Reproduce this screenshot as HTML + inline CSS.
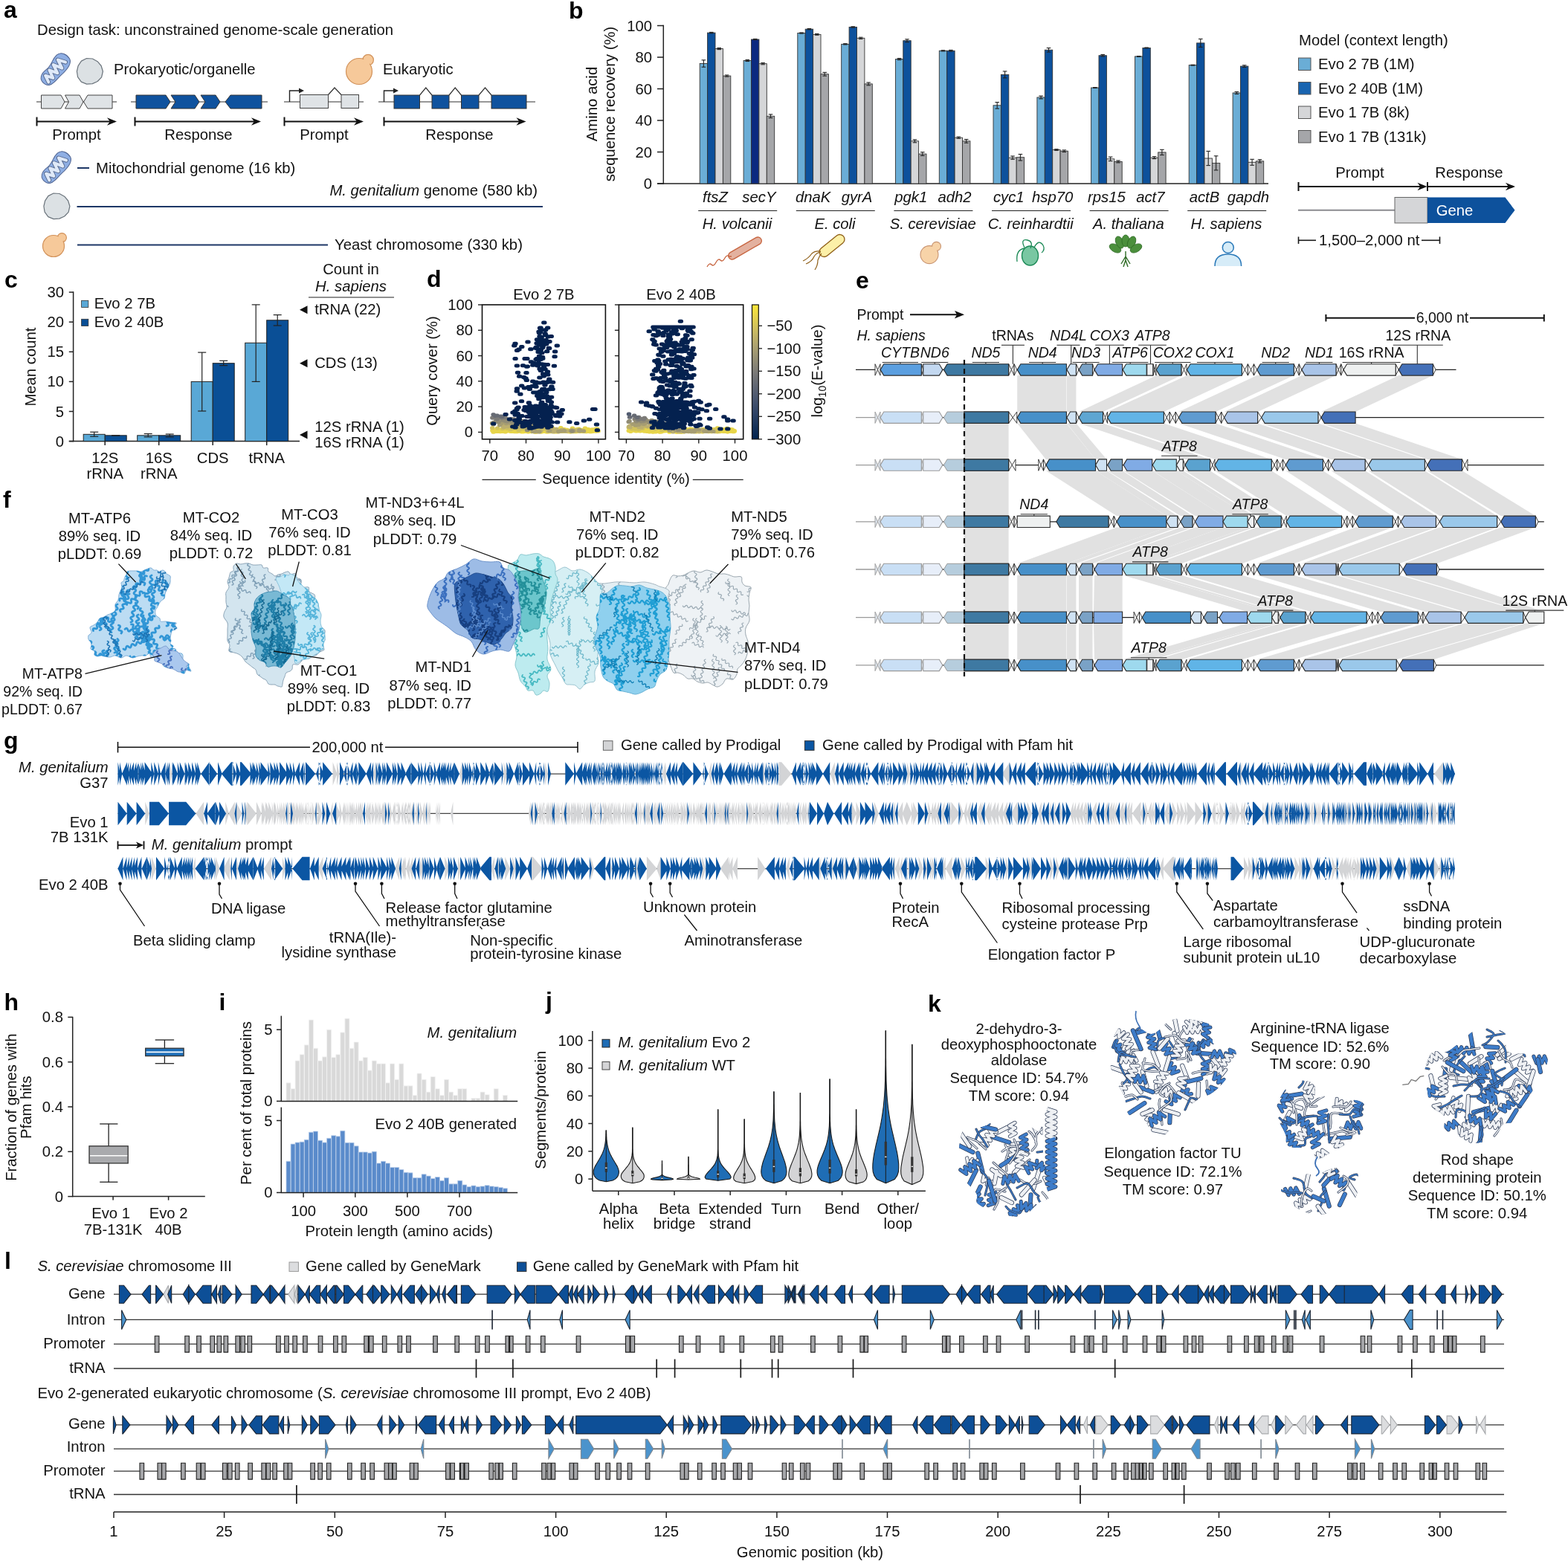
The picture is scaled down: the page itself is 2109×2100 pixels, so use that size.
<!DOCTYPE html>
<html><head><meta charset="utf-8"><title>Figure</title>
<style>html,body{margin:0;padding:0;background:#fff;overflow:hidden;}svg{display:block;}
</style></head>
<body><svg width="2109" height="2100" viewBox="0 0 2109 2100">
<rect width="2109" height="2100" fill="#fff"/>
<g font-family="'Liberation Sans', Arial, Helvetica, sans-serif" font-size="20.3" fill="#111">
<text x="5" y="24" font-size="32" font-weight="bold" fill="#000">a</text>
<text x="50" y="47">Design task: unconstrained genome-scale generation</text>
<g transform="translate(74 94) rotate(-48) scale(0.9)">
<path d="M-26,2 C-27,-9 -18,-12 -8,-10 C2,-8 8,-14 18,-13 C27,-12 29,-2 27,5 C24,13 10,13 0,12 C-10,11 -25,14 -26,2Z" fill="#8eaee3" stroke="#4f6390" stroke-width="1.1"/>
<path d="M-20,5 L-16,-5 L-11,6 L-6,-6 L-1,6 L4,-7 L9,6 L14,-7 L19,4" fill="none" stroke="#56698f" stroke-width="6.4" stroke-linejoin="round" stroke-linecap="round"/>
<path d="M-20,5 L-16,-5 L-11,6 L-6,-6 L-1,6 L4,-7 L9,6 L14,-7 L19,4" fill="none" stroke="#dfe9f8" stroke-width="4.4" stroke-linejoin="round" stroke-linecap="round"/>
</g>
<path d="M138.4,96 L136.6,103.8 L131.2,109.5 L124.3,112.6 L116.6,113.1 L109.3,110.1 L104.6,103.7 L103.4,96 L105.1,88.6 L109.4,82.1 L116.5,78.5 L124.4,79 L131.1,82.7 L136.1,88.5Z" fill="#dce1e4" stroke="#6b747c" stroke-width="1.2" stroke-linejoin="round"/>
<text x="153" y="100">Prokaryotic/organelle</text>
<circle cx="495.1" cy="80.7" r="7.3" fill="#f6c99a" stroke="#d2925a" stroke-width="1.2"/>
<circle cx="483" cy="96" r="17.5" fill="#f6c99a" stroke="#d2925a" stroke-width="1.2"/>
<circle cx="493.6" cy="82.2" r="5.2" fill="#f6c99a"/>
<text x="515" y="100">Eukaryotic</text>
<line x1="49" y1="137" x2="157" y2="137" stroke="#333" stroke-width="1.2"/>
<polygon points="55.5,128 82,128 87,137 82,146 55.5,146" fill="#dfe3e6" stroke="#444" stroke-width="1" stroke-linejoin="miter"/>
<polygon points="87.5,128 107,128 112,137 107,146 87.5,146 92.5,137" fill="#dfe3e6" stroke="#444" stroke-width="1" stroke-linejoin="miter"/>
<polygon points="151,128 118,128 112.5,137 118,146 151,146" fill="#dfe3e6" stroke="#444" stroke-width="1" stroke-linejoin="miter"/>
<line x1="176" y1="137" x2="360" y2="137" stroke="#333" stroke-width="1.2"/>
<polygon points="183,128 223,128 229,137 223,146 183,146" fill="#0f529e" stroke="#333" stroke-width="1" stroke-linejoin="miter"/>
<polygon points="230,128 262,128 268,137 262,146 230,146 236,137" fill="#0f529e" stroke="#333" stroke-width="1" stroke-linejoin="miter"/>
<polygon points="270,128 290,128 296,137 290,146 270,146 276,137" fill="#0f529e" stroke="#333" stroke-width="1" stroke-linejoin="miter"/>
<polygon points="352,128 310,128 303,137 310,146 352,146" fill="#0f529e" stroke="#333" stroke-width="1" stroke-linejoin="miter"/>
<line x1="49.5" y1="163.5" x2="149.2" y2="163.5" stroke="#111" stroke-width="2"/>
<polygon points="157,163.5 144,158.3 147.9,163.5 144,168.7" fill="#111"/>
<line x1="49.5" y1="157.5" x2="49.5" y2="169.5" stroke="#111" stroke-width="2"/>
<line x1="181.5" y1="163.5" x2="343.2" y2="163.5" stroke="#111" stroke-width="2"/>
<polygon points="351,163.5 338,158.3 341.9,163.5 338,168.7" fill="#111"/>
<line x1="181.5" y1="157.5" x2="181.5" y2="169.5" stroke="#111" stroke-width="2"/>
<text x="103" y="188" text-anchor="middle">Prompt</text>
<text x="267" y="188" text-anchor="middle">Response</text>
<line x1="382" y1="137" x2="489" y2="137" stroke="#333" stroke-width="1.2"/>
<path d="M389.5,137 V122 H403" fill="none" stroke="#222" stroke-width="1.4"/>
<polygon points="409,122 402,118.5 402,125.5" fill="#222"/>
<rect x="403.5" y="127.5" width="38" height="18" fill="#dfe3e6" stroke="#444" stroke-width="1"/>
<rect x="459" y="127.5" width="23.5" height="18" fill="#dfe3e6" stroke="#444" stroke-width="1"/>
<path d="M441.5,127.5 L450,118 L459,127.5" fill="none" stroke="#333" stroke-width="1.2"/>
<line x1="382.5" y1="163.5" x2="481.2" y2="163.5" stroke="#111" stroke-width="2"/>
<polygon points="489,163.5 476,158.3 479.9,163.5 476,168.7" fill="#111"/>
<line x1="382.5" y1="157.5" x2="382.5" y2="169.5" stroke="#111" stroke-width="2"/>
<text x="436" y="188" text-anchor="middle">Prompt</text>
<line x1="509" y1="137" x2="720" y2="137" stroke="#333" stroke-width="1.2"/>
<path d="M516.5,137 V122 H530" fill="none" stroke="#222" stroke-width="1.4"/>
<polygon points="536,122 529,118.5 529,125.5" fill="#222"/>
<rect x="530" y="128" width="34.5" height="18" fill="#0f529e" stroke="#333" stroke-width="1"/>
<rect x="581" y="128" width="23" height="18" fill="#0f529e" stroke="#333" stroke-width="1"/>
<rect x="620.5" y="128" width="23.5" height="18" fill="#0f529e" stroke="#333" stroke-width="1"/>
<rect x="661" y="128" width="47" height="18" fill="#0f529e" stroke="#333" stroke-width="1"/>
<path d="M564.5,128 L572.8,118 L581,128" fill="none" stroke="#333" stroke-width="1.2"/>
<path d="M604,128 L612.2,118 L620.5,128" fill="none" stroke="#333" stroke-width="1.2"/>
<path d="M644,128 L652.5,118 L661,128" fill="none" stroke="#333" stroke-width="1.2"/>
<line x1="516.5" y1="163.5" x2="699.7" y2="163.5" stroke="#111" stroke-width="2"/>
<polygon points="707.5,163.5 694.5,158.3 698.4,163.5 694.5,168.7" fill="#111"/>
<line x1="516.5" y1="157.5" x2="516.5" y2="169.5" stroke="#111" stroke-width="2"/>
<text x="618" y="188" text-anchor="middle">Response</text>
<g transform="translate(75 226) rotate(-48) scale(0.9)">
<path d="M-26,2 C-27,-9 -18,-12 -8,-10 C2,-8 8,-14 18,-13 C27,-12 29,-2 27,5 C24,13 10,13 0,12 C-10,11 -25,14 -26,2Z" fill="#8eaee3" stroke="#4f6390" stroke-width="1.1"/>
<path d="M-20,5 L-16,-5 L-11,6 L-6,-6 L-1,6 L4,-7 L9,6 L14,-7 L19,4" fill="none" stroke="#56698f" stroke-width="6.4" stroke-linejoin="round" stroke-linecap="round"/>
<path d="M-20,5 L-16,-5 L-11,6 L-6,-6 L-1,6 L4,-7 L9,6 L14,-7 L19,4" fill="none" stroke="#dfe9f8" stroke-width="4.4" stroke-linejoin="round" stroke-linecap="round"/>
</g>
<line x1="104" y1="226" x2="120" y2="226" stroke="#1d3766" stroke-width="2"/>
<text x="129" y="233">Mitochondrial genome (16 kb)</text>
<path d="M93.9,277.5 L92.1,285.3 L86.7,291 L79.8,294.1 L72.1,294.6 L64.8,291.6 L60.1,285.2 L58.9,277.5 L60.6,270.1 L64.9,263.6 L72,260 L79.9,260.5 L86.6,264.2 L91.6,270Z" fill="#dce1e4" stroke="#6b747c" stroke-width="1.2" stroke-linejoin="round"/>
<line x1="103.5" y1="278" x2="730" y2="278" stroke="#1d3766" stroke-width="2"/>
<text x="723" y="263" text-anchor="end"><tspan font-style="italic">M. genitalium</tspan> genome (580 kb)</text>
<circle cx="83.3" cy="319.7" r="6.1" fill="#f6c99a" stroke="#d2925a" stroke-width="1.2"/>
<circle cx="72" cy="331" r="14.5" fill="#f6c99a" stroke="#d2925a" stroke-width="1.2"/>
<circle cx="81.8" cy="321.2" r="4.3" fill="#f6c99a"/>
<line x1="104" y1="329.5" x2="441" y2="329.5" stroke="#1d3766" stroke-width="2"/>
<text x="450" y="336">Yeast chromosome (330 kb)</text>
<text x="765" y="25" font-size="32" font-weight="bold" fill="#000">b</text>
<line x1="892.3" y1="33.7" x2="892.3" y2="247.7" stroke="#222" stroke-width="1.5"/>
<line x1="884" y1="247" x2="1706" y2="247" stroke="#222" stroke-width="1.5"/>
<line x1="884" y1="247" x2="892.3" y2="247" stroke="#222" stroke-width="1.5"/>
<text x="877" y="254" text-anchor="end">0</text>
<line x1="884" y1="204.5" x2="892.3" y2="204.5" stroke="#222" stroke-width="1.5"/>
<text x="877" y="211.5" text-anchor="end">20</text>
<line x1="884" y1="162" x2="892.3" y2="162" stroke="#222" stroke-width="1.5"/>
<text x="877" y="169" text-anchor="end">40</text>
<line x1="884" y1="119.5" x2="892.3" y2="119.5" stroke="#222" stroke-width="1.5"/>
<text x="877" y="126.5" text-anchor="end">60</text>
<line x1="884" y1="77" x2="892.3" y2="77" stroke="#222" stroke-width="1.5"/>
<text x="877" y="84" text-anchor="end">80</text>
<line x1="884" y1="34.5" x2="892.3" y2="34.5" stroke="#222" stroke-width="1.5"/>
<text x="877" y="41.5" text-anchor="end">100</text>
<text x="803" y="140" text-anchor="middle" transform="rotate(-90 803 140)">Amino acid</text>
<text x="826.5" y="140" text-anchor="middle" transform="rotate(-90 826.5 140)">sequence recovery (%)</text>
<rect x="941.2" y="85.5" width="10.4" height="161.5" fill="#6aadd6" stroke="#333" stroke-width="0.9"/>
<line x1="946.4" y1="80.8" x2="946.4" y2="90.2" stroke="#222" stroke-width="1.1"/>
<line x1="943.6" y1="80.8" x2="949.2" y2="80.8" stroke="#222" stroke-width="1.1"/>
<line x1="943.6" y1="90.2" x2="949.2" y2="90.2" stroke="#222" stroke-width="1.1"/>
<rect x="951.6" y="44.1" width="10.4" height="202.9" fill="#0d519c" stroke="#333" stroke-width="0.9"/>
<line x1="956.8" y1="43.4" x2="956.8" y2="44.7" stroke="#222" stroke-width="1.1"/>
<line x1="954" y1="43.4" x2="959.6" y2="43.4" stroke="#222" stroke-width="1.1"/>
<line x1="954" y1="44.7" x2="959.6" y2="44.7" stroke="#222" stroke-width="1.1"/>
<rect x="962" y="65.5" width="10.4" height="181.5" fill="#d5d6d8" stroke="#333" stroke-width="0.9"/>
<line x1="967.2" y1="64.5" x2="967.2" y2="66.6" stroke="#222" stroke-width="1.1"/>
<line x1="964.4" y1="64.5" x2="970" y2="64.5" stroke="#222" stroke-width="1.1"/>
<line x1="964.4" y1="66.6" x2="970" y2="66.6" stroke="#222" stroke-width="1.1"/>
<rect x="972.4" y="102.1" width="10.4" height="144.9" fill="#a5a6a9" stroke="#333" stroke-width="0.9"/>
<line x1="977.6" y1="101" x2="977.6" y2="103.1" stroke="#222" stroke-width="1.1"/>
<line x1="974.8" y1="101" x2="980.4" y2="101" stroke="#222" stroke-width="1.1"/>
<line x1="974.8" y1="103.1" x2="980.4" y2="103.1" stroke="#222" stroke-width="1.1"/>
<text x="962" y="271.5" text-anchor="middle" font-style="italic">ftsZ</text>
<rect x="1000.1" y="81.5" width="10.4" height="165.5" fill="#6aadd6" stroke="#333" stroke-width="0.9"/>
<line x1="1005.3" y1="80.4" x2="1005.3" y2="82.5" stroke="#222" stroke-width="1.1"/>
<line x1="1002.5" y1="80.4" x2="1008.1" y2="80.4" stroke="#222" stroke-width="1.1"/>
<line x1="1002.5" y1="82.5" x2="1008.1" y2="82.5" stroke="#222" stroke-width="1.1"/>
<rect x="1010.5" y="53" width="10.4" height="194" fill="#0c2a80" stroke="#333" stroke-width="0.9"/>
<line x1="1015.7" y1="52.4" x2="1015.7" y2="53.6" stroke="#222" stroke-width="1.1"/>
<line x1="1012.9" y1="52.4" x2="1018.5" y2="52.4" stroke="#222" stroke-width="1.1"/>
<line x1="1012.9" y1="53.6" x2="1018.5" y2="53.6" stroke="#222" stroke-width="1.1"/>
<rect x="1020.9" y="85.7" width="10.4" height="161.3" fill="#d5d6d8" stroke="#333" stroke-width="0.9"/>
<line x1="1026.1" y1="84.6" x2="1026.1" y2="86.8" stroke="#222" stroke-width="1.1"/>
<line x1="1023.3" y1="84.6" x2="1028.9" y2="84.6" stroke="#222" stroke-width="1.1"/>
<line x1="1023.3" y1="86.8" x2="1028.9" y2="86.8" stroke="#222" stroke-width="1.1"/>
<rect x="1031.3" y="156.3" width="10.4" height="90.7" fill="#a5a6a9" stroke="#333" stroke-width="0.9"/>
<line x1="1036.5" y1="153.9" x2="1036.5" y2="158.6" stroke="#222" stroke-width="1.1"/>
<line x1="1033.7" y1="153.9" x2="1039.3" y2="153.9" stroke="#222" stroke-width="1.1"/>
<line x1="1033.7" y1="158.6" x2="1039.3" y2="158.6" stroke="#222" stroke-width="1.1"/>
<text x="1020.9" y="271.5" text-anchor="middle" font-style="italic">secY</text>
<rect x="1072.8" y="44.5" width="10.4" height="202.5" fill="#6aadd6" stroke="#333" stroke-width="0.9"/>
<line x1="1078" y1="43.9" x2="1078" y2="45.1" stroke="#222" stroke-width="1.1"/>
<line x1="1075.2" y1="43.9" x2="1080.8" y2="43.9" stroke="#222" stroke-width="1.1"/>
<line x1="1075.2" y1="45.1" x2="1080.8" y2="45.1" stroke="#222" stroke-width="1.1"/>
<rect x="1083.2" y="39.2" width="10.4" height="207.8" fill="#0d519c" stroke="#333" stroke-width="0.9"/>
<line x1="1088.4" y1="38.5" x2="1088.4" y2="39.8" stroke="#222" stroke-width="1.1"/>
<line x1="1085.6" y1="38.5" x2="1091.2" y2="38.5" stroke="#222" stroke-width="1.1"/>
<line x1="1085.6" y1="39.8" x2="1091.2" y2="39.8" stroke="#222" stroke-width="1.1"/>
<rect x="1093.6" y="46.4" width="10.4" height="200.6" fill="#d5d6d8" stroke="#333" stroke-width="0.9"/>
<line x1="1098.8" y1="45.5" x2="1098.8" y2="47.2" stroke="#222" stroke-width="1.1"/>
<line x1="1096" y1="45.5" x2="1101.6" y2="45.5" stroke="#222" stroke-width="1.1"/>
<line x1="1096" y1="47.2" x2="1101.6" y2="47.2" stroke="#222" stroke-width="1.1"/>
<rect x="1104" y="99.7" width="10.4" height="147.3" fill="#a5a6a9" stroke="#333" stroke-width="0.9"/>
<line x1="1109.2" y1="97.4" x2="1109.2" y2="102.1" stroke="#222" stroke-width="1.1"/>
<line x1="1106.4" y1="97.4" x2="1112" y2="97.4" stroke="#222" stroke-width="1.1"/>
<line x1="1106.4" y1="102.1" x2="1112" y2="102.1" stroke="#222" stroke-width="1.1"/>
<text x="1093.6" y="271.5" text-anchor="middle" font-style="italic">dnaK</text>
<rect x="1131.7" y="59.4" width="10.4" height="187.6" fill="#6aadd6" stroke="#333" stroke-width="0.9"/>
<line x1="1136.9" y1="58.7" x2="1136.9" y2="60" stroke="#222" stroke-width="1.1"/>
<line x1="1134.1" y1="58.7" x2="1139.7" y2="58.7" stroke="#222" stroke-width="1.1"/>
<line x1="1134.1" y1="60" x2="1139.7" y2="60" stroke="#222" stroke-width="1.1"/>
<rect x="1142.1" y="36.4" width="10.4" height="210.6" fill="#0d519c" stroke="#333" stroke-width="0.9"/>
<line x1="1147.3" y1="35.8" x2="1147.3" y2="37.1" stroke="#222" stroke-width="1.1"/>
<line x1="1144.5" y1="35.8" x2="1150.1" y2="35.8" stroke="#222" stroke-width="1.1"/>
<line x1="1144.5" y1="37.1" x2="1150.1" y2="37.1" stroke="#222" stroke-width="1.1"/>
<rect x="1152.5" y="51.3" width="10.4" height="195.7" fill="#d5d6d8" stroke="#333" stroke-width="0.9"/>
<line x1="1157.7" y1="50.2" x2="1157.7" y2="52.4" stroke="#222" stroke-width="1.1"/>
<line x1="1154.9" y1="50.2" x2="1160.5" y2="50.2" stroke="#222" stroke-width="1.1"/>
<line x1="1154.9" y1="52.4" x2="1160.5" y2="52.4" stroke="#222" stroke-width="1.1"/>
<rect x="1162.9" y="112.9" width="10.4" height="134.1" fill="#a5a6a9" stroke="#333" stroke-width="0.9"/>
<line x1="1168.1" y1="111" x2="1168.1" y2="114.8" stroke="#222" stroke-width="1.1"/>
<line x1="1165.3" y1="111" x2="1170.9" y2="111" stroke="#222" stroke-width="1.1"/>
<line x1="1165.3" y1="114.8" x2="1170.9" y2="114.8" stroke="#222" stroke-width="1.1"/>
<text x="1152.5" y="271.5" text-anchor="middle" font-style="italic">gyrA</text>
<rect x="1204.4" y="79.6" width="10.4" height="167.4" fill="#6aadd6" stroke="#333" stroke-width="0.9"/>
<line x1="1209.6" y1="78.5" x2="1209.6" y2="80.6" stroke="#222" stroke-width="1.1"/>
<line x1="1206.8" y1="78.5" x2="1212.4" y2="78.5" stroke="#222" stroke-width="1.1"/>
<line x1="1206.8" y1="80.6" x2="1212.4" y2="80.6" stroke="#222" stroke-width="1.1"/>
<rect x="1214.8" y="54.7" width="10.4" height="192.3" fill="#0d519c" stroke="#333" stroke-width="0.9"/>
<line x1="1220" y1="52.8" x2="1220" y2="56.6" stroke="#222" stroke-width="1.1"/>
<line x1="1217.2" y1="52.8" x2="1222.8" y2="52.8" stroke="#222" stroke-width="1.1"/>
<line x1="1217.2" y1="56.6" x2="1222.8" y2="56.6" stroke="#222" stroke-width="1.1"/>
<rect x="1225.2" y="189.8" width="10.4" height="57.2" fill="#d5d6d8" stroke="#333" stroke-width="0.9"/>
<line x1="1230.4" y1="187.9" x2="1230.4" y2="191.8" stroke="#222" stroke-width="1.1"/>
<line x1="1227.6" y1="187.9" x2="1233.2" y2="187.9" stroke="#222" stroke-width="1.1"/>
<line x1="1227.6" y1="191.8" x2="1233.2" y2="191.8" stroke="#222" stroke-width="1.1"/>
<rect x="1235.6" y="207.1" width="10.4" height="40" fill="#a5a6a9" stroke="#333" stroke-width="0.9"/>
<line x1="1240.8" y1="204.7" x2="1240.8" y2="209.4" stroke="#222" stroke-width="1.1"/>
<line x1="1238" y1="204.7" x2="1243.6" y2="204.7" stroke="#222" stroke-width="1.1"/>
<line x1="1238" y1="209.4" x2="1243.6" y2="209.4" stroke="#222" stroke-width="1.1"/>
<text x="1225.2" y="271.5" text-anchor="middle" font-style="italic">pgk1</text>
<rect x="1263.3" y="68.3" width="10.4" height="178.7" fill="#6aadd6" stroke="#333" stroke-width="0.9"/>
<line x1="1268.5" y1="67.7" x2="1268.5" y2="68.9" stroke="#222" stroke-width="1.1"/>
<line x1="1265.7" y1="67.7" x2="1271.3" y2="67.7" stroke="#222" stroke-width="1.1"/>
<line x1="1265.7" y1="68.9" x2="1271.3" y2="68.9" stroke="#222" stroke-width="1.1"/>
<rect x="1273.7" y="68.3" width="10.4" height="178.7" fill="#0d519c" stroke="#333" stroke-width="0.9"/>
<line x1="1278.9" y1="67.4" x2="1278.9" y2="69.1" stroke="#222" stroke-width="1.1"/>
<line x1="1276.1" y1="67.4" x2="1281.7" y2="67.4" stroke="#222" stroke-width="1.1"/>
<line x1="1276.1" y1="69.1" x2="1281.7" y2="69.1" stroke="#222" stroke-width="1.1"/>
<rect x="1284.1" y="185.2" width="10.4" height="61.8" fill="#d5d6d8" stroke="#333" stroke-width="0.9"/>
<line x1="1289.3" y1="184.1" x2="1289.3" y2="186.2" stroke="#222" stroke-width="1.1"/>
<line x1="1286.5" y1="184.1" x2="1292.1" y2="184.1" stroke="#222" stroke-width="1.1"/>
<line x1="1286.5" y1="186.2" x2="1292.1" y2="186.2" stroke="#222" stroke-width="1.1"/>
<rect x="1294.5" y="189.8" width="10.4" height="57.2" fill="#a5a6a9" stroke="#333" stroke-width="0.9"/>
<line x1="1299.7" y1="187.5" x2="1299.7" y2="192.2" stroke="#222" stroke-width="1.1"/>
<line x1="1296.9" y1="187.5" x2="1302.5" y2="187.5" stroke="#222" stroke-width="1.1"/>
<line x1="1296.9" y1="192.2" x2="1302.5" y2="192.2" stroke="#222" stroke-width="1.1"/>
<text x="1284.1" y="271.5" text-anchor="middle" font-style="italic">adh2</text>
<rect x="1336" y="141.8" width="10.4" height="105.2" fill="#6aadd6" stroke="#333" stroke-width="0.9"/>
<line x1="1341.2" y1="137.6" x2="1341.2" y2="146.1" stroke="#222" stroke-width="1.1"/>
<line x1="1338.4" y1="137.6" x2="1344" y2="137.6" stroke="#222" stroke-width="1.1"/>
<line x1="1338.4" y1="146.1" x2="1344" y2="146.1" stroke="#222" stroke-width="1.1"/>
<rect x="1346.4" y="100.4" width="10.4" height="146.6" fill="#0d519c" stroke="#333" stroke-width="0.9"/>
<line x1="1351.6" y1="95.9" x2="1351.6" y2="104.8" stroke="#222" stroke-width="1.1"/>
<line x1="1348.8" y1="95.9" x2="1354.4" y2="95.9" stroke="#222" stroke-width="1.1"/>
<line x1="1348.8" y1="104.8" x2="1354.4" y2="104.8" stroke="#222" stroke-width="1.1"/>
<rect x="1356.8" y="212.2" width="10.4" height="34.8" fill="#d5d6d8" stroke="#333" stroke-width="0.9"/>
<line x1="1362" y1="210" x2="1362" y2="214.3" stroke="#222" stroke-width="1.1"/>
<line x1="1359.2" y1="210" x2="1364.8" y2="210" stroke="#222" stroke-width="1.1"/>
<line x1="1359.2" y1="214.3" x2="1364.8" y2="214.3" stroke="#222" stroke-width="1.1"/>
<rect x="1367.2" y="211.7" width="10.4" height="35.3" fill="#a5a6a9" stroke="#333" stroke-width="0.9"/>
<line x1="1372.4" y1="207.5" x2="1372.4" y2="216" stroke="#222" stroke-width="1.1"/>
<line x1="1369.6" y1="207.5" x2="1375.2" y2="207.5" stroke="#222" stroke-width="1.1"/>
<line x1="1369.6" y1="216" x2="1375.2" y2="216" stroke="#222" stroke-width="1.1"/>
<text x="1356.8" y="271.5" text-anchor="middle" font-style="italic">cyc1</text>
<rect x="1394.9" y="131" width="10.4" height="116" fill="#6aadd6" stroke="#333" stroke-width="0.9"/>
<line x1="1400.1" y1="129.1" x2="1400.1" y2="132.9" stroke="#222" stroke-width="1.1"/>
<line x1="1397.3" y1="129.1" x2="1402.9" y2="129.1" stroke="#222" stroke-width="1.1"/>
<line x1="1397.3" y1="132.9" x2="1402.9" y2="132.9" stroke="#222" stroke-width="1.1"/>
<rect x="1405.3" y="67.2" width="10.4" height="179.8" fill="#0d519c" stroke="#333" stroke-width="0.9"/>
<line x1="1410.5" y1="64.5" x2="1410.5" y2="70" stroke="#222" stroke-width="1.1"/>
<line x1="1407.7" y1="64.5" x2="1413.3" y2="64.5" stroke="#222" stroke-width="1.1"/>
<line x1="1407.7" y1="70" x2="1413.3" y2="70" stroke="#222" stroke-width="1.1"/>
<rect x="1415.7" y="201.5" width="10.4" height="45.5" fill="#d5d6d8" stroke="#333" stroke-width="0.9"/>
<line x1="1420.9" y1="200.7" x2="1420.9" y2="202.4" stroke="#222" stroke-width="1.1"/>
<line x1="1418.1" y1="200.7" x2="1423.7" y2="200.7" stroke="#222" stroke-width="1.1"/>
<line x1="1418.1" y1="202.4" x2="1423.7" y2="202.4" stroke="#222" stroke-width="1.1"/>
<rect x="1426.1" y="203.2" width="10.4" height="43.8" fill="#a5a6a9" stroke="#333" stroke-width="0.9"/>
<line x1="1431.3" y1="201.9" x2="1431.3" y2="204.5" stroke="#222" stroke-width="1.1"/>
<line x1="1428.5" y1="201.9" x2="1434.1" y2="201.9" stroke="#222" stroke-width="1.1"/>
<line x1="1428.5" y1="204.5" x2="1434.1" y2="204.5" stroke="#222" stroke-width="1.1"/>
<text x="1415.7" y="271.5" text-anchor="middle" font-style="italic">hsp70</text>
<rect x="1467.6" y="118" width="10.4" height="129" fill="#6aadd6" stroke="#333" stroke-width="0.9"/>
<line x1="1472.8" y1="117.6" x2="1472.8" y2="118.4" stroke="#222" stroke-width="1.1"/>
<line x1="1470" y1="117.6" x2="1475.6" y2="117.6" stroke="#222" stroke-width="1.1"/>
<line x1="1470" y1="118.4" x2="1475.6" y2="118.4" stroke="#222" stroke-width="1.1"/>
<rect x="1478" y="74.7" width="10.4" height="172.3" fill="#0d519c" stroke="#333" stroke-width="0.9"/>
<line x1="1483.2" y1="73.4" x2="1483.2" y2="75.9" stroke="#222" stroke-width="1.1"/>
<line x1="1480.4" y1="73.4" x2="1486" y2="73.4" stroke="#222" stroke-width="1.1"/>
<line x1="1480.4" y1="75.9" x2="1486" y2="75.9" stroke="#222" stroke-width="1.1"/>
<rect x="1488.4" y="213.8" width="10.4" height="33.1" fill="#d5d6d8" stroke="#333" stroke-width="0.9"/>
<line x1="1493.6" y1="211.1" x2="1493.6" y2="216.6" stroke="#222" stroke-width="1.1"/>
<line x1="1490.8" y1="211.1" x2="1496.4" y2="211.1" stroke="#222" stroke-width="1.1"/>
<line x1="1490.8" y1="216.6" x2="1496.4" y2="216.6" stroke="#222" stroke-width="1.1"/>
<rect x="1498.8" y="217.5" width="10.4" height="29.5" fill="#a5a6a9" stroke="#333" stroke-width="0.9"/>
<line x1="1504" y1="216" x2="1504" y2="218.9" stroke="#222" stroke-width="1.1"/>
<line x1="1501.2" y1="216" x2="1506.8" y2="216" stroke="#222" stroke-width="1.1"/>
<line x1="1501.2" y1="218.9" x2="1506.8" y2="218.9" stroke="#222" stroke-width="1.1"/>
<text x="1488.4" y="271.5" text-anchor="middle" font-style="italic">rps15</text>
<rect x="1526.5" y="75.9" width="10.4" height="171.1" fill="#6aadd6" stroke="#333" stroke-width="0.9"/>
<line x1="1531.7" y1="75.5" x2="1531.7" y2="76.4" stroke="#222" stroke-width="1.1"/>
<line x1="1528.9" y1="75.5" x2="1534.5" y2="75.5" stroke="#222" stroke-width="1.1"/>
<line x1="1528.9" y1="76.4" x2="1534.5" y2="76.4" stroke="#222" stroke-width="1.1"/>
<rect x="1536.9" y="64.5" width="10.4" height="182.5" fill="#0d519c" stroke="#333" stroke-width="0.9"/>
<line x1="1542.1" y1="64" x2="1542.1" y2="64.9" stroke="#222" stroke-width="1.1"/>
<line x1="1539.3" y1="64" x2="1544.9" y2="64" stroke="#222" stroke-width="1.1"/>
<line x1="1539.3" y1="64.9" x2="1544.9" y2="64.9" stroke="#222" stroke-width="1.1"/>
<rect x="1547.3" y="212.2" width="10.4" height="34.8" fill="#d5d6d8" stroke="#333" stroke-width="0.9"/>
<line x1="1552.5" y1="210.7" x2="1552.5" y2="213.6" stroke="#222" stroke-width="1.1"/>
<line x1="1549.7" y1="210.7" x2="1555.3" y2="210.7" stroke="#222" stroke-width="1.1"/>
<line x1="1549.7" y1="213.6" x2="1555.3" y2="213.6" stroke="#222" stroke-width="1.1"/>
<rect x="1557.7" y="204.9" width="10.4" height="42.1" fill="#a5a6a9" stroke="#333" stroke-width="0.9"/>
<line x1="1562.9" y1="201.3" x2="1562.9" y2="208.5" stroke="#222" stroke-width="1.1"/>
<line x1="1560.1" y1="201.3" x2="1565.7" y2="201.3" stroke="#222" stroke-width="1.1"/>
<line x1="1560.1" y1="208.5" x2="1565.7" y2="208.5" stroke="#222" stroke-width="1.1"/>
<text x="1547.3" y="271.5" text-anchor="middle" font-style="italic">act7</text>
<rect x="1599.2" y="87.6" width="10.4" height="159.4" fill="#6aadd6" stroke="#333" stroke-width="0.9"/>
<line x1="1604.4" y1="87.2" x2="1604.4" y2="88.1" stroke="#222" stroke-width="1.1"/>
<line x1="1601.6" y1="87.2" x2="1607.2" y2="87.2" stroke="#222" stroke-width="1.1"/>
<line x1="1601.6" y1="88.1" x2="1607.2" y2="88.1" stroke="#222" stroke-width="1.1"/>
<rect x="1609.6" y="57.9" width="10.4" height="189.1" fill="#0d519c" stroke="#333" stroke-width="0.9"/>
<line x1="1614.8" y1="52.4" x2="1614.8" y2="63.4" stroke="#222" stroke-width="1.1"/>
<line x1="1612" y1="52.4" x2="1617.6" y2="52.4" stroke="#222" stroke-width="1.1"/>
<line x1="1612" y1="63.4" x2="1617.6" y2="63.4" stroke="#222" stroke-width="1.1"/>
<rect x="1620" y="213" width="10.4" height="34" fill="#d5d6d8" stroke="#333" stroke-width="0.9"/>
<line x1="1625.2" y1="203.4" x2="1625.2" y2="222.6" stroke="#222" stroke-width="1.1"/>
<line x1="1622.4" y1="203.4" x2="1628" y2="203.4" stroke="#222" stroke-width="1.1"/>
<line x1="1622.4" y1="222.6" x2="1628" y2="222.6" stroke="#222" stroke-width="1.1"/>
<rect x="1630.4" y="219.4" width="10.4" height="27.6" fill="#a5a6a9" stroke="#333" stroke-width="0.9"/>
<line x1="1635.6" y1="209.8" x2="1635.6" y2="228.9" stroke="#222" stroke-width="1.1"/>
<line x1="1632.8" y1="209.8" x2="1638.4" y2="209.8" stroke="#222" stroke-width="1.1"/>
<line x1="1632.8" y1="228.9" x2="1638.4" y2="228.9" stroke="#222" stroke-width="1.1"/>
<text x="1620" y="271.5" text-anchor="middle" font-style="italic">actB</text>
<rect x="1658.1" y="125" width="10.4" height="122" fill="#6aadd6" stroke="#333" stroke-width="0.9"/>
<line x1="1663.3" y1="123.5" x2="1663.3" y2="126.5" stroke="#222" stroke-width="1.1"/>
<line x1="1660.5" y1="123.5" x2="1666.1" y2="123.5" stroke="#222" stroke-width="1.1"/>
<line x1="1660.5" y1="126.5" x2="1666.1" y2="126.5" stroke="#222" stroke-width="1.1"/>
<rect x="1668.5" y="89.1" width="10.4" height="157.9" fill="#0d519c" stroke="#333" stroke-width="0.9"/>
<line x1="1673.7" y1="87.8" x2="1673.7" y2="90.4" stroke="#222" stroke-width="1.1"/>
<line x1="1670.9" y1="87.8" x2="1676.5" y2="87.8" stroke="#222" stroke-width="1.1"/>
<line x1="1670.9" y1="90.4" x2="1676.5" y2="90.4" stroke="#222" stroke-width="1.1"/>
<rect x="1678.9" y="218.3" width="10.4" height="28.7" fill="#d5d6d8" stroke="#333" stroke-width="0.9"/>
<line x1="1684.1" y1="214.3" x2="1684.1" y2="222.3" stroke="#222" stroke-width="1.1"/>
<line x1="1681.3" y1="214.3" x2="1686.9" y2="214.3" stroke="#222" stroke-width="1.1"/>
<line x1="1681.3" y1="222.3" x2="1686.9" y2="222.3" stroke="#222" stroke-width="1.1"/>
<rect x="1689.3" y="216.8" width="10.4" height="30.2" fill="#a5a6a9" stroke="#333" stroke-width="0.9"/>
<line x1="1694.5" y1="214.7" x2="1694.5" y2="218.9" stroke="#222" stroke-width="1.1"/>
<line x1="1691.7" y1="214.7" x2="1697.3" y2="214.7" stroke="#222" stroke-width="1.1"/>
<line x1="1691.7" y1="218.9" x2="1697.3" y2="218.9" stroke="#222" stroke-width="1.1"/>
<text x="1678.9" y="271.5" text-anchor="middle" font-style="italic">gapdh</text>
<line x1="939.2" y1="283.5" x2="1045.2" y2="283.5" stroke="#222" stroke-width="1.2"/>
<text x="991.5" y="307.8" text-anchor="middle" font-style="italic">H. volcanii</text>
<line x1="1070.8" y1="283.5" x2="1176.8" y2="283.5" stroke="#222" stroke-width="1.2"/>
<text x="1123" y="307.8" text-anchor="middle" font-style="italic">E. coli</text>
<line x1="1202.4" y1="283.5" x2="1308.4" y2="283.5" stroke="#222" stroke-width="1.2"/>
<text x="1254.7" y="307.8" text-anchor="middle" font-style="italic">S. cerevisiae</text>
<line x1="1334" y1="283.5" x2="1440" y2="283.5" stroke="#222" stroke-width="1.2"/>
<text x="1386.2" y="307.8" text-anchor="middle" font-style="italic">C. reinhardtii</text>
<line x1="1465.6" y1="283.5" x2="1571.6" y2="283.5" stroke="#222" stroke-width="1.2"/>
<text x="1517.8" y="307.8" text-anchor="middle" font-style="italic">A. thaliana</text>
<line x1="1597.2" y1="283.5" x2="1703.2" y2="283.5" stroke="#222" stroke-width="1.2"/>
<text x="1649.5" y="307.8" text-anchor="middle" font-style="italic">H. sapiens</text>
<g transform="translate(1002 334) rotate(-30)">
<rect x="-25" y="-5" width="50" height="10" rx="5" fill="#e3b19f" stroke="#c7643f" stroke-width="1.3"/>
</g>
<path d="M951,359 q3,-6 6,-3 q3,3 6,-3 q3,-6 6,-3 q3,3 6,-3 q3,-5 6,-2 l3,0" fill="none" stroke="#c7643f" stroke-width="1.3"/>
<g transform="translate(1119 330.5) rotate(-39)">
<rect x="-20" y="-6.5" width="40" height="13" rx="6.5" fill="#fcf0a8" stroke="#8f5f18" stroke-width="1.3"/>
</g>
<path d="M1104,338 q-8,-1 -12,3 q-5,7 -12,10 M1104,339 q-6,1 -9,6 q-3,7 -11,10 M1105,341 q-3,3 -5,9 q0,7 -4,13" fill="none" stroke="#8f5f18" stroke-width="1.2"/>
<circle cx="1259.5" cy="331.4" r="6" fill="#f7d3a8" stroke="#c99572" stroke-width="1.1"/>
<circle cx="1250" cy="342.6" r="12" fill="#f7d3a8" stroke="#c99572" stroke-width="1.1"/>
<circle cx="1257" cy="334.5" r="4.2" fill="#f7d3a8"/>
<ellipse cx="1385.5" cy="344" rx="11" ry="13" fill="#79c7a2" stroke="#1d8a57" stroke-width="1.4"/>
<path d="M1378,333 q-6,-12 4,-10 q8,2 4,11 M1391,333 q6,-12 12,-3 q3,6 -2,10 M1378,334 q-12,2 -10,18" fill="none" stroke="#1d8a57" stroke-width="1.3"/>
<ellipse cx="1500" cy="334" rx="8.5" ry="5" fill="#4b8f3c" stroke="#2e6b25" stroke-width="0.8" transform="rotate(-150 1500 334)"/>
<ellipse cx="1506" cy="326" rx="8.5" ry="5" fill="#4b8f3c" stroke="#2e6b25" stroke-width="0.8" transform="rotate(-115 1506 326)"/>
<ellipse cx="1514" cy="324" rx="8" ry="5" fill="#4b8f3c" stroke="#2e6b25" stroke-width="0.8" transform="rotate(-90 1514 324)"/>
<ellipse cx="1522" cy="326" rx="8.5" ry="5" fill="#4b8f3c" stroke="#2e6b25" stroke-width="0.8" transform="rotate(-65 1522 326)"/>
<ellipse cx="1528" cy="334" rx="8.5" ry="5" fill="#4b8f3c" stroke="#2e6b25" stroke-width="0.8" transform="rotate(-30 1528 334)"/>
<path d="M1514,338 v14 M1514,345 l-6,10 M1514,345 l6,10 M1514,350 l-3,9 M1514,350 l3,9" fill="none" stroke="#2e6b25" stroke-width="1.4"/>
<circle cx="1651.8" cy="333" r="7.5" fill="#d6ecf8" stroke="#2c7ab9" stroke-width="1.5"/>
<path d="M1634,358 q0,-16 17.8,-16 q17.8,0 17.8,16" fill="#d6ecf8" stroke="#2c7ab9" stroke-width="1.5"/>
<text x="1747" y="61">Model (context length)</text>
<rect x="1746.5" y="78" width="16.5" height="16.5" fill="#6aadd6" stroke="#555" stroke-width="1"/>
<text x="1773" y="93">Evo 2 7B (1M)</text>
<rect x="1746.5" y="110.5" width="16.5" height="16.5" fill="#1964b0" stroke="#555" stroke-width="1"/>
<text x="1773" y="125.5">Evo 2 40B (1M)</text>
<rect x="1746.5" y="143" width="16.5" height="16.5" fill="#d5d6d8" stroke="#555" stroke-width="1"/>
<text x="1773" y="158">Evo 1 7B (8k)</text>
<rect x="1746.5" y="175.5" width="16.5" height="16.5" fill="#a5a6a9" stroke="#555" stroke-width="1"/>
<text x="1773" y="190.5">Evo 1 7B (131k)</text>
<text x="1829" y="239" text-anchor="middle">Prompt</text>
<text x="1976" y="239" text-anchor="middle">Response</text>
<line x1="1746.5" y1="251" x2="1911.7" y2="251" stroke="#111" stroke-width="2"/>
<polygon points="1919.5,251 1906.5,245.8 1910.4,251 1906.5,256.2" fill="#111"/>
<line x1="1746.5" y1="245" x2="1746.5" y2="257" stroke="#111" stroke-width="2"/>
<line x1="1920" y1="251" x2="2030.2" y2="251" stroke="#111" stroke-width="2"/>
<polygon points="2038,251 2025,245.8 2028.9,251 2025,256.2" fill="#111"/>
<line x1="1920" y1="245" x2="1920" y2="257" stroke="#111" stroke-width="2"/>
<line x1="1746" y1="282.7" x2="1876" y2="282.7" stroke="#8a8a8f" stroke-width="2"/>
<rect x="1876" y="265.5" width="44" height="34.5" fill="#d5d6d8" stroke="#666" stroke-width="1"/>
<polygon points="1920,265.5 2024.5,265.5 2037.5,282.7 2024.5,300 1920,300" fill="#0d519c"/>
<text x="1956.5" y="289.5" text-anchor="middle" fill="#fff">Gene</text>
<line x1="1746.5" y1="323.3" x2="1770" y2="323.3" stroke="#1a1a1a" stroke-width="1.6"/>
<line x1="1746.5" y1="318.5" x2="1746.5" y2="328" stroke="#1a1a1a" stroke-width="1.6"/>
<text x="1774" y="330">1,500–2,000 nt</text>
<line x1="1912" y1="323.3" x2="1936.5" y2="323.3" stroke="#1a1a1a" stroke-width="1.6"/>
<line x1="1936.5" y1="318.5" x2="1936.5" y2="328" stroke="#1a1a1a" stroke-width="1.6"/>
<text x="6" y="386.5" font-size="32" font-weight="bold" fill="#000">c</text>
<line x1="98.6" y1="392.3" x2="98.6" y2="594.3" stroke="#222" stroke-width="1.5"/>
<line x1="92.8" y1="593.6" x2="403" y2="593.6" stroke="#222" stroke-width="1.5"/>
<line x1="92.8" y1="593.6" x2="98.6" y2="593.6" stroke="#222" stroke-width="1.5"/>
<text x="86" y="600.6" text-anchor="end">0</text>
<line x1="92.8" y1="553.5" x2="98.6" y2="553.5" stroke="#222" stroke-width="1.5"/>
<text x="86" y="560.5" text-anchor="end">5</text>
<line x1="92.8" y1="513.4" x2="98.6" y2="513.4" stroke="#222" stroke-width="1.5"/>
<text x="86" y="520.4" text-anchor="end">10</text>
<line x1="92.8" y1="473.3" x2="98.6" y2="473.3" stroke="#222" stroke-width="1.5"/>
<text x="86" y="480.3" text-anchor="end">15</text>
<line x1="92.8" y1="433.2" x2="98.6" y2="433.2" stroke="#222" stroke-width="1.5"/>
<text x="86" y="440.2" text-anchor="end">20</text>
<line x1="92.8" y1="393.1" x2="98.6" y2="393.1" stroke="#222" stroke-width="1.5"/>
<text x="86" y="400.1" text-anchor="end">30</text>
<text x="48" y="493.6" text-anchor="middle" transform="rotate(-90 48 493.6)">Mean count</text>
<rect x="112.2" y="584.3" width="29" height="9.3" fill="#59a8d6" stroke="#222" stroke-width="1"/>
<line x1="126.7" y1="581.2" x2="126.7" y2="587.2" stroke="#222" stroke-width="1.2"/>
<line x1="121.2" y1="581.2" x2="132.2" y2="581.2" stroke="#222" stroke-width="1.2"/>
<line x1="121.2" y1="587.2" x2="132.2" y2="587.2" stroke="#222" stroke-width="1.2"/>
<rect x="141.2" y="585.8" width="29" height="7.8" fill="#0a4f96" stroke="#222" stroke-width="1"/>
<line x1="155.7" y1="585.7" x2="155.7" y2="586" stroke="#222" stroke-width="1.2"/>
<line x1="150.2" y1="585.7" x2="161.2" y2="585.7" stroke="#222" stroke-width="1.2"/>
<line x1="150.2" y1="586" x2="161.2" y2="586" stroke="#222" stroke-width="1.2"/>
<line x1="141.2" y1="593.6" x2="141.2" y2="599.1" stroke="#222" stroke-width="1.5"/>
<text x="141.2" y="622.6" text-anchor="middle">12S</text>
<text x="141.2" y="644.3" text-anchor="middle">rRNA</text>
<rect x="184.7" y="585.8" width="29" height="7.8" fill="#59a8d6" stroke="#222" stroke-width="1"/>
<line x1="199.2" y1="583.5" x2="199.2" y2="587.8" stroke="#222" stroke-width="1.2"/>
<line x1="193.7" y1="583.5" x2="204.7" y2="583.5" stroke="#222" stroke-width="1.2"/>
<line x1="193.7" y1="587.8" x2="204.7" y2="587.8" stroke="#222" stroke-width="1.2"/>
<rect x="213.7" y="585.8" width="29" height="7.8" fill="#0a4f96" stroke="#222" stroke-width="1"/>
<line x1="228.2" y1="584" x2="228.2" y2="587.8" stroke="#222" stroke-width="1.2"/>
<line x1="222.7" y1="584" x2="233.7" y2="584" stroke="#222" stroke-width="1.2"/>
<line x1="222.7" y1="587.8" x2="233.7" y2="587.8" stroke="#222" stroke-width="1.2"/>
<line x1="213.7" y1="593.6" x2="213.7" y2="599.1" stroke="#222" stroke-width="1.5"/>
<text x="213.7" y="622.6" text-anchor="middle">16S</text>
<text x="213.7" y="644.3" text-anchor="middle">rRNA</text>
<rect x="257.2" y="513.4" width="29" height="80.2" fill="#59a8d6" stroke="#222" stroke-width="1"/>
<line x1="271.7" y1="474.1" x2="271.7" y2="553" stroke="#222" stroke-width="1.2"/>
<line x1="266.2" y1="474.1" x2="277.2" y2="474.1" stroke="#222" stroke-width="1.2"/>
<line x1="266.2" y1="553" x2="277.2" y2="553" stroke="#222" stroke-width="1.2"/>
<rect x="286.2" y="488.7" width="29" height="104.9" fill="#0a4f96" stroke="#222" stroke-width="1"/>
<line x1="300.7" y1="485.3" x2="300.7" y2="491.7" stroke="#222" stroke-width="1.2"/>
<line x1="295.2" y1="485.3" x2="306.2" y2="485.3" stroke="#222" stroke-width="1.2"/>
<line x1="295.2" y1="491.7" x2="306.2" y2="491.7" stroke="#222" stroke-width="1.2"/>
<line x1="286.2" y1="593.6" x2="286.2" y2="599.1" stroke="#222" stroke-width="1.5"/>
<text x="286.2" y="622.6" text-anchor="middle">CDS</text>
<rect x="329.7" y="461.3" width="29" height="132.3" fill="#59a8d6" stroke="#222" stroke-width="1"/>
<line x1="344.2" y1="409.9" x2="344.2" y2="513.4" stroke="#222" stroke-width="1.2"/>
<line x1="338.7" y1="409.9" x2="349.7" y2="409.9" stroke="#222" stroke-width="1.2"/>
<line x1="338.7" y1="513.4" x2="349.7" y2="513.4" stroke="#222" stroke-width="1.2"/>
<rect x="358.7" y="430.8" width="29" height="162.8" fill="#0a4f96" stroke="#222" stroke-width="1"/>
<line x1="373.2" y1="423.6" x2="373.2" y2="438" stroke="#222" stroke-width="1.2"/>
<line x1="367.7" y1="423.6" x2="378.7" y2="423.6" stroke="#222" stroke-width="1.2"/>
<line x1="367.7" y1="438" x2="378.7" y2="438" stroke="#222" stroke-width="1.2"/>
<line x1="358.7" y1="593.6" x2="358.7" y2="599.1" stroke="#222" stroke-width="1.5"/>
<text x="358.7" y="622.6" text-anchor="middle">tRNA</text>
<rect x="109.6" y="404.3" width="9.2" height="9.2" fill="#59a8d6" stroke="#333" stroke-width="0.8"/>
<text x="126.7" y="414.8">Evo 2 7B</text>
<rect x="109.6" y="429.3" width="9.2" height="9.2" fill="#0a4f96" stroke="#333" stroke-width="0.8"/>
<text x="126.7" y="440">Evo 2 40B</text>
<text x="472" y="369" text-anchor="middle">Count in</text>
<text x="472" y="391.6" text-anchor="middle" font-style="italic">H. sapiens</text>
<line x1="415" y1="400" x2="530" y2="400" stroke="#222" stroke-width="1.2"/>
<polygon points="403,416.8 413.5,411.3 413.5,422.3" fill="#111"/>
<polygon points="403,488.7 413.5,483.2 413.5,494.2" fill="#111"/>
<polygon points="403,585 413.5,579.5 413.5,590.5" fill="#111"/>
<text x="423.2" y="422.6">tRNA (22)</text>
<text x="423.2" y="494.5">CDS (13)</text>
<text x="423.2" y="580.6">12S rRNA (1)</text>
<text x="423.2" y="602.3">16S rRNA (1)</text>
<text x="574" y="386" font-size="32" font-weight="bold" fill="#000">d</text>
<svg x="648.5" y="410" width="165.9" height="181" viewBox="648.5 410 165.9 181" overflow="hidden">
<path d="M672.2 580.7h1.5M800.7 578.5h1.5M751.4 580.6h1.5M728.7 580.8h1.5M756.5 580.6h1.5M664.6 578.5h1.5M775.2 577.7h1.5M744.6 580.7h1.5M771.7 579.6h1.5M790.9 580.4h1.5M715.9 580.1h1.5M736.8 580.8h1.5M718.8 581.1h1.5M685.2 580.3h1.5M750 580.3h1.5M795.4 580.4h1.5M718.2 579.2h1.5M689.6 580.6h1.5M800.9 579.7h1.5M696.9 579.5h1.5M701.5 578.6h1.5M758.6 577.7h1.5M688.3 580.2h1.5M746.5 579.5h1.5M734.8 580.9h1.5M702.6 581h1.5M727.6 581.1h1.5M747.7 579h1.5M794.5 580.8h1.5M740.8 579.4h1.5M701.2 581h1.5M763.3 580.5h1.5M709.2 580.6h1.5M798 579.7h1.5M775.1 578.4h1.5M744.6 579.9h1.5M799.9 577.7h1.5M704.5 580.2h1.5M702.9 576.6h1.5" stroke="#fde838" stroke-width="5" stroke-linecap="round" fill="none"/>
<path d="M694.6 580.8h1.5M780.6 578.2h1.5M785.1 580.5h1.5M767 580.6h1.5M763.8 580.3h1.5M792.6 578.2h1.5M794.7 578.8h1.5M723.4 578.4h1.5M790.2 579.1h1.5M802.6 576.9h1.5M684.5 576.9h1.5M763.1 580h1.5M743 580.7h1.5M673.8 580.2h1.5M667.5 580.4h1.5M719.4 579.7h1.5M785 580.6h1.5M798 579.4h1.5M749.7 579.8h1.5M722.7 579h1.5M720.5 581.2h1.5M766.5 580.2h1.5M693 580.8h1.5M760.8 579.7h1.5M708.8 577.5h1.5M754 579.5h1.5M776.3 580.3h1.5M792.6 580.8h1.5M786.8 580.7h1.5M723.2 579.7h1.5M709.9 580.5h1.5M702.2 577h1.5M793 579.7h1.5M789.6 580.6h1.5M697.2 577.6h1.5M774.2 580.4h1.5M679.3 580h1.5M688.5 579.1h1.5M715.5 579.5h1.5M761.5 579.5h1.5M794.8 578.1h1.5M698.6 579.4h1.5M755.7 578h1.5M781.6 579.2h1.5M734.2 580.6h1.5M794.6 579.3h1.5M779.4 580.3h1.5M767.9 579.3h1.5M761.9 578.4h1.5M778.4 578.9h1.5M798 580.1h1.5M695.8 577.1h1.5M761.8 578.3h1.5M674.4 577.7h1.5M700.4 579.7h1.5M795.5 578.6h1.5M699.1 578.6h1.5M763.7 580.7h1.5M788.2 580.3h1.5M740.4 580.1h1.5M705.8 580.4h1.5M696.5 579.9h1.5M782.1 579.7h1.5M696.9 577.5h1.5M796.7 580.2h1.5M740.1 578.6h1.5M703.9 579.6h1.5M747 580.9h1.5M731.4 577.7h1.5M753.4 578.6h1.5M680.6 580h1.5M738.1 579.4h1.5M680.4 580.2h1.5M793.5 580.2h1.5M776.3 577.9h1.5M723.6 580h1.5M737.9 580.8h1.5M687 580.5h1.5M726.8 579.5h1.5M718.8 581.1h1.5M700.5 580.1h1.5M794.3 580.4h1.5M661.7 579.2h1.5M689.8 577.5h1.5M703.1 579.5h1.5M766.8 580.5h1.5M729.8 580h1.5M727.8 580.5h1.5M752.9 580.1h1.5M741.5 578h1.5M737.6 579.3h1.5M672.5 580.6h1.5M752.8 580.6h1.5M777.5 577.1h1.5M727.4 580.7h1.5M711.2 579.9h1.5M684.8 579.2h1.5M786 578.3h1.5M737.7 580.7h1.5M790.1 578.8h1.5M794.5 580.5h1.5M767.5 580.1h1.5M683.1 579.3h1.5M786.2 576h1.5M738.6 578.5h1.5M787.7 578h1.5M668.5 579.2h1.5M696.5 575.8h1.5M757.6 578h1.5M769.4 579.1h1.5M779.8 579.4h1.5M753 580.4h1.5M747.2 578.9h1.5M758.8 579.7h1.5M725.8 580h1.5M782.6 579.5h1.5M748.6 578.5h1.5M756.6 580.4h1.5M789 578.3h1.5M792.6 580.2h1.5M715.9 580.3h1.5M706.5 577.4h1.5M694 580h1.5M790.4 578.3h1.5M753.5 575.6h1.5M769.6 580.3h1.5M668.2 579.8h1.5M701.3 579.2h1.5M711.5 579.8h1.5M801 580.3h1.5M780.1 580.6h1.5M794.3 580.2h1.5M781.1 579.9h1.5M785.7 580.6h1.5M774.5 580.7h1.5M736.2 580.8h1.5M801.1 580.1h1.5M753.3 579.6h1.5M802 578.9h1.5M669.7 580.5h1.5M801.2 580h1.5M787.3 579.9h1.5M785 580.5h1.5M733.3 578.6h1.5M786.1 579.2h1.5M766.4 579.2h1.5M750.9 580.4h1.5M675.1 580.6h1.5M779.1 579.9h1.5M690 579.8h1.5M665 579.2h1.5M743.1 579.7h1.5M738.1 580.2h1.5M755.6 579.6h1.5M770.9 580.7h1.5M688.9 580.3h1.5M691.5 580.7h1.5M718.5 579.4h1.5M768.4 578.1h1.5M783.9 579.4h1.5M699.5 580.4h1.5M801.9 579.7h1.5M803.3 579.7h1.5M736.6 580.8h1.5M738.2 579.5h1.5M778.8 579.3h1.5M769.8 579.4h1.5M738.5 580.4h1.5M767.9 580.8h1.5M733.3 580.6h1.5M792.9 580.5h1.5M706 577.5h1.5M693 580.1h1.5M726.4 577.9h1.5M714.3 580.8h1.5M776 578.7h1.5M744.8 580.4h1.5M691.4 580.5h1.5M797.2 579.1h1.5M730.4 580.2h1.5M701.4 578.8h1.5M775.7 579.9h1.5M724.7 578.2h1.5M747 579.8h1.5M735.6 579.2h1.5M774.6 580h1.5M803.8 580h1.5M793.1 579.3h1.5M662.9 581.3h1.5M785.2 580.4h1.5M680.1 579.6h1.5M667.5 580.6h1.5M733.8 580.8h1.5M734.3 580.2h1.5M766.5 580.9h1.5M797.7 579.6h1.5M695.7 579.8h1.5M709.7 580.9h1.5M768.4 580.7h1.5M700.1 577.9h1.5M791.8 578.5h1.5M788.3 580h1.5M680.9 578.1h1.5M783.2 579.2h1.5M787.9 580.8h1.5M693.9 579.6h1.5M790.4 577.4h1.5M792.9 579.6h1.5M678.9 580.9h1.5M710.3 577.1h1.5M770.8 579.9h1.5M714.8 577h1.5M739 580.8h1.5M801.2 578h1.5M774.7 578.4h1.5M738.4 579h1.5M668.8 578.9h1.5M757.8 577.8h1.5M672.7 580.2h1.5M795 580.2h1.5M749.7 578h1.5M692.2 579.2h1.5M684.7 577.3h1.5M765.3 579.3h1.5M753.9 580.3h1.5M747.1 579.3h1.5M779.8 579.4h1.5M703.8 578.9h1.5M762.7 579.9h1.5M741.9 580.2h1.5M750.4 579h1.5M666.6 579.2h1.5M768.4 577.9h1.5M778 579.9h1.5M669.5 580.4h1.5M794.2 580.1h1.5M699.3 579.5h1.5M786.7 578h1.5M793.7 580.3h1.5M742.6 576.1h1.5M785.5 580.1h1.5M684.8 578h1.5M769.3 575.9h1.5M769.5 580.7h1.5M754.3 579.7h1.5M735.9 579.1h1.5M742.7 578.3h1.5M665.7 580h1.5M698 578.5h1.5M728.7 579.2h1.5M697.3 579.1h1.5M745.4 579.3h1.5M779 578.6h1.5M802.7 579.6h1.5M800.7 577h1.5M690.8 579.8h1.5M669.9 578.4h1.5M676.9 578.5h1.5M783.4 579.6h1.5M799.7 578.1h1.5M693.5 579.5h1.5M775.1 578.7h1.5M721 580.5h1.5M665.5 579.5h1.5M778.1 578.9h1.5M787.3 580.3h1.5M706.3 577.8h1.5M783.1 580.5h1.5M716.1 579.6h1.5M739.2 580.1h1.5M798.4 580.1h1.5M796 577.8h1.5M755.4 580.4h1.5M777.1 579.1h1.5" stroke="#e7d54a" stroke-width="5" stroke-linecap="round" fill="none"/>
<path d="M695.2 575.2h1.5M675.1 576.7h1.5M735.4 577.2h1.5M727.7 578.3h1.5M713.1 576.8h1.5M710.6 575.9h1.5M783.1 579h1.5M763.4 579.7h1.5M727 576.5h1.5M713.6 577.1h1.5M735 576.8h1.5M735 576.2h1.5M715.8 577.2h1.5M729.6 577.4h1.5M709 574.9h1.5M757.2 580h1.5M768.9 577.9h1.5M768 580h1.5M668.4 576h1.5M725.1 574.7h1.5M713 578.5h1.5M730.7 575.6h1.5M725.4 580.7h1.5M730.3 576.8h1.5M721.5 575.1h1.5M719.4 576.4h1.5M699.4 577.2h1.5M715.8 576.8h1.5M711.8 578h1.5M727.4 577.4h1.5M682.1 575h1.5M714.5 577.1h1.5M725.8 576.4h1.5M681.1 575h1.5M766.5 580.7h1.5M698.8 576h1.5M709.6 573.7h1.5M711.2 574.1h1.5M685.8 577.7h1.5M743.5 580.4h1.5M684.8 576.2h1.5M735.2 574.5h1.5M725.8 580.1h1.5M689.2 576.6h1.5M750.2 580.9h1.5M704.7 577.1h1.5M721.4 575.5h1.5M729.5 577.1h1.5M779.6 579.8h1.5M716.2 580.5h1.5M718 578h1.5M696.9 578.9h1.5M756.1 577.7h1.5M706.4 575.7h1.5M729.6 577h1.5M725.6 574.7h1.5M724.7 574.9h1.5M765.2 579.7h1.5M711.3 576.7h1.5M773.9 578.2h1.5M737.8 579.8h1.5M681.5 576.4h1.5M711.9 578.5h1.5M717.2 573.9h1.5M715.2 576.2h1.5M778.1 578.5h1.5M777.4 578.4h1.5M661.5 575.8h1.5M711.2 579h1.5M695 576.7h1.5M740.7 578.8h1.5M690.3 575.7h1.5" stroke="#d1c25c" stroke-width="5" stroke-linecap="round" fill="none"/>
<path d="M716.3 574.6h1.5M697 571.8h1.5M704.1 570.1h1.5M742.4 580.8h1.5M693.3 572.3h1.5M755.8 580.3h1.5M720.2 580.7h1.5M699.9 573.2h1.5M711.3 573.9h1.5M699.4 572.2h1.5M705.9 571.1h1.5M712.1 572.8h1.5M744.7 579.1h1.5M772.4 579.9h1.5M736.5 580.3h1.5M689.8 572.4h1.5M736.7 579.1h1.5M692.4 573.2h1.5M777.5 579.5h1.5M747.6 577.3h1.5M727.6 574h1.5M724.8 573.4h1.5M703.2 571.9h1.5M710.4 571.6h1.5M676 572.6h1.5M684.2 572.4h1.5M680 570.5h1.5M687.6 573.4h1.5M698.4 574.5h1.5M727.9 573.1h1.5M682.1 574h1.5M715.2 570.8h1.5M711.3 570.7h1.5M700.3 573.5h1.5M692.7 571.6h1.5M761 580.3h1.5M760.8 580.6h1.5M676.8 574.7h1.5M723.1 571.7h1.5M742.7 577.8h1.5M756.6 578.4h1.5M726.2 579.8h1.5M706.3 573.7h1.5M678.6 571.5h1.5M732.8 574.6h1.5M704.5 573.5h1.5M754.6 578.4h1.5M725.6 573.9h1.5M716.8 573.3h1.5M710.2 574.1h1.5M744.1 580.7h1.5M699.1 574.6h1.5M734.9 574.3h1.5M721.4 580.7h1.5M674 571.4h1.5" stroke="#bcaf6f" stroke-width="5" stroke-linecap="round" fill="none"/>
<path d="M750.5 580.6h1.5M704.2 568.8h1.5M752.8 579.9h1.5M685.7 568.8h1.5M778.7 578.2h1.5M686.7 570.1h1.5M671.4 571.9h1.5M696.9 569.1h1.5M718.3 570.7h1.5M694 569.2h1.5M703.4 571.7h1.5M687.2 569.6h1.5M738.5 579.5h1.5M704.7 570.5h1.5M704.7 567.7h1.5M758.2 579.6h1.5M676.9 567.7h1.5M719.3 580.2h1.5M703.6 569.5h1.5M701.1 567.5h1.5M767.2 579.5h1.5M710.5 571.2h1.5M784.2 580.1h1.5M662.6 571h1.5M680.2 568.8h1.5M778.6 580h1.5M716 580.5h1.5M673.1 569.7h1.5M697.8 570.9h1.5M689.8 569.8h1.5M724.4 580.9h1.5M702.7 569.8h1.5M680.2 569.7h1.5M661.4 569.3h1.5M717.8 580.7h1.5M768 579.2h1.5M661.2 569.3h1.5M712.1 569.9h1.5M768.5 579.1h1.5M770.2 579.4h1.5M689.8 567.6h1.5M692.9 569.3h1.5M671.1 567.3h1.5M689.1 570.8h1.5" stroke="#a69d72" stroke-width="5" stroke-linecap="round" fill="none"/>
<path d="M682.7 566.3h1.5M708.4 578.7h1.5M679.7 565.2h1.5M689.4 566.6h1.5M682.5 566.6h1.5M694.4 565.3h1.5M681.4 567h1.5M688.2 567.7h1.5M666.4 566h1.5M668.2 566.5h1.5M678.8 566.3h1.5M768.7 580.2h1.5M675.3 565.3h1.5M680.7 563.6h1.5M669.6 568h1.5M699.1 566.5h1.5M663.2 568.3h1.5M699.4 568.8h1.5M701.3 566.3h1.5M691.6 564.4h1.5" stroke="#918c75" stroke-width="5" stroke-linecap="round" fill="none"/>
<path d="M661.9 562.3h1.5M674.3 562.3h1.5M661.6 562h1.5M668.4 563.6h1.5M690.1 563.8h1.5M671.1 562.3h1.5M667.4 564h1.5M690.1 563.8h1.5M662.2 562.1h1.5M678.6 561.8h1.5M686.6 563.4h1.5" stroke="#7c7b78" stroke-width="5" stroke-linecap="round" fill="none"/>
<path d="M673.1 560h1.5M674.6 560.4h1.5M662.9 557.7h1.5M667.9 559.1h1.5M665.4 559.4h1.5" stroke="#676b74" stroke-width="5" stroke-linecap="round" fill="none"/>
<path d="M737.4 572.5h2.4M737.8 523.7h2.4M744.9 479.7h2.4M724.3 514.9h2.4M726.2 498.6h2.4M737.5 468.5h2.4M729 532.8h2.4M727.6 474.7h2.4M721.3 456.8h2.4M744.2 492.3h2.4M737.6 538.5h2.4M726.9 542.3h2.4M730.3 462.3h2.4M726.6 551.4h2.4M717.4 558.6h2.4M724.3 479h2.4M734.8 533.5h2.4M729 534.7h2.4M721.3 468.9h2.4M737.3 548h2.4M733.5 567.2h2.4M722.1 492h2.4M730.7 523.3h2.4M739.7 552.5h2.4M724.9 572.2h2.4M736 559h2.4M728.1 549.4h2.4M728.5 523.6h2.4M725.9 483.5h2.4M724.2 447.7h2.4M737.1 468.2h2.4M723.5 532h2.4M723.3 488.3h2.4M724.7 508.1h2.4M722.9 473.6h2.4M732.5 443.7h2.4M739.3 568.1h2.4M729.4 561.9h2.4M748.1 464.9h2.4M727.6 489.7h2.4M728.5 571.8h2.4M732.8 450.9h2.4M725.3 454.4h2.4M733.9 552.7h2.4M734.5 472.8h2.4M731.7 557.5h2.4M731.1 459.5h2.4M729.8 513.9h2.4M735.3 500h2.4M716.6 527.9h2.4M737.6 510h2.4M732.7 549.9h2.4M726.1 462.5h2.4M724.3 464.3h2.4M741.9 523.6h2.4M728.2 457.6h2.4M732.2 514.4h2.4M727.5 543h2.4M733 457.5h2.4M735.2 490.4h2.4M735.6 504.1h2.4M723.3 547.5h2.4M729.6 464.5h2.4M736.2 539.6h2.4M724.8 452.4h2.4M730.8 490.2h2.4M733.4 463.1h2.4M726.9 443.6h2.4M728.3 552.2h2.4M719.2 468.3h2.4M745.4 473.1h2.4M740.7 520h2.4M735.3 571.4h2.4M733.2 566.5h2.4M715.5 512.9h2.4M734.3 532.8h2.4M726.4 470h2.4M708.8 459.9h2.4M737.8 459.5h2.4M728.6 482.2h2.4M725.7 496.5h2.4M721.5 532.5h2.4M730.6 546.7h2.4M734.8 558.9h2.4M726.5 444h2.4M720.2 528.1h2.4M729 553.2h2.4M723.7 536.7h2.4M740.1 452.4h2.4M725.2 549.2h2.4M742.4 514.3h2.4M732.2 503.9h2.4M732.3 524.7h2.4M725.4 531.9h2.4M728.6 530.4h2.4M731.8 517.9h2.4M728.1 460.1h2.4M725.3 441.2h2.4M727.5 558.5h2.4M730.4 514.9h2.4M730.6 459.5h2.4M728.6 467.5h2.4M734.8 562.6h2.4M739 561.2h2.4M730.7 503.2h2.4M735 460.5h2.4M736.5 513h2.4M728.4 480.4h2.4M738.4 565.3h2.4M730.1 506.1h2.4M735.8 536.7h2.4M727 453.4h2.4M725.6 526.4h2.4M730.1 556.1h2.4M732.2 544.4h2.4M734.5 514.4h2.4M725.3 446.2h2.4M740.2 541.1h2.4M727.4 529.6h2.4M724.8 527h2.4M729.5 544.8h2.4M730.3 493.2h2.4M740.2 514h2.4M721.1 482.5h2.4M731.2 569.8h2.4M733.6 527.7h2.4M723.8 446.3h2.4M729.9 569.6h2.4M723.8 515.1h2.4M724 559.9h2.4M731.9 496.7h2.4M729.4 503.1h2.4M740.4 534.2h2.4M732.8 561.7h2.4M723.6 535.9h2.4M736 452.9h2.4M731.9 448.7h2.4M727.6 541.2h2.4M726.7 546h2.4M723.4 569.9h2.4M705.9 509h2.4M712.6 469.8h2.4M702.3 491.7h2.4M697.4 506.2h2.4M711.6 545.4h2.4M706.8 501.5h2.4M694 526.2h2.4M718.9 516.4h2.4M694.3 522.7h2.4M707.1 511.6h2.4M700.5 519h2.4M695.3 501.3h2.4M710.2 541.8h2.4M709.8 520.5h2.4M724.9 458.9h2.4M691.9 482.5h2.4M700.3 539.7h2.4M720.9 461.8h2.4M717.5 488.4h2.4M724.9 496.3h2.4M713.2 486.8h2.4M720.3 466.9h2.4M698.7 530.2h2.4M708.1 492.9h2.4M700.6 466.5h2.4M719.9 483.4h2.4M707.7 482.6h2.4M694.4 471.6h2.4M691.8 462.3h2.4M711.2 523.5h2.4M694.2 492h2.4M704.9 482.5h2.4M690.6 465h2.4M703.5 507.6h2.4M715.6 491.3h2.4M704.2 521.9h2.4M705 547.5h2.4M696.8 469.9h2.4M691.5 542.1h2.4M719.9 514h2.4M707.5 493.2h2.4M714.8 519.4h2.4M716.8 550.5h2.4M719.8 520.3h2.4M711.2 520.9h2.4M737.3 553.1h2.4M705.4 566.4h2.4M736.2 550.6h2.4M722.7 552.9h2.4M710.3 547.2h2.4M721.8 547.5h2.4M731.3 546.5h2.4M740 547.6h2.4M741.1 568.1h2.4M723.5 552h2.4M707.7 560.6h2.4M712.7 556.1h2.4M722.3 554.6h2.4M719.7 573.5h2.4M725.6 568.3h2.4M747.4 548.6h2.4M720.3 553.1h2.4M731.5 547h2.4M732.7 550h2.4M750.6 554.3h2.4M719.3 552.7h2.4M735.6 575.2h2.4M712.2 566.6h2.4M733.7 558.1h2.4M722 567.8h2.4M721 565.2h2.4M728.1 560.3h2.4M688.6 574.1h2.4M700.1 568.4h2.4M753.7 556.8h2.4M738.1 556h2.4M721.4 548.4h2.4M719.9 566h2.4M709.6 553.3h2.4M709.1 566.9h2.4M718.8 553.9h2.4M732.9 562.2h2.4M729.3 558.7h2.4M733.4 564.8h2.4M695.1 556.5h2.4M703.9 551.5h2.4M710.2 547.2h2.4M751.5 559.9h2.4M727.7 552.9h2.4M721.9 549.5h2.4M717.8 559.6h2.4M702 572.7h2.4M662.5 569.9h2.4M678.9 557.4h2.4M734.7 565.4h2.4M702.1 568.9h2.4M716.9 549.2h2.4M684.3 563.9h2.4M719.9 564.7h2.4M691.6 552.9h2.4M712.8 576.2h2.4M728 553.9h2.4M721 574.3h2.4M716.2 566.4h2.4M727.7 570.4h2.4M746.1 558.2h2.4M706.8 549.9h2.4M716.2 562.8h2.4M697.2 563.8h2.4M719.1 570.5h2.4M746.6 559.4h2.4M713.1 561h2.4M711 574h2.4M711.9 559.4h2.4M726.8 546h2.4M716.6 564.7h2.4M748.4 567.9h2.4M720.6 569.7h2.4M755.1 551.4h2.4M692 558.2h2.4M693.9 550.9h2.4M713.4 550.5h2.4M713.7 546.8h2.4M750.1 558.5h2.4M731.3 556.2h2.4M721.5 563.1h2.4M740.9 554.7h2.4M709.5 571.6h2.4M695.9 548h2.4M717 548.4h2.4M719.3 546.1h2.4M739.8 573.5h2.4M730.1 553.7h2.4M725.3 566.2h2.4M713 551.3h2.4M691.9 575h2.4M710.1 554.6h2.4M694.3 549.6h2.4M730.1 549.5h2.4M700.7 559.5h2.4M731.1 547.5h2.4M729.2 565.9h2.4M688.8 555.1h2.4M726.7 551.9h2.4M702.1 573.9h2.4M724.5 570.1h2.4M731.8 560h2.4M737.6 574h2.4M716 564.4h2.4M715.3 575.4h2.4M712 547.2h2.4M722.3 565.1h2.4M729.2 566.2h2.4M705.6 550.3h2.4M717.9 556.5h2.4M740 545.6h2.4M719.4 562.2h2.4M715.9 546.9h2.4M730.3 572.3h2.4M708.7 568h2.4M721.4 548.7h2.4M710.8 568.1h2.4M711.7 568.8h2.4M698 560.3h2.4M712.1 559.8h2.4M711.7 556.9h2.4M733.6 570.9h2.4M717.4 560.6h2.4M705.7 548.1h2.4M710.3 570h2.4M702.8 570.1h2.4M720 562.2h2.4M706 552.4h2.4M725.5 545.8h2.4M732 564.8h2.4M718.7 547h2.4M726.9 574.3h2.4M724.4 546.6h2.4M703.8 573.2h2.4M720.3 549h2.4M745.4 548.1h2.4M719.8 558.7h2.4M717.1 566.9h2.4M730.3 571.6h2.4M717.5 575h2.4M724.6 548.6h2.4M738 565.4h2.4M696.8 562.4h2.4M693.7 566.9h2.4M713.4 560.5h2.4M691.6 565.5h2.4M711.5 576.2h2.4M693.5 570.9h2.4M739.8 556.9h2.4M729.5 557h2.4M730.6 434h2.4M735.5 440.9h2.4M725.8 440.9h2.4M796.4 550.5h2.4M798.8 550.5h2.4M784.2 566h2.4M791.5 564.3h2.4M774.5 569.4h2.4M801.3 571.1h2.4M802.2 578.8h2.4M764.7 567.7h2.4" stroke="#04214f" stroke-width="5" stroke-linecap="round" fill="none"/>
</svg>
<rect x="648.5" y="410" width="165.9" height="180.8" fill="none" stroke="#111" stroke-width="1.6"/>
<line x1="643" y1="581.4" x2="648.5" y2="581.4" stroke="#222" stroke-width="1.4"/>
<line x1="643" y1="547.1" x2="648.5" y2="547.1" stroke="#222" stroke-width="1.4"/>
<line x1="643" y1="512.8" x2="648.5" y2="512.8" stroke="#222" stroke-width="1.4"/>
<line x1="643" y1="478.6" x2="648.5" y2="478.6" stroke="#222" stroke-width="1.4"/>
<line x1="643" y1="444.3" x2="648.5" y2="444.3" stroke="#222" stroke-width="1.4"/>
<line x1="643" y1="410" x2="648.5" y2="410" stroke="#222" stroke-width="1.4"/>
<line x1="658.8" y1="590.8" x2="658.8" y2="596.5" stroke="#222" stroke-width="1.4"/>
<text x="658.8" y="620.3" text-anchor="middle">70</text>
<line x1="707.5" y1="590.8" x2="707.5" y2="596.5" stroke="#222" stroke-width="1.4"/>
<text x="707.5" y="620.3" text-anchor="middle">80</text>
<line x1="756.2" y1="590.8" x2="756.2" y2="596.5" stroke="#222" stroke-width="1.4"/>
<text x="756.2" y="620.3" text-anchor="middle">90</text>
<line x1="804.9" y1="590.8" x2="804.9" y2="596.5" stroke="#222" stroke-width="1.4"/>
<text x="804.9" y="620.3" text-anchor="middle">100</text>
<text x="731.5" y="403.4" text-anchor="middle">Evo 2 7B</text>
<svg x="832.4" y="410" width="167.3" height="181" viewBox="832.4 410 167.3 181" overflow="hidden">
<path d="M976.4 577.5h1.5M911.2 578.5h1.5M867.6 577.6h1.5M930.9 579.9h1.5M955.5 579.4h1.5M957.3 578.6h1.5M979.7 579.4h1.5M912.1 581h1.5M877.6 580.2h1.5M980.7 580.3h1.5M971.7 577.7h1.5M911.2 580.3h1.5M906.3 579.7h1.5M918.9 580.9h1.5M978.3 579.6h1.5M966.1 579.5h1.5M914.7 580.3h1.5M983.9 579.1h1.5M981.4 577.4h1.5M847.4 578.4h1.5M899.8 581.2h1.5M977.8 580.8h1.5M874.4 580.4h1.5M969.1 578.5h1.5M952.5 580.8h1.5M933.5 580.2h1.5M859.5 579.1h1.5M960.5 579.9h1.5M987.1 580.1h1.5M944.5 580h1.5M932.9 578.6h1.5M909.2 581.2h1.5M929.6 579.9h1.5M969.2 578.4h1.5M889.3 580.5h1.5M936.8 578.8h1.5M916 581.2h1.5M981.7 580h1.5M866.1 579.4h1.5M888.7 580.8h1.5M851.4 578.3h1.5M977.9 577.1h1.5" stroke="#fde838" stroke-width="5" stroke-linecap="round" fill="none"/>
<path d="M933.7 580.7h1.5M875.6 580.8h1.5M886.1 578.1h1.5M979.1 580.2h1.5M982.7 579.6h1.5M868.5 580.2h1.5M983.9 577.8h1.5M847.4 580.4h1.5M927.4 580.3h1.5M872.9 580.9h1.5M979.2 579.9h1.5M976.7 580.5h1.5M889.4 579.1h1.5M851.7 579h1.5M929.6 580.5h1.5M915.2 578.8h1.5M866.1 580.3h1.5M966.4 578.9h1.5M914.5 578.3h1.5M981.8 579.3h1.5M896.4 579.3h1.5M922.9 578.9h1.5M910.9 578.9h1.5M965.1 578.9h1.5M918.7 580.5h1.5M978.6 578.8h1.5M943.5 580.3h1.5M927.7 577.9h1.5M890.1 578.9h1.5M878.7 579h1.5M850 579.2h1.5M982.9 579.5h1.5M899 579.8h1.5M881.9 578.9h1.5M985.3 580.8h1.5M885.7 579.7h1.5M956.4 580.8h1.5M951.1 580.5h1.5M975.6 580.6h1.5M922.7 577.6h1.5M945.9 580.6h1.5M974.9 579.5h1.5M964.1 579.6h1.5M885.7 580h1.5M947.9 578.2h1.5M944.9 577.4h1.5M980.7 579.8h1.5M860.3 579.9h1.5M926.9 580.3h1.5M934.9 580.4h1.5M948.3 580.2h1.5M983.6 579.7h1.5M864.3 578.9h1.5M959.6 577.5h1.5M858.6 577.1h1.5M911.9 580.5h1.5M881.1 578.9h1.5M878.4 580.9h1.5M897.5 579.8h1.5M948.9 578.3h1.5M848.4 579.5h1.5M983.7 579.8h1.5M956 580.4h1.5M973.1 580.6h1.5M901.5 578.9h1.5M888.5 580.9h1.5M856.8 579.1h1.5M976.3 580.4h1.5M967.1 580.8h1.5M926.3 580.5h1.5M948.4 579.5h1.5M906 579.3h1.5M924.2 580.5h1.5M953.2 579.1h1.5M981 580h1.5M848.7 578.3h1.5M967.5 577.5h1.5M908.5 580.6h1.5M978.4 580h1.5M983.2 580.2h1.5M927.1 580.4h1.5M900.8 578.6h1.5M925.1 578.9h1.5M880.2 578.4h1.5M958.5 579.6h1.5M917.8 580.4h1.5M961.2 578.3h1.5M958.8 579.6h1.5M941.8 579.4h1.5M888.6 580.7h1.5M947 578h1.5M972.8 579.5h1.5M964.4 580.7h1.5M972.7 578.3h1.5M974.7 580.4h1.5M946.9 578.1h1.5M948.7 579.2h1.5M871.5 579.3h1.5M930.9 579.9h1.5M966.1 578.2h1.5M872.4 579.8h1.5M932.7 578.4h1.5M959.5 578.9h1.5M902.3 577.8h1.5M930 577.4h1.5M915.5 580.2h1.5M927 580.4h1.5M855.3 579.3h1.5M985.3 579.2h1.5M942.8 580.3h1.5M935.5 580.9h1.5M954.6 577.6h1.5M898.8 578.9h1.5M866 576.4h1.5M885.7 579.7h1.5M971.1 578.5h1.5M878.6 580.3h1.5M952.4 578.6h1.5M983.9 578.6h1.5M954.8 579.3h1.5M920.4 580.3h1.5M980.3 579.3h1.5M976.7 580.2h1.5M884.2 578.6h1.5M882.2 579.6h1.5M972.8 579.6h1.5M947.7 580.3h1.5M876.4 580.4h1.5M972.1 580.4h1.5M857.4 579.7h1.5M942.9 579.9h1.5M975 580h1.5M921.3 579.7h1.5M861.4 579.3h1.5M851.9 578.9h1.5M957.6 579.1h1.5M859.7 576.7h1.5M925.4 580.7h1.5M979.8 580h1.5M985.7 579.3h1.5M880.7 580.6h1.5M862.3 579.6h1.5M892.4 579.6h1.5M845 579.4h1.5M966.5 579.8h1.5M873.7 580.3h1.5M878.8 579.8h1.5M877.5 581.2h1.5M927.8 579.4h1.5M882 578.8h1.5M933.8 579.6h1.5M986 580.7h1.5M859.1 579.5h1.5M943.2 580.2h1.5M954.3 579.6h1.5M969.1 577.4h1.5M958 578.5h1.5M885.9 579.3h1.5M963.8 578.9h1.5M913 577.1h1.5M931.6 579.8h1.5M962.2 580.6h1.5M961.3 578.8h1.5M889 579.8h1.5M941 580.8h1.5M977.7 579.3h1.5M858.8 579.5h1.5M926.1 578.3h1.5M860.3 580.1h1.5M938.5 578.9h1.5M943.8 580.4h1.5M964.9 578.2h1.5M890.4 580h1.5M897.7 578.4h1.5M900.5 579.9h1.5M910.1 580.1h1.5M977.8 580.9h1.5M909.7 581.1h1.5M938.8 580.8h1.5M973.4 578.7h1.5M978.1 578.8h1.5M919.9 580.3h1.5M985.9 580.6h1.5M986.8 579.6h1.5M976.1 579.2h1.5M868.9 580.2h1.5M888.3 579.1h1.5M974.9 578.4h1.5M899.5 578.5h1.5M881.9 579.6h1.5M886.9 581.3h1.5M949.1 578.4h1.5M914.3 578.9h1.5M911.3 580.7h1.5M940 580.1h1.5M916.9 579.5h1.5M976.9 576.2h1.5M946 580.5h1.5M853.5 579.6h1.5M955.7 579.5h1.5M981.6 579h1.5M963 579.1h1.5M952.7 580.1h1.5M920.7 579.6h1.5M983.3 578.6h1.5M915.2 577.9h1.5M872 578.9h1.5M887.4 580.7h1.5M972.7 578.1h1.5M891.7 576.9h1.5M979.2 580h1.5M907.5 579.8h1.5M890.1 577h1.5M905.7 577.4h1.5M980 580.3h1.5M878.8 578.9h1.5M865.8 579.1h1.5M913.7 580.8h1.5M927.3 578.4h1.5M980 579.6h1.5M913.7 579.3h1.5M964.3 575.8h1.5M903.6 580.5h1.5M912.7 578.4h1.5M876.1 580.8h1.5M980.4 580.1h1.5M869.1 580.4h1.5M941.9 580.6h1.5M907.4 578.5h1.5M946.4 579.8h1.5M881.2 581.1h1.5M944.8 579.8h1.5M936.7 575.3h1.5M984.4 578.2h1.5M915.6 578.5h1.5M981.1 577.8h1.5M953.2 577.7h1.5M944.2 580.9h1.5M923.1 579.9h1.5M931 578.2h1.5M921.3 579.1h1.5M872.4 576.6h1.5M939.6 580h1.5M893.2 579.9h1.5M854.9 580.1h1.5M897.4 579.4h1.5M927.8 577.1h1.5M861.1 579h1.5M846 578h1.5M912.4 579.5h1.5" stroke="#e7d54a" stroke-width="5" stroke-linecap="round" fill="none"/>
<path d="M905 573.2h1.5M902.4 577.8h1.5M911.2 576.9h1.5M906.4 578.9h1.5M953.3 580.2h1.5M920.4 578.7h1.5M923.2 580.3h1.5M864 575.2h1.5M862.6 576.6h1.5M913.4 576h1.5M961.9 579.2h1.5M892.4 577.1h1.5M861.6 575.5h1.5M876.8 576.3h1.5M863.3 576.5h1.5M944.8 579.7h1.5M944.9 580.5h1.5M854.2 575.5h1.5M877.8 575.5h1.5M858.4 577.8h1.5M910.6 578.1h1.5M959 578.3h1.5M890.1 577.4h1.5M912.7 578.6h1.5M964.8 577.5h1.5M859.5 577.1h1.5M910.3 575.8h1.5M887 574.8h1.5M852 575.9h1.5M954.1 579.9h1.5M880.6 575.5h1.5M912.1 579.4h1.5M875.7 576.9h1.5M910.1 578.5h1.5M879.2 577.2h1.5M931.9 580.7h1.5M908.8 577.2h1.5M918.4 579.3h1.5M882 576.4h1.5M853.8 577.3h1.5M907.2 576.8h1.5M905.9 576.9h1.5M916.2 576.9h1.5M908.5 574.5h1.5M915.4 576.5h1.5M964.3 578.6h1.5M906.9 575.2h1.5M910.2 575.3h1.5M919.3 577.3h1.5M946.6 579.5h1.5M858.3 573.7h1.5M877.4 577.1h1.5M916.5 578.4h1.5M905.6 577.5h1.5M849.4 576.9h1.5M947.5 578.1h1.5M964.2 580.8h1.5M877.4 576.5h1.5M889.4 575.2h1.5M895 574.1h1.5M881.6 574h1.5M915 576.8h1.5M934.6 579.8h1.5M889.6 578.7h1.5M942 579.2h1.5M876.9 575.3h1.5M876.3 575.5h1.5M888 574.6h1.5M912.1 576.7h1.5M863.5 574.4h1.5M961.2 580.8h1.5M949.1 578.6h1.5M882.9 575.7h1.5M914.8 580.9h1.5M915.9 579.9h1.5M845 575h1.5M911.9 578.8h1.5" stroke="#d1c25c" stroke-width="5" stroke-linecap="round" fill="none"/>
<path d="M880 572.5h1.5M893 571.5h1.5M889.9 572.3h1.5M939.6 580.8h1.5M914.1 579.1h1.5M933.8 580.5h1.5M942.7 578.2h1.5M903.3 573.6h1.5M904.6 580.9h1.5M908.1 575h1.5M846.7 574.7h1.5M886.6 574.8h1.5M931 579.4h1.5M931.9 579.9h1.5M914.7 580.4h1.5M924 579.8h1.5M951.9 579.9h1.5M946.6 580.4h1.5M926.6 579.4h1.5M898.3 571.9h1.5M885.2 571.2h1.5M870.4 574.1h1.5M858.9 574.8h1.5M904.7 572.5h1.5M895.6 572.7h1.5M900.5 574.8h1.5M900 574.3h1.5M887.9 573.2h1.5M929.6 579.1h1.5M906.8 573.7h1.5M849.2 571.2h1.5M897.4 575h1.5M949.2 579.4h1.5M909 574.1h1.5M864.5 571.7h1.5M860.2 574h1.5M899.3 571.8h1.5M911.3 574.7h1.5M911.9 580.7h1.5M893.3 575.3h1.5M930 580.8h1.5M845.3 574h1.5M891.5 572.9h1.5M902.9 573.3h1.5M866.4 572.8h1.5M893.7 573.2h1.5M888.5 573.4h1.5M881.2 574.7h1.5M888.5 573.3h1.5M874.1 571.4h1.5M894.3 575.2h1.5M887.9 573.2h1.5M921.5 580.3h1.5M897.3 574.6h1.5M861.9 575h1.5M919.5 579.6h1.5M846.3 573.1h1.5M905.6 579.8h1.5M878.3 573h1.5M903.7 574.1h1.5M895.9 573.7h1.5M933 579.9h1.5M953.3 578.3h1.5M928.8 580.4h1.5M898.5 573.2h1.5M910.9 574.1h1.5M873.9 572h1.5" stroke="#bcaf6f" stroke-width="5" stroke-linecap="round" fill="none"/>
<path d="M932.9 580.8h1.5M958.6 580.6h1.5M893.4 570.4h1.5M950.1 578.2h1.5M867.6 569.2h1.5M893.2 569.8h1.5M865.1 570.4h1.5M872.8 566.9h1.5M878.3 569.6h1.5M955 580h1.5M885.6 570.6h1.5M947.2 579.6h1.5M883 568.1h1.5M935.1 578.1h1.5M914 578.6h1.5M950 580.6h1.5M886.3 571.7h1.5M899.9 579.4h1.5M857.7 567.6h1.5M893.6 569.8h1.5M858.1 571.6h1.5M939.3 578h1.5M882.6 571.9h1.5M854 572.2h1.5M873.7 568.8h1.5M914.5 578.7h1.5M932.5 579.2h1.5M900.3 571.7h1.5M859.8 569.9h1.5M850.6 570.5h1.5M869.8 568h1.5M854.4 567.4h1.5M890.1 570.4h1.5M924.8 580.6h1.5M946.7 580h1.5M865.7 569.5h1.5M919.5 580.8h1.5M950 579.8h1.5M888.6 569.3h1.5M908.4 579.1h1.5M867.2 568.4h1.5M931.9 580.6h1.5M855.6 568.6h1.5M928.8 580.8h1.5M869.1 568.7h1.5M952 580h1.5M866.1 569.3h1.5M927 579.3h1.5M870 568.1h1.5" stroke="#a69d72" stroke-width="5" stroke-linecap="round" fill="none"/>
<path d="M875.7 566.1h1.5M844.9 567.4h1.5M866.7 565.9h1.5M879.1 566.5h1.5M879.9 567.7h1.5M864.4 566.8h1.5M875.7 565.6h1.5M863.1 566.2h1.5M852.9 564h1.5M872.2 566.6h1.5M845.8 566.6h1.5M880.1 566.5h1.5M861.8 567h1.5M867.8 564.3h1.5M877.5 566.9h1.5M911.6 578.6h1.5M855.3 566.9h1.5M872.8 568.3h1.5M882.7 566.9h1.5M882.7 568h1.5M876.2 565.6h1.5M855.3 566.5h1.5" stroke="#918c75" stroke-width="5" stroke-linecap="round" fill="none"/>
<path d="M866.1 562.2h1.5M857.5 564.6h1.5M864.9 564h1.5M864 563.2h1.5M853.8 562.7h1.5M854.7 562.6h1.5M859.5 563.7h1.5M858.5 561.3h1.5" stroke="#7c7b78" stroke-width="5" stroke-linecap="round" fill="none"/>
<path d="M846.6 561.2h1.5M852.4 559.1h1.5M846.2 561.2h1.5M856.6 561.5h1.5" stroke="#676b74" stroke-width="5" stroke-linecap="round" fill="none"/>
<path d="M845.2 556.9h1.5" stroke="#525c71" stroke-width="5" stroke-linecap="round" fill="none"/>
<path d="M922 529h2.4M926.6 532.8h2.4M897.3 442.8h2.4M901.2 472.2h2.4M880.7 499.3h2.4M886.7 526.6h2.4M916.8 489.9h2.4M893.3 531.9h2.4M902.8 536h2.4M905.6 516.2h2.4M928.6 446.5h2.4M928.5 495.2h2.4M931.8 496h2.4M906.4 505.9h2.4M930 470.9h2.4M903 500.8h2.4M898 483.8h2.4M872 445.7h2.4M915.9 473.1h2.4M915.2 496.4h2.4M904.2 447.1h2.4M905.2 475.4h2.4M902.4 446.7h2.4M938.4 539.2h2.4M881.4 508.8h2.4M919.9 533.3h2.4M890.3 530.6h2.4M885.4 526.5h2.4M909 530.3h2.4M918.9 469h2.4M912 516.2h2.4M898.3 449.9h2.4M903.1 461.5h2.4M913.3 484.3h2.4M921 519.7h2.4M888.8 500.5h2.4M929.5 481.2h2.4M890.7 527.2h2.4M901.6 537h2.4M917.1 482.3h2.4M893.7 486.1h2.4M909.1 492.6h2.4M891.6 498.2h2.4M920.9 519.2h2.4M909.5 486.8h2.4M890.7 479.2h2.4M925.3 505.4h2.4M902.5 518.6h2.4M889.3 448.8h2.4M884.6 493.2h2.4M899.8 519.1h2.4M888 529h2.4M917.1 505.5h2.4M889.5 522.3h2.4M907.4 502.9h2.4M926.1 475.5h2.4M881.2 498.3h2.4M916.2 441.8h2.4M928.2 476.8h2.4M878.5 463.2h2.4M907.7 498.5h2.4M914.7 536h2.4M884 445.8h2.4M917.3 532.9h2.4M913.7 499.6h2.4M903.1 463.3h2.4M921.5 499.5h2.4M901.4 510.2h2.4M904.8 444.7h2.4M923.5 459.4h2.4M899.5 452.3h2.4M931.8 504.5h2.4M904.5 487.3h2.4M919.6 518.1h2.4M915.9 503.4h2.4M888.8 520.5h2.4M922 493.1h2.4M916.4 487.8h2.4M906.8 514.3h2.4M910.7 516.4h2.4M913.4 480.4h2.4M896.1 463.4h2.4M896 458.9h2.4M894.9 530.8h2.4M926.9 441.3h2.4M900.4 456.2h2.4M896.8 512.3h2.4M905.7 502.8h2.4M885.6 528.8h2.4M908.1 444.8h2.4M919.8 515.4h2.4M915.3 500.1h2.4M919.8 466.5h2.4M915.4 528.1h2.4M894.8 445.1h2.4M879.2 498.4h2.4M926.8 526h2.4M886 469h2.4M902.3 477.3h2.4M903.3 539.5h2.4M931 468.3h2.4M884.4 491.5h2.4M922.7 466.4h2.4M886.4 529.5h2.4M916 459.9h2.4M890.4 513.4h2.4M904.7 441.7h2.4M890.4 441.2h2.4M888.7 523.3h2.4M904.3 485h2.4M928.7 493.2h2.4M905.9 520.5h2.4M923.2 483.1h2.4M924.6 481h2.4M917.8 489h2.4M886.4 489.5h2.4M885.4 477.7h2.4M928.6 496.8h2.4M909.1 480.5h2.4M908.9 463.3h2.4M913.1 469.8h2.4M886 522.6h2.4M928.8 519.9h2.4M922.9 541.2h2.4M884.7 477.3h2.4M913.3 526.9h2.4M916.1 463.3h2.4M916.1 543.5h2.4M890.5 501.9h2.4M888.2 473.4h2.4M911.1 472.8h2.4M922.2 503.3h2.4M927.4 445.6h2.4M887.6 508.4h2.4M911.1 515.5h2.4M914.1 537.9h2.4M924.7 445.4h2.4M917.2 531.7h2.4M911.5 508.2h2.4M902.7 498.9h2.4M891.5 525.7h2.4M895.9 443.5h2.4M881.1 451.8h2.4M902.5 491.5h2.4M882.8 487.9h2.4M876.7 456.8h2.4M891.7 501.9h2.4M927.9 518.3h2.4M925.4 508.2h2.4M917.1 523.4h2.4M901.9 510.2h2.4M897.4 472.9h2.4M899.7 460.3h2.4M906.4 515.9h2.4M893.2 503.7h2.4M906.4 444.9h2.4M905.6 505.8h2.4M901.1 502h2.4M905.6 515.4h2.4M910.2 507.9h2.4M914 523.5h2.4M903.2 530.7h2.4M902.4 465h2.4M924.1 444.3h2.4M883.8 528.2h2.4M885.7 511.1h2.4M883.3 450.2h2.4M889.3 471.4h2.4M883.7 484.1h2.4M902.8 461.7h2.4M920.6 455.2h2.4M898.6 541h2.4M912.7 494.3h2.4M920.1 472.4h2.4M891.4 469h2.4M913.1 495.1h2.4M912 523.4h2.4M917.5 457.1h2.4M906.3 483.5h2.4M903 449h2.4M884.8 540.3h2.4M905.6 508.5h2.4M892.1 463.9h2.4M910.6 504.6h2.4M909.9 464.2h2.4M901.8 485.3h2.4M932.2 476.7h2.4M924.5 491.7h2.4M919.7 469.3h2.4M900.9 513.6h2.4M896.3 517.9h2.4M910.4 483.1h2.4M898.2 452.7h2.4M877.8 509.4h2.4M881.3 532h2.4M878.9 459.3h2.4M919.5 541h2.4M893.9 540.7h2.4M893.7 508.7h2.4M893.7 532.6h2.4M883.3 450.8h2.4M890.7 451.6h2.4M927.2 485.1h2.4M879.6 485.5h2.4M896 502.9h2.4M876.5 503.9h2.4M905.8 526.4h2.4M913.4 464.2h2.4M895.1 535.7h2.4M912 508.2h2.4M924.2 491.4h2.4M901.2 483.3h2.4M928.5 475.6h2.4M928.7 508.6h2.4M898 537.8h2.4M887.3 530h2.4M878.8 442.9h2.4M886 522.3h2.4M881.4 496.2h2.4M922.3 530.1h2.4M921.4 450.7h2.4M923 469.9h2.4M881.1 464h2.4M895.6 467.6h2.4M902.8 519.1h2.4M902.5 487.5h2.4M907 471.7h2.4M894.5 490h2.4M889.3 462.9h2.4M887.7 512.9h2.4M907.8 520.2h2.4M886.2 521.5h2.4M897.5 457.2h2.4M920.7 509.3h2.4M902.5 537.7h2.4M917.7 458.3h2.4M906.9 461h2.4M891.7 447.4h2.4M904.5 525.6h2.4M929 456.7h2.4M909.9 479.7h2.4M923.8 485h2.4M890.8 471.8h2.4M903.7 527h2.4M910 449.7h2.4M922.6 461.3h2.4M892.3 505.9h2.4M925.9 485.3h2.4M884.6 485.5h2.4M922.8 451.3h2.4M877.8 450.4h2.4M915.4 483.3h2.4M919 520.7h2.4M887.7 520.3h2.4M901 491.5h2.4M895.7 463.5h2.4M897.8 528.6h2.4M930.1 540.7h2.4M897.6 540.9h2.4M888.1 470.1h2.4M888.3 542.3h2.4M883.3 496.7h2.4M896.1 538.9h2.4M911.3 498.7h2.4M917.5 508.6h2.4M909.2 539.4h2.4M930.6 448.2h2.4M905.7 466.7h2.4M909.2 470.7h2.4M897.7 525.1h2.4M923.5 563.9h2.4M907.7 545.2h2.4M918.8 565h2.4M906.5 543h2.4M901.4 559.4h2.4M906.6 554.5h2.4M898.6 547h2.4M905.1 562.5h2.4M914.5 548.6h2.4M907.4 564.6h2.4M900.6 543.3h2.4M905.2 545h2.4M914.2 546.7h2.4M881.4 549.2h2.4M916 546.1h2.4M917.5 543h2.4M933.3 547.9h2.4M889.6 541h2.4M904.5 540.5h2.4M914 544.1h2.4M887.3 544.8h2.4M897.6 554.2h2.4M906.7 571.4h2.4M895.4 558.2h2.4M926.5 553.1h2.4M925.2 565.1h2.4M868.4 541.9h2.4M899.8 549h2.4M921.5 541.1h2.4M875.7 546.5h2.4M905.6 564.9h2.4M876.3 575.5h2.4M879.1 571.8h2.4M922.7 561.2h2.4M890.7 547.7h2.4M897.9 563.7h2.4M910.3 548.9h2.4M894 575.9h2.4M891 540.4h2.4M919.4 547.8h2.4M913.7 542.5h2.4M900.4 549.4h2.4M891 552.2h2.4M879.8 556.4h2.4M892.4 556.9h2.4M905.4 572.4h2.4M937.3 572.8h2.4M903.2 544.8h2.4M903 569.3h2.4M893.6 558.9h2.4M909.7 554.1h2.4M914.2 541.2h2.4M927.7 570.9h2.4M909.2 572.4h2.4M918.3 575.8h2.4M950.5 574.8h2.4M895.4 546.3h2.4M896.4 544.5h2.4M901.3 572.1h2.4M890.3 551.1h2.4M886.7 567.7h2.4M921.6 565.7h2.4M926.9 554.5h2.4M906.6 550.1h2.4M902.4 541h2.4M888.1 564.4h2.4M920 544.6h2.4M908.3 558.2h2.4M914.9 560.3h2.4M896.2 542.8h2.4M901.9 557h2.4M884.7 574.9h2.4M925.6 543.1h2.4M913.8 559.9h2.4M895.3 574.9h2.4M919.5 554.8h2.4M861.4 541h2.4M872.2 545.9h2.4M913.1 542.9h2.4M886.7 575h2.4M912.2 542h2.4M926.6 554.6h2.4M919.1 570h2.4M898.2 575.9h2.4M918.9 561.9h2.4M886.4 551.1h2.4M925.8 542.1h2.4M916.2 554.3h2.4M897.2 551.3h2.4M909.3 564.3h2.4M897.6 554.2h2.4M891.5 561.3h2.4M942.7 550.8h2.4M941 541.2h2.4M922.5 541.5h2.4M888.9 540.9h2.4M934.8 572.4h2.4M930.1 540.7h2.4M918.6 575.2h2.4M920.5 559.2h2.4M885 571.1h2.4M886.4 569h2.4M906 543.9h2.4M906.3 553.9h2.4M896.4 554.7h2.4M952.7 544.2h2.4M888.2 574.3h2.4M898 549.2h2.4M911.8 573.3h2.4M918.4 553.1h2.4M885.6 542.2h2.4M926.3 553.7h2.4M886.1 556.6h2.4M902.7 569.2h2.4M906.5 551.5h2.4M890.4 545.8h2.4M916.7 562.4h2.4M902.6 546.3h2.4M875.6 567.8h2.4M891.6 555.1h2.4M894.6 573.2h2.4M911.8 548h2.4M919.2 548.1h2.4M889.2 560.4h2.4M923 556.9h2.4M905.3 541.8h2.4M923 544.4h2.4M913.3 545.1h2.4M913 560.3h2.4M891.8 554.5h2.4M888.6 543.6h2.4M926.8 566.9h2.4M935.6 573.5h2.4M900.8 547.4h2.4M927.1 555.4h2.4M918.1 562.6h2.4M904.8 555.6h2.4M884.2 558h2.4M892.3 572.6h2.4M913.2 573.7h2.4M876.4 547h2.4M933.5 553.9h2.4M907.9 565.6h2.4M918.4 553.8h2.4M914.2 557h2.4M911.1 553.9h2.4M897 565.3h2.4M917.8 572.3h2.4M909.9 570.5h2.4M953.4 563.3h2.4M918.2 549h2.4M888.4 567.2h2.4M916.8 542.3h2.4M917.6 548.2h2.4M950.1 545.2h2.4M949.2 552.8h2.4M936.5 555.4h2.4M889.6 541.9h2.4M899.1 540.9h2.4M916.2 557.2h2.4M904.1 551h2.4M921.9 549.2h2.4M940.7 571.9h2.4M899.3 544.5h2.4M932.3 540.3h2.4M901.5 555.2h2.4M939.8 563.2h2.4M907.5 575h2.4M915.2 560.8h2.4M915.5 564.7h2.4M915.1 571.4h2.4M911 541.1h2.4M919.8 561h2.4M890.8 541.7h2.4M892.2 546.5h2.4M938.7 549.7h2.4M891.1 544.7h2.4M895.1 564.3h2.4M927.8 542.9h2.4M899 567.7h2.4M977.4 564h2.4M905.9 568.5h2.4M884.1 571.7h2.4M915.4 557.9h2.4M898.5 546.1h2.4M887.1 570.4h2.4M908.7 542.6h2.4M886 562.1h2.4M891.4 550.6h2.4M899 563.4h2.4M914.5 548.8h2.4M920.8 552.5h2.4M891 542.6h2.4M878.8 567.2h2.4M868.2 544.9h2.4M907.1 554.9h2.4M884.2 570.2h2.4M911.3 544.2h2.4M907.4 561.9h2.4M891.7 544.6h2.4M895.6 549.7h2.4M889.4 568.5h2.4M924.7 542.3h2.4M927.6 557h2.4M939.6 570.9h2.4M918.6 551.8h2.4M905.8 566.9h2.4M927.6 544.2h2.4M930.1 544.2h2.4M895.3 570.6h2.4M884.7 540.3h2.4M895.2 575.3h2.4M929 564.9h2.4M887.3 561.4h2.4M904.1 562.5h2.4M932 563.5h2.4M910 572.2h2.4M889.3 549.5h2.4M926.2 561.3h2.4M925.3 554.7h2.4M923.3 558.9h2.4M923.4 557.4h2.4M903.8 575.2h2.4M914.7 569.5h2.4M915.5 570h2.4M937.5 555.1h2.4M931.7 558.6h2.4M893.7 545.1h2.4M901.5 549.8h2.4M903.6 576.2h2.4M877.7 440h2.4M879.1 440h2.4M880.5 440h2.4M881.8 440h2.4M883.2 440h2.4M884.5 440h2.4M885.9 440h2.4M887.3 440h2.4M888.6 440h2.4M890 440h2.4M891.4 440h2.4M892.7 440h2.4M894.1 440h2.4M895.5 440h2.4M896.8 440h2.4M898.2 440h2.4M899.5 440h2.4M900.9 440h2.4M902.3 440h2.4M903.6 440h2.4M905 440h2.4M906.4 440h2.4M907.7 440h2.4M909.1 440h2.4M910.5 440h2.4M911.8 440h2.4M913.2 440h2.4M914.5 440h2.4M915.9 440h2.4M917.3 440h2.4M918.6 440h2.4M920 440h2.4M921.4 440h2.4M922.7 440h2.4M924.1 440h2.4M925.5 440h2.4M926.8 440h2.4M928.2 440h2.4M929.5 440h2.4M930.9 440h2.4M914.2 432.3h2.4M961.5 550.5h2.4M977.6 566h2.4M972.7 560.8h2.4M967.8 577.1h2.4M977.6 577.1h2.4M953.2 576.3h2.4M984.9 566h2.4" stroke="#04214f" stroke-width="5" stroke-linecap="round" fill="none"/>
</svg>
<rect x="832.4" y="410" width="167.3" height="180.8" fill="none" stroke="#111" stroke-width="1.6"/>
<line x1="826.9" y1="581.4" x2="832.4" y2="581.4" stroke="#222" stroke-width="1.4"/>
<line x1="826.9" y1="547.1" x2="832.4" y2="547.1" stroke="#222" stroke-width="1.4"/>
<line x1="826.9" y1="512.8" x2="832.4" y2="512.8" stroke="#222" stroke-width="1.4"/>
<line x1="826.9" y1="478.6" x2="832.4" y2="478.6" stroke="#222" stroke-width="1.4"/>
<line x1="826.9" y1="444.3" x2="832.4" y2="444.3" stroke="#222" stroke-width="1.4"/>
<line x1="826.9" y1="410" x2="832.4" y2="410" stroke="#222" stroke-width="1.4"/>
<line x1="842.4" y1="590.8" x2="842.4" y2="596.5" stroke="#222" stroke-width="1.4"/>
<text x="842.4" y="620.3" text-anchor="middle">70</text>
<line x1="891.1" y1="590.8" x2="891.1" y2="596.5" stroke="#222" stroke-width="1.4"/>
<text x="891.1" y="620.3" text-anchor="middle">80</text>
<line x1="939.8" y1="590.8" x2="939.8" y2="596.5" stroke="#222" stroke-width="1.4"/>
<text x="939.8" y="620.3" text-anchor="middle">90</text>
<line x1="988.5" y1="590.8" x2="988.5" y2="596.5" stroke="#222" stroke-width="1.4"/>
<text x="988.5" y="620.3" text-anchor="middle">100</text>
<text x="916" y="403.4" text-anchor="middle">Evo 2 40B</text>
<text x="636" y="588.4" text-anchor="end">0</text>
<text x="636" y="554.1" text-anchor="end">20</text>
<text x="636" y="519.8" text-anchor="end">40</text>
<text x="636" y="485.6" text-anchor="end">60</text>
<text x="636" y="451.3" text-anchor="end">80</text>
<text x="636" y="417" text-anchor="end">100</text>
<text x="588" y="499" text-anchor="middle" transform="rotate(-90 588 499)">Query cover (%)</text>
<defs><linearGradient id="civ" x1="0" y1="1" x2="0" y2="0">
<stop offset="0" stop-color="#00224e"/>
<stop offset="0.1" stop-color="#18335a"/>
<stop offset="0.2" stop-color="#304467"/>
<stop offset="0.3" stop-color="#495670"/>
<stop offset="0.4" stop-color="#626874"/>
<stop offset="0.5" stop-color="#7c7b78"/>
<stop offset="0.6" stop-color="#958f74"/>
<stop offset="0.7" stop-color="#afa470"/>
<stop offset="0.8" stop-color="#c9ba63"/>
<stop offset="0.9" stop-color="#e3d14e"/>
<stop offset="1" stop-color="#fde838"/>
</linearGradient></defs>
<rect x="1011.5" y="410" width="8.8" height="180.8" fill="url(#civ)" stroke="#111" stroke-width="1.2"/>
<line x1="1020.3" y1="438.3" x2="1025" y2="438.3" stroke="#222" stroke-width="1.3"/>
<text x="1031.5" y="445.3">−50</text>
<line x1="1020.3" y1="468.8" x2="1025" y2="468.8" stroke="#222" stroke-width="1.3"/>
<text x="1031.5" y="475.8">−100</text>
<line x1="1020.3" y1="499.3" x2="1025" y2="499.3" stroke="#222" stroke-width="1.3"/>
<text x="1031.5" y="506.3">−150</text>
<line x1="1020.3" y1="529.8" x2="1025" y2="529.8" stroke="#222" stroke-width="1.3"/>
<text x="1031.5" y="536.8">−200</text>
<line x1="1020.3" y1="560.3" x2="1025" y2="560.3" stroke="#222" stroke-width="1.3"/>
<text x="1031.5" y="567.3">−250</text>
<line x1="1020.3" y1="590.8" x2="1025" y2="590.8" stroke="#222" stroke-width="1.3"/>
<text x="1031.5" y="597.8">−300</text>
<text x="1106" y="499" text-anchor="middle" transform="rotate(-90 1106 499)">log<tspan font-size="14" dy="5">10</tspan><tspan dy="-5">(E-value)</tspan></text>
<text x="828.5" y="651.3" text-anchor="middle">Sequence identity (%)</text>
<line x1="648.5" y1="645.4" x2="720.8" y2="645.4" stroke="#222" stroke-width="1.3"/>
<line x1="931.8" y1="645.4" x2="999.7" y2="645.4" stroke="#222" stroke-width="1.3"/>
<text x="1151" y="387.6" font-size="32" font-weight="bold" fill="#000">e</text>
<text x="1152.5" y="430.2" font-size="19.5">Prompt</text>
<line x1="1224" y1="423.2" x2="1288" y2="423.2" stroke="#111" stroke-width="2"/>
<polygon points="1297,423.2 1284,418 1287,423.2 1284,428.4" fill="#111"/>
<line x1="1783.4" y1="427.7" x2="1903" y2="427.7" stroke="#111" stroke-width="2"/>
<line x1="1977" y1="427.7" x2="2076.8" y2="427.7" stroke="#111" stroke-width="2"/>
<line x1="1783.4" y1="423" x2="1783.4" y2="432.5" stroke="#111" stroke-width="2"/>
<line x1="2076.8" y1="423" x2="2076.8" y2="432.5" stroke="#111" stroke-width="2"/>
<text x="1940" y="434" font-size="19.5" text-anchor="middle">6,000 nt</text>
<text x="1152.5" y="457.8" font-size="19.5" font-style="italic">H. sapiens</text>
<polygon points="1368.2,505.1 1434.4,505.1 1434.4,554 1368.2,554" fill="#e1e1e1"/>
<polygon points="1434.9,505.1 1447.4,505.1 1447.4,554 1434.9,554" fill="#e1e1e1"/>
<polygon points="1555.2,505.1 1588.8,505.1 1483.5,554 1451,554" fill="#e1e1e1"/>
<polygon points="1596.4,505.1 1670.3,505.1 1565.3,554 1489.6,554" fill="#e1e1e1"/>
<polygon points="1690.6,505.1 1740.3,505.1 1635,554 1585.3,554" fill="#e1e1e1"/>
<polygon points="1750.8,505.1 1797,505.1 1691.6,554 1646.5,554" fill="#e1e1e1"/>
<polygon points="1881.2,505.1 1927.3,505.1 1823.1,554 1776.9,554" fill="#e1e1e1"/>
<polygon points="1297,569.4 1356.6,569.4 1356.6,617.9 1297,617.9" fill="#e1e1e1"/>
<polygon points="1368.2,569.4 1434.4,569.4 1473.5,617.9 1406.8,617.9" fill="#e1e1e1"/>
<polygon points="1434.9,569.4 1447.4,569.4 1488.5,617.9 1473.5,617.9" fill="#e1e1e1"/>
<polygon points="1451,569.4 1483.5,569.4 1627.5,617.9 1593.9,617.9" fill="#e1e1e1"/>
<polygon points="1489.6,569.4 1565.3,569.4 1710.2,617.9 1634,617.9" fill="#e1e1e1"/>
<polygon points="1585.3,569.4 1635,569.4 1779.4,617.9 1729.3,617.9" fill="#e1e1e1"/>
<polygon points="1646.5,569.4 1691.6,569.4 1836.1,617.9 1790.4,617.9" fill="#e1e1e1"/>
<polygon points="1696.6,569.4 1772.9,569.4 1916.3,617.9 1840.6,617.9" fill="#e1e1e1"/>
<polygon points="1776.9,569.4 1823.1,569.4 1966.5,617.9 1919.8,617.9" fill="#e1e1e1"/>
<polygon points="1297,633.3 1356.6,633.3 1356.6,694.1 1297,694.1" fill="#e1e1e1"/>
<polygon points="1406.8,633.3 1473.5,633.3 1568.8,694.1 1502,694.1" fill="#e1e1e1"/>
<polygon points="1473.5,633.3 1488.5,633.3 1583.8,694.1 1568.8,694.1" fill="#e1e1e1"/>
<polygon points="1489.6,633.3 1509.6,633.3 1603.9,694.1 1587.8,694.1" fill="#e1e1e1"/>
<polygon points="1511.1,633.3 1549.7,633.3 1645,694.1 1607.4,694.1" fill="#e1e1e1"/>
<polygon points="1550.2,633.3 1582.3,633.3 1678.1,694.1 1645,694.1" fill="#e1e1e1"/>
<polygon points="1582.3,633.3 1591.3,633.3 1686.6,694.1 1678.1,694.1" fill="#e1e1e1"/>
<polygon points="1593.9,633.3 1627.5,633.3 1723.2,694.1 1690.1,694.1" fill="#e1e1e1"/>
<polygon points="1634,633.3 1710.2,633.3 1804.5,694.1 1730.3,694.1" fill="#e1e1e1"/>
<polygon points="1729.3,633.3 1779.4,633.3 1873.2,694.1 1823,694.1" fill="#e1e1e1"/>
<polygon points="1790.4,633.3 1836.1,633.3 1931.4,694.1 1884.2,694.1" fill="#e1e1e1"/>
<polygon points="1840.6,633.3 1916.3,633.3 2013.6,694.1 1936.4,694.1" fill="#e1e1e1"/>
<polygon points="1919.8,633.3 1966.5,633.3 2065.3,694.1 2018.7,694.1" fill="#e1e1e1"/>
<polygon points="1297,709.5 1356.6,709.5 1356.6,758.3 1297,758.3" fill="#e1e1e1"/>
<polygon points="1502,709.5 1568.8,709.5 1434.4,758.3 1368.2,758.3" fill="#e1e1e1"/>
<polygon points="1568.8,709.5 1583.8,709.5 1447.4,758.3 1434.9,758.3" fill="#e1e1e1"/>
<polygon points="1587.8,709.5 1603.9,709.5 1469.5,758.3 1451,758.3" fill="#e1e1e1"/>
<polygon points="1607.4,709.5 1645,709.5 1509.6,758.3 1472,758.3" fill="#e1e1e1"/>
<polygon points="1645,709.5 1678.1,709.5 1542.2,758.3 1510.1,758.3" fill="#e1e1e1"/>
<polygon points="1678.1,709.5 1686.6,709.5 1550.8,758.3 1542.7,758.3" fill="#e1e1e1"/>
<polygon points="1690.1,709.5 1723.2,709.5 1588.8,758.3 1555.2,758.3" fill="#e1e1e1"/>
<polygon points="1730.3,709.5 1804.5,709.5 1670.3,758.3 1596.4,758.3" fill="#e1e1e1"/>
<polygon points="1823,709.5 1873.2,709.5 1740.3,758.3 1690.6,758.3" fill="#e1e1e1"/>
<polygon points="1884.2,709.5 1931.4,709.5 1797,758.3 1750.8,758.3" fill="#e1e1e1"/>
<polygon points="1936.4,709.5 2013.6,709.5 1882.2,758.3 1801,758.3" fill="#e1e1e1"/>
<polygon points="2018.7,709.5 2065.3,709.5 1932.4,758.3 1887.2,758.3" fill="#e1e1e1"/>
<polygon points="1297,773.7 1356.6,773.7 1356.6,823 1297,823" fill="#e1e1e1"/>
<polygon points="1368.2,773.7 1434.4,773.7 1434.4,823 1368.2,823" fill="#e1e1e1"/>
<polygon points="1434.9,773.7 1447.4,773.7 1447.4,823 1434.9,823" fill="#e1e1e1"/>
<polygon points="1451,773.7 1469.5,773.7 1469.5,823 1451,823" fill="#e1e1e1"/>
<polygon points="1472,773.7 1509.6,773.7 1509.6,823 1471,823" fill="#e1e1e1"/>
<polygon points="1510.1,773.7 1542.2,773.7 1710.7,823 1677.6,823" fill="#e1e1e1"/>
<polygon points="1542.7,773.7 1550.8,773.7 1719.2,823 1710.7,823" fill="#e1e1e1"/>
<polygon points="1555.2,773.7 1588.8,773.7 1755.8,823 1721.7,823" fill="#e1e1e1"/>
<polygon points="1596.4,773.7 1670.3,773.7 1838.1,823 1762.9,823" fill="#e1e1e1"/>
<polygon points="1690.6,773.7 1740.3,773.7 1907.3,823 1857.1,823" fill="#e1e1e1"/>
<polygon points="1750.8,773.7 1797,773.7 1965,823 1917.3,823" fill="#e1e1e1"/>
<polygon points="1801,773.7 1882.2,773.7 2048.7,823 1970,823" fill="#e1e1e1"/>
<polygon points="1887.2,773.7 1932.4,773.7 2076.8,823 2051.7,823" fill="#e1e1e1"/>
<polygon points="1297,838.4 1356.6,838.4 1356.6,887.2 1297,887.2" fill="#e1e1e1"/>
<polygon points="1368.2,838.4 1434.4,838.4 1434.4,887.2 1368.2,887.2" fill="#e1e1e1"/>
<polygon points="1434.9,838.4 1447.4,838.4 1447.4,887.2 1434.9,887.2" fill="#e1e1e1"/>
<polygon points="1451,838.4 1469.5,838.4 1469.5,887.2 1451,887.2" fill="#e1e1e1"/>
<polygon points="1471,838.4 1509.6,838.4 1509.6,887.2 1472,887.2" fill="#e1e1e1"/>
<polygon points="1677.6,838.4 1710.7,838.4 1542.2,887.2 1510.1,887.2" fill="#e1e1e1"/>
<polygon points="1710.7,838.4 1719.2,838.4 1550.8,887.2 1542.7,887.2" fill="#e1e1e1"/>
<polygon points="1721.7,838.4 1755.8,838.4 1588.8,887.2 1555.2,887.2" fill="#e1e1e1"/>
<polygon points="1762.9,838.4 1838.1,838.4 1670.3,887.2 1596.4,887.2" fill="#e1e1e1"/>
<polygon points="1857.1,838.4 1907.3,838.4 1740.3,887.2 1690.6,887.2" fill="#e1e1e1"/>
<polygon points="1917.3,838.4 1965,838.4 1797,887.2 1750.8,887.2" fill="#e1e1e1"/>
<polygon points="1970,838.4 2048.7,838.4 1878.2,887.2 1801,887.2" fill="#e1e1e1"/>
<polygon points="2051.7,838.4 2076.8,838.4 1928.3,887.2 1882.2,887.2" fill="#e1e1e1"/>
<line x1="1151" y1="497.4" x2="1958.5" y2="497.4" stroke="#222" stroke-width="1.3"/>
<polygon points="1177,489.7 1180.5,497.4 1177,505.1" fill="#ffffff" stroke="#2a2a2a" stroke-width="0.9" stroke-linejoin="miter"/>
<polygon points="1184,489.7 1180.5,497.4 1184,505.1" fill="#ffffff" stroke="#2a2a2a" stroke-width="0.9" stroke-linejoin="miter"/>
<polygon points="1239.5,489.7 1241.8,497.4 1239.5,505.1" fill="#ffffff" stroke="#2a2a2a" stroke-width="0.9" stroke-linejoin="miter"/>
<polygon points="1356.7,489.7 1360.4,497.4 1356.7,505.1" fill="#ffffff" stroke="#2a2a2a" stroke-width="0.9" stroke-linejoin="miter"/>
<polygon points="1364.1,489.7 1360.4,497.4 1364.1,505.1" fill="#ffffff" stroke="#2a2a2a" stroke-width="0.9" stroke-linejoin="miter"/>
<polygon points="1364.1,489.7 1367.8,497.4 1364.1,505.1" fill="#ffffff" stroke="#2a2a2a" stroke-width="0.9" stroke-linejoin="miter"/>
<polygon points="1447.6,489.7 1451,497.4 1447.6,505.1" fill="#ffffff" stroke="#2a2a2a" stroke-width="0.9" stroke-linejoin="miter"/>
<polygon points="1469.5,489.7 1472,497.4 1469.5,505.1" fill="#ffffff" stroke="#2a2a2a" stroke-width="0.9" stroke-linejoin="miter"/>
<polygon points="1551,489.7 1553,497.4 1551,505.1" fill="#ffffff" stroke="#2a2a2a" stroke-width="0.9" stroke-linejoin="miter"/>
<polygon points="1555,489.7 1553,497.4 1555,505.1" fill="#ffffff" stroke="#2a2a2a" stroke-width="0.9" stroke-linejoin="miter"/>
<polygon points="1589,489.7 1592.5,497.4 1589,505.1" fill="#ffffff" stroke="#2a2a2a" stroke-width="0.9" stroke-linejoin="miter"/>
<polygon points="1596,489.7 1592.5,497.4 1596,505.1" fill="#ffffff" stroke="#2a2a2a" stroke-width="0.9" stroke-linejoin="miter"/>
<polygon points="1670.3,489.7 1674.4,497.4 1670.3,505.1" fill="#ffffff" stroke="#2a2a2a" stroke-width="0.9" stroke-linejoin="miter"/>
<polygon points="1678.4,489.7 1674.4,497.4 1678.4,505.1" fill="#ffffff" stroke="#2a2a2a" stroke-width="0.9" stroke-linejoin="miter"/>
<polygon points="1678.4,489.7 1682.5,497.4 1678.4,505.1" fill="#ffffff" stroke="#2a2a2a" stroke-width="0.9" stroke-linejoin="miter"/>
<polygon points="1686.5,489.7 1682.5,497.4 1686.5,505.1" fill="#ffffff" stroke="#2a2a2a" stroke-width="0.9" stroke-linejoin="miter"/>
<polygon points="1686.5,489.7 1690.6,497.4 1686.5,505.1" fill="#ffffff" stroke="#2a2a2a" stroke-width="0.9" stroke-linejoin="miter"/>
<polygon points="1740.3,489.7 1743.8,497.4 1740.3,505.1" fill="#ffffff" stroke="#2a2a2a" stroke-width="0.9" stroke-linejoin="miter"/>
<polygon points="1747.3,489.7 1743.8,497.4 1747.3,505.1" fill="#ffffff" stroke="#2a2a2a" stroke-width="0.9" stroke-linejoin="miter"/>
<polygon points="1747.3,489.7 1750.8,497.4 1747.3,505.1" fill="#ffffff" stroke="#2a2a2a" stroke-width="0.9" stroke-linejoin="miter"/>
<polygon points="1797,489.7 1800.3,497.4 1797,505.1" fill="#ffffff" stroke="#2a2a2a" stroke-width="0.9" stroke-linejoin="miter"/>
<polygon points="1803.7,489.7 1800.3,497.4 1803.7,505.1" fill="#ffffff" stroke="#2a2a2a" stroke-width="0.9" stroke-linejoin="miter"/>
<polygon points="1803.7,489.7 1807,497.4 1803.7,505.1" fill="#ffffff" stroke="#2a2a2a" stroke-width="0.9" stroke-linejoin="miter"/>
<polygon points="1877.2,489.7 1881.2,497.4 1877.2,505.1" fill="#ffffff" stroke="#2a2a2a" stroke-width="0.9" stroke-linejoin="miter"/>
<polygon points="1927.3,489.7 1931,497.4 1927.3,505.1" fill="#ffffff" stroke="#2a2a2a" stroke-width="0.9" stroke-linejoin="miter"/>
<polygon points="1239.3,489.7 1188.7,489.7 1184.1,497.4 1188.7,505.1 1239.3,505.1" fill="#5b9fe0" stroke="#2a2a2a" stroke-width="1.1" stroke-linejoin="miter"/>
<polygon points="1241.8,489.7 1263.3,489.7 1267.9,497.4 1263.3,505.1 1241.8,505.1" fill="#c3d8f0" stroke="#2a2a2a" stroke-width="1.1" stroke-linejoin="miter"/>
<polygon points="1356.6,489.7 1274,489.7 1269.4,497.4 1274,505.1 1356.6,505.1" fill="#3e79a2" stroke="#2a2a2a" stroke-width="1.1" stroke-linejoin="miter"/>
<polygon points="1434.4,489.7 1372.8,489.7 1368.2,497.4 1372.8,505.1 1434.4,505.1" fill="#4790c9" stroke="#2a2a2a" stroke-width="1.1" stroke-linejoin="miter"/>
<polygon points="1447.4,489.7 1439.5,489.7 1434.9,497.4 1439.5,505.1 1447.4,505.1" fill="#cfe2f3" stroke="#2a2a2a" stroke-width="1.1" stroke-linejoin="miter"/>
<polygon points="1469.5,489.7 1455.6,489.7 1451,497.4 1455.6,505.1 1469.5,505.1" fill="#7aa2c6" stroke="#2a2a2a" stroke-width="1.1" stroke-linejoin="miter"/>
<polygon points="1509.6,489.7 1476.6,489.7 1472,497.4 1476.6,505.1 1509.6,505.1" fill="#80abe5" stroke="#2a2a2a" stroke-width="1.1" stroke-linejoin="miter"/>
<polygon points="1542.2,489.7 1514.7,489.7 1510.1,497.4 1514.7,505.1 1542.2,505.1" fill="#9ed9ee" stroke="#2a2a2a" stroke-width="1.1" stroke-linejoin="miter"/>
<polygon points="1542.7,489.7 1550.8,489.7 1550.8,505.1 1542.7,505.1" fill="#eef2f5" stroke="#2a2a2a" stroke-width="1.1" stroke-linejoin="miter"/>
<polygon points="1588.8,489.7 1559.8,489.7 1555.2,497.4 1559.8,505.1 1588.8,505.1" fill="#5aa2cf" stroke="#2a2a2a" stroke-width="1.1" stroke-linejoin="miter"/>
<polygon points="1670.3,489.7 1601,489.7 1596.4,497.4 1601,505.1 1670.3,505.1" fill="#60b4e7" stroke="#2a2a2a" stroke-width="1.1" stroke-linejoin="miter"/>
<polygon points="1740.3,489.7 1695.2,489.7 1690.6,497.4 1695.2,505.1 1740.3,505.1" fill="#5f9bd0" stroke="#2a2a2a" stroke-width="1.1" stroke-linejoin="miter"/>
<polygon points="1797,489.7 1755.4,489.7 1750.8,497.4 1755.4,505.1 1797,505.1" fill="#a9c4e8" stroke="#2a2a2a" stroke-width="1.1" stroke-linejoin="miter"/>
<polygon points="1877.2,489.7 1811.6,489.7 1807,497.4 1811.6,505.1 1877.2,505.1" fill="#eef0f0" stroke="#2a2a2a" stroke-width="1.1" stroke-linejoin="miter"/>
<polygon points="1927.3,489.7 1885.8,489.7 1881.2,497.4 1885.8,505.1 1927.3,505.1" fill="#4470b8" stroke="#2a2a2a" stroke-width="1.1" stroke-linejoin="miter"/>
<line x1="1151" y1="561.7" x2="1184" y2="561.7" stroke="#9a9a9a" stroke-width="1.3"/>
<line x1="1184" y1="561.7" x2="2076.8" y2="561.7" stroke="#222" stroke-width="1.3"/>
<polygon points="1177,554 1180.5,561.7 1177,569.4" fill="#dfe6ee" stroke="#9a9a9a" stroke-width="0.9" stroke-linejoin="miter"/>
<polygon points="1184,554 1180.5,561.7 1184,569.4" fill="#dfe6ee" stroke="#9a9a9a" stroke-width="0.9" stroke-linejoin="miter"/>
<polygon points="1239.3,554 1188.7,554 1184.1,561.7 1188.7,569.4 1239.3,569.4" fill="#c9dff5" stroke="#9a9a9a" stroke-width="1.1" stroke-linejoin="miter"/>
<polygon points="1239.5,554 1241.8,561.7 1239.5,569.4" fill="#dfe6ee" stroke="#9a9a9a" stroke-width="0.9" stroke-linejoin="miter"/>
<polygon points="1241.8,554 1263.3,554 1267.9,561.7 1263.3,569.4 1241.8,569.4" fill="#e7eef9" stroke="#9a9a9a" stroke-width="1.1" stroke-linejoin="miter"/>
<polygon points="1297,554 1274,554 1269.4,561.7 1274,569.4 1297,569.4" fill="#b6cddd" stroke="#9a9a9a" stroke-width="1" stroke-linejoin="miter"/>
<polygon points="1356.7,554 1362.2,561.7 1356.7,569.4" fill="#ffffff" stroke="#2a2a2a" stroke-width="0.9" stroke-linejoin="miter"/>
<polygon points="1367.8,554 1362.2,561.7 1367.8,569.4" fill="#ffffff" stroke="#2a2a2a" stroke-width="0.9" stroke-linejoin="miter"/>
<polygon points="1447.6,554 1451,561.7 1447.6,569.4" fill="#ffffff" stroke="#2a2a2a" stroke-width="0.9" stroke-linejoin="miter"/>
<polygon points="1483.5,554 1486.5,561.7 1483.5,569.4" fill="#ffffff" stroke="#2a2a2a" stroke-width="0.9" stroke-linejoin="miter"/>
<polygon points="1489.6,554 1486.5,561.7 1489.6,569.4" fill="#ffffff" stroke="#2a2a2a" stroke-width="0.9" stroke-linejoin="miter"/>
<polygon points="1565.3,554 1569.3,561.7 1565.3,569.4" fill="#ffffff" stroke="#2a2a2a" stroke-width="0.9" stroke-linejoin="miter"/>
<polygon points="1573.3,554 1569.3,561.7 1573.3,569.4" fill="#ffffff" stroke="#2a2a2a" stroke-width="0.9" stroke-linejoin="miter"/>
<polygon points="1573.3,554 1577.3,561.7 1573.3,569.4" fill="#ffffff" stroke="#2a2a2a" stroke-width="0.9" stroke-linejoin="miter"/>
<polygon points="1581.3,554 1577.3,561.7 1581.3,569.4" fill="#ffffff" stroke="#2a2a2a" stroke-width="0.9" stroke-linejoin="miter"/>
<polygon points="1581.3,554 1585.3,561.7 1581.3,569.4" fill="#ffffff" stroke="#2a2a2a" stroke-width="0.9" stroke-linejoin="miter"/>
<polygon points="1635,554 1638.8,561.7 1635,569.4" fill="#ffffff" stroke="#2a2a2a" stroke-width="0.9" stroke-linejoin="miter"/>
<polygon points="1642.7,554 1638.8,561.7 1642.7,569.4" fill="#ffffff" stroke="#2a2a2a" stroke-width="0.9" stroke-linejoin="miter"/>
<polygon points="1642.7,554 1646.5,561.7 1642.7,569.4" fill="#ffffff" stroke="#2a2a2a" stroke-width="0.9" stroke-linejoin="miter"/>
<polygon points="1691.6,554 1696.6,561.7 1691.6,569.4" fill="#ffffff" stroke="#2a2a2a" stroke-width="0.9" stroke-linejoin="miter"/>
<polygon points="1772.9,554 1776.9,561.7 1772.9,569.4" fill="#ffffff" stroke="#2a2a2a" stroke-width="0.9" stroke-linejoin="miter"/>
<rect x="1297" y="554" width="59.6" height="15.4" fill="#3e79a2" stroke="#2a2a2a" stroke-width="1.1"/>
<polygon points="1297,554 1356.6,554 1356.6,569.4 1297,569.4" fill="#3e79a2" stroke="#2a2a2a" stroke-width="1.1" stroke-linejoin="miter"/>
<polygon points="1434.4,554 1372.8,554 1368.2,561.7 1372.8,569.4 1434.4,569.4" fill="#4790c9" stroke="#2a2a2a" stroke-width="1.1" stroke-linejoin="miter"/>
<polygon points="1447.4,554 1439.5,554 1434.9,561.7 1439.5,569.4 1447.4,569.4" fill="#cfe2f3" stroke="#2a2a2a" stroke-width="1.1" stroke-linejoin="miter"/>
<polygon points="1483.5,554 1455.6,554 1451,561.7 1455.6,569.4 1483.5,569.4" fill="#5ea6d2" stroke="#2a2a2a" stroke-width="1.1" stroke-linejoin="miter"/>
<polygon points="1565.3,554 1494.2,554 1489.6,561.7 1494.2,569.4 1565.3,569.4" fill="#62b4e6" stroke="#2a2a2a" stroke-width="1.1" stroke-linejoin="miter"/>
<polygon points="1635,554 1589.9,554 1585.3,561.7 1589.9,569.4 1635,569.4" fill="#5f9bd0" stroke="#2a2a2a" stroke-width="1.1" stroke-linejoin="miter"/>
<polygon points="1691.6,554 1651.1,554 1646.5,561.7 1651.1,569.4 1691.6,569.4" fill="#a9c4e8" stroke="#2a2a2a" stroke-width="1.1" stroke-linejoin="miter"/>
<polygon points="1772.9,554 1701.2,554 1696.6,561.7 1701.2,569.4 1772.9,569.4" fill="#9ac8ea" stroke="#2a2a2a" stroke-width="1.1" stroke-linejoin="miter"/>
<polygon points="1823.1,554 1781.5,554 1776.9,561.7 1781.5,569.4 1823.1,569.4" fill="#4470b8" stroke="#2a2a2a" stroke-width="1.1" stroke-linejoin="miter"/>
<line x1="1151" y1="625.6" x2="1184" y2="625.6" stroke="#9a9a9a" stroke-width="1.3"/>
<line x1="1184" y1="625.6" x2="2076.8" y2="625.6" stroke="#222" stroke-width="1.3"/>
<polygon points="1177,617.9 1180.5,625.6 1177,633.3" fill="#dfe6ee" stroke="#9a9a9a" stroke-width="0.9" stroke-linejoin="miter"/>
<polygon points="1184,617.9 1180.5,625.6 1184,633.3" fill="#dfe6ee" stroke="#9a9a9a" stroke-width="0.9" stroke-linejoin="miter"/>
<polygon points="1239.3,617.9 1188.7,617.9 1184.1,625.6 1188.7,633.3 1239.3,633.3" fill="#c9dff5" stroke="#9a9a9a" stroke-width="1.1" stroke-linejoin="miter"/>
<polygon points="1239.5,617.9 1241.8,625.6 1239.5,633.3" fill="#dfe6ee" stroke="#9a9a9a" stroke-width="0.9" stroke-linejoin="miter"/>
<polygon points="1241.8,617.9 1263.3,617.9 1267.9,625.6 1263.3,633.3 1241.8,633.3" fill="#e7eef9" stroke="#9a9a9a" stroke-width="1.1" stroke-linejoin="miter"/>
<polygon points="1297,617.9 1274,617.9 1269.4,625.6 1274,633.3 1297,633.3" fill="#b6cddd" stroke="#9a9a9a" stroke-width="1" stroke-linejoin="miter"/>
<polygon points="1356.7,617.9 1361.3,625.6 1356.7,633.3" fill="#ffffff" stroke="#2a2a2a" stroke-width="0.9" stroke-linejoin="miter"/>
<polygon points="1366,617.9 1361.3,625.6 1366,633.3" fill="#ffffff" stroke="#2a2a2a" stroke-width="0.9" stroke-linejoin="miter"/>
<polygon points="1396.8,617.9 1400.1,625.6 1396.8,633.3" fill="#ffffff" stroke="#2a2a2a" stroke-width="0.9" stroke-linejoin="miter"/>
<polygon points="1403.5,617.9 1400.1,625.6 1403.5,633.3" fill="#ffffff" stroke="#2a2a2a" stroke-width="0.9" stroke-linejoin="miter"/>
<polygon points="1403.5,617.9 1406.8,625.6 1403.5,633.3" fill="#ffffff" stroke="#2a2a2a" stroke-width="0.9" stroke-linejoin="miter"/>
<polygon points="1591.3,617.9 1593.9,625.6 1591.3,633.3" fill="#ffffff" stroke="#2a2a2a" stroke-width="0.9" stroke-linejoin="miter"/>
<polygon points="1627.5,617.9 1630.8,625.6 1627.5,633.3" fill="#ffffff" stroke="#2a2a2a" stroke-width="0.9" stroke-linejoin="miter"/>
<polygon points="1634,617.9 1630.8,625.6 1634,633.3" fill="#ffffff" stroke="#2a2a2a" stroke-width="0.9" stroke-linejoin="miter"/>
<polygon points="1710.2,617.9 1714,625.6 1710.2,633.3" fill="#ffffff" stroke="#2a2a2a" stroke-width="0.9" stroke-linejoin="miter"/>
<polygon points="1717.8,617.9 1714,625.6 1717.8,633.3" fill="#ffffff" stroke="#2a2a2a" stroke-width="0.9" stroke-linejoin="miter"/>
<polygon points="1717.8,617.9 1721.7,625.6 1717.8,633.3" fill="#ffffff" stroke="#2a2a2a" stroke-width="0.9" stroke-linejoin="miter"/>
<polygon points="1725.5,617.9 1721.7,625.6 1725.5,633.3" fill="#ffffff" stroke="#2a2a2a" stroke-width="0.9" stroke-linejoin="miter"/>
<polygon points="1725.5,617.9 1729.3,625.6 1725.5,633.3" fill="#ffffff" stroke="#2a2a2a" stroke-width="0.9" stroke-linejoin="miter"/>
<polygon points="1779.4,617.9 1783.1,625.6 1779.4,633.3" fill="#ffffff" stroke="#2a2a2a" stroke-width="0.9" stroke-linejoin="miter"/>
<polygon points="1786.7,617.9 1783.1,625.6 1786.7,633.3" fill="#ffffff" stroke="#2a2a2a" stroke-width="0.9" stroke-linejoin="miter"/>
<polygon points="1786.7,617.9 1790.4,625.6 1786.7,633.3" fill="#ffffff" stroke="#2a2a2a" stroke-width="0.9" stroke-linejoin="miter"/>
<polygon points="1836.1,617.9 1840.6,625.6 1836.1,633.3" fill="#ffffff" stroke="#2a2a2a" stroke-width="0.9" stroke-linejoin="miter"/>
<polygon points="1916.3,617.9 1919.8,625.6 1916.3,633.3" fill="#ffffff" stroke="#2a2a2a" stroke-width="0.9" stroke-linejoin="miter"/>
<polygon points="1966.5,617.9 1970.2,625.6 1966.5,633.3" fill="#ffffff" stroke="#2a2a2a" stroke-width="0.9" stroke-linejoin="miter"/>
<polygon points="1974,617.9 1970.2,625.6 1974,633.3" fill="#ffffff" stroke="#2a2a2a" stroke-width="0.9" stroke-linejoin="miter"/>
<rect x="1297" y="617.9" width="59.6" height="15.4" fill="#3e79a2" stroke="#2a2a2a" stroke-width="1.1"/>
<polygon points="1297,617.9 1356.6,617.9 1356.6,633.3 1297,633.3" fill="#3e79a2" stroke="#2a2a2a" stroke-width="1.1" stroke-linejoin="miter"/>
<polygon points="1473.5,617.9 1411.4,617.9 1406.8,625.6 1411.4,633.3 1473.5,633.3" fill="#4790c9" stroke="#2a2a2a" stroke-width="1.1" stroke-linejoin="miter"/>
<polygon points="1488.5,617.9 1478.1,617.9 1473.5,625.6 1478.1,633.3 1488.5,633.3" fill="#cfe2f3" stroke="#2a2a2a" stroke-width="1.1" stroke-linejoin="miter"/>
<polygon points="1509.6,617.9 1494.2,617.9 1489.6,625.6 1494.2,633.3 1509.6,633.3" fill="#7aa2c6" stroke="#2a2a2a" stroke-width="1.1" stroke-linejoin="miter"/>
<polygon points="1549.7,617.9 1515.7,617.9 1511.1,625.6 1515.7,633.3 1549.7,633.3" fill="#80abe5" stroke="#2a2a2a" stroke-width="1.1" stroke-linejoin="miter"/>
<polygon points="1582.3,617.9 1554.8,617.9 1550.2,625.6 1554.8,633.3 1582.3,633.3" fill="#9ed9ee" stroke="#2a2a2a" stroke-width="1.1" stroke-linejoin="miter"/>
<polygon points="1591.3,617.9 1586.9,617.9 1582.3,625.6 1586.9,633.3 1591.3,633.3" fill="#eef2f5" stroke="#2a2a2a" stroke-width="1.1" stroke-linejoin="miter"/>
<polygon points="1627.5,617.9 1598.5,617.9 1593.9,625.6 1598.5,633.3 1627.5,633.3" fill="#5aa2cf" stroke="#2a2a2a" stroke-width="1.1" stroke-linejoin="miter"/>
<polygon points="1710.2,617.9 1638.6,617.9 1634,625.6 1638.6,633.3 1710.2,633.3" fill="#62b4e6" stroke="#2a2a2a" stroke-width="1.1" stroke-linejoin="miter"/>
<polygon points="1779.4,617.9 1733.9,617.9 1729.3,625.6 1733.9,633.3 1779.4,633.3" fill="#5f9bd0" stroke="#2a2a2a" stroke-width="1.1" stroke-linejoin="miter"/>
<polygon points="1836.1,617.9 1795,617.9 1790.4,625.6 1795,633.3 1836.1,633.3" fill="#a9c4e8" stroke="#2a2a2a" stroke-width="1.1" stroke-linejoin="miter"/>
<polygon points="1916.3,617.9 1845.2,617.9 1840.6,625.6 1845.2,633.3 1916.3,633.3" fill="#9ac8ea" stroke="#2a2a2a" stroke-width="1.1" stroke-linejoin="miter"/>
<polygon points="1966.5,617.9 1924.4,617.9 1919.8,625.6 1924.4,633.3 1966.5,633.3" fill="#4470b8" stroke="#2a2a2a" stroke-width="1.1" stroke-linejoin="miter"/>
<text x="1586.3" y="606.7" font-size="19.5" text-anchor="middle" font-style="italic">ATP8</text>
<line x1="1562.1" y1="613.2" x2="1610.5" y2="613.2" stroke="#333" stroke-width="1.1"/>
<line x1="1586.3" y1="613.2" x2="1586.3" y2="617.9" stroke="#333" stroke-width="1.1"/>
<line x1="1151" y1="701.8" x2="1184" y2="701.8" stroke="#9a9a9a" stroke-width="1.3"/>
<line x1="1184" y1="701.8" x2="2076.8" y2="701.8" stroke="#222" stroke-width="1.3"/>
<polygon points="1177,694.1 1180.5,701.8 1177,709.5" fill="#dfe6ee" stroke="#9a9a9a" stroke-width="0.9" stroke-linejoin="miter"/>
<polygon points="1184,694.1 1180.5,701.8 1184,709.5" fill="#dfe6ee" stroke="#9a9a9a" stroke-width="0.9" stroke-linejoin="miter"/>
<polygon points="1239.3,694.1 1188.7,694.1 1184.1,701.8 1188.7,709.5 1239.3,709.5" fill="#c9dff5" stroke="#9a9a9a" stroke-width="1.1" stroke-linejoin="miter"/>
<polygon points="1239.5,694.1 1241.8,701.8 1239.5,709.5" fill="#dfe6ee" stroke="#9a9a9a" stroke-width="0.9" stroke-linejoin="miter"/>
<polygon points="1241.8,694.1 1263.3,694.1 1267.9,701.8 1263.3,709.5 1241.8,709.5" fill="#e7eef9" stroke="#9a9a9a" stroke-width="1.1" stroke-linejoin="miter"/>
<polygon points="1297,694.1 1274,694.1 1269.4,701.8 1274,709.5 1297,709.5" fill="#b6cddd" stroke="#9a9a9a" stroke-width="1" stroke-linejoin="miter"/>
<polygon points="1356.7,694.1 1360.4,701.8 1356.7,709.5" fill="#ffffff" stroke="#2a2a2a" stroke-width="0.9" stroke-linejoin="miter"/>
<polygon points="1364.1,694.1 1360.4,701.8 1364.1,709.5" fill="#ffffff" stroke="#2a2a2a" stroke-width="0.9" stroke-linejoin="miter"/>
<polygon points="1364.1,694.1 1367.8,701.8 1364.1,709.5" fill="#ffffff" stroke="#2a2a2a" stroke-width="0.9" stroke-linejoin="miter"/>
<polygon points="1491,694.1 1494.7,701.8 1491,709.5" fill="#ffffff" stroke="#2a2a2a" stroke-width="0.9" stroke-linejoin="miter"/>
<polygon points="1498.3,694.1 1494.7,701.8 1498.3,709.5" fill="#ffffff" stroke="#2a2a2a" stroke-width="0.9" stroke-linejoin="miter"/>
<polygon points="1498.3,694.1 1502,701.8 1498.3,709.5" fill="#ffffff" stroke="#2a2a2a" stroke-width="0.9" stroke-linejoin="miter"/>
<polygon points="1583.8,694.1 1587.8,701.8 1583.8,709.5" fill="#ffffff" stroke="#2a2a2a" stroke-width="0.9" stroke-linejoin="miter"/>
<polygon points="1603.9,694.1 1607.4,701.8 1603.9,709.5" fill="#ffffff" stroke="#2a2a2a" stroke-width="0.9" stroke-linejoin="miter"/>
<polygon points="1686.6,694.1 1690.1,701.8 1686.6,709.5" fill="#ffffff" stroke="#2a2a2a" stroke-width="0.9" stroke-linejoin="miter"/>
<polygon points="1723.2,694.1 1726.8,701.8 1723.2,709.5" fill="#ffffff" stroke="#2a2a2a" stroke-width="0.9" stroke-linejoin="miter"/>
<polygon points="1730.3,694.1 1726.8,701.8 1730.3,709.5" fill="#ffffff" stroke="#2a2a2a" stroke-width="0.9" stroke-linejoin="miter"/>
<polygon points="1804.5,694.1 1808.2,701.8 1804.5,709.5" fill="#ffffff" stroke="#2a2a2a" stroke-width="0.9" stroke-linejoin="miter"/>
<polygon points="1811.9,694.1 1808.2,701.8 1811.9,709.5" fill="#ffffff" stroke="#2a2a2a" stroke-width="0.9" stroke-linejoin="miter"/>
<polygon points="1811.9,694.1 1815.6,701.8 1811.9,709.5" fill="#ffffff" stroke="#2a2a2a" stroke-width="0.9" stroke-linejoin="miter"/>
<polygon points="1819.3,694.1 1815.6,701.8 1819.3,709.5" fill="#ffffff" stroke="#2a2a2a" stroke-width="0.9" stroke-linejoin="miter"/>
<polygon points="1819.3,694.1 1823,701.8 1819.3,709.5" fill="#ffffff" stroke="#2a2a2a" stroke-width="0.9" stroke-linejoin="miter"/>
<polygon points="1873.2,694.1 1876.9,701.8 1873.2,709.5" fill="#ffffff" stroke="#2a2a2a" stroke-width="0.9" stroke-linejoin="miter"/>
<polygon points="1880.5,694.1 1876.9,701.8 1880.5,709.5" fill="#ffffff" stroke="#2a2a2a" stroke-width="0.9" stroke-linejoin="miter"/>
<polygon points="1880.5,694.1 1884.2,701.8 1880.5,709.5" fill="#ffffff" stroke="#2a2a2a" stroke-width="0.9" stroke-linejoin="miter"/>
<polygon points="1931.4,694.1 1936.4,701.8 1931.4,709.5" fill="#ffffff" stroke="#2a2a2a" stroke-width="0.9" stroke-linejoin="miter"/>
<polygon points="2013.6,694.1 2018.7,701.8 2013.6,709.5" fill="#ffffff" stroke="#2a2a2a" stroke-width="0.9" stroke-linejoin="miter"/>
<polygon points="2065.3,694.1 2069,701.8 2065.3,709.5" fill="#ffffff" stroke="#2a2a2a" stroke-width="0.9" stroke-linejoin="miter"/>
<rect x="1297" y="694.1" width="59.6" height="15.4" fill="#3e79a2" stroke="#2a2a2a" stroke-width="1.1"/>
<polygon points="1297,694.1 1356.6,694.1 1356.6,709.5 1297,709.5" fill="#3e79a2" stroke="#2a2a2a" stroke-width="1.1" stroke-linejoin="miter"/>
<polygon points="1368.2,694.1 1412.3,694.1 1412.3,709.5 1368.2,709.5" fill="#eef0f0" stroke="#2a2a2a" stroke-width="1.1" stroke-linejoin="miter"/>
<polygon points="1491,694.1 1425.4,694.1 1420.8,701.8 1425.4,709.5 1491,709.5" fill="#3e79a2" stroke="#2a2a2a" stroke-width="1.1" stroke-linejoin="miter"/>
<polygon points="1568.8,694.1 1506.6,694.1 1502,701.8 1506.6,709.5 1568.8,709.5" fill="#4790c9" stroke="#2a2a2a" stroke-width="1.1" stroke-linejoin="miter"/>
<polygon points="1583.8,694.1 1573.4,694.1 1568.8,701.8 1573.4,709.5 1583.8,709.5" fill="#cfe2f3" stroke="#2a2a2a" stroke-width="1.1" stroke-linejoin="miter"/>
<polygon points="1603.9,694.1 1592.4,694.1 1587.8,701.8 1592.4,709.5 1603.9,709.5" fill="#7aa2c6" stroke="#2a2a2a" stroke-width="1.1" stroke-linejoin="miter"/>
<polygon points="1645,694.1 1612,694.1 1607.4,701.8 1612,709.5 1645,709.5" fill="#80abe5" stroke="#2a2a2a" stroke-width="1.1" stroke-linejoin="miter"/>
<polygon points="1678.1,694.1 1649.6,694.1 1645,701.8 1649.6,709.5 1678.1,709.5" fill="#9ed9ee" stroke="#2a2a2a" stroke-width="1.1" stroke-linejoin="miter"/>
<polygon points="1686.6,694.1 1682.7,694.1 1678.1,701.8 1682.7,709.5 1686.6,709.5" fill="#eef2f5" stroke="#2a2a2a" stroke-width="1.1" stroke-linejoin="miter"/>
<polygon points="1723.2,694.1 1694.7,694.1 1690.1,701.8 1694.7,709.5 1723.2,709.5" fill="#5aa2cf" stroke="#2a2a2a" stroke-width="1.1" stroke-linejoin="miter"/>
<polygon points="1804.5,694.1 1734.9,694.1 1730.3,701.8 1734.9,709.5 1804.5,709.5" fill="#62b4e6" stroke="#2a2a2a" stroke-width="1.1" stroke-linejoin="miter"/>
<polygon points="1873.2,694.1 1827.6,694.1 1823,701.8 1827.6,709.5 1873.2,709.5" fill="#5f9bd0" stroke="#2a2a2a" stroke-width="1.1" stroke-linejoin="miter"/>
<polygon points="1931.4,694.1 1888.8,694.1 1884.2,701.8 1888.8,709.5 1931.4,709.5" fill="#a9c4e8" stroke="#2a2a2a" stroke-width="1.1" stroke-linejoin="miter"/>
<polygon points="2013.6,694.1 1941,694.1 1936.4,701.8 1941,709.5 2013.6,709.5" fill="#9ac8ea" stroke="#2a2a2a" stroke-width="1.1" stroke-linejoin="miter"/>
<polygon points="2065.3,694.1 2023.3,694.1 2018.7,701.8 2023.3,709.5 2065.3,709.5" fill="#4470b8" stroke="#2a2a2a" stroke-width="1.1" stroke-linejoin="miter"/>
<text x="1390.8" y="685.3" font-size="19.5" text-anchor="middle" font-style="italic">ND4</text>
<line x1="1372.7" y1="691.8" x2="1408.9" y2="691.8" stroke="#333" stroke-width="1.1"/>
<line x1="1390.8" y1="691.8" x2="1390.8" y2="694.1" stroke="#333" stroke-width="1.1"/>
<text x="1681.6" y="685.3" font-size="19.5" text-anchor="middle" font-style="italic">ATP8</text>
<line x1="1657.4" y1="691.8" x2="1705.8" y2="691.8" stroke="#333" stroke-width="1.1"/>
<line x1="1681.6" y1="691.8" x2="1681.6" y2="694.1" stroke="#333" stroke-width="1.1"/>
<line x1="1151" y1="766" x2="1184" y2="766" stroke="#9a9a9a" stroke-width="1.3"/>
<line x1="1184" y1="766" x2="2076.8" y2="766" stroke="#222" stroke-width="1.3"/>
<polygon points="1177,758.3 1180.5,766 1177,773.7" fill="#dfe6ee" stroke="#9a9a9a" stroke-width="0.9" stroke-linejoin="miter"/>
<polygon points="1184,758.3 1180.5,766 1184,773.7" fill="#dfe6ee" stroke="#9a9a9a" stroke-width="0.9" stroke-linejoin="miter"/>
<polygon points="1239.3,758.3 1188.7,758.3 1184.1,766 1188.7,773.7 1239.3,773.7" fill="#c9dff5" stroke="#9a9a9a" stroke-width="1.1" stroke-linejoin="miter"/>
<polygon points="1239.5,758.3 1241.8,766 1239.5,773.7" fill="#dfe6ee" stroke="#9a9a9a" stroke-width="0.9" stroke-linejoin="miter"/>
<polygon points="1241.8,758.3 1263.3,758.3 1267.9,766 1263.3,773.7 1241.8,773.7" fill="#e7eef9" stroke="#9a9a9a" stroke-width="1.1" stroke-linejoin="miter"/>
<polygon points="1297,758.3 1274,758.3 1269.4,766 1274,773.7 1297,773.7" fill="#b6cddd" stroke="#9a9a9a" stroke-width="1" stroke-linejoin="miter"/>
<polygon points="1356.7,758.3 1360.4,766 1356.7,773.7" fill="#ffffff" stroke="#2a2a2a" stroke-width="0.9" stroke-linejoin="miter"/>
<polygon points="1364.1,758.3 1360.4,766 1364.1,773.7" fill="#ffffff" stroke="#2a2a2a" stroke-width="0.9" stroke-linejoin="miter"/>
<polygon points="1364.1,758.3 1367.8,766 1364.1,773.7" fill="#ffffff" stroke="#2a2a2a" stroke-width="0.9" stroke-linejoin="miter"/>
<polygon points="1447.6,758.3 1451,766 1447.6,773.7" fill="#ffffff" stroke="#2a2a2a" stroke-width="0.9" stroke-linejoin="miter"/>
<polygon points="1469.5,758.3 1472,766 1469.5,773.7" fill="#ffffff" stroke="#2a2a2a" stroke-width="0.9" stroke-linejoin="miter"/>
<polygon points="1551,758.3 1553,766 1551,773.7" fill="#ffffff" stroke="#2a2a2a" stroke-width="0.9" stroke-linejoin="miter"/>
<polygon points="1555,758.3 1553,766 1555,773.7" fill="#ffffff" stroke="#2a2a2a" stroke-width="0.9" stroke-linejoin="miter"/>
<polygon points="1589,758.3 1592.5,766 1589,773.7" fill="#ffffff" stroke="#2a2a2a" stroke-width="0.9" stroke-linejoin="miter"/>
<polygon points="1596,758.3 1592.5,766 1596,773.7" fill="#ffffff" stroke="#2a2a2a" stroke-width="0.9" stroke-linejoin="miter"/>
<polygon points="1670.3,758.3 1674.4,766 1670.3,773.7" fill="#ffffff" stroke="#2a2a2a" stroke-width="0.9" stroke-linejoin="miter"/>
<polygon points="1678.4,758.3 1674.4,766 1678.4,773.7" fill="#ffffff" stroke="#2a2a2a" stroke-width="0.9" stroke-linejoin="miter"/>
<polygon points="1678.4,758.3 1682.5,766 1678.4,773.7" fill="#ffffff" stroke="#2a2a2a" stroke-width="0.9" stroke-linejoin="miter"/>
<polygon points="1686.5,758.3 1682.5,766 1686.5,773.7" fill="#ffffff" stroke="#2a2a2a" stroke-width="0.9" stroke-linejoin="miter"/>
<polygon points="1686.5,758.3 1690.6,766 1686.5,773.7" fill="#ffffff" stroke="#2a2a2a" stroke-width="0.9" stroke-linejoin="miter"/>
<polygon points="1740.3,758.3 1743.8,766 1740.3,773.7" fill="#ffffff" stroke="#2a2a2a" stroke-width="0.9" stroke-linejoin="miter"/>
<polygon points="1747.3,758.3 1743.8,766 1747.3,773.7" fill="#ffffff" stroke="#2a2a2a" stroke-width="0.9" stroke-linejoin="miter"/>
<polygon points="1747.3,758.3 1750.8,766 1747.3,773.7" fill="#ffffff" stroke="#2a2a2a" stroke-width="0.9" stroke-linejoin="miter"/>
<polygon points="1797,758.3 1798.3,766 1797,773.7" fill="#ffffff" stroke="#2a2a2a" stroke-width="0.9" stroke-linejoin="miter"/>
<polygon points="1799.7,758.3 1798.3,766 1799.7,773.7" fill="#ffffff" stroke="#2a2a2a" stroke-width="0.9" stroke-linejoin="miter"/>
<polygon points="1799.7,758.3 1801,766 1799.7,773.7" fill="#ffffff" stroke="#2a2a2a" stroke-width="0.9" stroke-linejoin="miter"/>
<polygon points="1882.2,758.3 1887.2,766 1882.2,773.7" fill="#ffffff" stroke="#2a2a2a" stroke-width="0.9" stroke-linejoin="miter"/>
<polygon points="1932.4,758.3 1935.9,766 1932.4,773.7" fill="#ffffff" stroke="#2a2a2a" stroke-width="0.9" stroke-linejoin="miter"/>
<rect x="1297" y="758.3" width="59.6" height="15.4" fill="#3e79a2" stroke="#2a2a2a" stroke-width="1.1"/>
<polygon points="1297,758.3 1356.6,758.3 1356.6,773.7 1297,773.7" fill="#3e79a2" stroke="#2a2a2a" stroke-width="1.1" stroke-linejoin="miter"/>
<polygon points="1434.4,758.3 1372.8,758.3 1368.2,766 1372.8,773.7 1434.4,773.7" fill="#4790c9" stroke="#2a2a2a" stroke-width="1.1" stroke-linejoin="miter"/>
<polygon points="1447.4,758.3 1439.5,758.3 1434.9,766 1439.5,773.7 1447.4,773.7" fill="#cfe2f3" stroke="#2a2a2a" stroke-width="1.1" stroke-linejoin="miter"/>
<polygon points="1469.5,758.3 1455.6,758.3 1451,766 1455.6,773.7 1469.5,773.7" fill="#7aa2c6" stroke="#2a2a2a" stroke-width="1.1" stroke-linejoin="miter"/>
<polygon points="1509.6,758.3 1476.6,758.3 1472,766 1476.6,773.7 1509.6,773.7" fill="#80abe5" stroke="#2a2a2a" stroke-width="1.1" stroke-linejoin="miter"/>
<polygon points="1542.2,758.3 1514.7,758.3 1510.1,766 1514.7,773.7 1542.2,773.7" fill="#9ed9ee" stroke="#2a2a2a" stroke-width="1.1" stroke-linejoin="miter"/>
<polygon points="1542.7,758.3 1550.8,758.3 1550.8,773.7 1542.7,773.7" fill="#eef2f5" stroke="#2a2a2a" stroke-width="1.1" stroke-linejoin="miter"/>
<polygon points="1588.8,758.3 1559.8,758.3 1555.2,766 1559.8,773.7 1588.8,773.7" fill="#5aa2cf" stroke="#2a2a2a" stroke-width="1.1" stroke-linejoin="miter"/>
<polygon points="1670.3,758.3 1601,758.3 1596.4,766 1601,773.7 1670.3,773.7" fill="#60b4e7" stroke="#2a2a2a" stroke-width="1.1" stroke-linejoin="miter"/>
<polygon points="1740.3,758.3 1695.2,758.3 1690.6,766 1695.2,773.7 1740.3,773.7" fill="#5f9bd0" stroke="#2a2a2a" stroke-width="1.1" stroke-linejoin="miter"/>
<polygon points="1797,758.3 1755.4,758.3 1750.8,766 1755.4,773.7 1797,773.7" fill="#a9c4e8" stroke="#2a2a2a" stroke-width="1.1" stroke-linejoin="miter"/>
<polygon points="1882.2,758.3 1805.6,758.3 1801,766 1805.6,773.7 1882.2,773.7" fill="#9ac8ea" stroke="#2a2a2a" stroke-width="1.1" stroke-linejoin="miter"/>
<polygon points="1932.4,758.3 1891.8,758.3 1887.2,766 1891.8,773.7 1932.4,773.7" fill="#4470b8" stroke="#2a2a2a" stroke-width="1.1" stroke-linejoin="miter"/>
<text x="1547.2" y="749.4" font-size="19.5" text-anchor="middle" font-style="italic">ATP8</text>
<line x1="1523" y1="755.9" x2="1571.4" y2="755.9" stroke="#333" stroke-width="1.1"/>
<line x1="1547.2" y1="755.9" x2="1547.2" y2="758.3" stroke="#333" stroke-width="1.1"/>
<line x1="1151" y1="830.7" x2="1184" y2="830.7" stroke="#9a9a9a" stroke-width="1.3"/>
<line x1="1184" y1="830.7" x2="2076.8" y2="830.7" stroke="#222" stroke-width="1.3"/>
<polygon points="1177,823 1180.5,830.7 1177,838.4" fill="#dfe6ee" stroke="#9a9a9a" stroke-width="0.9" stroke-linejoin="miter"/>
<polygon points="1184,823 1180.5,830.7 1184,838.4" fill="#dfe6ee" stroke="#9a9a9a" stroke-width="0.9" stroke-linejoin="miter"/>
<polygon points="1239.3,823 1188.7,823 1184.1,830.7 1188.7,838.4 1239.3,838.4" fill="#c9dff5" stroke="#9a9a9a" stroke-width="1.1" stroke-linejoin="miter"/>
<polygon points="1239.5,823 1241.8,830.7 1239.5,838.4" fill="#dfe6ee" stroke="#9a9a9a" stroke-width="0.9" stroke-linejoin="miter"/>
<polygon points="1241.8,823 1263.3,823 1267.9,830.7 1263.3,838.4 1241.8,838.4" fill="#e7eef9" stroke="#9a9a9a" stroke-width="1.1" stroke-linejoin="miter"/>
<polygon points="1297,823 1274,823 1269.4,830.7 1274,838.4 1297,838.4" fill="#b6cddd" stroke="#9a9a9a" stroke-width="1" stroke-linejoin="miter"/>
<polygon points="1356.7,823 1360.4,830.7 1356.7,838.4" fill="#ffffff" stroke="#2a2a2a" stroke-width="0.9" stroke-linejoin="miter"/>
<polygon points="1364.1,823 1360.4,830.7 1364.1,838.4" fill="#ffffff" stroke="#2a2a2a" stroke-width="0.9" stroke-linejoin="miter"/>
<polygon points="1364.1,823 1367.8,830.7 1364.1,838.4" fill="#ffffff" stroke="#2a2a2a" stroke-width="0.9" stroke-linejoin="miter"/>
<polygon points="1447.6,823 1451,830.7 1447.6,838.4" fill="#ffffff" stroke="#2a2a2a" stroke-width="0.9" stroke-linejoin="miter"/>
<polygon points="1525.1,823 1528.8,830.7 1525.1,838.4" fill="#ffffff" stroke="#2a2a2a" stroke-width="0.9" stroke-linejoin="miter"/>
<polygon points="1532.5,823 1528.8,830.7 1532.5,838.4" fill="#ffffff" stroke="#2a2a2a" stroke-width="0.9" stroke-linejoin="miter"/>
<polygon points="1532.5,823 1536.2,830.7 1532.5,838.4" fill="#ffffff" stroke="#2a2a2a" stroke-width="0.9" stroke-linejoin="miter"/>
<polygon points="1615.4,823 1619,830.7 1615.4,838.4" fill="#ffffff" stroke="#2a2a2a" stroke-width="0.9" stroke-linejoin="miter"/>
<polygon points="1719.2,823 1721.7,830.7 1719.2,838.4" fill="#ffffff" stroke="#2a2a2a" stroke-width="0.9" stroke-linejoin="miter"/>
<polygon points="1755.8,823 1759.3,830.7 1755.8,838.4" fill="#ffffff" stroke="#2a2a2a" stroke-width="0.9" stroke-linejoin="miter"/>
<polygon points="1762.9,823 1759.3,830.7 1762.9,838.4" fill="#ffffff" stroke="#2a2a2a" stroke-width="0.9" stroke-linejoin="miter"/>
<polygon points="1838.1,823 1841.9,830.7 1838.1,838.4" fill="#ffffff" stroke="#2a2a2a" stroke-width="0.9" stroke-linejoin="miter"/>
<polygon points="1845.7,823 1841.9,830.7 1845.7,838.4" fill="#ffffff" stroke="#2a2a2a" stroke-width="0.9" stroke-linejoin="miter"/>
<polygon points="1845.7,823 1849.5,830.7 1845.7,838.4" fill="#ffffff" stroke="#2a2a2a" stroke-width="0.9" stroke-linejoin="miter"/>
<polygon points="1853.3,823 1849.5,830.7 1853.3,838.4" fill="#ffffff" stroke="#2a2a2a" stroke-width="0.9" stroke-linejoin="miter"/>
<polygon points="1853.3,823 1857.1,830.7 1853.3,838.4" fill="#ffffff" stroke="#2a2a2a" stroke-width="0.9" stroke-linejoin="miter"/>
<polygon points="1907.3,823 1910.6,830.7 1907.3,838.4" fill="#ffffff" stroke="#2a2a2a" stroke-width="0.9" stroke-linejoin="miter"/>
<polygon points="1914,823 1910.6,830.7 1914,838.4" fill="#ffffff" stroke="#2a2a2a" stroke-width="0.9" stroke-linejoin="miter"/>
<polygon points="1914,823 1917.3,830.7 1914,838.4" fill="#ffffff" stroke="#2a2a2a" stroke-width="0.9" stroke-linejoin="miter"/>
<polygon points="1965,823 1970,830.7 1965,838.4" fill="#ffffff" stroke="#2a2a2a" stroke-width="0.9" stroke-linejoin="miter"/>
<polygon points="2048.7,823 2051.7,830.7 2048.7,838.4" fill="#ffffff" stroke="#2a2a2a" stroke-width="0.9" stroke-linejoin="miter"/>
<rect x="1297" y="823" width="59.6" height="15.4" fill="#3e79a2" stroke="#2a2a2a" stroke-width="1.1"/>
<polygon points="1297,823 1356.6,823 1356.6,838.4 1297,838.4" fill="#3e79a2" stroke="#2a2a2a" stroke-width="1.1" stroke-linejoin="miter"/>
<polygon points="1434.4,823 1372.8,823 1368.2,830.7 1372.8,838.4 1434.4,838.4" fill="#4790c9" stroke="#2a2a2a" stroke-width="1.1" stroke-linejoin="miter"/>
<polygon points="1447.4,823 1439.5,823 1434.9,830.7 1439.5,838.4 1447.4,838.4" fill="#cfe2f3" stroke="#2a2a2a" stroke-width="1.1" stroke-linejoin="miter"/>
<polygon points="1469.5,823 1455.6,823 1451,830.7 1455.6,838.4 1469.5,838.4" fill="#7aa2c6" stroke="#2a2a2a" stroke-width="1.1" stroke-linejoin="miter"/>
<polygon points="1471,823 1509.6,823 1509.6,838.4 1471,838.4" fill="#80abe5" stroke="#2a2a2a" stroke-width="1.1" stroke-linejoin="miter"/>
<polygon points="1601.4,823 1540.8,823 1536.2,830.7 1540.8,838.4 1601.4,838.4" fill="#4790c9" stroke="#2a2a2a" stroke-width="1.1" stroke-linejoin="miter"/>
<polygon points="1615.4,823 1606,823 1601.4,830.7 1606,838.4 1615.4,838.4" fill="#cfe2f3" stroke="#2a2a2a" stroke-width="1.1" stroke-linejoin="miter"/>
<polygon points="1637.5,823 1623.6,823 1619,830.7 1623.6,838.4 1637.5,838.4" fill="#7aa2c6" stroke="#2a2a2a" stroke-width="1.1" stroke-linejoin="miter"/>
<polygon points="1677.6,823 1644.6,823 1640,830.7 1644.6,838.4 1677.6,838.4" fill="#80abe5" stroke="#2a2a2a" stroke-width="1.1" stroke-linejoin="miter"/>
<polygon points="1710.7,823 1682.2,823 1677.6,830.7 1682.2,838.4 1710.7,838.4" fill="#9ed9ee" stroke="#2a2a2a" stroke-width="1.1" stroke-linejoin="miter"/>
<polygon points="1719.2,823 1715.3,823 1710.7,830.7 1715.3,838.4 1719.2,838.4" fill="#eef2f5" stroke="#2a2a2a" stroke-width="1.1" stroke-linejoin="miter"/>
<polygon points="1755.8,823 1726.3,823 1721.7,830.7 1726.3,838.4 1755.8,838.4" fill="#5aa2cf" stroke="#2a2a2a" stroke-width="1.1" stroke-linejoin="miter"/>
<polygon points="1838.1,823 1767.5,823 1762.9,830.7 1767.5,838.4 1838.1,838.4" fill="#62b4e6" stroke="#2a2a2a" stroke-width="1.1" stroke-linejoin="miter"/>
<polygon points="1907.3,823 1861.7,823 1857.1,830.7 1861.7,838.4 1907.3,838.4" fill="#5f9bd0" stroke="#2a2a2a" stroke-width="1.1" stroke-linejoin="miter"/>
<polygon points="1965,823 1921.9,823 1917.3,830.7 1921.9,838.4 1965,838.4" fill="#a9c4e8" stroke="#2a2a2a" stroke-width="1.1" stroke-linejoin="miter"/>
<polygon points="2048.7,823 1974.6,823 1970,830.7 1974.6,838.4 2048.7,838.4" fill="#9ac8ea" stroke="#2a2a2a" stroke-width="1.1" stroke-linejoin="miter"/>
<polygon points="2076.8,823 2056.3,823 2051.7,830.7 2056.3,838.4 2076.8,838.4" fill="#eef0f0" stroke="#2a2a2a" stroke-width="1.1" stroke-linejoin="miter"/>
<text x="1715.2" y="814.6" font-size="19.5" text-anchor="middle" font-style="italic">ATP8</text>
<line x1="1691" y1="821.1" x2="1739.4" y2="821.1" stroke="#333" stroke-width="1.1"/>
<line x1="1715.2" y1="821.1" x2="1715.2" y2="823" stroke="#333" stroke-width="1.1"/>
<text x="2064.3" y="814.6" font-size="19.5" text-anchor="middle">12S rRNA</text>
<line x1="2025.3" y1="821.1" x2="2103.3" y2="821.1" stroke="#333" stroke-width="1.1"/>
<line x1="2064.3" y1="821.1" x2="2064.3" y2="823" stroke="#333" stroke-width="1.1"/>
<line x1="1151" y1="894.9" x2="1184" y2="894.9" stroke="#9a9a9a" stroke-width="1.3"/>
<line x1="1184" y1="894.9" x2="2076.8" y2="894.9" stroke="#222" stroke-width="1.3"/>
<polygon points="1177,887.2 1180.5,894.9 1177,902.6" fill="#dfe6ee" stroke="#9a9a9a" stroke-width="0.9" stroke-linejoin="miter"/>
<polygon points="1184,887.2 1180.5,894.9 1184,902.6" fill="#dfe6ee" stroke="#9a9a9a" stroke-width="0.9" stroke-linejoin="miter"/>
<polygon points="1239.3,887.2 1188.7,887.2 1184.1,894.9 1188.7,902.6 1239.3,902.6" fill="#c9dff5" stroke="#9a9a9a" stroke-width="1.1" stroke-linejoin="miter"/>
<polygon points="1239.5,887.2 1241.8,894.9 1239.5,902.6" fill="#dfe6ee" stroke="#9a9a9a" stroke-width="0.9" stroke-linejoin="miter"/>
<polygon points="1241.8,887.2 1263.3,887.2 1267.9,894.9 1263.3,902.6 1241.8,902.6" fill="#e7eef9" stroke="#9a9a9a" stroke-width="1.1" stroke-linejoin="miter"/>
<polygon points="1297,887.2 1274,887.2 1269.4,894.9 1274,902.6 1297,902.6" fill="#b6cddd" stroke="#9a9a9a" stroke-width="1" stroke-linejoin="miter"/>
<polygon points="1356.7,887.2 1360.4,894.9 1356.7,902.6" fill="#ffffff" stroke="#2a2a2a" stroke-width="0.9" stroke-linejoin="miter"/>
<polygon points="1364.1,887.2 1360.4,894.9 1364.1,902.6" fill="#ffffff" stroke="#2a2a2a" stroke-width="0.9" stroke-linejoin="miter"/>
<polygon points="1364.1,887.2 1367.8,894.9 1364.1,902.6" fill="#ffffff" stroke="#2a2a2a" stroke-width="0.9" stroke-linejoin="miter"/>
<polygon points="1447.6,887.2 1451,894.9 1447.6,902.6" fill="#ffffff" stroke="#2a2a2a" stroke-width="0.9" stroke-linejoin="miter"/>
<polygon points="1469.5,887.2 1472,894.9 1469.5,902.6" fill="#ffffff" stroke="#2a2a2a" stroke-width="0.9" stroke-linejoin="miter"/>
<polygon points="1551,887.2 1553,894.9 1551,902.6" fill="#ffffff" stroke="#2a2a2a" stroke-width="0.9" stroke-linejoin="miter"/>
<polygon points="1555,887.2 1553,894.9 1555,902.6" fill="#ffffff" stroke="#2a2a2a" stroke-width="0.9" stroke-linejoin="miter"/>
<polygon points="1589,887.2 1592.5,894.9 1589,902.6" fill="#ffffff" stroke="#2a2a2a" stroke-width="0.9" stroke-linejoin="miter"/>
<polygon points="1596,887.2 1592.5,894.9 1596,902.6" fill="#ffffff" stroke="#2a2a2a" stroke-width="0.9" stroke-linejoin="miter"/>
<polygon points="1670.3,887.2 1674.4,894.9 1670.3,902.6" fill="#ffffff" stroke="#2a2a2a" stroke-width="0.9" stroke-linejoin="miter"/>
<polygon points="1678.4,887.2 1674.4,894.9 1678.4,902.6" fill="#ffffff" stroke="#2a2a2a" stroke-width="0.9" stroke-linejoin="miter"/>
<polygon points="1678.4,887.2 1682.5,894.9 1678.4,902.6" fill="#ffffff" stroke="#2a2a2a" stroke-width="0.9" stroke-linejoin="miter"/>
<polygon points="1686.5,887.2 1682.5,894.9 1686.5,902.6" fill="#ffffff" stroke="#2a2a2a" stroke-width="0.9" stroke-linejoin="miter"/>
<polygon points="1686.5,887.2 1690.6,894.9 1686.5,902.6" fill="#ffffff" stroke="#2a2a2a" stroke-width="0.9" stroke-linejoin="miter"/>
<polygon points="1740.3,887.2 1743.8,894.9 1740.3,902.6" fill="#ffffff" stroke="#2a2a2a" stroke-width="0.9" stroke-linejoin="miter"/>
<polygon points="1747.3,887.2 1743.8,894.9 1747.3,902.6" fill="#ffffff" stroke="#2a2a2a" stroke-width="0.9" stroke-linejoin="miter"/>
<polygon points="1747.3,887.2 1750.8,894.9 1747.3,902.6" fill="#ffffff" stroke="#2a2a2a" stroke-width="0.9" stroke-linejoin="miter"/>
<polygon points="1797,887.2 1798.3,894.9 1797,902.6" fill="#ffffff" stroke="#2a2a2a" stroke-width="0.9" stroke-linejoin="miter"/>
<polygon points="1799.7,887.2 1798.3,894.9 1799.7,902.6" fill="#ffffff" stroke="#2a2a2a" stroke-width="0.9" stroke-linejoin="miter"/>
<polygon points="1799.7,887.2 1801,894.9 1799.7,902.6" fill="#ffffff" stroke="#2a2a2a" stroke-width="0.9" stroke-linejoin="miter"/>
<polygon points="1878.2,887.2 1882.2,894.9 1878.2,902.6" fill="#ffffff" stroke="#2a2a2a" stroke-width="0.9" stroke-linejoin="miter"/>
<polygon points="1928.3,887.2 1931.8,894.9 1928.3,902.6" fill="#ffffff" stroke="#2a2a2a" stroke-width="0.9" stroke-linejoin="miter"/>
<rect x="1297" y="887.2" width="59.6" height="15.4" fill="#3e79a2" stroke="#2a2a2a" stroke-width="1.1"/>
<polygon points="1297,887.2 1356.6,887.2 1356.6,902.6 1297,902.6" fill="#3e79a2" stroke="#2a2a2a" stroke-width="1.1" stroke-linejoin="miter"/>
<polygon points="1434.4,887.2 1372.8,887.2 1368.2,894.9 1372.8,902.6 1434.4,902.6" fill="#4790c9" stroke="#2a2a2a" stroke-width="1.1" stroke-linejoin="miter"/>
<polygon points="1447.4,887.2 1439.5,887.2 1434.9,894.9 1439.5,902.6 1447.4,902.6" fill="#cfe2f3" stroke="#2a2a2a" stroke-width="1.1" stroke-linejoin="miter"/>
<polygon points="1469.5,887.2 1455.6,887.2 1451,894.9 1455.6,902.6 1469.5,902.6" fill="#7aa2c6" stroke="#2a2a2a" stroke-width="1.1" stroke-linejoin="miter"/>
<polygon points="1509.6,887.2 1476.6,887.2 1472,894.9 1476.6,902.6 1509.6,902.6" fill="#80abe5" stroke="#2a2a2a" stroke-width="1.1" stroke-linejoin="miter"/>
<polygon points="1542.2,887.2 1514.7,887.2 1510.1,894.9 1514.7,902.6 1542.2,902.6" fill="#9ed9ee" stroke="#2a2a2a" stroke-width="1.1" stroke-linejoin="miter"/>
<polygon points="1542.7,887.2 1550.8,887.2 1550.8,902.6 1542.7,902.6" fill="#eef2f5" stroke="#2a2a2a" stroke-width="1.1" stroke-linejoin="miter"/>
<polygon points="1588.8,887.2 1559.8,887.2 1555.2,894.9 1559.8,902.6 1588.8,902.6" fill="#5aa2cf" stroke="#2a2a2a" stroke-width="1.1" stroke-linejoin="miter"/>
<polygon points="1670.3,887.2 1601,887.2 1596.4,894.9 1601,902.6 1670.3,902.6" fill="#60b4e7" stroke="#2a2a2a" stroke-width="1.1" stroke-linejoin="miter"/>
<polygon points="1740.3,887.2 1695.2,887.2 1690.6,894.9 1695.2,902.6 1740.3,902.6" fill="#5f9bd0" stroke="#2a2a2a" stroke-width="1.1" stroke-linejoin="miter"/>
<polygon points="1797,887.2 1755.4,887.2 1750.8,894.9 1755.4,902.6 1797,902.6" fill="#a9c4e8" stroke="#2a2a2a" stroke-width="1.1" stroke-linejoin="miter"/>
<polygon points="1878.2,887.2 1805.6,887.2 1801,894.9 1805.6,902.6 1878.2,902.6" fill="#9ac8ea" stroke="#2a2a2a" stroke-width="1.1" stroke-linejoin="miter"/>
<polygon points="1928.3,887.2 1886.8,887.2 1882.2,894.9 1886.8,902.6 1928.3,902.6" fill="#4470b8" stroke="#2a2a2a" stroke-width="1.1" stroke-linejoin="miter"/>
<text x="1545.2" y="878.3" font-size="19.5" text-anchor="middle" font-style="italic">ATP8</text>
<line x1="1521" y1="884.8" x2="1569.4" y2="884.8" stroke="#333" stroke-width="1.1"/>
<line x1="1545.2" y1="884.8" x2="1545.2" y2="887.2" stroke="#333" stroke-width="1.1"/>
<line x1="1297" y1="484" x2="1297" y2="910" stroke="#111" stroke-width="2.2" stroke-dasharray="7 5"/>
<text x="1210.9" y="481" font-size="19.5" text-anchor="middle" font-style="italic">CYTB</text>
<line x1="1186.7" y1="487.5" x2="1235.1" y2="487.5" stroke="#333" stroke-width="1.1"/>
<line x1="1210.9" y1="487.5" x2="1210.9" y2="489.7" stroke="#333" stroke-width="1.1"/>
<text x="1257.3" y="481" font-size="19.5" text-anchor="middle" font-style="italic">ND6</text>
<line x1="1239.2" y1="487.5" x2="1275.4" y2="487.5" stroke="#333" stroke-width="1.1"/>
<line x1="1257.3" y1="487.5" x2="1257.3" y2="489.7" stroke="#333" stroke-width="1.1"/>
<text x="1325.9" y="481" font-size="19.5" text-anchor="middle" font-style="italic">ND5</text>
<line x1="1307.8" y1="487.5" x2="1344" y2="487.5" stroke="#333" stroke-width="1.1"/>
<line x1="1325.9" y1="487.5" x2="1325.9" y2="489.7" stroke="#333" stroke-width="1.1"/>
<text x="1402.2" y="481" font-size="19.5" text-anchor="middle" font-style="italic">ND4</text>
<line x1="1384.1" y1="487.5" x2="1420.3" y2="487.5" stroke="#333" stroke-width="1.1"/>
<line x1="1402.2" y1="487.5" x2="1402.2" y2="489.7" stroke="#333" stroke-width="1.1"/>
<text x="1460.6" y="481" font-size="19.5" text-anchor="middle" font-style="italic">ND3</text>
<line x1="1442.5" y1="487.5" x2="1478.7" y2="487.5" stroke="#333" stroke-width="1.1"/>
<line x1="1460.6" y1="487.5" x2="1460.6" y2="489.7" stroke="#333" stroke-width="1.1"/>
<text x="1520.2" y="481" font-size="19.5" text-anchor="middle" font-style="italic">ATP6</text>
<line x1="1496" y1="487.5" x2="1544.4" y2="487.5" stroke="#333" stroke-width="1.1"/>
<line x1="1520.2" y1="487.5" x2="1520.2" y2="489.7" stroke="#333" stroke-width="1.1"/>
<text x="1577.3" y="481" font-size="19.5" text-anchor="middle" font-style="italic">COX2</text>
<line x1="1553.1" y1="487.5" x2="1601.5" y2="487.5" stroke="#333" stroke-width="1.1"/>
<line x1="1577.3" y1="487.5" x2="1577.3" y2="489.7" stroke="#333" stroke-width="1.1"/>
<text x="1634" y="481" font-size="19.5" text-anchor="middle" font-style="italic">COX1</text>
<line x1="1609.8" y1="487.5" x2="1658.2" y2="487.5" stroke="#333" stroke-width="1.1"/>
<line x1="1634" y1="487.5" x2="1634" y2="489.7" stroke="#333" stroke-width="1.1"/>
<text x="1715.7" y="481" font-size="19.5" text-anchor="middle" font-style="italic">ND2</text>
<line x1="1697.6" y1="487.5" x2="1733.8" y2="487.5" stroke="#333" stroke-width="1.1"/>
<line x1="1715.7" y1="487.5" x2="1715.7" y2="489.7" stroke="#333" stroke-width="1.1"/>
<text x="1774.4" y="481" font-size="19.5" text-anchor="middle" font-style="italic">ND1</text>
<line x1="1756.3" y1="487.5" x2="1792.5" y2="487.5" stroke="#333" stroke-width="1.1"/>
<line x1="1774.4" y1="487.5" x2="1774.4" y2="489.7" stroke="#333" stroke-width="1.1"/>
<text x="1844.6" y="481" font-size="19.5" text-anchor="middle">16S rRNA</text>
<line x1="1805.6" y1="487.5" x2="1883.6" y2="487.5" stroke="#333" stroke-width="1.1"/>
<line x1="1844.6" y1="487.5" x2="1844.6" y2="489.7" stroke="#333" stroke-width="1.1"/>
<text x="1362.4" y="457.9" font-size="19.5" text-anchor="middle">tRNAs</text>
<line x1="1346.9" y1="464.3" x2="1377.9" y2="464.3" stroke="#333" stroke-width="1.1"/>
<line x1="1362.4" y1="464.3" x2="1362.4" y2="489.7" stroke="#333" stroke-width="1.1"/>
<text x="1437" y="457.9" font-size="19.5" text-anchor="middle" font-style="italic">ND4L</text>
<line x1="1421.5" y1="464.3" x2="1452.5" y2="464.3" stroke="#333" stroke-width="1.1"/>
<line x1="1440.7" y1="464.3" x2="1440.7" y2="489.7" stroke="#333" stroke-width="1.1"/>
<text x="1492.4" y="457.9" font-size="19.5" text-anchor="middle" font-style="italic">COX3</text>
<line x1="1473.2" y1="464.3" x2="1511.7" y2="464.3" stroke="#333" stroke-width="1.1"/>
<line x1="1492.4" y1="464.3" x2="1492.4" y2="489.7" stroke="#333" stroke-width="1.1"/>
<text x="1550" y="457.9" font-size="19.5" text-anchor="middle" font-style="italic">ATP8</text>
<line x1="1531.2" y1="464.3" x2="1568.8" y2="464.3" stroke="#333" stroke-width="1.1"/>
<line x1="1547.5" y1="464.3" x2="1547.5" y2="489.7" stroke="#333" stroke-width="1.1"/>
<text x="1907.3" y="457.9" font-size="19.5" text-anchor="middle">12S rRNA</text>
<line x1="1873.8" y1="464.3" x2="1940.8" y2="464.3" stroke="#333" stroke-width="1.1"/>
<line x1="1906.3" y1="464.3" x2="1906.3" y2="489.7" stroke="#333" stroke-width="1.1"/>
<text x="4" y="683" font-size="32" font-weight="bold" fill="#000">f</text>
<path d="M168,776 C168.5,775 169.5,774.2 170,773 C170.5,771.8 170.2,769.8 171,769 C171.8,768.2 173.5,768.2 175,768 C176.5,767.8 178.3,768 180,768 C181.7,768 183.3,767.8 185,768 C186.7,768.2 188.5,769.2 190,769 C191.5,768.8 192.5,767.7 194,767 C195.5,766.3 197.5,765.5 199,765 C200.5,764.5 201.7,763.7 203,764 C204.3,764.3 205.7,766.5 207,767 C208.3,767.5 209.8,766.7 211,767 C212.2,767.3 212.7,769 214,769 C215.3,769 217.5,766.8 219,767 C220.5,767.2 222.2,769.2 223,770 C223.8,770.8 223,771.2 224,772 C225,772.8 228.2,773.8 229,775 C229.8,776.2 229,777.7 229,779 C229,780.3 229.3,781.3 229,783 C228.7,784.7 227.8,787.2 227,789 C226.2,790.8 224.8,792.3 224,794 C223.2,795.7 222.5,797.2 222,799 C221.5,800.8 222,803.3 221,805 C220,806.7 217.3,807.5 216,809 C214.7,810.5 213.8,812.5 213,814 C212.2,815.5 211.7,816.8 211,818 C210.3,819.2 209.3,819.7 209,821 C208.7,822.3 208.7,824.7 209,826 C209.3,827.3 210,828 211,829 C212,830 214.2,830.8 215,832 C215.8,833.2 214.7,835.3 216,836 C217.3,836.7 220.8,835.8 223,836 C225.2,836.2 226.7,836.7 229,837 C231.3,837.3 235.8,837.5 237,838 C238.2,838.5 236.2,839.3 236,840 C235.8,840.7 235.7,841.2 236,842 C236.3,842.8 238,844.2 238,845 C238,845.8 236.8,846.5 236,847 C235.2,847.5 233.8,847.7 233,848 C232.2,848.3 231.5,848.2 231,849 C230.5,849.8 230.3,851.5 230,853 C229.7,854.5 229,856.5 229,858 C229,859.5 230,860.7 230,862 C230,863.3 228.5,864.8 229,866 C229.5,867.2 232.5,868 233,869 C233.5,870 231.5,871.3 232,872 C232.5,872.7 235,872 236,873 C237,874 236.7,877 238,878 C239.3,879 242.7,878.3 244,879 C245.3,879.7 245.7,880.5 246,882 C246.3,883.5 245.5,886.5 246,888 C246.5,889.5 247.7,890.2 249,891 C250.3,891.8 253.2,892 254,893 C254.8,894 253.5,895.3 254,897 C254.5,898.7 257.2,902.2 257,903 C256.8,903.8 254.2,902.2 253,902 C251.8,901.8 250.8,901.3 250,902 C249.2,902.7 249,905.5 248,906 C247,906.5 245.3,905.7 244,905 C242.7,904.3 241.2,902.8 240,902 C238.8,901.2 238.5,900.5 237,900 C235.5,899.5 233.2,899.3 231,899 C228.8,898.7 226,898.7 224,898 C222,897.3 220,896.2 219,895 C218,893.8 218.8,892 218,891 C217.2,890 215.2,889.7 214,889 C212.8,888.3 212,887.8 211,887 C210,886.2 209.3,884.5 208,884 C206.7,883.5 204.2,884.8 203,884 C201.8,883.2 202.2,879.3 201,879 C199.8,878.7 197.8,881.5 196,882 C194.2,882.5 191.8,881.8 190,882 C188.2,882.2 187,882.5 185,883 C183,883.5 180.5,885.2 178,885 C175.5,884.8 172.5,882 170,882 C167.5,882 165.5,885 163,885 C160.5,885 157.5,882.2 155,882 C152.5,881.8 150.5,883.8 148,884 C145.5,884.2 142,883.3 140,883 C138,882.7 137.5,882 136,882 C134.5,882 132.5,883.2 131,883 C129.5,882.8 127.7,882.2 127,881 C126.3,879.8 127.8,877.3 127,876 C126.2,874.7 122.7,874.3 122,873 C121.3,871.7 123,869.5 123,868 C123,866.5 122.7,865.3 122,864 C121.3,862.7 119.5,861.5 119,860 C118.5,858.5 118.3,856.5 119,855 C119.7,853.5 122.7,852.8 123,851 C123.3,849.2 120.5,845.7 121,844 C121.5,842.3 124.3,842.2 126,841 C127.7,839.8 129.7,838.5 131,837 C132.3,835.5 132.5,833.2 134,832 C135.5,830.8 138.2,830.8 140,830 C141.8,829.2 143.3,827.8 145,827 C146.7,826.2 148.3,826 150,825 C151.7,824 154.2,823 155,821 C155.8,819 154.3,815.3 155,813 C155.7,810.7 158.2,809.2 159,807 C159.8,804.8 159.5,802 160,800 C160.5,798 161.3,796.7 162,795 C162.7,793.3 163.8,791.8 164,790 C164.2,788.2 162.7,785.3 163,784 C163.3,782.7 165.3,782.8 166,782 C166.7,781.2 166.7,780 167,779 C167.3,778 167.5,777 168,776Z" fill="#bcdcf3" stroke="#86b2d8" stroke-width="1" id="sf1"/>
<clipPath id="cp1"><use href="#sf1"/></clipPath>
<path d="M185 857q-0.3 3.9 3.2 2.1t3.2 2.1t3.2 2.1t3.2 2.1t3.2 2.1t3.2 2.1M208 829q-3.6 -1.5 -3 2.3t-3 2.3t-3 2.3t-3 2.3t-3 2.3t-3 2.3M210 785q-1.9 3.4 2 3.2t2 3.2t2 3.2t2 3.2t2 3.2t2 3.2t2 3.2t2 3.2M128 880q2.4 -3.1 -1.5 -3.5t-1.5 -3.5t-1.5 -3.5t-1.5 -3.5t-1.5 -3.5M175 883q0.5 3.9 3.5 1.4t3.5 1.4t3.5 1.4t3.5 1.4t3.5 1.4t3.5 1.4t3.5 1.4t3.5 1.4M189 778q3.8 -0.7 1.2 -3.6t1.2 -3.6t1.2 -3.6t1.2 -3.6M163 852q2.6 -2.9 -1.2 -3.6t-1.2 -3.6t-1.2 -3.6M143 879q-3.3 -2.1 -3.3 1.9t-3.3 1.9t-3.3 1.9t-3.3 1.9t-3.3 1.9t-3.3 1.9M185 819q3.1 -2.4 -0.6 -3.8t-0.6 -3.8t-0.6 -3.8t-0.6 -3.8t-0.6 -3.8t-0.6 -3.8t-0.6 -3.8t-0.6 -3.8M253 858q-3.8 -0.8 -2.5 2.9t-2.5 2.9t-2.5 2.9t-2.5 2.9t-2.5 2.9t-2.5 2.9t-2.5 2.9M212 781q-3.8 -0.8 -2.5 2.9t-2.5 2.9t-2.5 2.9t-2.5 2.9t-2.5 2.9t-2.5 2.9M230 835q3.9 -0.2 1.7 -3.4t1.7 -3.4t1.7 -3.4t1.7 -3.4t1.7 -3.4M191 796q-3.7 -1.4 -2.9 2.5t-2.9 2.5t-2.9 2.5t-2.9 2.5t-2.9 2.5t-2.9 2.5t-2.9 2.5M134 842q2.6 -2.9 -1.3 -3.6t-1.3 -3.6t-1.3 -3.6M158 813q-3.8 0.9 -1 3.7t-1 3.7t-1 3.7t-1 3.7t-1 3.7t-1 3.7M170 813q2.6 -2.9 -1.2 -3.6t-1.2 -3.6t-1.2 -3.6t-1.2 -3.6t-1.2 -3.6t-1.2 -3.6t-1.2 -3.6t-1.2 -3.6M153 903q-0.8 -3.8 -3.6 -1.1t-3.6 -1.1t-3.6 -1.1t-3.6 -1.1M224 796q3.9 0.4 2.2 -3.1t2.2 -3.1t2.2 -3.1t2.2 -3.1M228 835q-0.9 3.8 2.8 2.5t2.8 2.5t2.8 2.5t2.8 2.5t2.8 2.5M194 787q2.5 -3 -1.4 -3.6t-1.4 -3.6t-1.4 -3.6t-1.4 -3.6t-1.4 -3.6t-1.4 -3.6M151 839q1.1 -3.7 -2.7 -2.7t-2.7 -2.7t-2.7 -2.7t-2.7 -2.7t-2.7 -2.7M249 890q-3.8 1 -1 3.7t-1 3.7t-1 3.7t-1 3.7t-1 3.7t-1 3.7t-1 3.7t-1 3.7M158 897q3.3 -2.2 -0.3 -3.8t-0.3 -3.8t-0.3 -3.8t-0.3 -3.8t-0.3 -3.8M155 861q-2.8 2.7 1 3.7t1 3.7t1 3.7t1 3.7t1 3.7t1 3.7M156 784q-2.5 -3 -3.7 0.7t-3.7 0.7t-3.7 0.7M198 866q3.5 -1.8 0.1 -3.8t0.1 -3.8t0.1 -3.8t0.1 -3.8t0.1 -3.8t0.1 -3.8M243 875q2.4 -3.1 -1.5 -3.5t-1.5 -3.5t-1.5 -3.5t-1.5 -3.5t-1.5 -3.5t-1.5 -3.5t-1.5 -3.5t-1.5 -3.5M207 819q2.5 -3 -1.4 -3.5t-1.4 -3.5t-1.4 -3.5t-1.4 -3.5M124 770q-3.4 -2 -3.3 1.9t-3.3 1.9t-3.3 1.9t-3.3 1.9M246 876q-2.5 3 1.3 3.6t1.3 3.6t1.3 3.6t1.3 3.6t1.3 3.6t1.3 3.6t1.3 3.6M194 852q-1.1 -3.7 -3.7 -0.8t-3.7 -0.8t-3.7 -0.8t-3.7 -0.8t-3.7 -0.8t-3.7 -0.8t-3.7 -0.8M174 799q-3.9 0.2 -1.7 3.4t-1.7 3.4t-1.7 3.4t-1.7 3.4t-1.7 3.4t-1.7 3.4t-1.7 3.4M139 778q2.6 -2.9 -1.3 -3.6t-1.3 -3.6t-1.3 -3.6t-1.3 -3.6t-1.3 -3.6t-1.3 -3.6t-1.3 -3.6M210 896q1.2 3.7 3.7 0.7t3.7 0.7t3.7 0.7t3.7 0.7t3.7 0.7t3.7 0.7M180 790q3.7 1.4 2.9 -2.5t2.9 -2.5t2.9 -2.5t2.9 -2.5t2.9 -2.5t2.9 -2.5M240 779q2.6 2.9 3.7 -0.9t3.7 -0.9t3.7 -0.9t3.7 -0.9t3.7 -0.9M235 861q-1.5 -3.6 -3.8 -0.4t-3.8 -0.4t-3.8 -0.4t-3.8 -0.4M243 812q1.7 -3.5 -2.2 -3.1t-2.2 -3.1t-2.2 -3.1t-2.2 -3.1M183 885q-2.2 3.3 1.7 3.4t1.7 3.4t1.7 3.4t1.7 3.4t1.7 3.4M215 876q1.9 -3.4 -2 -3.2t-2 -3.2t-2 -3.2t-2 -3.2t-2 -3.2t-2 -3.2M213 814q0.6 -3.9 -3 -2.3t-3 -2.3t-3 -2.3t-3 -2.3t-3 -2.3t-3 -2.3t-3 -2.3M242 854q-2.4 -3.1 -3.8 0.5t-3.8 0.5t-3.8 0.5t-3.8 0.5t-3.8 0.5t-3.8 0.5t-3.8 0.5M138 834q-3.8 -0.8 -2.5 2.9t-2.5 2.9t-2.5 2.9t-2.5 2.9t-2.5 2.9M205 805q3.7 -1.2 0.7 -3.7t0.7 -3.7t0.7 -3.7M210 876q-3.3 -2.2 -3.4 1.7t-3.4 1.7t-3.4 1.7t-3.4 1.7t-3.4 1.7t-3.4 1.7t-3.4 1.7M166 873q3 2.5 3.5 -1.4t3.5 -1.4t3.5 -1.4t3.5 -1.4t3.5 -1.4t3.5 -1.4t3.5 -1.4M145 875q-3.8 1 -0.9 3.7t-0.9 3.7t-0.9 3.7t-0.9 3.7t-0.9 3.7t-0.9 3.7t-0.9 3.7t-0.9 3.7M191 772q3.6 1.4 2.9 -2.4t2.9 -2.4t2.9 -2.4t2.9 -2.4t2.9 -2.4t2.9 -2.4t2.9 -2.4M237 809q-3.2 2.3 0.4 3.8t0.4 3.8t0.4 3.8t0.4 3.8t0.4 3.8t0.4 3.8M126 878q-2.6 2.9 1.2 3.6t1.2 3.6t1.2 3.6t1.2 3.6t1.2 3.6t1.2 3.6t1.2 3.6M246 902q-3.1 2.4 0.6 3.8t0.6 3.8t0.6 3.8t0.6 3.8t0.6 3.8t0.6 3.8t0.6 3.8M193 828q-3.2 2.3 0.4 3.8t0.4 3.8t0.4 3.8t0.4 3.8t0.4 3.8t0.4 3.8t0.4 3.8M189 854q1.3 -3.7 -2.5 -2.8t-2.5 -2.8t-2.5 -2.8t-2.5 -2.8t-2.5 -2.8M176 837q3.8 -1.1 0.9 -3.7t0.9 -3.7t0.9 -3.7t0.9 -3.7t0.9 -3.7t0.9 -3.7t0.9 -3.7M170 779q3.5 -1.8 0.1 -3.8t0.1 -3.8t0.1 -3.8t0.1 -3.8t0.1 -3.8t0.1 -3.8M251 817q3.4 2 3.3 -1.9t3.3 -1.9t3.3 -1.9t3.3 -1.9t3.3 -1.9M152 824q-3.6 1.6 -0.3 3.8t-0.3 3.8t-0.3 3.8t-0.3 3.8t-0.3 3.8t-0.3 3.8t-0.3 3.8M197 894q-3.3 2 0.2 3.8t0.2 3.8t0.2 3.8t0.2 3.8t0.2 3.8t0.2 3.8M200 877q3.5 -1.8 0.1 -3.8t0.1 -3.8t0.1 -3.8t0.1 -3.8t0.1 -3.8t0.1 -3.8M163 799q0.6 -3.9 -3 -2.4t-3 -2.4t-3 -2.4t-3 -2.4t-3 -2.4t-3 -2.4t-3 -2.4t-3 -2.4M254 872q2.3 -3.1 -1.5 -3.5t-1.5 -3.5t-1.5 -3.5t-1.5 -3.5M137 833q-3.7 1.3 -0.7 3.7t-0.7 3.7t-0.7 3.7t-0.7 3.7M137 826q-3.5 -1.8 -3.1 2.1t-3.1 2.1t-3.1 2.1t-3.1 2.1t-3.1 2.1M201 872q2.2 -3.2 -1.7 -3.4t-1.7 -3.4t-1.7 -3.4t-1.7 -3.4t-1.7 -3.4t-1.7 -3.4M204 774q-3.6 1.5 -0.4 3.8t-0.4 3.8t-0.4 3.8t-0.4 3.8t-0.4 3.8t-0.4 3.8M234 858q-3.7 1.2 -0.7 3.7t-0.7 3.7t-0.7 3.7t-0.7 3.7t-0.7 3.7M255 782q3.8 0.8 2.5 -2.9t2.5 -2.9t2.5 -2.9t2.5 -2.9M195 848q3 -2.5 -0.7 -3.7t-0.7 -3.7t-0.7 -3.7t-0.7 -3.7t-0.7 -3.7t-0.7 -3.7t-0.7 -3.7t-0.7 -3.7M245 897q-3.9 0.7 -1.2 3.6t-1.2 3.6t-1.2 3.6t-1.2 3.6M174 794q-3.8 -0.9 -2.6 2.8t-2.6 2.8t-2.6 2.8t-2.6 2.8t-2.6 2.8M248 807q1.8 -3.5 -2.1 -3.2t-2.1 -3.2t-2.1 -3.2t-2.1 -3.2t-2.1 -3.2M190 856q2.1 -3.3 -1.8 -3.3t-1.8 -3.3t-1.8 -3.3t-1.8 -3.3M154 878q3.7 -1.2 0.8 -3.7t0.8 -3.7t0.8 -3.7t0.8 -3.7t0.8 -3.7M234 798q1.4 -3.7 -2.5 -2.9t-2.5 -2.9t-2.5 -2.9t-2.5 -2.9t-2.5 -2.9t-2.5 -2.9M200 832q3.9 -0.5 1.4 -3.5t1.4 -3.5t1.4 -3.5t1.4 -3.5M186 827q-3.7 1.4 -0.5 3.8t-0.5 3.8t-0.5 3.8t-0.5 3.8t-0.5 3.8t-0.5 3.8t-0.5 3.8t-0.5 3.8M147 848q1.8 -3.5 -2.1 -3.2t-2.1 -3.2t-2.1 -3.2t-2.1 -3.2t-2.1 -3.2t-2.1 -3.2M217 815q1.3 3.7 3.8 0.6t3.8 0.6t3.8 0.6t3.8 0.6t3.8 0.6t3.8 0.6t3.8 0.6t3.8 0.6M227 820q3.4 -1.9 -0 -3.8t-0 -3.8t-0 -3.8t-0 -3.8M234 824q-3.5 1.7 -0.2 3.8t-0.2 3.8t-0.2 3.8t-0.2 3.8t-0.2 3.8M127 772q-3.9 0.6 -1.3 3.6t-1.3 3.6t-1.3 3.6t-1.3 3.6M137 881q-2.1 -3.3 -3.8 0.2t-3.8 0.2t-3.8 0.2t-3.8 0.2t-3.8 0.2t-3.8 0.2M247 785q3.8 0.7 2.4 -2.9t2.4 -2.9t2.4 -2.9t2.4 -2.9t2.4 -2.9t2.4 -2.9t2.4 -2.9t2.4 -2.9M247 839q-2.5 3 1.4 3.5t1.4 3.5t1.4 3.5t1.4 3.5t1.4 3.5t1.4 3.5t1.4 3.5t1.4 3.5M224 842q3.9 -0.1 1.8 -3.4t1.8 -3.4t1.8 -3.4t1.8 -3.4t1.8 -3.4M187 838q-3.6 1.5 -0.4 3.8t-0.4 3.8t-0.4 3.8t-0.4 3.8t-0.4 3.8M123 834q-3.5 -1.7 -3.1 2.2t-3.1 2.2t-3.1 2.2t-3.1 2.2M245 838q1.2 -3.7 -2.6 -2.8t-2.6 -2.8t-2.6 -2.8t-2.6 -2.8t-2.6 -2.8M242 768q2.9 -2.6 -0.8 -3.7t-0.8 -3.7t-0.8 -3.7t-0.8 -3.7t-0.8 -3.7t-0.8 -3.7t-0.8 -3.7t-0.8 -3.7M150 822q1.4 -3.6 -2.4 -2.9t-2.4 -2.9t-2.4 -2.9t-2.4 -2.9t-2.4 -2.9t-2.4 -2.9t-2.4 -2.9M238 856q-3.8 1.1 -0.9 3.7t-0.9 3.7t-0.9 3.7t-0.9 3.7M137 771q-3.2 2.2 0.4 3.8t0.4 3.8t0.4 3.8M140 875q-3.9 0.7 -1.2 3.6t-1.2 3.6t-1.2 3.6t-1.2 3.6t-1.2 3.6t-1.2 3.6t-1.2 3.6t-1.2 3.6M253 796q1.9 -3.4 -2 -3.2t-2 -3.2t-2 -3.2t-2 -3.2t-2 -3.2M197 863q3.9 0.6 2.4 -3t2.4 -3t2.4 -3t2.4 -3t2.4 -3t2.4 -3t2.4 -3" fill="none" stroke="#3196d6" stroke-width="2.8" stroke-linecap="round" clip-path="url(#cp1)"/>
<clipPath id="cp2"><use href="#sf1"/></clipPath>
<path d="M155 861q-2 2.3 1 2.8t1 2.8t1 2.8t1 2.8t1 2.8t1 2.8t1 2.8t1 2.8t1 2.8t1 2.8M207 791q3.1 0.3 1.7 -2.5t1.7 -2.5t1.7 -2.5t1.7 -2.5t1.7 -2.5t1.7 -2.5t1.7 -2.5t1.7 -2.5t1.7 -2.5M124 783q-1.7 2.6 1.4 2.7t1.4 2.7t1.4 2.7t1.4 2.7t1.4 2.7t1.4 2.7t1.4 2.7t1.4 2.7t1.4 2.7t1.4 2.7M233 777q3 -0.6 0.9 -2.9t0.9 -2.9t0.9 -2.9t0.9 -2.9t0.9 -2.9t0.9 -2.9t0.9 -2.9t0.9 -2.9t0.9 -2.9t0.9 -2.9M228 801q1.4 -2.7 -1.7 -2.5t-1.7 -2.5t-1.7 -2.5t-1.7 -2.5t-1.7 -2.5t-1.7 -2.5t-1.7 -2.5t-1.7 -2.5t-1.7 -2.5t-1.7 -2.5M195 902q2 -2.4 -1.1 -2.8t-1.1 -2.8t-1.1 -2.8t-1.1 -2.8t-1.1 -2.8t-1.1 -2.8M201 854q-2.3 -2.1 -2.8 1t-2.8 1t-2.8 1t-2.8 1t-2.8 1t-2.8 1t-2.8 1t-2.8 1M254 827q-1.8 2.5 1.3 2.7t1.3 2.7t1.3 2.7t1.3 2.7t1.3 2.7t1.3 2.7M144 815q-2.8 1.3 -0.2 3t-0.2 3t-0.2 3t-0.2 3t-0.2 3t-0.2 3M241 846q-3.1 0.1 -1.4 2.7t-1.4 2.7t-1.4 2.7t-1.4 2.7t-1.4 2.7M179 853q1.5 2.7 3 0t3 0t3 0t3 0t3 0t3 0t3 0M238 796q2.1 -2.3 -1 -2.8t-1 -2.8t-1 -2.8t-1 -2.8t-1 -2.8t-1 -2.8t-1 -2.8M155 868q1.9 -2.4 -1.2 -2.8t-1.2 -2.8t-1.2 -2.8t-1.2 -2.8t-1.2 -2.8t-1.2 -2.8t-1.2 -2.8t-1.2 -2.8t-1.2 -2.8t-1.2 -2.8M229 793q1.4 -2.7 -1.6 -2.5t-1.6 -2.5t-1.6 -2.5t-1.6 -2.5t-1.6 -2.5t-1.6 -2.5t-1.6 -2.5t-1.6 -2.5t-1.6 -2.5t-1.6 -2.5M216 798q3 0.6 1.9 -2.3t1.9 -2.3t1.9 -2.3t1.9 -2.3M215 770q2.6 -1.7 -0.2 -3t-0.2 -3t-0.2 -3t-0.2 -3t-0.2 -3M146 875q-3 0.9 -0.6 2.9t-0.6 2.9t-0.6 2.9t-0.6 2.9t-0.6 2.9t-0.6 2.9t-0.6 2.9t-0.6 2.9M230 862q3.1 -0.4 1.1 -2.8t1.1 -2.8t1.1 -2.8t1.1 -2.8t1.1 -2.8t1.1 -2.8t1.1 -2.8t1.1 -2.8M192 783q-2.7 -1.4 -2.5 1.6t-2.5 1.6t-2.5 1.6t-2.5 1.6t-2.5 1.6t-2.5 1.6t-2.5 1.6t-2.5 1.6t-2.5 1.6t-2.5 1.6M197 863q2.8 -1.3 0.2 -3t0.2 -3t0.2 -3t0.2 -3t0.2 -3t0.2 -3M141 843q2.6 -1.7 -0.3 -3t-0.3 -3t-0.3 -3t-0.3 -3t-0.3 -3M148 877q2.3 -2.1 -0.7 -2.9t-0.7 -2.9t-0.7 -2.9t-0.7 -2.9t-0.7 -2.9M140 825q-2.7 1.6 0.1 3t0.1 3t0.1 3t0.1 3t0.1 3t0.1 3M153 805q-3.1 -0.4 -1.8 2.4t-1.8 2.4t-1.8 2.4t-1.8 2.4M174 777q-3.1 -0.1 -1.5 2.6t-1.5 2.6t-1.5 2.6t-1.5 2.6t-1.5 2.6t-1.5 2.6t-1.5 2.6t-1.5 2.6" fill="none" stroke="#1d74b5" stroke-width="1.6" stroke-linecap="round" clip-path="url(#cp2)"/>
<path d="M206,879 C206.7,877.8 208.3,876.2 210,875 C211.7,873.8 213.8,873 216,872 C218.2,871 221.2,868.8 223,869 C224.8,869.2 225.5,872 227,873 C228.5,874 230,874.3 232,875 C234,875.7 237.2,875.8 239,877 C240.8,878.2 241.7,880.2 243,882 C244.3,883.8 245.3,886.2 247,888 C248.7,889.8 252.3,891.7 253,893 C253.7,894.3 251.3,894.8 251,896 C250.7,897.2 251.2,899 251,900 C250.8,901 250.8,901.7 250,902 C249.2,902.3 247.3,901.7 246,902 C244.7,902.3 243.3,903.8 242,904 C240.7,904.2 239.5,903.7 238,903 C236.5,902.3 234.8,900.7 233,900 C231.2,899.3 228.8,899.7 227,899 C225.2,898.3 223.5,897 222,896 C220.5,895 219.5,893.8 218,893 C216.5,892.2 214.7,891.7 213,891 C211.3,890.3 208.8,890 208,889 C207.2,888 208.3,886.2 208,885 C207.7,883.8 206.3,883 206,882 C205.7,881 205.3,880.2 206,879Z" fill="#aac8ee" stroke="#7d9fcf" stroke-width="1" id="sf2"/>
<clipPath id="cp3"><use href="#sf2"/></clipPath>
<path d="M250 870q-3.2 0.8 -0.8 3.1t-0.8 3.1t-0.8 3.1t-0.8 3.1M243 875q2.6 -2 -0.5 -3.2t-0.5 -3.2t-0.5 -3.2t-0.5 -3.2t-0.5 -3.2M221 893q-3 1.4 -0.3 3.2t-0.3 3.2t-0.3 3.2t-0.3 3.2t-0.3 3.2M245 899q-2.5 2.2 0.7 3.1t0.7 3.1t0.7 3.1t0.7 3.1t0.7 3.1t0.7 3.1M232 898q-2.2 -2.4 -3.1 0.8t-3.1 0.8t-3.1 0.8t-3.1 0.8t-3.1 0.8t-3.1 0.8t-3.1 0.8t-3.1 0.8t-3.1 0.8M226 880q3.3 0.3 1.8 -2.6t1.8 -2.6t1.8 -2.6t1.8 -2.6t1.8 -2.6t1.8 -2.6M246 903q2.5 2.2 3 -1.1t3 -1.1t3 -1.1t3 -1.1M212 876q-2.7 1.9 0.3 3.2t0.3 3.2t0.3 3.2t0.3 3.2t0.3 3.2t0.3 3.2t0.3 3.2t0.3 3.2t0.3 3.2M210 874q-2.1 -2.5 -3.1 0.6t-3.1 0.6t-3.1 0.6t-3.1 0.6t-3.1 0.6t-3.1 0.6t-3.1 0.6t-3.1 0.6t-3.1 0.6M231 883q-3.3 0.2 -1.4 2.9t-1.4 2.9t-1.4 2.9t-1.4 2.9t-1.4 2.9t-1.4 2.9t-1.4 2.9" fill="none" stroke="#4a72c0" stroke-width="2" stroke-linecap="round" clip-path="url(#cp3)"/>
<text x="134" y="704" text-anchor="middle">MT-ATP6</text>
<text x="134" y="728.1" text-anchor="middle">89% seq. ID</text>
<text x="134" y="752.2" text-anchor="middle">pLDDT: 0.69</text>
<line x1="159.4" y1="758.6" x2="182.6" y2="783.2" stroke="#111" stroke-width="1.3"/>
<text x="111" y="912.8" font-size="19.6" text-anchor="end">MT-ATP8</text>
<text x="111" y="936.9" font-size="19.6" text-anchor="end">92% seq. ID</text>
<text x="111" y="961" font-size="19.6" text-anchor="end">pLDDT: 0.67</text>
<line x1="114.5" y1="906.4" x2="217.4" y2="881.7" stroke="#111" stroke-width="1.3"/>
<path d="M308,790 C308.3,787.7 306,785.2 306,783 C306,780.8 307.3,779.2 308,777 C308.7,774.8 309,771.5 310,770 C311,768.5 313.3,769.3 314,768 C314.7,766.7 313.3,763.7 314,762 C314.7,760.3 316.3,758.5 318,758 C319.7,757.5 322.2,759 324,759 C325.8,759 327.2,758.2 329,758 C330.8,757.8 333.2,757.7 335,758 C336.8,758.3 338.2,759.7 340,760 C341.8,760.3 344,760 346,760 C348,760 350.7,759.3 352,760 C353.3,760.7 352.7,763.3 354,764 C355.3,764.7 358.8,763.2 360,764 C361.2,764.8 360,767.7 361,769 C362,770.3 364.5,771 366,772 C367.5,773 368.7,774.8 370,775 C371.3,775.2 372.5,773.5 374,773 C375.5,772.5 377.5,772.5 379,772 C380.5,771.5 381.5,770.5 383,770 C384.5,769.5 386.7,768.5 388,769 C389.3,769.5 390,772.5 391,773 C392,773.5 392.8,772.2 394,772 C395.2,771.8 397.2,771.2 398,772 C398.8,772.8 397.8,775.7 399,777 C400.2,778.3 404,778.5 405,780 C406,781.5 404.5,784.3 405,786 C405.5,787.7 406.3,789.3 408,790 C409.7,790.7 413.7,789 415,790 C416.3,791 414.7,794.3 416,796 C417.3,797.7 421.7,798.3 423,800 C424.3,801.7 423.2,804 424,806 C424.8,808 427.2,809.7 428,812 C428.8,814.3 428.5,817.5 429,820 C429.5,822.5 430.8,824.5 431,827 C431.2,829.5 430,832.5 430,835 C430,837.5 429.8,839.8 431,842 C432.2,844.2 436.2,845.8 437,848 C437.8,850.2 436,852.8 436,855 C436,857.2 437.3,859.2 437,861 C436.7,862.8 434.2,863.8 434,866 C433.8,868.2 436.3,872.3 436,874 C435.7,875.7 433.2,875.3 432,876 C430.8,876.7 430,877.2 429,878 C428,878.8 427.5,880.2 426,881 C424.5,881.8 421.7,882.2 420,883 C418.3,883.8 417.8,885.5 416,886 C414.2,886.5 410.8,885.3 409,886 C407.2,886.7 406.3,888.7 405,890 C403.7,891.3 402.8,893.3 401,894 C399.2,894.7 395.3,893 394,894 C392.7,895 393.7,898.5 393,900 C392.3,901.5 391.3,902.2 390,903 C388.7,903.8 386.2,903.8 385,905 C383.8,906.2 383.7,908.3 383,910 C382.3,911.7 381.5,913.3 381,915 C380.5,916.7 380.3,918.5 380,920 C379.7,921.5 380,923.5 379,924 C378,924.5 375,923.2 374,923 C373,922.8 373.7,923.3 373,923 C372.3,922.7 371.3,921.3 370,921 C368.7,920.7 366.5,921.2 365,921 C363.5,920.8 362.2,921 361,920 C359.8,919 359.2,916.2 358,915 C356.8,913.8 355.3,913.8 354,913 C352.7,912.2 351.3,911 350,910 C348.7,909 347,908.5 346,907 C345,905.5 345,902.5 344,901 C343,899.5 341.5,899.2 340,898 C338.5,896.8 336.7,895.3 335,894 C333.3,892.7 331.5,891.7 330,890 C328.5,888.3 327.5,885.7 326,884 C324.5,882.3 322.8,881 321,880 C319.2,879 317.2,878.7 315,878 C312.8,877.3 309,877.7 308,876 C307,874.3 309.3,870.3 309,868 C308.7,865.7 306.5,864.2 306,862 C305.5,859.8 306,857.5 306,855 C306,852.5 306,849.8 306,847 C306,844.2 306.8,840.8 306,838 C305.2,835.2 301.7,832.5 301,830 C300.3,827.5 301.3,825.2 302,823 C302.7,820.8 304.7,819.2 305,817 C305.3,814.8 304.2,812.3 304,810 C303.8,807.7 304,805.2 304,803 C304,800.8 303.3,799.2 304,797 C304.7,794.8 307.7,792.3 308,790Z" fill="#d3e5ef" stroke="#8ea6b8" stroke-width="1" id="sf3"/>
<clipPath id="cp4"><use href="#sf3"/></clipPath>
<path d="M431 781q1.6 2.9 3.2 -0t3.2 -0t3.2 -0t3.2 -0t3.2 -0M319 866q3.1 1.2 2.5 -2t2.5 -2t2.5 -2t2.5 -2t2.5 -2M432 811q2.8 -1.7 -0.1 -3.2t-0.1 -3.2t-0.1 -3.2t-0.1 -3.2t-0.1 -3.2t-0.1 -3.2t-0.1 -3.2t-0.1 -3.2t-0.1 -3.2M382 809q3.3 0.4 1.9 -2.6t1.9 -2.6t1.9 -2.6t1.9 -2.6t1.9 -2.6t1.9 -2.6t1.9 -2.6M429 887q-2.7 1.9 0.4 3.2t0.4 3.2t0.4 3.2t0.4 3.2t0.4 3.2t0.4 3.2t0.4 3.2t0.4 3.2M385 800q3.3 0.5 2 -2.5t2 -2.5t2 -2.5t2 -2.5t2 -2.5t2 -2.5t2 -2.5t2 -2.5t2 -2.5t2 -2.5M372 804q2.1 -2.5 -1.1 -3t-1.1 -3t-1.1 -3t-1.1 -3t-1.1 -3t-1.1 -3M349 908q-2.9 1.6 -0 3.2t-0 3.2t-0 3.2t-0 3.2t-0 3.2M421 824q-1.8 2.7 1.5 2.8t1.5 2.8t1.5 2.8t1.5 2.8t1.5 2.8t1.5 2.8M353 855q0.3 -3.3 -2.6 -1.8t-2.6 -1.8t-2.6 -1.8t-2.6 -1.8t-2.6 -1.8t-2.6 -1.8t-2.6 -1.8M361 870q-3.3 0.5 -1.1 3t-1.1 3t-1.1 3t-1.1 3M408 767q-3.2 0.9 -0.7 3.1t-0.7 3.1t-0.7 3.1t-0.7 3.1t-0.7 3.1t-0.7 3.1t-0.7 3.1M357 773q-3.3 0.4 -1.2 3t-1.2 3t-1.2 3t-1.2 3t-1.2 3M425 863q0.4 3.3 3 1.2t3 1.2t3 1.2t3 1.2M407 881q-3 1.4 -0.2 3.2t-0.2 3.2t-0.2 3.2t-0.2 3.2M358 896q3.1 -1 0.6 -3.1t0.6 -3.1t0.6 -3.1t0.6 -3.1t0.6 -3.1t0.6 -3.1t0.6 -3.1t0.6 -3.1M321 805q3 -1.4 0.2 -3.2t0.2 -3.2t0.2 -3.2t0.2 -3.2t0.2 -3.2t0.2 -3.2t0.2 -3.2M312 877q-3.2 0.9 -0.7 3.1t-0.7 3.1t-0.7 3.1t-0.7 3.1t-0.7 3.1t-0.7 3.1t-0.7 3.1t-0.7 3.1t-0.7 3.1t-0.7 3.1M305 841q1.8 -2.8 -1.5 -2.8t-1.5 -2.8t-1.5 -2.8t-1.5 -2.8M387 857q-2.9 -1.6 -2.7 1.7t-2.7 1.7t-2.7 1.7t-2.7 1.7t-2.7 1.7t-2.7 1.7M319 793q3.2 0.7 2.1 -2.4t2.1 -2.4t2.1 -2.4t2.1 -2.4t2.1 -2.4M340 773q-2.4 2.3 0.8 3.1t0.8 3.1t0.8 3.1t0.8 3.1t0.8 3.1t0.8 3.1M401 912q-3.2 0.8 -0.9 3.1t-0.9 3.1t-0.9 3.1t-0.9 3.1t-0.9 3.1M416 862q2.9 -1.5 0.1 -3.2t0.1 -3.2t0.1 -3.2t0.1 -3.2t0.1 -3.2t0.1 -3.2t0.1 -3.2t0.1 -3.2M310 873q-2.9 1.5 -0.1 3.2t-0.1 3.2t-0.1 3.2t-0.1 3.2t-0.1 3.2t-0.1 3.2t-0.1 3.2t-0.1 3.2t-0.1 3.2M318 912q-3.3 0.2 -1.4 2.9t-1.4 2.9t-1.4 2.9t-1.4 2.9t-1.4 2.9t-1.4 2.9M307 784q3.3 0.3 1.8 -2.6t1.8 -2.6t1.8 -2.6t1.8 -2.6t1.8 -2.6t1.8 -2.6t1.8 -2.6t1.8 -2.6M340 886q3.3 -0.4 1.2 -3t1.2 -3t1.2 -3t1.2 -3t1.2 -3t1.2 -3M392 831q-3.3 -0.5 -2 2.5t-2 2.5t-2 2.5t-2 2.5t-2 2.5M433 873q-3 -1.3 -2.5 1.9t-2.5 1.9t-2.5 1.9t-2.5 1.9t-2.5 1.9M411 907q2.6 -2 -0.4 -3.2t-0.4 -3.2t-0.4 -3.2t-0.4 -3.2t-0.4 -3.2M338 845q3.2 -0.8 0.9 -3.1t0.9 -3.1t0.9 -3.1t0.9 -3.1t0.9 -3.1t0.9 -3.1t0.9 -3.1M370 780q3.2 0.8 2.2 -2.3t2.2 -2.3t2.2 -2.3t2.2 -2.3t2.2 -2.3t2.2 -2.3M420 885q1.5 -2.9 -1.8 -2.7t-1.8 -2.7t-1.8 -2.7t-1.8 -2.7t-1.8 -2.7M325 766q-2.7 1.8 0.3 3.2t0.3 3.2t0.3 3.2t0.3 3.2t0.3 3.2t0.3 3.2t0.3 3.2M433 783q-1.3 3 2 2.5t2 2.5t2 2.5t2 2.5M430 872q-2.7 1.9 0.4 3.2t0.4 3.2t0.4 3.2t0.4 3.2M312 787q3.3 -0.5 1.1 -3t1.1 -3t1.1 -3t1.1 -3t1.1 -3t1.1 -3t1.1 -3t1.1 -3M402 813q-2.5 2.2 0.7 3.1t0.7 3.1t0.7 3.1t0.7 3.1t0.7 3.1t0.7 3.1t0.7 3.1t0.7 3.1t0.7 3.1M410 867q-3.1 1 -0.6 3.1t-0.6 3.1t-0.6 3.1t-0.6 3.1t-0.6 3.1M311 913q1.2 3.1 3.2 0.5t3.2 0.5t3.2 0.5t3.2 0.5t3.2 0.5t3.2 0.5M317 832q-1.8 2.7 1.4 2.9t1.4 2.9t1.4 2.9t1.4 2.9t1.4 2.9t1.4 2.9t1.4 2.9M359 816q2.9 -1.5 0.1 -3.2t0.1 -3.2t0.1 -3.2t0.1 -3.2t0.1 -3.2t0.1 -3.2t0.1 -3.2t0.1 -3.2M425 909q-3.1 1 -0.6 3.1t-0.6 3.1t-0.6 3.1t-0.6 3.1t-0.6 3.1t-0.6 3.1t-0.6 3.1M315 895q-3.2 0.7 -0.9 3.1t-0.9 3.1t-0.9 3.1t-0.9 3.1t-0.9 3.1t-0.9 3.1M337 798q-0.4 -3.3 -3 -1.2t-3 -1.2t-3 -1.2t-3 -1.2t-3 -1.2t-3 -1.2M325 820q-1.3 3 1.9 2.5t1.9 2.5t1.9 2.5t1.9 2.5t1.9 2.5t1.9 2.5t1.9 2.5M365 863q2 -2.6 -1.2 -2.9t-1.2 -2.9t-1.2 -2.9t-1.2 -2.9t-1.2 -2.9t-1.2 -2.9t-1.2 -2.9t-1.2 -2.9t-1.2 -2.9M393 818q1.4 3 3.2 0.2t3.2 0.2t3.2 0.2t3.2 0.2M324 833q-3.3 -0.3 -1.8 2.6t-1.8 2.6t-1.8 2.6t-1.8 2.6t-1.8 2.6t-1.8 2.6t-1.8 2.6M409 802q3 -1.4 0.2 -3.2t0.2 -3.2t0.2 -3.2t0.2 -3.2t0.2 -3.2M409 847q-3.2 0.6 -1 3t-1 3t-1 3t-1 3t-1 3t-1 3M378 786q2.8 1.7 2.8 -1.6t2.8 -1.6t2.8 -1.6t2.8 -1.6t2.8 -1.6t2.8 -1.6t2.8 -1.6M413 801q-2.6 2 0.5 3.2t0.5 3.2t0.5 3.2t0.5 3.2t0.5 3.2M374 872q-2.4 2.2 0.7 3.1t0.7 3.1t0.7 3.1t0.7 3.1t0.7 3.1t0.7 3.1t0.7 3.1M411 922q2.9 -1.6 -0 -3.2t-0 -3.2t-0 -3.2t-0 -3.2t-0 -3.2t-0 -3.2M353 919q-0.6 -3.2 -3 -1t-3 -1t-3 -1t-3 -1t-3 -1t-3 -1t-3 -1M390 775q-2.5 2.1 0.6 3.1t0.6 3.1t0.6 3.1t0.6 3.1t0.6 3.1t0.6 3.1M317 842q-3.3 0.3 -1.3 2.9t-1.3 2.9t-1.3 2.9t-1.3 2.9t-1.3 2.9t-1.3 2.9t-1.3 2.9t-1.3 2.9t-1.3 2.9M324 915q-2.9 1.5 -0.1 3.2t-0.1 3.2t-0.1 3.2t-0.1 3.2t-0.1 3.2t-0.1 3.2t-0.1 3.2t-0.1 3.2M338 777q2.5 -2.2 -0.7 -3.1t-0.7 -3.1t-0.7 -3.1t-0.7 -3.1t-0.7 -3.1t-0.7 -3.1t-0.7 -3.1t-0.7 -3.1M393 872q2.6 -2.1 -0.5 -3.2t-0.5 -3.2t-0.5 -3.2t-0.5 -3.2t-0.5 -3.2M327 901q-0.9 3.2 2.3 2.2t2.3 2.2t2.3 2.2t2.3 2.2M414 848q1.8 -2.8 -1.5 -2.8t-1.5 -2.8t-1.5 -2.8t-1.5 -2.8t-1.5 -2.8t-1.5 -2.8t-1.5 -2.8t-1.5 -2.8t-1.5 -2.8t-1.5 -2.8M406 773q2.8 -1.7 -0.1 -3.2t-0.1 -3.2t-0.1 -3.2t-0.1 -3.2t-0.1 -3.2t-0.1 -3.2t-0.1 -3.2M340 879q-3 -1.4 -2.6 1.9t-2.6 1.9t-2.6 1.9t-2.6 1.9M307 816q-2.5 -2.1 -3 1.1t-3 1.1t-3 1.1t-3 1.1t-3 1.1t-3 1.1t-3 1.1t-3 1.1t-3 1.1M305 868q-3.2 -0.6 -2 2.5t-2 2.5t-2 2.5t-2 2.5M367 793q-0.4 -3.3 -3 -1.2t-3 -1.2t-3 -1.2t-3 -1.2t-3 -1.2t-3 -1.2t-3 -1.2t-3 -1.2t-3 -1.2M428 925q-2.2 -2.4 -3.1 0.7t-3.1 0.7t-3.1 0.7t-3.1 0.7t-3.1 0.7" fill="none" stroke="#7f9fb6" stroke-width="1.4" stroke-linecap="round" clip-path="url(#cp4)"/>
<path d="M371,778 C371.2,775.7 375.2,776.8 377,776 C378.8,775.2 380.2,773.3 382,773 C383.8,772.7 386.5,774.2 388,774 C389.5,773.8 389.8,772 391,772 C392.2,772 393.8,773.7 395,774 C396.2,774.3 397.3,773.2 398,774 C398.7,774.8 398.3,777.5 399,779 C399.7,780.5 401,781.8 402,783 C403,784.2 403.8,784.8 405,786 C406.2,787.2 407.5,788.8 409,790 C410.5,791.2 412.8,791.8 414,793 C415.2,794.2 415,795.5 416,797 C417,798.5 418.5,800.5 420,802 C421.5,803.5 423.7,804.3 425,806 C426.3,807.7 427.3,809.7 428,812 C428.7,814.3 428.3,817.5 429,820 C429.7,822.5 431.7,824.5 432,827 C432.3,829.5 431,832.5 431,835 C431,837.5 431.2,839.8 432,842 C432.8,844.2 435.2,845.8 436,848 C436.8,850.2 436.8,852.8 437,855 C437.2,857.2 437.3,859.2 437,861 C436.7,862.8 435.3,864 435,866 C434.7,868 435.7,871.7 435,873 C434.3,874.3 432,873.2 431,874 C430,874.8 430,877 429,878 C428,879 426.5,879.2 425,880 C423.5,880.8 421.7,882 420,883 C418.3,884 416.7,885.3 415,886 C413.3,886.7 411.7,886.7 410,887 C408.3,887.3 406.3,887.3 405,888 C403.7,888.7 403.3,890.3 402,891 C400.7,891.7 398,893 397,892 C396,891 396.5,887.5 396,885 C395.5,882.5 394.8,879.5 394,877 C393.2,874.5 391.3,872.8 391,870 C390.7,867.2 392,863.3 392,860 C392,856.7 391.5,853.3 391,850 C390.5,846.7 390.2,843.3 389,840 C387.8,836.7 384.8,833.3 384,830 C383.2,826.7 384.5,823.3 384,820 C383.5,816.7 381.8,813.3 381,810 C380.2,806.7 379.8,803.3 379,800 C378.2,796.7 377.3,793.7 376,790 C374.7,786.3 370.8,780.3 371,778Z" fill="#c3e8f6" stroke="#8cc3dc" stroke-width="1" id="sf4"/>
<clipPath id="cp5"><use href="#sf4"/></clipPath>
<path d="M418 873q1.6 2.9 3.2 -0t3.2 -0t3.2 -0t3.2 -0t3.2 -0M416 783q-3 1.3 -0.4 3.2t-0.4 3.2t-0.4 3.2t-0.4 3.2t-0.4 3.2t-0.4 3.2t-0.4 3.2t-0.4 3.2t-0.4 3.2M373 828q-2.3 2.4 1 3.1t1 3.1t1 3.1t1 3.1M383 831q-0.8 -3.2 -3.1 -0.8t-3.1 -0.8t-3.1 -0.8t-3.1 -0.8t-3.1 -0.8t-3.1 -0.8t-3.1 -0.8t-3.1 -0.8M389 845q2.9 -1.6 0 -3.2t0 -3.2t0 -3.2t0 -3.2M414 851q-2.4 2.2 0.7 3.1t0.7 3.1t0.7 3.1t0.7 3.1t0.7 3.1t0.7 3.1M420 809q0.3 -3.3 -2.6 -1.8t-2.6 -1.8t-2.6 -1.8t-2.6 -1.8t-2.6 -1.8M427 831q-0.4 -3.3 -3 -1.2t-3 -1.2t-3 -1.2t-3 -1.2t-3 -1.2M385 841q-2.7 1.9 0.4 3.2t0.4 3.2t0.4 3.2t0.4 3.2t0.4 3.2t0.4 3.2t0.4 3.2M423 829q-1.4 -3 -3.2 -0.2t-3.2 -0.2t-3.2 -0.2t-3.2 -0.2t-3.2 -0.2M424 782q-3.3 0.4 -1.2 2.9t-1.2 2.9t-1.2 2.9t-1.2 2.9t-1.2 2.9t-1.2 2.9t-1.2 2.9M387 797q0.3 3.3 2.9 1.3t2.9 1.3t2.9 1.3t2.9 1.3t2.9 1.3t2.9 1.3M393 865q3.2 -0.9 0.8 -3.1t0.8 -3.1t0.8 -3.1t0.8 -3.1t0.8 -3.1t0.8 -3.1M430 881q3.2 0.8 2.2 -2.3t2.2 -2.3t2.2 -2.3t2.2 -2.3t2.2 -2.3t2.2 -2.3t2.2 -2.3t2.2 -2.3M401 866q-0 3.3 2.8 1.6t2.8 1.6t2.8 1.6t2.8 1.6t2.8 1.6t2.8 1.6M399 817q-1.1 -3.1 -3.2 -0.5t-3.2 -0.5t-3.2 -0.5t-3.2 -0.5t-3.2 -0.5t-3.2 -0.5t-3.2 -0.5t-3.2 -0.5t-3.2 -0.5M426 806q-1.3 3 1.9 2.5t1.9 2.5t1.9 2.5t1.9 2.5t1.9 2.5t1.9 2.5t1.9 2.5t1.9 2.5M376 841q3 -1.4 0.2 -3.2t0.2 -3.2t0.2 -3.2t0.2 -3.2t0.2 -3.2t0.2 -3.2t0.2 -3.2t0.2 -3.2M398 819q-2.4 -2.3 -3 1t-3 1t-3 1t-3 1t-3 1t-3 1t-3 1t-3 1M396 877q2.9 1.6 2.7 -1.7t2.7 -1.7t2.7 -1.7t2.7 -1.7t2.7 -1.7t2.7 -1.7t2.7 -1.7M424 792q-0.9 3.2 2.2 2.3t2.2 2.3t2.2 2.3t2.2 2.3t2.2 2.3t2.2 2.3t2.2 2.3t2.2 2.3M410 885q3.3 -0.1 1.5 -2.8t1.5 -2.8t1.5 -2.8t1.5 -2.8M377 800q2.1 2.5 3.1 -0.6t3.1 -0.6t3.1 -0.6t3.1 -0.6t3.1 -0.6t3.1 -0.6t3.1 -0.6M384 812q3.2 0.7 2.1 -2.4t2.1 -2.4t2.1 -2.4t2.1 -2.4M423 864q2.8 -1.7 -0.1 -3.2t-0.1 -3.2t-0.1 -3.2t-0.1 -3.2t-0.1 -3.2t-0.1 -3.2t-0.1 -3.2M392 854q2.4 -2.3 -0.8 -3.1t-0.8 -3.1t-0.8 -3.1t-0.8 -3.1t-0.8 -3.1t-0.8 -3.1t-0.8 -3.1t-0.8 -3.1t-0.8 -3.1t-0.8 -3.1M427 872q-2.1 2.5 1.2 3t1.2 3t1.2 3t1.2 3t1.2 3M381 888q3.2 0.8 2.2 -2.3t2.2 -2.3t2.2 -2.3t2.2 -2.3t2.2 -2.3M412 802q2.9 -1.6 -0 -3.2t-0 -3.2t-0 -3.2t-0 -3.2t-0 -3.2t-0 -3.2t-0 -3.2M433 800q0.4 3.3 3 1.2t3 1.2t3 1.2t3 1.2t3 1.2M436 840q-3.3 -0.2 -1.7 2.7t-1.7 2.7t-1.7 2.7t-1.7 2.7t-1.7 2.7t-1.7 2.7t-1.7 2.7t-1.7 2.7M417 791q-1.8 2.8 1.5 2.8t1.5 2.8t1.5 2.8t1.5 2.8t1.5 2.8t1.5 2.8t1.5 2.8t1.5 2.8t1.5 2.8M420 799q-3.3 0.5 -1.1 3t-1.1 3t-1.1 3t-1.1 3t-1.1 3t-1.1 3t-1.1 3t-1.1 3M421 801q-2.7 1.8 0.3 3.2t0.3 3.2t0.3 3.2t0.3 3.2t0.3 3.2t0.3 3.2t0.3 3.2t0.3 3.2t0.3 3.2t0.3 3.2M408 885q1.1 -3.1 -2.2 -2.4t-2.2 -2.4t-2.2 -2.4t-2.2 -2.4t-2.2 -2.4t-2.2 -2.4t-2.2 -2.4M433 816q3.3 -0.3 1.3 -2.9t1.3 -2.9t1.3 -2.9t1.3 -2.9t1.3 -2.9t1.3 -2.9t1.3 -2.9t1.3 -2.9t1.3 -2.9t1.3 -2.9M405 812q-2.5 -2.2 -3 1.1t-3 1.1t-3 1.1t-3 1.1t-3 1.1t-3 1.1t-3 1.1t-3 1.1t-3 1.1M395 826q-2.2 2.4 1 3t1 3t1 3t1 3M383 776q2.2 -2.5 -1 -3t-1 -3t-1 -3t-1 -3M415 890q-2.1 2.5 1.2 3t1.2 3t1.2 3t1.2 3t1.2 3t1.2 3M434 849q-1.6 2.9 1.7 2.7t1.7 2.7t1.7 2.7t1.7 2.7t1.7 2.7t1.7 2.7t1.7 2.7t1.7 2.7M382 834q3.2 0.8 2.2 -2.3t2.2 -2.3t2.2 -2.3t2.2 -2.3t2.2 -2.3M427 789q-2.8 1.8 0.2 3.2t0.2 3.2t0.2 3.2t0.2 3.2t0.2 3.2M431 802q3.2 -0.6 1 -3t1 -3t1 -3t1 -3t1 -3M411 886q-3.3 0.4 -1.2 3t-1.2 3t-1.2 3t-1.2 3t-1.2 3t-1.2 3M420 851q-3.2 0.8 -0.8 3.1t-0.8 3.1t-0.8 3.1t-0.8 3.1t-0.8 3.1M399 889q-2 -2.6 -3.2 0.5t-3.2 0.5t-3.2 0.5t-3.2 0.5t-3.2 0.5t-3.2 0.5M376 837q-2.1 -2.5 -3.1 0.6t-3.1 0.6t-3.1 0.6t-3.1 0.6t-3.1 0.6t-3.1 0.6t-3.1 0.6t-3.1 0.6M415 801q-2.8 1.8 0.2 3.2t0.2 3.2t0.2 3.2t0.2 3.2t0.2 3.2t0.2 3.2t0.2 3.2t0.2 3.2t0.2 3.2t0.2 3.2M429 789q-1.1 -3.1 -3.2 -0.6t-3.2 -0.6t-3.2 -0.6t-3.2 -0.6t-3.2 -0.6t-3.2 -0.6t-3.2 -0.6t-3.2 -0.6M388 883q0.9 -3.2 -2.2 -2.3t-2.2 -2.3t-2.2 -2.3t-2.2 -2.3t-2.2 -2.3t-2.2 -2.3M384 772q2.6 -2 -0.5 -3.2t-0.5 -3.2t-0.5 -3.2t-0.5 -3.2t-0.5 -3.2M415 823q2.1 2.5 3.1 -0.6t3.1 -0.6t3.1 -0.6t3.1 -0.6t3.1 -0.6M432 847q-2.6 2 0.5 3.2t0.5 3.2t0.5 3.2t0.5 3.2t0.5 3.2t0.5 3.2t0.5 3.2M386 804q-0.3 -3.3 -2.9 -1.3t-2.9 -1.3t-2.9 -1.3t-2.9 -1.3t-2.9 -1.3t-2.9 -1.3t-2.9 -1.3t-2.9 -1.3t-2.9 -1.3" fill="none" stroke="#55b4da" stroke-width="1.8" stroke-linecap="round" clip-path="url(#cp5)"/>
<path d="M345,805 C346.5,803 348.8,801.3 351,800 C353.2,798.7 355.7,797.7 358,797 C360.3,796.3 362.7,796.3 365,796 C367.3,795.7 369.8,794.7 372,795 C374.2,795.3 376.2,797 378,798 C379.8,799 381,799.7 383,801 C385,802.3 388.7,803.8 390,806 C391.3,808.2 390.3,811.7 391,814 C391.7,816.3 393.2,817.3 394,820 C394.8,822.7 395.5,826.7 396,830 C396.5,833.3 396.8,836.7 397,840 C397.2,843.3 397,846.7 397,850 C397,853.3 397.3,856.7 397,860 C396.7,863.3 395.8,866.7 395,870 C394.2,873.3 393.2,877.3 392,880 C390.8,882.7 389.5,884 388,886 C386.5,888 384.7,890 383,892 C381.3,894 379.8,897.3 378,898 C376.2,898.7 374,896.3 372,896 C370,895.7 368,895.8 366,896 C364,896.2 361.7,897.8 360,897 C358.3,896.2 357.8,892.5 356,891 C354.2,889.5 351,889.5 349,888 C347,886.5 344.8,884.8 344,882 C343.2,879.2 344.7,874.5 344,871 C343.3,867.5 341,864.5 340,861 C339,857.5 338.2,853.2 338,850 C337.8,846.8 338.8,844.8 339,842 C339.2,839.2 339.2,835.8 339,833 C338.8,830.2 337.5,827.3 338,825 C338.5,822.7 341.3,821.2 342,819 C342.7,816.8 341.5,814.3 342,812 C342.5,809.7 343.5,807 345,805Z" fill="#79b9d4" stroke="#4a94b8" stroke-width="1" id="sf5"/>
<clipPath id="cp6"><use href="#sf5"/></clipPath>
<path d="M383 816q0.4 -3.5 -2.7 -2t-2.7 -2t-2.7 -2t-2.7 -2M385 873q2.1 -2.8 -1.4 -3.1t-1.4 -3.1t-1.4 -3.1t-1.4 -3.1t-1.4 -3.1t-1.4 -3.1M376 892q3 -1.9 -0.2 -3.4t-0.2 -3.4t-0.2 -3.4t-0.2 -3.4t-0.2 -3.4t-0.2 -3.4t-0.2 -3.4t-0.2 -3.4M389 863q-2.5 2.4 0.9 3.3t0.9 3.3t0.9 3.3t0.9 3.3M374 881q3.1 -1.6 0.1 -3.4t0.1 -3.4t0.1 -3.4t0.1 -3.4M382 881q-3.5 -0.1 -1.7 2.9t-1.7 2.9t-1.7 2.9t-1.7 2.9t-1.7 2.9t-1.7 2.9t-1.7 2.9M366 862q-3.5 0.3 -1.4 3.1t-1.4 3.1t-1.4 3.1t-1.4 3.1t-1.4 3.1t-1.4 3.1t-1.4 3.1M364 866q2.5 2.4 3.2 -1t3.2 -1t3.2 -1t3.2 -1t3.2 -1M375 883q-3.3 1.2 -0.5 3.4t-0.5 3.4t-0.5 3.4t-0.5 3.4t-0.5 3.4t-0.5 3.4t-0.5 3.4M381 800q-3.4 -0.9 -2.3 2.5t-2.3 2.5t-2.3 2.5t-2.3 2.5t-2.3 2.5t-2.3 2.5t-2.3 2.5t-2.3 2.5M397 804q-3.2 1.5 -0.2 3.4t-0.2 3.4t-0.2 3.4t-0.2 3.4t-0.2 3.4t-0.2 3.4M341 838q0.1 3.5 3 1.5t3 1.5t3 1.5t3 1.5t3 1.5t3 1.5M379 876q1.9 -3 -1.6 -3t-1.6 -3t-1.6 -3t-1.6 -3t-1.6 -3t-1.6 -3t-1.6 -3t-1.6 -3M385 888q3.4 0.7 2.2 -2.6t2.2 -2.6t2.2 -2.6t2.2 -2.6t2.2 -2.6t2.2 -2.6t2.2 -2.6M374 868q-2 2.8 1.5 3.1t1.5 3.1t1.5 3.1t1.5 3.1t1.5 3.1t1.5 3.1t1.5 3.1t1.5 3.1t1.5 3.1M375 879q0 -3.5 -3 -1.7t-3 -1.7t-3 -1.7t-3 -1.7t-3 -1.7t-3 -1.7t-3 -1.7t-3 -1.7M340 797q-3.4 0.8 -0.9 3.3t-0.9 3.3t-0.9 3.3t-0.9 3.3t-0.9 3.3t-0.9 3.3M342 812q0.6 -3.4 -2.6 -2.1t-2.6 -2.1t-2.6 -2.1t-2.6 -2.1M339 864q1.2 3.3 3.4 0.5t3.4 0.5t3.4 0.5t3.4 0.5t3.4 0.5t3.4 0.5t3.4 0.5t3.4 0.5t3.4 0.5M367 891q2.7 -2.3 -0.7 -3.3t-0.7 -3.3t-0.7 -3.3t-0.7 -3.3M345 816q-2.9 2 0.3 3.4t0.3 3.4t0.3 3.4t0.3 3.4t0.3 3.4t0.3 3.4t0.3 3.4t0.3 3.4M368 834q2.8 -2.1 -0.5 -3.4t-0.5 -3.4t-0.5 -3.4t-0.5 -3.4t-0.5 -3.4t-0.5 -3.4t-0.5 -3.4M382 890q-1.4 3.2 2.1 2.7t2.1 2.7t2.1 2.7t2.1 2.7t2.1 2.7M342 824q-2.7 2.3 0.7 3.3t0.7 3.3t0.7 3.3t0.7 3.3t0.7 3.3t0.7 3.3M338 888q-2 2.9 1.5 3.1t1.5 3.1t1.5 3.1t1.5 3.1M351 805q-3.5 -0.1 -1.8 2.9t-1.8 2.9t-1.8 2.9t-1.8 2.9t-1.8 2.9t-1.8 2.9t-1.8 2.9M370 876q-3.3 1.3 -0.4 3.4t-0.4 3.4t-0.4 3.4t-0.4 3.4M367 807q-2.8 2.2 0.5 3.4t0.5 3.4t0.5 3.4t0.5 3.4t0.5 3.4t0.5 3.4t0.5 3.4M356 838q3.4 -0.9 0.8 -3.3t0.8 -3.3t0.8 -3.3t0.8 -3.3t0.8 -3.3t0.8 -3.3t0.8 -3.3t0.8 -3.3M381 828q3.3 -1.1 0.6 -3.3t0.6 -3.3t0.6 -3.3t0.6 -3.3t0.6 -3.3M377 894q3.3 -1.1 0.6 -3.3t0.6 -3.3t0.6 -3.3t0.6 -3.3t0.6 -3.3t0.6 -3.3M391 875q1.1 -3.3 -2.3 -2.5t-2.3 -2.5t-2.3 -2.5t-2.3 -2.5t-2.3 -2.5M356 894q3 -1.8 -0.1 -3.4t-0.1 -3.4t-0.1 -3.4t-0.1 -3.4t-0.1 -3.4t-0.1 -3.4t-0.1 -3.4t-0.1 -3.4M384 843q1.4 3.2 3.4 0.3t3.4 0.3t3.4 0.3t3.4 0.3t3.4 0.3t3.4 0.3t3.4 0.3t3.4 0.3t3.4 0.3M344 795q3.1 1.6 2.9 -1.9t2.9 -1.9t2.9 -1.9t2.9 -1.9t2.9 -1.9t2.9 -1.9t2.9 -1.9t2.9 -1.9t2.9 -1.9M384 891q-2.9 2 0.3 3.4t0.3 3.4t0.3 3.4t0.3 3.4M379 892q2.4 -2.6 -1 -3.2t-1 -3.2t-1 -3.2t-1 -3.2t-1 -3.2t-1 -3.2M367 846q-3.1 1.6 -0.2 3.4t-0.2 3.4t-0.2 3.4t-0.2 3.4t-0.2 3.4t-0.2 3.4t-0.2 3.4M383 860q0.3 3.5 3.1 1.4t3.1 1.4t3.1 1.4t3.1 1.4t3.1 1.4t3.1 1.4t3.1 1.4t3.1 1.4M351 810q3.2 -1.4 0.3 -3.4t0.3 -3.4t0.3 -3.4t0.3 -3.4t0.3 -3.4M382 853q2.4 -2.5 -1 -3.2t-1 -3.2t-1 -3.2t-1 -3.2t-1 -3.2t-1 -3.2t-1 -3.2t-1 -3.2t-1 -3.2M373 858q-2 -2.9 -3.4 0.4t-3.4 0.4t-3.4 0.4t-3.4 0.4t-3.4 0.4M388 871q-1.7 3 1.8 2.9t1.8 2.9t1.8 2.9t1.8 2.9t1.8 2.9M374 853q-3.1 1.6 -0.1 3.4t-0.1 3.4t-0.1 3.4t-0.1 3.4t-0.1 3.4t-0.1 3.4t-0.1 3.4t-0.1 3.4M377 853q-2.7 2.2 0.6 3.3t0.6 3.3t0.6 3.3t0.6 3.3t0.6 3.3t0.6 3.3t0.6 3.3t0.6 3.3M373 840q-2.9 2 0.3 3.4t0.3 3.4t0.3 3.4t0.3 3.4t0.3 3.4t0.3 3.4t0.3 3.4t0.3 3.4t0.3 3.4M375 889q3.5 0.3 1.9 -2.8t1.9 -2.8t1.9 -2.8t1.9 -2.8t1.9 -2.8t1.9 -2.8M395 841q-3.3 1 -0.7 3.3t-0.7 3.3t-0.7 3.3t-0.7 3.3t-0.7 3.3t-0.7 3.3t-0.7 3.3M395 859q2.9 -1.9 -0.3 -3.4t-0.3 -3.4t-0.3 -3.4t-0.3 -3.4t-0.3 -3.4t-0.3 -3.4M372 884q-1.8 3 1.7 2.9t1.7 2.9t1.7 2.9t1.7 2.9t1.7 2.9t1.7 2.9t1.7 2.9t1.7 2.9M381 871q-1.7 3.1 1.8 2.9t1.8 2.9t1.8 2.9t1.8 2.9t1.8 2.9t1.8 2.9t1.8 2.9t1.8 2.9t1.8 2.9M397 820q0.5 3.5 3.2 1.2t3.2 1.2t3.2 1.2t3.2 1.2t3.2 1.2t3.2 1.2t3.2 1.2t3.2 1.2M369 837q-1.3 3.2 2.1 2.7t2.1 2.7t2.1 2.7t2.1 2.7t2.1 2.7t2.1 2.7t2.1 2.7t2.1 2.7t2.1 2.7M352 867q0.1 -3.5 -2.9 -1.8t-2.9 -1.8t-2.9 -1.8t-2.9 -1.8M347 850q2.9 -2 -0.4 -3.4t-0.4 -3.4t-0.4 -3.4t-0.4 -3.4t-0.4 -3.4M374 845q-2.5 2.5 1 3.3t1 3.3t1 3.3t1 3.3t1 3.3t1 3.3M348 860q-1.5 3.2 2 2.8t2 2.8t2 2.8t2 2.8t2 2.8t2 2.8t2 2.8t2 2.8t2 2.8M339 831q-0.5 3.5 2.7 2.1t2.7 2.1t2.7 2.1t2.7 2.1t2.7 2.1t2.7 2.1M391 873q-3.3 -1.3 -2.6 2.2t-2.6 2.2t-2.6 2.2t-2.6 2.2t-2.6 2.2M388 827q3.2 -1.4 0.3 -3.4t0.3 -3.4t0.3 -3.4t0.3 -3.4t0.3 -3.4" fill="none" stroke="#1f7ea8" stroke-width="2.2" stroke-linecap="round" clip-path="url(#cp6)"/>
<clipPath id="cp7"><use href="#sf5"/></clipPath>
<path d="M377 867q-3 0.7 -0.8 2.9t-0.8 2.9t-0.8 2.9t-0.8 2.9t-0.8 2.9t-0.8 2.9t-0.8 2.9M353 880q-2.7 1.5 0 3t0 3t0 3t0 3t0 3M387 869q-2.9 1.1 -0.4 3t-0.4 3t-0.4 3t-0.4 3t-0.4 3t-0.4 3t-0.4 3t-0.4 3M364 838q-2.4 -2 -2.8 1.1t-2.8 1.1t-2.8 1.1t-2.8 1.1t-2.8 1.1t-2.8 1.1M389 878q-1.1 2.9 1.9 2.3t1.9 2.3t1.9 2.3t1.9 2.3t1.9 2.3t1.9 2.3t1.9 2.3t1.9 2.3t1.9 2.3t1.9 2.3M375 818q-3 0.6 -1 2.8t-1 2.8t-1 2.8t-1 2.8t-1 2.8t-1 2.8M383 890q-3 0.8 -0.7 2.9t-0.7 2.9t-0.7 2.9t-0.7 2.9t-0.7 2.9M380 822q-3.1 -0.2 -1.6 2.5t-1.6 2.5t-1.6 2.5t-1.6 2.5t-1.6 2.5t-1.6 2.5t-1.6 2.5M347 886q-2.6 1.7 0.3 3t0.3 3t0.3 3t0.3 3t0.3 3t0.3 3M364 878q-3 -0.6 -1.9 2.3t-1.9 2.3t-1.9 2.3t-1.9 2.3t-1.9 2.3t-1.9 2.3t-1.9 2.3t-1.9 2.3t-1.9 2.3M349 831q-3 0.6 -1 2.8t-1 2.8t-1 2.8t-1 2.8t-1 2.8t-1 2.8t-1 2.8M343 830q-3.1 -0.3 -1.7 2.5t-1.7 2.5t-1.7 2.5t-1.7 2.5t-1.7 2.5M353 852q3.1 0.3 1.7 -2.5t1.7 -2.5t1.7 -2.5t1.7 -2.5t1.7 -2.5t1.7 -2.5t1.7 -2.5M355 807q-3 0.9 -0.7 2.9t-0.7 2.9t-0.7 2.9t-0.7 2.9t-0.7 2.9t-0.7 2.9t-0.7 2.9t-0.7 2.9t-0.7 2.9t-0.7 2.9M367 850q-2.9 1.1 -0.4 3t-0.4 3t-0.4 3t-0.4 3t-0.4 3t-0.4 3t-0.4 3t-0.4 3t-0.4 3" fill="none" stroke="#12668f" stroke-width="1.4" stroke-linecap="round" clip-path="url(#cp7)"/>
<text x="284" y="703" text-anchor="middle">MT-CO2</text>
<text x="284" y="727.1" text-anchor="middle">84% seq. ID</text>
<text x="284" y="751.2" text-anchor="middle">pLDDT: 0.72</text>
<text x="416.5" y="699.1" text-anchor="middle">MT-CO3</text>
<text x="416.5" y="723.2" text-anchor="middle">76% seq. ID</text>
<text x="416.5" y="747.3" text-anchor="middle">pLDDT: 0.81</text>
<line x1="317.4" y1="758.6" x2="330.4" y2="778.8" stroke="#111" stroke-width="1.3"/>
<line x1="402.3" y1="755.7" x2="393.6" y2="789" stroke="#111" stroke-width="1.3"/>
<line x1="436.2" y1="886.1" x2="368.1" y2="876" stroke="#111" stroke-width="1.3"/>
<text x="442" y="908.7" text-anchor="middle">MT-CO1</text>
<text x="442" y="932.8" text-anchor="middle">89% seq. ID</text>
<text x="442" y="956.9" text-anchor="middle">pLDDT: 0.83</text>
<path d="M895,792 C896.3,788.5 898,788 899,786 C900,784 900,782 901,780 C902,778 903.2,774.8 905,774 C906.8,773.2 909.7,775 912,775 C914.3,775 916.8,774.7 919,774 C921.2,773.3 922.7,772 925,771 C927.3,770 930.2,768.2 933,768 C935.8,767.8 939.2,770.2 942,770 C944.8,769.8 947.3,767.2 950,767 C952.7,766.8 955.3,768.2 958,769 C960.7,769.8 963.2,771.5 966,772 C968.8,772.5 972.3,771.7 975,772 C977.7,772.3 979.8,773.3 982,774 C984.2,774.7 985.5,775.7 988,776 C990.5,776.3 995.3,774.8 997,776 C998.7,777.2 997.2,781 998,783 C998.8,785 1000,786.8 1002,788 C1004,789.2 1009,788.3 1010,790 C1011,791.7 1008.5,795.2 1008,798 C1007.5,800.8 1007,804.2 1007,807 C1007,809.8 1008,812 1008,815 C1008,818 1007,821.7 1007,825 C1007,828.3 1008.7,831.7 1008,835 C1007.3,838.3 1003.8,841.8 1003,845 C1002.2,848.2 1002.5,851 1003,854 C1003.5,857 1005.5,860 1006,863 C1006.5,866 1006.2,869.2 1006,872 C1005.8,874.8 1005.7,877.3 1005,880 C1004.3,882.7 1003.3,885.5 1002,888 C1000.7,890.5 998.7,893 997,895 C995.3,897 993,898 992,900 C991,902 992,904.7 991,907 C990,909.3 988.3,913 986,914 C983.7,915 979.3,912 977,913 C974.7,914 974,918.2 972,920 C970,921.8 967.3,923.8 965,924 C962.7,924.2 960.2,922 958,921 C955.8,920 954.2,918.3 952,918 C949.8,917.7 947.3,919.2 945,919 C942.7,918.8 940.2,918 938,917 C935.8,916 934.2,913.7 932,913 C929.8,912.3 927.2,913.8 925,913 C922.8,912.2 921.2,909.3 919,908 C916.8,906.7 914.2,905.5 912,905 C909.8,904.5 907.7,906.5 906,905 C904.3,903.5 903.2,898.8 902,896 C900.8,893.2 900.3,890.7 899,888 C897.7,885.3 895.2,883.5 894,880 C892.8,876.5 892.5,871.3 892,867 C891.5,862.7 891.3,858.5 891,854 C890.7,849.5 890.2,845.2 890,840 C889.8,834.8 889.8,828.5 890,823 C890.2,817.5 890.2,812.2 891,807 C891.8,801.8 893.7,795.5 895,792Z" fill="#eef2f5" stroke="#9aa6ae" stroke-width="1" id="sf6"/>
<clipPath id="cp8"><use href="#sf6"/></clipPath>
<path d="M901 801q3 1.4 2.6 -1.9t2.6 -1.9t2.6 -1.9t2.6 -1.9t2.6 -1.9t2.6 -1.9t2.6 -1.9M976 783q-0.4 3.3 2.6 1.9t2.6 1.9t2.6 1.9t2.6 1.9t2.6 1.9t2.6 1.9t2.6 1.9t2.6 1.9t2.6 1.9M935 768q-2.6 2 0.4 3.2t0.4 3.2t0.4 3.2t0.4 3.2t0.4 3.2t0.4 3.2t0.4 3.2M949 887q-3.2 0.9 -0.8 3.1t-0.8 3.1t-0.8 3.1t-0.8 3.1t-0.8 3.1t-0.8 3.1t-0.8 3.1t-0.8 3.1t-0.8 3.1M944 819q-1.1 -3.1 -3.2 -0.5t-3.2 -0.5t-3.2 -0.5t-3.2 -0.5t-3.2 -0.5t-3.2 -0.5t-3.2 -0.5t-3.2 -0.5M943 834q3 -1.4 0.2 -3.2t0.2 -3.2t0.2 -3.2t0.2 -3.2t0.2 -3.2t0.2 -3.2t0.2 -3.2t0.2 -3.2M950 850q3.3 -0.2 1.4 -2.9t1.4 -2.9t1.4 -2.9t1.4 -2.9t1.4 -2.9t1.4 -2.9t1.4 -2.9M959 887q-2.8 1.7 0.1 3.2t0.1 3.2t0.1 3.2t0.1 3.2t0.1 3.2t0.1 3.2t0.1 3.2t0.1 3.2M990 813q3.1 -1.1 0.5 -3.2t0.5 -3.2t0.5 -3.2t0.5 -3.2M913 793q-3.1 1 -0.7 3.1t-0.7 3.1t-0.7 3.1t-0.7 3.1t-0.7 3.1t-0.7 3.1t-0.7 3.1M909 777q3.2 -0.9 0.7 -3.1t0.7 -3.1t0.7 -3.1t0.7 -3.1M1003 874q0.4 -3.3 -2.6 -1.9t-2.6 -1.9t-2.6 -1.9t-2.6 -1.9t-2.6 -1.9M930 856q-3.1 -1.1 -2.4 2.1t-2.4 2.1t-2.4 2.1t-2.4 2.1t-2.4 2.1t-2.4 2.1t-2.4 2.1M935 896q-3.1 1.2 -0.4 3.2t-0.4 3.2t-0.4 3.2t-0.4 3.2t-0.4 3.2t-0.4 3.2t-0.4 3.2M988 868q-2.9 1.6 0 3.2t0 3.2t0 3.2t0 3.2M895 915q-3 1.4 -0.2 3.2t-0.2 3.2t-0.2 3.2t-0.2 3.2t-0.2 3.2t-0.2 3.2t-0.2 3.2t-0.2 3.2t-0.2 3.2t-0.2 3.2M1000 838q-3.3 0.3 -1.3 2.9t-1.3 2.9t-1.3 2.9t-1.3 2.9t-1.3 2.9M935 781q-2.2 2.5 1.1 3t1.1 3t1.1 3t1.1 3M973 808q1.7 -2.8 -1.6 -2.8t-1.6 -2.8t-1.6 -2.8t-1.6 -2.8M1005 796q3.1 1 2.4 -2.2t2.4 -2.2t2.4 -2.2t2.4 -2.2t2.4 -2.2t2.4 -2.2t2.4 -2.2t2.4 -2.2M971 886q-0.7 3.2 2.4 2.1t2.4 2.1t2.4 2.1t2.4 2.1t2.4 2.1t2.4 2.1M1004 919q-2.5 -2.1 -3 1.1t-3 1.1t-3 1.1t-3 1.1t-3 1.1t-3 1.1M998 769q3.3 0 1.6 -2.8t1.6 -2.8t1.6 -2.8t1.6 -2.8M900 822q0 3.3 2.8 1.5t2.8 1.5t2.8 1.5t2.8 1.5t2.8 1.5t2.8 1.5t2.8 1.5t2.8 1.5t2.8 1.5M980 779q-2.8 1.7 0.1 3.2t0.1 3.2t0.1 3.2t0.1 3.2t0.1 3.2t0.1 3.2t0.1 3.2M900 796q-2.9 1.6 -0 3.2t-0 3.2t-0 3.2t-0 3.2t-0 3.2t-0 3.2t-0 3.2t-0 3.2M951 797q3.3 -0.5 1.1 -3t1.1 -3t1.1 -3t1.1 -3M958 772q-3.3 -0.1 -1.7 2.7t-1.7 2.7t-1.7 2.7t-1.7 2.7t-1.7 2.7t-1.7 2.7t-1.7 2.7t-1.7 2.7t-1.7 2.7M936 841q-3.2 0.6 -1.1 3t-1.1 3t-1.1 3t-1.1 3t-1.1 3t-1.1 3M974 902q1.5 -2.9 -1.8 -2.7t-1.8 -2.7t-1.8 -2.7t-1.8 -2.7t-1.8 -2.7t-1.8 -2.7t-1.8 -2.7t-1.8 -2.7M990 774q-0.6 -3.2 -3 -1.1t-3 -1.1t-3 -1.1t-3 -1.1t-3 -1.1t-3 -1.1t-3 -1.1t-3 -1.1t-3 -1.1M968 898q-3.2 0.6 -1 3t-1 3t-1 3t-1 3t-1 3t-1 3t-1 3t-1 3t-1 3t-1 3M895 825q-2.8 1.7 0.1 3.2t0.1 3.2t0.1 3.2t0.1 3.2t0.1 3.2M1008 874q-2.4 -2.2 -3 1t-3 1t-3 1t-3 1t-3 1M984 833q2.4 2.3 3.1 -0.9t3.1 -0.9t3.1 -0.9t3.1 -0.9t3.1 -0.9t3.1 -0.9t3.1 -0.9t3.1 -0.9t3.1 -0.9M963 855q1.9 2.7 3.2 -0.4t3.2 -0.4t3.2 -0.4t3.2 -0.4t3.2 -0.4t3.2 -0.4M953 843q1.3 3 3.2 0.4t3.2 0.4t3.2 0.4t3.2 0.4t3.2 0.4t3.2 0.4t3.2 0.4t3.2 0.4t3.2 0.4M950 829q-3 -1.3 -2.5 2t-2.5 2t-2.5 2t-2.5 2t-2.5 2t-2.5 2t-2.5 2t-2.5 2t-2.5 2M933 784q0.4 -3.3 -2.6 -1.9t-2.6 -1.9t-2.6 -1.9t-2.6 -1.9t-2.6 -1.9t-2.6 -1.9t-2.6 -1.9t-2.6 -1.9t-2.6 -1.9M978 865q2.8 -1.8 -0.2 -3.2t-0.2 -3.2t-0.2 -3.2t-0.2 -3.2t-0.2 -3.2t-0.2 -3.2t-0.2 -3.2M924 779q2.8 -1.7 -0.1 -3.2t-0.1 -3.2t-0.1 -3.2t-0.1 -3.2t-0.1 -3.2M970 864q2.8 -1.8 -0.2 -3.2t-0.2 -3.2t-0.2 -3.2t-0.2 -3.2t-0.2 -3.2t-0.2 -3.2t-0.2 -3.2M933 832q-2.6 2 0.5 3.2t0.5 3.2t0.5 3.2t0.5 3.2M979 905q-1.6 2.9 1.7 2.7t1.7 2.7t1.7 2.7t1.7 2.7M911 922q-3.3 0.4 -1.2 3t-1.2 3t-1.2 3t-1.2 3t-1.2 3M940 853q-2 2.6 1.3 2.9t1.3 2.9t1.3 2.9t1.3 2.9t1.3 2.9M910 860q-3.3 -0.2 -1.7 2.7t-1.7 2.7t-1.7 2.7t-1.7 2.7t-1.7 2.7t-1.7 2.7t-1.7 2.7t-1.7 2.7M923 786q-3.3 -0 -1.6 2.8t-1.6 2.8t-1.6 2.8t-1.6 2.8t-1.6 2.8t-1.6 2.8M908 853q3.3 0.4 1.9 -2.6t1.9 -2.6t1.9 -2.6t1.9 -2.6t1.9 -2.6M946 871q-0.4 -3.3 -3 -1.2t-3 -1.2t-3 -1.2t-3 -1.2t-3 -1.2M984 821q0.8 3.2 3.1 0.8t3.1 0.8t3.1 0.8t3.1 0.8t3.1 0.8t3.1 0.8M930 908q-0 3.3 2.8 1.6t2.8 1.6t2.8 1.6t2.8 1.6t2.8 1.6t2.8 1.6t2.8 1.6t2.8 1.6M903 918q3.2 -0.7 1 -3.1t1 -3.1t1 -3.1t1 -3.1t1 -3.1t1 -3.1t1 -3.1t1 -3.1M1005 801q1.7 2.8 3.2 -0.1t3.2 -0.1t3.2 -0.1t3.2 -0.1M937 832q-2.8 1.7 0.1 3.2t0.1 3.2t0.1 3.2t0.1 3.2t0.1 3.2t0.1 3.2t0.1 3.2t0.1 3.2t0.1 3.2t0.1 3.2" fill="none" stroke="#9aa9b3" stroke-width="1.2" stroke-linecap="round" clip-path="url(#cp8)"/>
<path d="M735,790 C736,787.8 740.3,787.3 743,786 C745.7,784.7 748.2,782.8 751,782 C753.8,781.2 756.3,781.2 760,781 C763.7,780.8 768.5,780.8 773,781 C777.5,781.2 782.5,781.5 787,782 C791.5,782.5 795.7,783.5 800,784 C804.3,784.5 808.5,785.2 813,785 C817.5,784.8 822.5,783.3 827,783 C831.5,782.7 835.7,782.8 840,783 C844.3,783.2 848.5,784 853,784 C857.5,784 862.5,782.7 867,783 C871.5,783.3 876.7,785 880,786 C883.3,787 884.7,788.2 887,789 C889.3,789.8 891.8,790 894,791 C896.2,792 899.2,793.3 900,795 C900.8,796.7 899.2,799.2 899,801 C898.8,802.8 898.8,804.2 899,806 C899.2,807.8 902,811.2 900,812 C898,812.8 891.5,810.7 887,811 C882.5,811.3 877.5,813.2 873,814 C868.5,814.8 865.5,816 860,816 C854.5,816 846.7,814.3 840,814 C833.3,813.7 826.7,814 820,814 C813.3,814 806.3,814.2 800,814 C793.7,813.8 788.2,812.8 782,813 C775.8,813.2 769,814.8 763,815 C757,815.2 749.3,815.5 746,814 C742.7,812.5 744.5,808.5 743,806 C741.5,803.5 738.3,801.7 737,799 C735.7,796.3 734,792.2 735,790Z" fill="#e3eef3" stroke="#a8b8c2" stroke-width="1" id="sf7"/>
<clipPath id="cp9"><use href="#sf7"/></clipPath>
<path d="M822 801q-3 0.7 -0.8 2.9t-0.8 2.9t-0.8 2.9t-0.8 2.9t-0.8 2.9t-0.8 2.9t-0.8 2.9t-0.8 2.9t-0.8 2.9t-0.8 2.9M805 791q-1.3 -2.8 -3 -0.2t-3 -0.2t-3 -0.2t-3 -0.2t-3 -0.2M780 801q-2.2 2.1 0.8 2.9t0.8 2.9t0.8 2.9t0.8 2.9t0.8 2.9t0.8 2.9t0.8 2.9t0.8 2.9t0.8 2.9M796 806q-3 0.7 -0.9 2.9t-0.9 2.9t-0.9 2.9t-0.9 2.9t-0.9 2.9t-0.9 2.9t-0.9 2.9t-0.9 2.9M840 790q-2.2 2.2 0.8 2.9t0.8 2.9t0.8 2.9t0.8 2.9t0.8 2.9t0.8 2.9t0.8 2.9M835 800q-2.6 -1.7 -2.7 1.4t-2.7 1.4t-2.7 1.4t-2.7 1.4t-2.7 1.4M870 800q0.5 -3 -2.3 -1.9t-2.3 -1.9t-2.3 -1.9t-2.3 -1.9t-2.3 -1.9t-2.3 -1.9M754 790q-1.5 2.7 1.6 2.5t1.6 2.5t1.6 2.5t1.6 2.5t1.6 2.5t1.6 2.5M878 783q3.1 -0.4 1.1 -2.8t1.1 -2.8t1.1 -2.8t1.1 -2.8t1.1 -2.8t1.1 -2.8t1.1 -2.8M811 785q-2.5 1.8 0.3 3t0.3 3t0.3 3t0.3 3t0.3 3t0.3 3M746 790q-1.1 -2.9 -3 -0.5t-3 -0.5t-3 -0.5t-3 -0.5t-3 -0.5t-3 -0.5t-3 -0.5M773 813q-0.9 -2.9 -2.9 -0.6t-2.9 -0.6t-2.9 -0.6t-2.9 -0.6t-2.9 -0.6t-2.9 -0.6t-2.9 -0.6t-2.9 -0.6t-2.9 -0.6t-2.9 -0.6M860 814q3.1 0.3 1.7 -2.5t1.7 -2.5t1.7 -2.5t1.7 -2.5t1.7 -2.5t1.7 -2.5M788 807q3 -0.8 0.8 -2.9t0.8 -2.9t0.8 -2.9t0.8 -2.9t0.8 -2.9t0.8 -2.9t0.8 -2.9M844 780q1.1 -2.9 -1.9 -2.3t-1.9 -2.3t-1.9 -2.3t-1.9 -2.3t-1.9 -2.3M754 789q1.6 -2.7 -1.5 -2.6t-1.5 -2.6t-1.5 -2.6t-1.5 -2.6t-1.5 -2.6t-1.5 -2.6t-1.5 -2.6M759 803q-2.6 1.6 0.2 3t0.2 3t0.2 3t0.2 3t0.2 3t0.2 3t0.2 3M765 803q3 -0.9 0.7 -2.9t0.7 -2.9t0.7 -2.9t0.7 -2.9t0.7 -2.9t0.7 -2.9t0.7 -2.9M833 808q2.7 -1.5 0 -3t0 -3t0 -3t0 -3t0 -3t0 -3t0 -3t0 -3t0 -3M877 806q2.7 -1.5 -0 -3t-0 -3t-0 -3t-0 -3" fill="none" stroke="#8fa6b5" stroke-width="1.2" stroke-linecap="round" clip-path="url(#cp9)"/>
<path d="M735,775 C736.8,772.5 740.3,772.3 743,771 C745.7,769.7 748.2,768.3 751,767 C753.8,765.7 756.8,762.8 760,763 C763.2,763.2 766.7,767.5 770,768 C773.3,768.5 776.7,765.7 780,766 C783.3,766.3 787.2,768.3 790,770 C792.8,771.7 794.8,773.8 797,776 C799.2,778.2 800.8,780.7 803,783 C805.2,785.3 809.2,786 810,790 C810.8,794 808.2,801.5 808,807 C807.8,812.5 808.5,817.5 809,823 C809.5,828.5 811,835 811,840 C811,845 809.5,848.5 809,853 C808.5,857.5 808.8,862.5 808,867 C807.2,871.5 804.5,875.8 804,880 C803.5,884.2 805.7,888.2 805,892 C804.3,895.8 800.8,899 800,903 C799.2,907 801.2,913.5 800,916 C798.8,918.5 795.3,917.2 793,918 C790.7,918.8 788.2,919.5 786,921 C783.8,922.5 782,926.8 780,927 C778,927.2 776.2,923 774,922 C771.8,921 769.2,921.3 767,921 C764.8,920.7 762.8,921.7 761,920 C759.2,918.3 757.7,913.8 756,911 C754.3,908.2 752.5,905.7 751,903 C749.5,900.3 748.8,898.8 747,895 C745.2,891.2 741.2,885 740,880 C738.8,875 740.7,870 740,865 C739.3,860 736.7,854.7 736,850 C735.3,845.3 736.8,841.5 736,837 C735.2,832.5 731.7,827.5 731,823 C730.3,818.5 731.8,814.2 732,810 C732.2,805.8 732,802 732,798 C732,794 731.5,789.8 732,786 C732.5,782.2 733.2,777.5 735,775Z" fill="#d6eff4" stroke="#9cc4d0" stroke-width="1" id="sf8"/>
<clipPath id="cp10"><use href="#sf8"/></clipPath>
<path d="M758 923q2.9 -1.6 0 -3.2t0 -3.2t0 -3.2t0 -3.2t0 -3.2t0 -3.2t0 -3.2t0 -3.2M751 883q-0.4 -3.3 -3 -1.2t-3 -1.2t-3 -1.2t-3 -1.2t-3 -1.2t-3 -1.2t-3 -1.2M777 898q2.9 -1.6 -0 -3.2t-0 -3.2t-0 -3.2t-0 -3.2t-0 -3.2t-0 -3.2t-0 -3.2t-0 -3.2M763 804q-1.3 -3 -3.2 -0.3t-3.2 -0.3t-3.2 -0.3t-3.2 -0.3t-3.2 -0.3t-3.2 -0.3t-3.2 -0.3t-3.2 -0.3M748 812q0.3 -3.3 -2.7 -1.8t-2.7 -1.8t-2.7 -1.8t-2.7 -1.8t-2.7 -1.8t-2.7 -1.8t-2.7 -1.8t-2.7 -1.8M775 766q3.3 0.1 1.6 -2.8t1.6 -2.8t1.6 -2.8t1.6 -2.8t1.6 -2.8t1.6 -2.8M761 799q2.7 1.9 2.9 -1.4t2.9 -1.4t2.9 -1.4t2.9 -1.4t2.9 -1.4t2.9 -1.4t2.9 -1.4t2.9 -1.4t2.9 -1.4t2.9 -1.4M805 863q-1.5 -2.9 -3.2 -0.1t-3.2 -0.1t-3.2 -0.1t-3.2 -0.1t-3.2 -0.1t-3.2 -0.1t-3.2 -0.1t-3.2 -0.1M755 924q-2.7 1.9 0.3 3.2t0.3 3.2t0.3 3.2t0.3 3.2t0.3 3.2M745 775q-3.2 -0.9 -2.2 2.3t-2.2 2.3t-2.2 2.3t-2.2 2.3t-2.2 2.3t-2.2 2.3t-2.2 2.3t-2.2 2.3t-2.2 2.3M775 866q-1.8 2.8 1.5 2.8t1.5 2.8t1.5 2.8t1.5 2.8t1.5 2.8t1.5 2.8t1.5 2.8M789 779q-3.3 -0.4 -1.9 2.6t-1.9 2.6t-1.9 2.6t-1.9 2.6t-1.9 2.6M788 919q-2.6 2 0.5 3.2t0.5 3.2t0.5 3.2t0.5 3.2t0.5 3.2t0.5 3.2t0.5 3.2t0.5 3.2t0.5 3.2M754 810q-3.2 0.6 -1 3t-1 3t-1 3t-1 3t-1 3t-1 3t-1 3M802 813q0 3.3 2.8 1.5t2.8 1.5t2.8 1.5t2.8 1.5t2.8 1.5t2.8 1.5t2.8 1.5t2.8 1.5M755 825q3.3 -0.3 1.3 -2.9t1.3 -2.9t1.3 -2.9t1.3 -2.9t1.3 -2.9t1.3 -2.9t1.3 -2.9t1.3 -2.9t1.3 -2.9t1.3 -2.9M743 838q2.9 -1.6 0 -3.2t0 -3.2t0 -3.2t0 -3.2t0 -3.2t0 -3.2t0 -3.2t0 -3.2t0 -3.2M742 875q-2.4 -2.2 -3 1t-3 1t-3 1t-3 1t-3 1t-3 1t-3 1M762 870q-1.7 -2.8 -3.2 0.1t-3.2 0.1t-3.2 0.1t-3.2 0.1t-3.2 0.1t-3.2 0.1M765 788q-0.6 3.2 2.5 2.1t2.5 2.1t2.5 2.1t2.5 2.1t2.5 2.1t2.5 2.1t2.5 2.1t2.5 2.1M765 832q-2.8 1.7 0.1 3.2t0.1 3.2t0.1 3.2t0.1 3.2t0.1 3.2t0.1 3.2t0.1 3.2M807 920q3.2 -0.9 0.8 -3.1t0.8 -3.1t0.8 -3.1t0.8 -3.1M788 886q0.2 3.3 2.9 1.4t2.9 1.4t2.9 1.4t2.9 1.4t2.9 1.4t2.9 1.4t2.9 1.4t2.9 1.4M743 914q-0.4 3.3 2.6 1.8t2.6 1.8t2.6 1.8t2.6 1.8t2.6 1.8t2.6 1.8t2.6 1.8M777 768q-2.8 1.7 0.1 3.2t0.1 3.2t0.1 3.2t0.1 3.2t0.1 3.2t0.1 3.2M776 870q-0.1 -3.3 -2.9 -1.4t-2.9 -1.4t-2.9 -1.4t-2.9 -1.4t-2.9 -1.4M808 872q-3.2 0.9 -0.8 3.1t-0.8 3.1t-0.8 3.1t-0.8 3.1t-0.8 3.1t-0.8 3.1M766 829q-2.9 1.5 -0.1 3.2t-0.1 3.2t-0.1 3.2t-0.1 3.2t-0.1 3.2t-0.1 3.2t-0.1 3.2t-0.1 3.2M786 830q-1.8 2.7 1.5 2.8t1.5 2.8t1.5 2.8t1.5 2.8t1.5 2.8t1.5 2.8t1.5 2.8M798 766q-1.1 3.1 2.1 2.4t2.1 2.4t2.1 2.4t2.1 2.4t2.1 2.4t2.1 2.4t2.1 2.4t2.1 2.4M786 921q3.2 -0.8 0.8 -3.1t0.8 -3.1t0.8 -3.1t0.8 -3.1t0.8 -3.1t0.8 -3.1t0.8 -3.1t0.8 -3.1t0.8 -3.1M762 778q2.9 1.6 2.7 -1.7t2.7 -1.7t2.7 -1.7t2.7 -1.7t2.7 -1.7M790 815q2.4 -2.3 -0.8 -3.1t-0.8 -3.1t-0.8 -3.1t-0.8 -3.1t-0.8 -3.1t-0.8 -3.1t-0.8 -3.1t-0.8 -3.1M756 843q3.1 -1 0.6 -3.1t0.6 -3.1t0.6 -3.1t0.6 -3.1M776 882q3.2 -0.9 0.8 -3.1t0.8 -3.1t0.8 -3.1t0.8 -3.1t0.8 -3.1t0.8 -3.1t0.8 -3.1M799 876q2.9 -1.5 0.1 -3.2t0.1 -3.2t0.1 -3.2t0.1 -3.2t0.1 -3.2t0.1 -3.2t0.1 -3.2t0.1 -3.2M796 775q-1.2 3.1 2 2.5t2 2.5t2 2.5t2 2.5t2 2.5t2 2.5t2 2.5t2 2.5M790 781q-3.3 -0.3 -1.8 2.7t-1.8 2.7t-1.8 2.7t-1.8 2.7t-1.8 2.7t-1.8 2.7t-1.8 2.7t-1.8 2.7t-1.8 2.7M752 783q-3.3 0.5 -1.1 3t-1.1 3t-1.1 3t-1.1 3t-1.1 3t-1.1 3t-1.1 3t-1.1 3M761 785q-3.3 0.3 -1.3 2.9t-1.3 2.9t-1.3 2.9t-1.3 2.9" fill="none" stroke="#6fb9cb" stroke-width="1.3" stroke-linecap="round" clip-path="url(#cp10)"/>
<path d="M808,799 C809.5,797 813.7,799 816,798 C818.3,797 819.7,794.7 822,793 C824.3,791.3 827,788.8 830,788 C833,787.2 836.7,787.8 840,788 C843.3,788.2 846.7,789.2 850,789 C853.3,788.8 856.7,786.7 860,787 C863.3,787.3 866.7,790 870,791 C873.3,792 876.8,792.2 880,793 C883.2,793.8 886.5,794.7 889,796 C891.5,797.3 893.5,799 895,801 C896.5,803 897,805.7 898,808 C899,810.3 900.5,811.3 901,815 C901.5,818.7 900.8,825 901,830 C901.2,835 902.2,840 902,845 C901.8,850 900.3,855.2 900,860 C899.7,864.8 900.2,869.5 900,874 C899.8,878.5 899.7,882.5 899,887 C898.3,891.5 897.8,897.7 896,901 C894.2,904.3 890.2,904.5 888,907 C885.8,909.5 884.3,913.2 883,916 C881.7,918.8 882,922.2 880,924 C878,925.8 873.7,925.8 871,927 C868.3,928.2 866.7,929.8 864,931 C861.3,932.2 857.8,933.8 855,934 C852.2,934.2 849.8,932.7 847,932 C844.2,931.3 840.8,930.7 838,930 C835.2,929.3 832.2,929.7 830,928 C827.8,926.3 827.2,922 825,920 C822.8,918 819.3,917.7 817,916 C814.7,914.3 812.5,913.2 811,910 C809.5,906.8 808.7,901.5 808,897 C807.3,892.5 808.2,887.5 807,883 C805.8,878.5 802.2,874.3 801,870 C799.8,865.7 799.5,861.5 800,857 C800.5,852.5 803.7,847.5 804,843 C804.3,838.5 801.7,833.8 802,830 C802.3,826.2 805.2,823.3 806,820 C806.8,816.7 806.7,813.5 807,810 C807.3,806.5 806.5,801 808,799Z" fill="#8fd0ee" stroke="#6ab3d6" stroke-width="1" id="sf9"/>
<clipPath id="cp11"><use href="#sf9"/></clipPath>
<path d="M866 850q-2.4 2.5 1 3.3t1 3.3t1 3.3t1 3.3M869 874q2.5 -2.4 -0.8 -3.3t-0.8 -3.3t-0.8 -3.3t-0.8 -3.3t-0.8 -3.3t-0.8 -3.3t-0.8 -3.3M833 932q3.4 -0.6 1.1 -3.2t1.1 -3.2t1.1 -3.2t1.1 -3.2t1.1 -3.2M863 865q-1.2 -3.3 -3.4 -0.6t-3.4 -0.6t-3.4 -0.6t-3.4 -0.6M839 866q-3.2 1.3 -0.4 3.4t-0.4 3.4t-0.4 3.4t-0.4 3.4M815 854q-3.2 -1.4 -2.7 2.1t-2.7 2.1t-2.7 2.1t-2.7 2.1t-2.7 2.1t-2.7 2.1t-2.7 2.1M838 920q1.2 -3.3 -2.2 -2.6t-2.2 -2.6t-2.2 -2.6t-2.2 -2.6M828 888q-3.3 1.2 -0.5 3.4t-0.5 3.4t-0.5 3.4t-0.5 3.4t-0.5 3.4M875 824q-3.5 0.1 -1.5 3t-1.5 3t-1.5 3t-1.5 3t-1.5 3t-1.5 3t-1.5 3t-1.5 3t-1.5 3M826 841q3 1.9 3 -1.6t3 -1.6t3 -1.6t3 -1.6t3 -1.6t3 -1.6t3 -1.6t3 -1.6t3 -1.6M885 895q-3.5 -0.4 -2 2.8t-2 2.8t-2 2.8t-2 2.8t-2 2.8M817 852q-2.9 2 0.3 3.4t0.3 3.4t0.3 3.4t0.3 3.4t0.3 3.4t0.3 3.4M803 842q2.9 -1.9 -0.2 -3.4t-0.2 -3.4t-0.2 -3.4t-0.2 -3.4t-0.2 -3.4M836 825q-1.9 2.9 1.6 3t1.6 3t1.6 3t1.6 3t1.6 3t1.6 3t1.6 3t1.6 3t1.6 3M830 807q-1.1 -3.3 -3.3 -0.6t-3.3 -0.6t-3.3 -0.6t-3.3 -0.6t-3.3 -0.6t-3.3 -0.6t-3.3 -0.6t-3.3 -0.6M840 802q-3.2 1.3 -0.4 3.4t-0.4 3.4t-0.4 3.4t-0.4 3.4t-0.4 3.4t-0.4 3.4t-0.4 3.4M846 844q-3.1 1.6 -0.2 3.4t-0.2 3.4t-0.2 3.4t-0.2 3.4t-0.2 3.4t-0.2 3.4M865 852q-3.1 -1.5 -2.8 1.9t-2.8 1.9t-2.8 1.9t-2.8 1.9t-2.8 1.9t-2.8 1.9t-2.8 1.9t-2.8 1.9M861 835q-1.8 3 1.7 3t1.7 3t1.7 3t1.7 3t1.7 3t1.7 3t1.7 3M880 823q-2.4 2.5 1 3.2t1 3.2t1 3.2t1 3.2t1 3.2t1 3.2t1 3.2t1 3.2t1 3.2M897 805q-2.4 -2.5 -3.3 0.9t-3.3 0.9t-3.3 0.9t-3.3 0.9t-3.3 0.9t-3.3 0.9t-3.3 0.9t-3.3 0.9t-3.3 0.9M842 879q-3.2 1.5 -0.2 3.4t-0.2 3.4t-0.2 3.4t-0.2 3.4M889 869q3.5 -0.5 1.2 -3.2t1.2 -3.2t1.2 -3.2t1.2 -3.2t1.2 -3.2t1.2 -3.2t1.2 -3.2t1.2 -3.2M812 919q1.2 -3.3 -2.2 -2.6t-2.2 -2.6t-2.2 -2.6t-2.2 -2.6t-2.2 -2.6t-2.2 -2.6M827 921q3.4 -0.7 1 -3.2t1 -3.2t1 -3.2t1 -3.2t1 -3.2t1 -3.2t1 -3.2t1 -3.2t1 -3.2M878 853q2.5 2.5 3.3 -0.9t3.3 -0.9t3.3 -0.9t3.3 -0.9t3.3 -0.9t3.3 -0.9t3.3 -0.9t3.3 -0.9M855 807q3.4 -0.7 1 -3.2t1 -3.2t1 -3.2t1 -3.2t1 -3.2M825 847q0.1 3.5 3 1.6t3 1.6t3 1.6t3 1.6t3 1.6t3 1.6M851 874q-3 1.8 0.1 3.4t0.1 3.4t0.1 3.4M853 826q-3.1 1.7 0 3.4t0 3.4t0 3.4t0 3.4M806 908q-3.3 1.3 -0.5 3.4t-0.5 3.4t-0.5 3.4t-0.5 3.4t-0.5 3.4t-0.5 3.4M892 887q-1.9 2.9 1.6 3t1.6 3t1.6 3t1.6 3t1.6 3t1.6 3M820 813q3.5 -0.6 1.1 -3.2t1.1 -3.2t1.1 -3.2t1.1 -3.2t1.1 -3.2t1.1 -3.2t1.1 -3.2t1.1 -3.2M844 819q-3.4 0.8 -0.9 3.3t-0.9 3.3t-0.9 3.3t-0.9 3.3t-0.9 3.3t-0.9 3.3t-0.9 3.3t-0.9 3.3M808 879q3 -1.8 -0.1 -3.4t-0.1 -3.4t-0.1 -3.4t-0.1 -3.4t-0.1 -3.4t-0.1 -3.4M872 809q-1.8 -3 -3.4 0.2t-3.4 0.2t-3.4 0.2t-3.4 0.2t-3.4 0.2t-3.4 0.2t-3.4 0.2t-3.4 0.2M860 878q2.9 -2 -0.4 -3.4t-0.4 -3.4t-0.4 -3.4t-0.4 -3.4t-0.4 -3.4M877 864q-3.5 0.2 -1.4 3.1t-1.4 3.1t-1.4 3.1t-1.4 3.1t-1.4 3.1t-1.4 3.1t-1.4 3.1t-1.4 3.1M810 882q-1.4 3.2 2 2.7t2 2.7t2 2.7t2 2.7t2 2.7t2 2.7M879 816q2.2 -2.8 -1.3 -3.1t-1.3 -3.1t-1.3 -3.1t-1.3 -3.1t-1.3 -3.1t-1.3 -3.1t-1.3 -3.1M882 801q-3 1.7 0 3.4t0 3.4t0 3.4t0 3.4t0 3.4t0 3.4t0 3.4t0 3.4M830 844q-3.4 0.7 -1 3.2t-1 3.2t-1 3.2t-1 3.2t-1 3.2t-1 3.2t-1 3.2M828 921q3.5 -0 1.6 -3t1.6 -3t1.6 -3t1.6 -3t1.6 -3t1.6 -3t1.6 -3t1.6 -3M882 828q3.1 -1.6 0.1 -3.4t0.1 -3.4t0.1 -3.4t0.1 -3.4t0.1 -3.4t0.1 -3.4t0.1 -3.4t0.1 -3.4t0.1 -3.4M836 809q2.8 2 3.1 -1.5t3.1 -1.5t3.1 -1.5t3.1 -1.5t3.1 -1.5t3.1 -1.5M816 915q-2.5 2.5 1 3.3t1 3.3t1 3.3t1 3.3t1 3.3t1 3.3t1 3.3M816 921q-1.7 -3.1 -3.4 -0t-3.4 -0t-3.4 -0t-3.4 -0M858 910q3.5 0.4 2 -2.8t2 -2.8t2 -2.8t2 -2.8t2 -2.8t2 -2.8t2 -2.8t2 -2.8M888 857q-2.7 2.2 0.6 3.3t0.6 3.3t0.6 3.3t0.6 3.3t0.6 3.3t0.6 3.3M830 812q3.5 0.6 2.1 -2.7t2.1 -2.7t2.1 -2.7t2.1 -2.7M868 837q-1 -3.4 -3.3 -0.8t-3.3 -0.8t-3.3 -0.8t-3.3 -0.8t-3.3 -0.8t-3.3 -0.8t-3.3 -0.8t-3.3 -0.8t-3.3 -0.8M806 888q1.7 3 3.4 -0t3.4 -0t3.4 -0t3.4 -0t3.4 -0t3.4 -0t3.4 -0M900 834q2.8 -2.1 -0.5 -3.4t-0.5 -3.4t-0.5 -3.4t-0.5 -3.4t-0.5 -3.4t-0.5 -3.4t-0.5 -3.4t-0.5 -3.4M812 907q3.1 -1.5 0.2 -3.4t0.2 -3.4t0.2 -3.4t0.2 -3.4t0.2 -3.4t0.2 -3.4t0.2 -3.4M879 891q-1.5 -3.2 -3.4 -0.3t-3.4 -0.3t-3.4 -0.3t-3.4 -0.3t-3.4 -0.3t-3.4 -0.3t-3.4 -0.3t-3.4 -0.3M897 862q-3.5 0.3 -1.4 3.1t-1.4 3.1t-1.4 3.1t-1.4 3.1t-1.4 3.1t-1.4 3.1t-1.4 3.1M849 826q-3.3 1.2 -0.5 3.4t-0.5 3.4t-0.5 3.4t-0.5 3.4t-0.5 3.4M897 907q0.9 3.4 3.3 0.8t3.3 0.8t3.3 0.8t3.3 0.8t3.3 0.8M832 837q2.8 -2.1 -0.5 -3.4t-0.5 -3.4t-0.5 -3.4t-0.5 -3.4t-0.5 -3.4t-0.5 -3.4t-0.5 -3.4M804 905q2.9 -2 -0.3 -3.4t-0.3 -3.4t-0.3 -3.4t-0.3 -3.4M850 830q-2.4 2.5 1 3.2t1 3.2t1 3.2t1 3.2t1 3.2t1 3.2M894 933q3.2 1.4 2.7 -2.1t2.7 -2.1t2.7 -2.1t2.7 -2.1t2.7 -2.1t2.7 -2.1M889 880q-3.3 1.1 -0.6 3.3t-0.6 3.3t-0.6 3.3t-0.6 3.3t-0.6 3.3t-0.6 3.3t-0.6 3.3t-0.6 3.3t-0.6 3.3M855 883q3.4 1 2.4 -2.4t2.4 -2.4t2.4 -2.4t2.4 -2.4t2.4 -2.4t2.4 -2.4t2.4 -2.4t2.4 -2.4t2.4 -2.4M852 822q0.2 3.5 3.1 1.5t3.1 1.5t3.1 1.5t3.1 1.5t3.1 1.5t3.1 1.5M887 794q-3.5 0.2 -1.5 3.1t-1.5 3.1t-1.5 3.1t-1.5 3.1t-1.5 3.1t-1.5 3.1t-1.5 3.1t-1.5 3.1t-1.5 3.1M807 790q-3.1 1.7 -0 3.4t-0 3.4t-0 3.4t-0 3.4t-0 3.4t-0 3.4M899 884q3.3 -1.1 0.6 -3.3t0.6 -3.3t0.6 -3.3t0.6 -3.3t0.6 -3.3t0.6 -3.3M880 914q-1.2 3.3 2.2 2.6t2.2 2.6t2.2 2.6t2.2 2.6t2.2 2.6t2.2 2.6t2.2 2.6t2.2 2.6M842 863q3.4 -0.9 0.8 -3.3t0.8 -3.3t0.8 -3.3t0.8 -3.3t0.8 -3.3t0.8 -3.3t0.8 -3.3t0.8 -3.3" fill="none" stroke="#1f9ed4" stroke-width="2.2" stroke-linecap="round" clip-path="url(#cp11)"/>
<clipPath id="cp12"><use href="#sf9"/></clipPath>
<path d="M823 844q-2.8 -1.2 -2.4 1.8t-2.4 1.8t-2.4 1.8t-2.4 1.8t-2.4 1.8t-2.4 1.8t-2.4 1.8t-2.4 1.8M867 825q-1.8 2.5 1.3 2.7t1.3 2.7t1.3 2.7t1.3 2.7t1.3 2.7t1.3 2.7t1.3 2.7t1.3 2.7t1.3 2.7M831 916q1.4 2.8 3 0.2t3 0.2t3 0.2t3 0.2t3 0.2t3 0.2t3 0.2M844 897q2.7 -1.5 -0 -3t-0 -3t-0 -3t-0 -3t-0 -3t-0 -3t-0 -3M860 870q-2.9 1.1 -0.4 3t-0.4 3t-0.4 3t-0.4 3t-0.4 3t-0.4 3t-0.4 3t-0.4 3M894 918q2.7 -1.5 0 -3t0 -3t0 -3t0 -3t0 -3t0 -3M833 905q1.4 -2.8 -1.7 -2.5t-1.7 -2.5t-1.7 -2.5t-1.7 -2.5t-1.7 -2.5t-1.7 -2.5t-1.7 -2.5M855 798q1.8 -2.5 -1.3 -2.7t-1.3 -2.7t-1.3 -2.7t-1.3 -2.7t-1.3 -2.7t-1.3 -2.7M881 893q3 -0.8 0.7 -2.9t0.7 -2.9t0.7 -2.9t0.7 -2.9t0.7 -2.9t0.7 -2.9t0.7 -2.9M896 801q2.4 -1.9 -0.5 -3t-0.5 -3t-0.5 -3t-0.5 -3t-0.5 -3t-0.5 -3t-0.5 -3t-0.5 -3M802 876q1.4 -2.8 -1.7 -2.5t-1.7 -2.5t-1.7 -2.5t-1.7 -2.5t-1.7 -2.5t-1.7 -2.5t-1.7 -2.5t-1.7 -2.5M900 896q-3 0.6 -0.9 2.8t-0.9 2.8t-0.9 2.8t-0.9 2.8t-0.9 2.8M891 906q-3 0.7 -0.9 2.9t-0.9 2.9t-0.9 2.9t-0.9 2.9t-0.9 2.9M811 901q2.8 1.3 2.4 -1.8t2.4 -1.8t2.4 -1.8t2.4 -1.8t2.4 -1.8t2.4 -1.8t2.4 -1.8t2.4 -1.8t2.4 -1.8t2.4 -1.8M830 895q-1.5 -2.7 -3 -0t-3 -0t-3 -0t-3 -0t-3 -0M882 809q2.5 -1.8 -0.3 -3t-0.3 -3t-0.3 -3t-0.3 -3t-0.3 -3M859 915q-0.4 3.1 2.4 1.8t2.4 1.8t2.4 1.8t2.4 1.8t2.4 1.8t2.4 1.8t2.4 1.8t2.4 1.8t2.4 1.8t2.4 1.8M897 904q3 -0.9 0.7 -2.9t0.7 -2.9t0.7 -2.9t0.7 -2.9t0.7 -2.9t0.7 -2.9t0.7 -2.9t0.7 -2.9t0.7 -2.9M829 818q-3 0.7 -0.8 2.9t-0.8 2.9t-0.8 2.9t-0.8 2.9M811 798q-0.3 3.1 2.5 1.7t2.5 1.7t2.5 1.7t2.5 1.7t2.5 1.7" fill="none" stroke="#0f7fb5" stroke-width="1.4" stroke-linecap="round" clip-path="url(#cp12)"/>
<path d="M684,760 C685.2,757.8 688,758.2 690,757 C692,755.8 694.3,754.8 696,753 C697.7,751.2 698,747 700,746 C702,745 705.2,747.2 708,747 C710.8,746.8 714.2,745.3 717,745 C719.8,744.7 722.7,744.3 725,745 C727.3,745.7 728.8,748 731,749 C733.2,750 735.8,750 738,751 C740.2,752 742.5,753 744,755 C745.5,757 746.5,760.2 747,763 C747.5,765.8 746.5,769.2 747,772 C747.5,774.8 750.2,776.5 750,780 C749.8,783.5 747.3,788.7 746,793 C744.7,797.3 743,801.5 742,806 C741,810.5 740.2,815.3 740,820 C739.8,824.7 741.7,829.7 741,834 C740.3,838.3 736.8,841.7 736,846 C735.2,850.3 735.8,855.5 736,860 C736.2,864.5 737,868.5 737,873 C737,877.5 735.3,882.5 736,887 C736.7,891.5 741,896.3 741,900 C741,903.7 736.3,905.8 736,909 C735.7,912.2 738.8,915.5 739,919 C739.2,922.5 738.3,928.3 737,930 C735.7,931.7 732.7,928.5 731,929 C729.3,929.5 728.7,932 727,933 C725.3,934 722.7,935.7 721,935 C719.3,934.3 718.8,930 717,929 C715.2,928 711.7,929.8 710,929 C708.3,928.2 708.7,926.2 707,924 C705.3,921.8 701.7,919.2 700,916 C698.3,912.8 698.2,908.5 697,905 C695.8,901.5 693.3,898.7 693,895 C692.7,891.3 695,886.8 695,883 C695,879.2 694,875.8 693,872 C692,868.2 690,864.2 689,860 C688,855.8 687.5,851.5 687,847 C686.5,842.5 687.2,837.5 686,833 C684.8,828.5 681,823.8 680,820 C679,816.2 679.7,813.3 680,810 C680.3,806.7 681.7,803.3 682,800 C682.3,796.7 682.2,793.3 682,790 C681.8,786.7 680.8,783.3 681,780 C681.2,776.7 682.5,773.3 683,770 C683.5,766.7 682.8,762.2 684,760Z" fill="#bdebef" stroke="#8cc9cf" stroke-width="1" id="sf10"/>
<clipPath id="cp13"><use href="#sf10"/></clipPath>
<path d="M723 750q-2.7 2.1 0.6 3.3t0.6 3.3t0.6 3.3t0.6 3.3t0.6 3.3t0.6 3.3t0.6 3.3t0.6 3.3M726 914q-2.9 -1.8 -2.9 1.6t-2.9 1.6t-2.9 1.6t-2.9 1.6M695 841q-2.3 2.5 1 3.1t1 3.1t1 3.1t1 3.1t1 3.1t1 3.1t1 3.1M717 787q-3 1.6 -0 3.3t-0 3.3t-0 3.3t-0 3.3t-0 3.3t-0 3.3M699 786q-2.5 2.3 0.8 3.2t0.8 3.2t0.8 3.2t0.8 3.2M687 905q-2.9 1.8 0.2 3.3t0.2 3.3t0.2 3.3t0.2 3.3t0.2 3.3t0.2 3.3t0.2 3.3t0.2 3.3t0.2 3.3M706 849q1.8 -2.9 -1.6 -2.9t-1.6 -2.9t-1.6 -2.9t-1.6 -2.9t-1.6 -2.9t-1.6 -2.9t-1.6 -2.9M728 754q-3.3 0.9 -0.8 3.2t-0.8 3.2t-0.8 3.2t-0.8 3.2M696 764q1.2 -3.2 -2.2 -2.5t-2.2 -2.5t-2.2 -2.5t-2.2 -2.5t-2.2 -2.5t-2.2 -2.5M705 785q2.7 2.1 3 -1.3t3 -1.3t3 -1.3t3 -1.3t3 -1.3t3 -1.3t3 -1.3M721 777q-2.3 2.5 1 3.1t1 3.1t1 3.1t1 3.1t1 3.1t1 3.1t1 3.1t1 3.1t1 3.1M727 787q3.1 -1.3 0.4 -3.3t0.4 -3.3t0.4 -3.3t0.4 -3.3M736 897q0.3 3.4 3 1.3t3 1.3t3 1.3t3 1.3t3 1.3t3 1.3t3 1.3t3 1.3t3 1.3M719 881q-1.7 -3 -3.3 0t-3.3 0t-3.3 0t-3.3 0t-3.3 0t-3.3 0t-3.3 0t-3.3 0t-3.3 0M724 772q2.9 -1.7 -0.1 -3.3t-0.1 -3.3t-0.1 -3.3t-0.1 -3.3t-0.1 -3.3t-0.1 -3.3t-0.1 -3.3M731 826q3.1 -1.4 0.2 -3.3t0.2 -3.3t0.2 -3.3t0.2 -3.3t0.2 -3.3M748 841q0.7 3.3 3.2 1t3.2 1t3.2 1t3.2 1M723 895q0.4 3.4 3 1.3t3 1.3t3 1.3t3 1.3t3 1.3t3 1.3M748 845q-2.8 1.9 0.3 3.3t0.3 3.3t0.3 3.3t0.3 3.3t0.3 3.3t0.3 3.3t0.3 3.3t0.3 3.3t0.3 3.3M731 890q-3.3 0.8 -0.9 3.2t-0.9 3.2t-0.9 3.2t-0.9 3.2M680 881q-2.6 2.2 0.6 3.2t0.6 3.2t0.6 3.2t0.6 3.2t0.6 3.2t0.6 3.2t0.6 3.2M687 863q-3.4 0.4 -1.3 3.1t-1.3 3.1t-1.3 3.1t-1.3 3.1t-1.3 3.1t-1.3 3.1t-1.3 3.1M733 845q-3.4 0.1 -1.5 2.9t-1.5 2.9t-1.5 2.9t-1.5 2.9M743 911q3.4 0.2 1.7 -2.8t1.7 -2.8t1.7 -2.8t1.7 -2.8t1.7 -2.8M696 852q2.8 -2 -0.4 -3.3t-0.4 -3.3t-0.4 -3.3t-0.4 -3.3t-0.4 -3.3t-0.4 -3.3t-0.4 -3.3t-0.4 -3.3M747 846q1.6 -3 -1.8 -2.8t-1.8 -2.8t-1.8 -2.8t-1.8 -2.8t-1.8 -2.8t-1.8 -2.8t-1.8 -2.8t-1.8 -2.8t-1.8 -2.8M691 845q-3.4 -0.3 -1.9 2.7t-1.9 2.7t-1.9 2.7t-1.9 2.7t-1.9 2.7t-1.9 2.7t-1.9 2.7t-1.9 2.7M728 820q2.4 -2.4 -0.9 -3.2t-0.9 -3.2t-0.9 -3.2t-0.9 -3.2t-0.9 -3.2t-0.9 -3.2M715 768q-3.4 -0.2 -1.7 2.8t-1.7 2.8t-1.7 2.8t-1.7 2.8t-1.7 2.8t-1.7 2.8t-1.7 2.8M696 787q1.1 -3.2 -2.2 -2.4t-2.2 -2.4t-2.2 -2.4t-2.2 -2.4t-2.2 -2.4M742 907q-2.8 1.9 0.2 3.3t0.2 3.3t0.2 3.3t0.2 3.3t0.2 3.3t0.2 3.3t0.2 3.3t0.2 3.3M695 770q3 -1.6 0.1 -3.3t0.1 -3.3t0.1 -3.3t0.1 -3.3t0.1 -3.3t0.1 -3.3M686 870q-3 -1.6 -2.8 1.7t-2.8 1.7t-2.8 1.7t-2.8 1.7t-2.8 1.7t-2.8 1.7t-2.8 1.7t-2.8 1.7t-2.8 1.7M684 869q-3.4 0.2 -1.4 3t-1.4 3t-1.4 3t-1.4 3t-1.4 3t-1.4 3M703 908q-2.2 2.6 1.2 3.1t1.2 3.1t1.2 3.1t1.2 3.1t1.2 3.1t1.2 3.1M709 798q2.8 1.9 2.9 -1.5t2.9 -1.5t2.9 -1.5t2.9 -1.5t2.9 -1.5t2.9 -1.5M739 849q1.7 3 3.3 -0t3.3 -0t3.3 -0t3.3 -0t3.3 -0t3.3 -0t3.3 -0t3.3 -0t3.3 -0M746 920q-2.1 2.6 1.2 3.1t1.2 3.1t1.2 3.1t1.2 3.1t1.2 3.1t1.2 3.1t1.2 3.1t1.2 3.1t1.2 3.1M741 776q-3.2 -1.2 -2.5 2.1t-2.5 2.1t-2.5 2.1t-2.5 2.1t-2.5 2.1t-2.5 2.1t-2.5 2.1t-2.5 2.1t-2.5 2.1M733 799q3.3 -0.8 0.8 -3.2t0.8 -3.2t0.8 -3.2t0.8 -3.2M700 928q-3 1.7 0 3.3t0 3.3t0 3.3t0 3.3t0 3.3t0 3.3t0 3.3M714 906q2.3 2.5 3.2 -0.8t3.2 -0.8t3.2 -0.8t3.2 -0.8M693 857q-2.7 2 0.5 3.3t0.5 3.3t0.5 3.3t0.5 3.3t0.5 3.3t0.5 3.3M744 853q-2.3 2.5 1 3.1t1 3.1t1 3.1t1 3.1t1 3.1t1 3.1t1 3.1M716 922q2.6 -2.2 -0.7 -3.2t-0.7 -3.2t-0.7 -3.2t-0.7 -3.2t-0.7 -3.2" fill="none" stroke="#46b9c2" stroke-width="1.8" stroke-linecap="round" clip-path="url(#cp13)"/>
<path d="M693,771 C695,768.5 700.5,768.5 704,768 C707.5,767.5 710.5,768.5 714,768 C717.5,767.5 722.5,763.5 725,765 C727.5,766.5 727.7,773.2 729,777 C730.3,780.8 732,784.2 733,788 C734,791.8 735.2,795.5 735,800 C734.8,804.5 733.3,810 732,815 C730.7,820 728.2,825 727,830 C725.8,835 726.5,842.3 725,845 C723.5,847.7 720.2,845.3 718,846 C715.8,846.7 714.2,848.3 712,849 C709.8,849.7 707,852 705,850 C703,848 701.3,841.5 700,837 C698.7,832.5 698.2,827.5 697,823 C695.8,818.5 694,814.3 693,810 C692,805.7 691.2,801.5 691,797 C690.8,792.5 691.7,787.3 692,783 C692.3,778.7 691,773.5 693,771Z" fill="#6cc6cc" stroke="#4aa9b0" stroke-width="1" id="sf11"/>
<clipPath id="cp14"><use href="#sf11"/></clipPath>
<path d="M710 811q-2.4 2.2 0.8 3.1t0.8 3.1t0.8 3.1t0.8 3.1t0.8 3.1M716 774q3.2 -0.9 0.7 -3.1t0.7 -3.1t0.7 -3.1t0.7 -3.1t0.7 -3.1t0.7 -3.1t0.7 -3.1t0.7 -3.1M708 799q2.4 -2.2 -0.7 -3.1t-0.7 -3.1t-0.7 -3.1t-0.7 -3.1t-0.7 -3.1M699 808q3.2 -0.7 0.9 -3.1t0.9 -3.1t0.9 -3.1t0.9 -3.1t0.9 -3.1t0.9 -3.1t0.9 -3.1t0.9 -3.1t0.9 -3.1t0.9 -3.1M697 818q-2.7 1.9 0.3 3.2t0.3 3.2t0.3 3.2t0.3 3.2t0.3 3.2t0.3 3.2t0.3 3.2M700 776q-3.1 1.2 -0.5 3.2t-0.5 3.2t-0.5 3.2t-0.5 3.2M733 823q2.3 -2.4 -1 -3t-1 -3t-1 -3t-1 -3t-1 -3t-1 -3M726 778q1.7 2.8 3.2 -0.1t3.2 -0.1t3.2 -0.1t3.2 -0.1t3.2 -0.1t3.2 -0.1t3.2 -0.1t3.2 -0.1M735 817q-3.2 0.6 -1 3t-1 3t-1 3t-1 3t-1 3M692 840q3.3 -0.4 1.2 -3t1.2 -3t1.2 -3t1.2 -3t1.2 -3M697 794q-2.9 1.6 0 3.2t0 3.2t0 3.2t0 3.2t0 3.2t0 3.2t0 3.2t0 3.2t0 3.2t0 3.2M725 822q-1.3 3 2 2.5t2 2.5t2 2.5t2 2.5t2 2.5t2 2.5t2 2.5t2 2.5t2 2.5M724 765q-2.9 1.6 0 3.2t0 3.2t0 3.2t0 3.2t0 3.2M722 818q3.3 0.2 1.7 -2.7t1.7 -2.7t1.7 -2.7t1.7 -2.7t1.7 -2.7t1.7 -2.7t1.7 -2.7t1.7 -2.7t1.7 -2.7M704 847q0.3 3.3 2.9 1.3t2.9 1.3t2.9 1.3t2.9 1.3t2.9 1.3t2.9 1.3t2.9 1.3M729 816q3 -1.5 0.1 -3.2t0.1 -3.2t0.1 -3.2t0.1 -3.2M713 799q3.1 1.1 2.4 -2.2t2.4 -2.2t2.4 -2.2t2.4 -2.2t2.4 -2.2t2.4 -2.2M706 776q-1.1 3.1 2.2 2.4t2.2 2.4t2.2 2.4t2.2 2.4t2.2 2.4t2.2 2.4t2.2 2.4t2.2 2.4t2.2 2.4M709 794q-3.1 1.1 -0.5 3.2t-0.5 3.2t-0.5 3.2t-0.5 3.2t-0.5 3.2t-0.5 3.2t-0.5 3.2M698 828q2.9 -1.5 0.1 -3.2t0.1 -3.2t0.1 -3.2t0.1 -3.2t0.1 -3.2t0.1 -3.2t0.1 -3.2M695 788q-1.2 3.1 2 2.5t2 2.5t2 2.5t2 2.5t2 2.5t2 2.5t2 2.5t2 2.5t2 2.5t2 2.5M703 785q-3.3 -0.4 -1.9 2.6t-1.9 2.6t-1.9 2.6t-1.9 2.6t-1.9 2.6t-1.9 2.6M706 807q-3.3 0.5 -1.1 3t-1.1 3t-1.1 3t-1.1 3t-1.1 3t-1.1 3t-1.1 3t-1.1 3M722 799q2.5 -2.2 -0.7 -3.1t-0.7 -3.1t-0.7 -3.1t-0.7 -3.1t-0.7 -3.1M699 778q2.5 -2.1 -0.6 -3.1t-0.6 -3.1t-0.6 -3.1t-0.6 -3.1t-0.6 -3.1M698 781q-0.8 3.2 2.3 2.2t2.3 2.2t2.3 2.2t2.3 2.2t2.3 2.2t2.3 2.2M714 819q-1 3.1 2.2 2.3t2.2 2.3t2.2 2.3t2.2 2.3t2.2 2.3t2.2 2.3t2.2 2.3t2.2 2.3t2.2 2.3M719 823q3.3 -0.2 1.4 -2.9t1.4 -2.9t1.4 -2.9t1.4 -2.9t1.4 -2.9t1.4 -2.9t1.4 -2.9M732 848q3.2 0.7 2.1 -2.4t2.1 -2.4t2.1 -2.4t2.1 -2.4M693 771q-3 1.4 -0.2 3.2t-0.2 3.2t-0.2 3.2t-0.2 3.2t-0.2 3.2t-0.2 3.2t-0.2 3.2t-0.2 3.2t-0.2 3.2" fill="none" stroke="#23909a" stroke-width="2" stroke-linecap="round" clip-path="url(#cp14)"/>
<path d="M583,791 C584.7,788.3 586.5,785.2 589,783 C591.5,780.8 595.7,780.2 598,778 C600.3,775.8 600.2,772.2 603,770 C605.8,767.8 611,766.8 615,765 C619,763.2 623.3,761.2 627,759 C630.7,756.8 633.5,752.7 637,752 C640.5,751.3 644.2,754.3 648,755 C651.8,755.7 656,755.8 660,756 C664,756.2 669.2,754.7 672,756 C674.8,757.3 674.8,762.2 677,764 C679.2,765.8 682.8,765.5 685,767 C687.2,768.5 688.3,770.3 690,773 C691.7,775.7 693.7,779.7 695,783 C696.3,786.3 697.7,789.5 698,793 C698.3,796.5 696.7,799.7 697,804 C697.3,808.3 699.5,813.8 700,819 C700.5,824.2 700.5,829.8 700,835 C699.5,840.2 698,846.2 697,850 C696,853.8 695.2,855.2 694,858 C692.8,860.8 691.5,864 690,867 C688.5,870 687.8,874.8 685,876 C682.2,877.2 676.8,874 673,874 C669.2,874 665.8,875 662,876 C658.2,877 653.7,880.3 650,880 C646.3,879.7 642.7,876.8 640,874 C637.3,871.2 636.5,865.8 634,863 C631.5,860.2 628.5,858.8 625,857 C621.5,855.2 616.7,854.2 613,852 C609.3,849.8 606.3,846.5 603,844 C599.7,841.5 595.8,839 593,837 C590.2,835 588.2,834 586,832 C583.8,830 581.8,827.5 580,825 C578.2,822.5 575.7,819.8 575,817 C574.3,814.2 575.3,811 576,808 C576.7,805 577.8,801.8 579,799 C580.2,796.2 581.3,793.7 583,791Z" fill="#9dbce6" stroke="#6f95cc" stroke-width="1" id="sf12"/>
<clipPath id="cp15"><use href="#sf12"/></clipPath>
<path d="M685 802q-2.8 2.1 0.5 3.4t0.5 3.4t0.5 3.4t0.5 3.4t0.5 3.4t0.5 3.4t0.5 3.4M674 754q-2.7 2.2 0.6 3.3t0.6 3.3t0.6 3.3t0.6 3.3t0.6 3.3t0.6 3.3t0.6 3.3t0.6 3.3M592 868q-1.9 3 1.6 3t1.6 3t1.6 3t1.6 3t1.6 3t1.6 3M634 857q2.3 -2.6 -1.1 -3.2t-1.1 -3.2t-1.1 -3.2t-1.1 -3.2t-1.1 -3.2t-1.1 -3.2t-1.1 -3.2M629 794q2.6 -2.3 -0.7 -3.3t-0.7 -3.3t-0.7 -3.3t-0.7 -3.3M649 863q3.5 -0.5 1.2 -3.2t1.2 -3.2t1.2 -3.2t1.2 -3.2t1.2 -3.2t1.2 -3.2t1.2 -3.2t1.2 -3.2t1.2 -3.2M598 789q-3.4 0.9 -0.8 3.3t-0.8 3.3t-0.8 3.3t-0.8 3.3t-0.8 3.3t-0.8 3.3t-0.8 3.3t-0.8 3.3t-0.8 3.3M664 841q3.1 -1.6 0.1 -3.4t0.1 -3.4t0.1 -3.4t0.1 -3.4t0.1 -3.4t0.1 -3.4t0.1 -3.4t0.1 -3.4M621 774q-2 2.9 1.5 3t1.5 3t1.5 3t1.5 3t1.5 3t1.5 3t1.5 3t1.5 3M599 801q3.1 -1.7 0 -3.4t0 -3.4t0 -3.4t0 -3.4t0 -3.4t0 -3.4t0 -3.4t0 -3.4M599 789q-3.1 1.7 -0.1 3.4t-0.1 3.4t-0.1 3.4t-0.1 3.4t-0.1 3.4t-0.1 3.4M665 776q2.7 2.2 3.1 -1.3t3.1 -1.3t3.1 -1.3t3.1 -1.3M630 773q2.9 -1.9 -0.2 -3.4t-0.2 -3.4t-0.2 -3.4t-0.2 -3.4t-0.2 -3.4t-0.2 -3.4t-0.2 -3.4t-0.2 -3.4M594 800q-1.1 3.3 2.3 2.5t2.3 2.5t2.3 2.5t2.3 2.5M582 876q-3.5 0.2 -1.4 3.1t-1.4 3.1t-1.4 3.1t-1.4 3.1t-1.4 3.1t-1.4 3.1t-1.4 3.1M665 866q-2 2.9 1.5 3.1t1.5 3.1t1.5 3.1t1.5 3.1t1.5 3.1t1.5 3.1M609 814q0.7 3.4 3.3 1t3.3 1t3.3 1M652 867q3 -1.8 -0.1 -3.4t-0.1 -3.4t-0.1 -3.4t-0.1 -3.4t-0.1 -3.4t-0.1 -3.4t-0.1 -3.4t-0.1 -3.4t-0.1 -3.4M689 813q3.2 -1.5 0.2 -3.4t0.2 -3.4t0.2 -3.4t0.2 -3.4t0.2 -3.4M629 876q-3.3 1.3 -0.5 3.4t-0.5 3.4t-0.5 3.4t-0.5 3.4M676 827q-3.4 -0.9 -2.4 2.4t-2.4 2.4t-2.4 2.4t-2.4 2.4t-2.4 2.4M659 753q3.4 -0.9 0.8 -3.3t0.8 -3.3t0.8 -3.3t0.8 -3.3t0.8 -3.3t0.8 -3.3t0.8 -3.3M650 845q1.5 -3.1 -1.9 -2.8t-1.9 -2.8t-1.9 -2.8t-1.9 -2.8t-1.9 -2.8M618 770q-3.1 1.6 -0.1 3.4t-0.1 3.4t-0.1 3.4t-0.1 3.4t-0.1 3.4t-0.1 3.4t-0.1 3.4M611 766q-3.4 0.7 -1 3.3t-1 3.3t-1 3.3t-1 3.3t-1 3.3M698 826q-3.3 1.2 -0.5 3.4t-0.5 3.4t-0.5 3.4t-0.5 3.4t-0.5 3.4t-0.5 3.4M634 785q3.1 1.6 2.9 -1.9t2.9 -1.9t2.9 -1.9t2.9 -1.9t2.9 -1.9t2.9 -1.9M656 870q-3.5 0.6 -1.2 3.2t-1.2 3.2t-1.2 3.2t-1.2 3.2M605 770q-2.2 2.7 1.3 3.2t1.3 3.2t1.3 3.2t1.3 3.2t1.3 3.2t1.3 3.2t1.3 3.2t1.3 3.2M581 854q-3.3 1.3 -0.5 3.4t-0.5 3.4t-0.5 3.4t-0.5 3.4t-0.5 3.4t-0.5 3.4t-0.5 3.4t-0.5 3.4t-0.5 3.4M581 851q-3.4 -0.8 -2.3 2.5t-2.3 2.5t-2.3 2.5t-2.3 2.5t-2.3 2.5M629 875q-3.4 0.6 -1.1 3.2t-1.1 3.2t-1.1 3.2t-1.1 3.2t-1.1 3.2M627 794q2 2.9 3.4 -0.4t3.4 -0.4t3.4 -0.4t3.4 -0.4t3.4 -0.4M576 782q2.8 -2.2 -0.5 -3.4t-0.5 -3.4t-0.5 -3.4t-0.5 -3.4t-0.5 -3.4t-0.5 -3.4t-0.5 -3.4t-0.5 -3.4t-0.5 -3.4M586 787q-2.7 2.2 0.6 3.4t0.6 3.4t0.6 3.4t0.6 3.4M688 857q3.4 0.9 2.4 -2.4t2.4 -2.4t2.4 -2.4t2.4 -2.4t2.4 -2.4t2.4 -2.4t2.4 -2.4t2.4 -2.4t2.4 -2.4M670 850q-2.9 1.9 0.3 3.4t0.3 3.4t0.3 3.4t0.3 3.4t0.3 3.4t0.3 3.4M599 858q1.3 -3.2 -2.1 -2.7t-2.1 -2.7t-2.1 -2.7t-2.1 -2.7t-2.1 -2.7t-2.1 -2.7M695 792q2.9 -2 -0.4 -3.4t-0.4 -3.4t-0.4 -3.4t-0.4 -3.4t-0.4 -3.4t-0.4 -3.4t-0.4 -3.4t-0.4 -3.4t-0.4 -3.4M596 761q-2.8 2 0.4 3.4t0.4 3.4t0.4 3.4t0.4 3.4t0.4 3.4" fill="none" stroke="#3a6fbf" stroke-width="2" stroke-linecap="round" clip-path="url(#cp15)"/>
<path d="M612,785 C613.5,781.7 617.8,781.7 621,780 C624.2,778.3 627.8,776.5 631,775 C634.2,773.5 636.7,771.3 640,771 C643.3,770.7 647.5,772.2 651,773 C654.5,773.8 657.7,775 661,776 C664.3,777 668.2,777.2 671,779 C673.8,780.8 676,784 678,787 C680,790 681.2,794 683,797 C684.8,800 688.2,801.5 689,805 C689.8,808.5 687.8,813.5 688,818 C688.2,822.5 690,827.5 690,832 C690,836.5 689.7,841.7 688,845 C686.3,848.3 682.3,849.5 680,852 C677.7,854.5 676.5,857.5 674,860 C671.5,862.5 668.2,866.3 665,867 C661.8,867.7 658.3,865.2 655,864 C651.7,862.8 648.3,861 645,860 C641.7,859 637.7,860 635,858 C632.3,856 631.5,851 629,848 C626.5,845 622,843 620,840 C618,837 618,834.2 617,830 C616,825.8 614.8,820 614,815 C613.2,810 612.3,805 612,800 C611.7,795 610.5,788.3 612,785Z" fill="#2f62ad" stroke="#244f91" stroke-width="1" id="sf13"/>
<clipPath id="cp16"><use href="#sf13"/></clipPath>
<path d="M655 783q3.3 -1.3 0.4 -3.4t0.4 -3.4t0.4 -3.4t0.4 -3.4t0.4 -3.4t0.4 -3.4t0.4 -3.4t0.4 -3.4M646 785q-2 2.9 1.5 3.1t1.5 3.1t1.5 3.1t1.5 3.1t1.5 3.1t1.5 3.1M629 843q-2.9 2 0.3 3.4t0.3 3.4t0.3 3.4t0.3 3.4t0.3 3.4t0.3 3.4M622 835q-3.1 1.6 -0.1 3.4t-0.1 3.4t-0.1 3.4t-0.1 3.4t-0.1 3.4t-0.1 3.4t-0.1 3.4t-0.1 3.4M635 803q3.5 0.2 1.9 -2.9t1.9 -2.9t1.9 -2.9t1.9 -2.9t1.9 -2.9M663 860q2.5 -2.4 -0.9 -3.3t-0.9 -3.3t-0.9 -3.3t-0.9 -3.3t-0.9 -3.3t-0.9 -3.3M628 846q2.5 -2.5 -0.9 -3.3t-0.9 -3.3t-0.9 -3.3t-0.9 -3.3M620 825q-3.1 1.5 -0.2 3.4t-0.2 3.4t-0.2 3.4t-0.2 3.4t-0.2 3.4t-0.2 3.4t-0.2 3.4t-0.2 3.4t-0.2 3.4M649 834q-2.5 2.5 0.9 3.3t0.9 3.3t0.9 3.3t0.9 3.3t0.9 3.3t0.9 3.3t0.9 3.3t0.9 3.3M673 811q-3.4 0.8 -0.9 3.3t-0.9 3.3t-0.9 3.3t-0.9 3.3t-0.9 3.3t-0.9 3.3t-0.9 3.3M649 828q-3.4 -0.8 -2.3 2.5t-2.3 2.5t-2.3 2.5t-2.3 2.5t-2.3 2.5t-2.3 2.5M684 791q-0.8 3.4 2.5 2.3t2.5 2.3t2.5 2.3t2.5 2.3t2.5 2.3M624 860q2 -2.9 -1.5 -3t-1.5 -3t-1.5 -3t-1.5 -3t-1.5 -3t-1.5 -3t-1.5 -3t-1.5 -3t-1.5 -3M657 844q-2.6 2.3 0.7 3.3t0.7 3.3t0.7 3.3t0.7 3.3t0.7 3.3t0.7 3.3t0.7 3.3t0.7 3.3t0.7 3.3M653 774q1.1 3.3 3.3 0.6t3.3 0.6t3.3 0.6M662 805q3.5 -0.5 1.2 -3.2t1.2 -3.2t1.2 -3.2t1.2 -3.2t1.2 -3.2t1.2 -3.2t1.2 -3.2M652 851q-2.6 -2.4 -3.2 1t-3.2 1t-3.2 1t-3.2 1t-3.2 1t-3.2 1t-3.2 1M650 791q-3.4 1 -0.8 3.3t-0.8 3.3t-0.8 3.3t-0.8 3.3t-0.8 3.3t-0.8 3.3M654 773q2.4 -2.5 -1 -3.3t-1 -3.3t-1 -3.3t-1 -3.3t-1 -3.3t-1 -3.3t-1 -3.3t-1 -3.3t-1 -3.3M643 811q2.5 -2.5 -1 -3.3t-1 -3.3t-1 -3.3t-1 -3.3t-1 -3.3t-1 -3.3t-1 -3.3M617 854q-3.5 -0.4 -2 2.8t-2 2.8t-2 2.8t-2 2.8M633 789q1.2 -3.3 -2.2 -2.6t-2.2 -2.6t-2.2 -2.6t-2.2 -2.6t-2.2 -2.6t-2.2 -2.6M615 824q3.1 -1.6 0.1 -3.4t0.1 -3.4t0.1 -3.4t0.1 -3.4t0.1 -3.4M660 850q3.5 -0.1 1.6 -3t1.6 -3t1.6 -3t1.6 -3M642 844q2 -2.9 -1.5 -3.1t-1.5 -3.1t-1.5 -3.1t-1.5 -3.1t-1.5 -3.1t-1.5 -3.1M664 846q-2.2 2.7 1.3 3.2t1.3 3.2t1.3 3.2t1.3 3.2M648 791q-2.4 2.6 1.1 3.2t1.1 3.2t1.1 3.2t1.1 3.2t1.1 3.2M689 802q-3 1.9 0.2 3.4t0.2 3.4t0.2 3.4t0.2 3.4t0.2 3.4t0.2 3.4M668 861q3.5 0.5 2 -2.7t2 -2.7t2 -2.7t2 -2.7t2 -2.7M623 843q2.9 2 3 -1.5t3 -1.5t3 -1.5t3 -1.5M646 784q2.5 2.5 3.3 -0.9t3.3 -0.9t3.3 -0.9t3.3 -0.9M614 776q-3.3 -1.2 -2.6 2.2t-2.6 2.2t-2.6 2.2t-2.6 2.2M651 841q-3.5 -0.3 -1.9 2.8t-1.9 2.8t-1.9 2.8t-1.9 2.8M672 853q3.3 1 2.5 -2.4t2.5 -2.4t2.5 -2.4t2.5 -2.4t2.5 -2.4M618 851q3.3 1.2 2.6 -2.2t2.6 -2.2t2.6 -2.2t2.6 -2.2t2.6 -2.2t2.6 -2.2t2.6 -2.2t2.6 -2.2M644 827q2.8 -2.1 -0.4 -3.4t-0.4 -3.4t-0.4 -3.4t-0.4 -3.4t-0.4 -3.4t-0.4 -3.4M639 853q-3.1 1.5 -0.2 3.4t-0.2 3.4t-0.2 3.4t-0.2 3.4t-0.2 3.4t-0.2 3.4t-0.2 3.4t-0.2 3.4M686 842q2.5 2.4 3.3 -1t3.3 -1t3.3 -1t3.3 -1t3.3 -1t3.3 -1t3.3 -1t3.3 -1t3.3 -1M636 848q3.4 -1 0.7 -3.3t0.7 -3.3t0.7 -3.3t0.7 -3.3t0.7 -3.3t0.7 -3.3t0.7 -3.3M681 811q2 -2.9 -1.5 -3t-1.5 -3t-1.5 -3t-1.5 -3t-1.5 -3t-1.5 -3M681 781q3.4 0.7 2.2 -2.6t2.2 -2.6t2.2 -2.6t2.2 -2.6t2.2 -2.6t2.2 -2.6t2.2 -2.6t2.2 -2.6M675 787q3.4 -0.7 1 -3.3t1 -3.3t1 -3.3t1 -3.3t1 -3.3t1 -3.3t1 -3.3t1 -3.3M665 833q3.2 -1.4 0.3 -3.4t0.3 -3.4t0.3 -3.4t0.3 -3.4M655 770q2.8 -2.1 -0.4 -3.4t-0.4 -3.4t-0.4 -3.4t-0.4 -3.4t-0.4 -3.4t-0.4 -3.4M652 793q-3 -1.8 -2.9 1.7t-2.9 1.7t-2.9 1.7t-2.9 1.7t-2.9 1.7M672 800q-2.8 -2.1 -3.1 1.3t-3.1 1.3t-3.1 1.3t-3.1 1.3t-3.1 1.3t-3.1 1.3t-3.1 1.3M654 771q2.7 -2.3 -0.7 -3.3t-0.7 -3.3t-0.7 -3.3t-0.7 -3.3t-0.7 -3.3t-0.7 -3.3M654 814q-1.5 3.2 2 2.8t2 2.8t2 2.8t2 2.8t2 2.8t2 2.8t2 2.8t2 2.8t2 2.8M619 815q3.4 -0.7 1 -3.2t1 -3.2t1 -3.2t1 -3.2t1 -3.2M614 797q3.5 -0.5 1.2 -3.2t1.2 -3.2t1.2 -3.2t1.2 -3.2t1.2 -3.2t1.2 -3.2t1.2 -3.2" fill="none" stroke="#173f80" stroke-width="2.2" stroke-linecap="round" clip-path="url(#cp16)"/>
<clipPath id="cp17"><use href="#sf13"/></clipPath>
<path d="M617 810q2.7 -1.5 0 -3t0 -3t0 -3t0 -3t0 -3t0 -3t0 -3M616 774q-2.5 1.8 0.4 3t0.4 3t0.4 3t0.4 3t0.4 3t0.4 3t0.4 3M629 856q-3 -0.8 -2.1 2.2t-2.1 2.2t-2.1 2.2t-2.1 2.2M669 779q2.7 -1.4 0.1 -3t0.1 -3t0.1 -3t0.1 -3t0.1 -3t0.1 -3t0.1 -3t0.1 -3t0.1 -3M633 808q-2.1 2.3 1 2.8t1 2.8t1 2.8t1 2.8t1 2.8t1 2.8t1 2.8t1 2.8t1 2.8t1 2.8M628 844q-2.7 1.4 -0.1 3t-0.1 3t-0.1 3t-0.1 3t-0.1 3t-0.1 3t-0.1 3t-0.1 3M637 817q-2.7 1.4 -0.1 3t-0.1 3t-0.1 3t-0.1 3t-0.1 3t-0.1 3t-0.1 3M660 837q-2.9 -0.9 -2.2 2.1t-2.2 2.1t-2.2 2.1t-2.2 2.1t-2.2 2.1t-2.2 2.1t-2.2 2.1t-2.2 2.1t-2.2 2.1t-2.2 2.1M673 823q-1.6 2.6 1.5 2.6t1.5 2.6t1.5 2.6t1.5 2.6M684 852q3.1 0.2 1.6 -2.5t1.6 -2.5t1.6 -2.5t1.6 -2.5t1.6 -2.5t1.6 -2.5M664 812q0.1 3.1 2.7 1.3t2.7 1.3t2.7 1.3t2.7 1.3t2.7 1.3M645 839q-2.4 -2 -2.8 1.1t-2.8 1.1t-2.8 1.1t-2.8 1.1t-2.8 1.1t-2.8 1.1t-2.8 1.1t-2.8 1.1t-2.8 1.1t-2.8 1.1M620 809q-3 0.8 -0.7 2.9t-0.7 2.9t-0.7 2.9t-0.7 2.9t-0.7 2.9t-0.7 2.9t-0.7 2.9t-0.7 2.9t-0.7 2.9t-0.7 2.9M659 832q-2.7 -1.4 -2.5 1.7t-2.5 1.7t-2.5 1.7t-2.5 1.7t-2.5 1.7t-2.5 1.7t-2.5 1.7M680 834q2.9 1 2.2 -2t2.2 -2t2.2 -2t2.2 -2t2.2 -2t2.2 -2t2.2 -2t2.2 -2" fill="none" stroke="#5f8fd0" stroke-width="1.3" stroke-linecap="round" clip-path="url(#cp17)"/>
<text x="558" y="683.2" text-anchor="middle">MT-ND3+6+4L</text>
<text x="558" y="707.4" text-anchor="middle">88% seq. ID</text>
<text x="558" y="731.6" text-anchor="middle">pLDDT: 0.79</text>
<text x="830.2" y="701.7" text-anchor="middle">MT-ND2</text>
<text x="830.2" y="725.6" text-anchor="middle">76% seq. ID</text>
<text x="830.2" y="749.5" text-anchor="middle">pLDDT: 0.82</text>
<text x="983.2" y="701.7">MT-ND5</text>
<text x="983.2" y="725.6">79% seq. ID</text>
<text x="983.2" y="749.5">pLDDT: 0.76</text>
<text x="634" y="904.3" text-anchor="end">MT-ND1</text>
<text x="634" y="928.5" text-anchor="end">87% seq. ID</text>
<text x="634" y="952.7" text-anchor="end">pLDDT: 0.77</text>
<text x="1001" y="877.6">MT-ND4</text>
<text x="1001" y="902.2">87% seq. ID</text>
<text x="1001" y="926.8">pLDDT: 0.79</text>
<line x1="620" y1="733.5" x2="739.6" y2="777.9" stroke="#111" stroke-width="1.3"/>
<line x1="814.8" y1="757.4" x2="782.4" y2="796.7" stroke="#111" stroke-width="1.3"/>
<line x1="979.5" y1="759" x2="954.9" y2="784.7" stroke="#111" stroke-width="1.3"/>
<line x1="635.4" y1="883.8" x2="656" y2="847.9" stroke="#111" stroke-width="1.3"/>
<line x1="992.5" y1="904.3" x2="867.8" y2="889.6" stroke="#111" stroke-width="1.3"/>
<text x="5" y="1007.3" font-size="32" font-weight="bold" fill="#000">g</text>
<line x1="158.5" y1="1005.3" x2="417" y2="1005.3" stroke="#111" stroke-width="1.6"/>
<line x1="518" y1="1005.3" x2="777" y2="1005.3" stroke="#111" stroke-width="1.6"/>
<line x1="158.5" y1="998" x2="158.5" y2="1012.5" stroke="#111" stroke-width="1.6"/>
<line x1="777" y1="998" x2="777" y2="1012.5" stroke="#111" stroke-width="1.6"/>
<text x="467.4" y="1011.8" text-anchor="middle">200,000 nt</text>
<rect x="811.4" y="996.7" width="12.6" height="12.6" fill="#d3d4d6" stroke="#666" stroke-width="1"/>
<text x="835" y="1009.4">Gene called by Prodigal</text>
<rect x="1082.4" y="996.7" width="12.6" height="12.6" fill="#0b56a3" stroke="#333" stroke-width="1"/>
<text x="1106" y="1009.4">Gene called by Prodigal with Pfam hit</text>
<text x="145.6" y="1038.7" text-anchor="end" font-style="italic">M. genitalium</text>
<text x="145.6" y="1059.6" text-anchor="end">G37</text>
<text x="145.6" y="1112.7" text-anchor="end">Evo 1</text>
<text x="145.6" y="1133.1" text-anchor="end">7B 131K</text>
<text x="145.6" y="1196.5" text-anchor="end">Evo 2 40B</text>
<line x1="158.5" y1="1137" x2="190" y2="1137" stroke="#111" stroke-width="1.8"/>
<polygon points="193,1137 183,1132.5 185.5,1137 183,1141.5" fill="#111"/>
<line x1="158.5" y1="1131.5" x2="158.5" y2="1142.5" stroke="#111" stroke-width="1.8"/>
<line x1="193.5" y1="1131.5" x2="193.5" y2="1142.5" stroke="#111" stroke-width="1.8"/>
<text x="203.8" y="1143.4"><tspan font-style="italic">M. genitalium</tspan> prompt</text>
<line x1="158.5" y1="1041.1" x2="1957" y2="1041.1" stroke="#444" stroke-width="1.3"/>
<line x1="158.5" y1="1094.4" x2="1957" y2="1094.4" stroke="#444" stroke-width="1.3"/>
<line x1="158.5" y1="1168.6" x2="1957" y2="1168.6" stroke="#444" stroke-width="1.3"/>
<path d="M228.2 1025.3L231.6 1041.1L228.2 1056.8ZM447.6 1025.3L453.4 1041.1L447.6 1056.8ZM453 1025.3L456.7 1041.1L453 1056.8ZM506.5 1025.3L501.4 1041.1L506.5 1056.8ZM621.8 1025.3L617.8 1041.1L621.8 1056.8ZM677.5 1025.3L681.4 1041.1L677.5 1056.8ZM680.3 1025.3L681.4 1041.1L680.3 1056.8ZM733 1025.3L737 1041.1L733 1056.8ZM894.7 1025.3L891 1041.1L894.7 1056.8ZM896 1025.3L894.5 1041.1L896 1056.8ZM896 1025.3L894.9 1041.1L896 1056.8ZM896 1025.3L894.1 1041.1L896 1056.8ZM896 1025.3L894.6 1041.1L896 1056.8ZM957 1025.3L952.7 1041.1L957 1056.8ZM1028.3 1025.3L1024.9 1041.1L1028.3 1056.8ZM1047.6 1025.3H1051.2L1064.4 1041.1L1051.2 1056.8H1047.6ZM1122.8 1025.3L1116.4 1041.1L1122.8 1056.8ZM1219.8 1025.3L1224.3 1041.1L1219.8 1056.8ZM1313.8 1025.3L1308 1041.1L1313.8 1056.8ZM1358.4 1025.3L1347.6 1041.1L1358.4 1056.8ZM1670.5 1025.3L1667 1041.1L1670.5 1056.8ZM1941 1025.3L1929 1041.1L1941 1056.8Z" fill="#d3d4d6"/>
<path d="M158.5 1025.3L161.9 1041.1L158.5 1056.8ZM161 1025.3L164.4 1041.1L161 1056.8ZM170.9 1025.3L164 1041.1L170.9 1056.8ZM173.2 1025.3L169.1 1041.1L173.2 1056.8ZM176.1 1025.3L172.7 1041.1L176.1 1056.8ZM180 1025.3L174.4 1041.1L180 1056.8ZM183.3 1025.3L178.9 1041.1L183.3 1056.8ZM186.2 1025.3L181.3 1041.1L186.2 1056.8ZM185.8 1025.3L190.8 1041.1L185.8 1056.8ZM189.3 1025.3L192.4 1041.1L189.3 1056.8ZM191.3 1025.3L195.9 1041.1L191.3 1056.8ZM194.6 1025.3L205.1 1041.1L194.6 1056.8ZM203.3 1025.3L207.3 1041.1L203.3 1056.8ZM207.3 1025.3L212.9 1041.1L207.3 1056.8ZM212.8 1025.3L216.1 1041.1L212.8 1056.8ZM222.6 1025.3L216.1 1041.1L222.6 1056.8ZM225.5 1025.3L222.7 1041.1L225.5 1056.8ZM228 1025.3L224.3 1041.1L228 1056.8ZM231.7 1025.3L234.6 1041.1L231.7 1056.8ZM232.6 1025.3L239 1041.1L232.6 1056.8ZM238.8 1025.3L242.6 1041.1L238.8 1056.8ZM241.8 1025.3L248.5 1041.1L241.8 1056.8ZM248.6 1025.3L251.3 1041.1L248.6 1056.8ZM249.6 1025.3L253.7 1041.1L249.6 1056.8ZM253.2 1025.3L258.8 1041.1L253.2 1056.8ZM258.1 1025.3L263 1041.1L258.1 1056.8ZM262.7 1025.3L267.2 1041.1L262.7 1056.8ZM265.3 1025.3L270 1041.1L265.3 1056.8ZM281.5 1025.3L270.3 1041.1L281.5 1056.8ZM281 1025.3L292.3 1041.1L281 1056.8ZM293 1025.3L298.7 1041.1L293 1056.8ZM313.5 1025.3H311L297.8 1041.1L311 1056.8H313.5ZM312.5 1025.3L317.8 1041.1L312.5 1056.8ZM317.7 1025.3L323.4 1041.1L317.7 1056.8ZM322.9 1025.3H324.9L338.1 1041.1L324.9 1056.8H322.9ZM336.5 1025.3L340.9 1041.1L336.5 1056.8ZM339.4 1025.3L342.3 1041.1L339.4 1056.8ZM340.6 1025.3L345.8 1041.1L340.6 1056.8ZM344.8 1025.3L348.2 1041.1L344.8 1056.8ZM348.3 1025.3L351.8 1041.1L348.3 1056.8ZM350.6 1025.3L362.1 1041.1L350.6 1056.8ZM360.4 1025.3L363.1 1041.1L360.4 1056.8ZM363.4 1025.3L370.3 1041.1L363.4 1056.8ZM368.5 1025.3L373.4 1041.1L368.5 1056.8ZM371.9 1025.3L376.1 1041.1L371.9 1056.8ZM376.1 1025.3L386.9 1041.1L376.1 1056.8ZM385 1025.3L391.5 1041.1L385 1056.8ZM389.8 1025.3L394.3 1041.1L389.8 1056.8ZM394.1 1025.3L397.4 1041.1L394.1 1056.8ZM403.1 1025.3L396.6 1041.1L403.1 1056.8ZM408.2 1025.3L402.7 1041.1L408.2 1056.8ZM410 1025.3L408.4 1041.1L410 1056.8ZM411 1025.3H411.1L424.3 1041.1L411.1 1056.8H411ZM430.5 1025.3L425 1041.1L430.5 1056.8ZM428.6 1025.3L435.8 1041.1L428.6 1056.8ZM434.1 1025.3L447 1041.1L434.1 1056.8ZM457 1025.3L463.6 1041.1L457 1056.8ZM467.5 1025.3L461.7 1041.1L467.5 1056.8ZM466.1 1025.3L471.4 1041.1L466.1 1056.8ZM474.5 1025.3L470 1041.1L474.5 1056.8ZM479.2 1025.3L474.2 1041.1L479.2 1056.8ZM479 1025.3L482.3 1041.1L479 1056.8ZM482.3 1025.3L492.8 1041.1L482.3 1056.8ZM499.1 1025.3L492.5 1041.1L499.1 1056.8ZM502.1 1025.3L498.5 1041.1L502.1 1056.8ZM505.7 1025.3L508.6 1041.1L505.7 1056.8ZM508.5 1025.3L511.7 1041.1L508.5 1056.8ZM510 1025.3L514.4 1041.1L510 1056.8ZM514.3 1025.3L517.9 1041.1L514.3 1056.8ZM516.7 1025.3L520.2 1041.1L516.7 1056.8ZM519.9 1025.3L528.1 1041.1L519.9 1056.8ZM527.9 1025.3L531.9 1041.1L527.9 1056.8ZM530.7 1025.3L534.5 1041.1L530.7 1056.8ZM534.7 1025.3L541.4 1041.1L534.7 1056.8ZM539.6 1025.3L546.1 1041.1L539.6 1056.8ZM553.2 1025.3L545.1 1041.1L553.2 1056.8ZM552.7 1025.3L564.1 1041.1L552.7 1056.8ZM562.4 1025.3L566.7 1041.1L562.4 1056.8ZM566.2 1025.3L569.6 1041.1L566.2 1056.8ZM572.8 1025.3L569.5 1041.1L572.8 1056.8ZM578.8 1025.3L572.4 1041.1L578.8 1056.8ZM577.9 1025.3L584.1 1041.1L577.9 1056.8ZM583.8 1025.3L587.4 1041.1L583.8 1056.8ZM592 1025.3L586.3 1041.1L592 1056.8ZM595.3 1025.3L591.1 1041.1L595.3 1056.8ZM598 1025.3L593.4 1041.1L598 1056.8ZM599.9 1025.3L596.5 1041.1L599.9 1056.8ZM603.7 1025.3L598.6 1041.1L603.7 1056.8ZM606.6 1025.3L603.3 1041.1L606.6 1056.8ZM611.1 1025.3L605.3 1041.1L611.1 1056.8ZM610.9 1025.3L617.9 1041.1L610.9 1056.8ZM621.8 1025.3L626.7 1041.1L621.8 1056.8ZM625.2 1025.3L630.1 1041.1L625.2 1056.8ZM628.3 1025.3L631.3 1041.1L628.3 1056.8ZM630.9 1025.3L635.3 1041.1L630.9 1056.8ZM637.4 1025.3L634.5 1041.1L637.4 1056.8ZM636.5 1025.3L641.3 1041.1L636.5 1056.8ZM640 1025.3L646.1 1041.1L640 1056.8ZM646.2 1025.3L654.9 1041.1L646.2 1056.8ZM653.2 1025.3L658.8 1041.1L653.2 1056.8ZM663.2 1025.3L657.5 1041.1L663.2 1056.8ZM662.9 1025.3L665.5 1041.1L662.9 1056.8ZM665.2 1025.3L676.6 1041.1L665.2 1056.8ZM674.8 1025.3L677 1041.1L674.8 1056.8ZM681.4 1025.3L686.4 1041.1L681.4 1056.8ZM684.7 1025.3L691.4 1041.1L684.7 1056.8ZM696.7 1025.3L691.5 1041.1L696.7 1056.8ZM698.6 1025.3L695.5 1041.1L698.6 1056.8ZM698 1025.3L703 1041.1L698 1056.8ZM703 1025.3L713.9 1041.1L703 1056.8ZM712 1025.3L718.4 1041.1L712 1056.8ZM721.2 1025.3L718.2 1041.1L721.2 1056.8ZM726.8 1025.3L721.5 1041.1L726.8 1056.8ZM725.4 1025.3L731.5 1041.1L725.4 1056.8ZM731 1025.3L733 1041.1L731 1056.8ZM737 1025.3L741 1041.1L737 1056.8ZM760.3 1025.3L772 1041.1L760.3 1056.8ZM772 1025.3L775.2 1041.1L772 1056.8ZM783.2 1025.3L774.6 1041.1L783.2 1056.8ZM787.6 1025.3L782.2 1041.1L787.6 1056.8ZM789.4 1025.3L786.1 1041.1L789.4 1056.8ZM793.2 1025.3L788.7 1041.1L793.2 1056.8ZM795.6 1025.3L792.2 1041.1L795.6 1056.8ZM799.4 1025.3L795.8 1041.1L799.4 1056.8ZM800 1025.3L799 1041.1L800 1056.8ZM800 1025.3L803 1041.1L800 1056.8ZM802.6 1025.3L804.8 1041.1L802.6 1056.8ZM804.9 1025.3L806.1 1041.1L804.9 1056.8ZM805.3 1025.3L808.1 1041.1L805.3 1056.8ZM808.1 1025.3L806.3 1041.1L808.1 1056.8ZM810.1 1025.3L807.8 1041.1L810.1 1056.8ZM811.5 1025.3L808.7 1041.1L811.5 1056.8ZM810.6 1025.3L813.3 1041.1L810.6 1056.8ZM811.9 1025.3L814.1 1041.1L811.9 1056.8ZM816.9 1025.3L813.5 1041.1L816.9 1056.8ZM819.9 1025.3L816.4 1041.1L819.9 1056.8ZM821.6 1025.3L819.7 1041.1L821.6 1056.8ZM823 1025.3L820.4 1041.1L823 1056.8ZM821.3 1025.3L823.8 1041.1L821.3 1056.8ZM823.7 1025.3L827 1041.1L823.7 1056.8ZM826 1025.3L829.4 1041.1L826 1056.8ZM827.7 1025.3L829 1041.1L827.7 1056.8ZM829 1025.3L832.4 1041.1L829 1056.8ZM831.2 1025.3L833.6 1041.1L831.2 1056.8ZM831.8 1025.3L834.3 1041.1L831.8 1056.8ZM832.9 1025.3L835.3 1041.1L832.9 1056.8ZM834.5 1025.3L837.1 1041.1L834.5 1056.8ZM838.6 1025.3L837.2 1041.1L838.6 1056.8ZM838.5 1025.3L837.3 1041.1L838.5 1056.8ZM839.8 1025.3L838 1041.1L839.8 1056.8ZM840.1 1025.3L838.8 1041.1L840.1 1056.8ZM842.7 1025.3L839.2 1041.1L842.7 1056.8ZM842.2 1025.3L844.9 1041.1L842.2 1056.8ZM844.3 1025.3L845.8 1041.1L844.3 1056.8ZM846.1 1025.3L849.1 1041.1L846.1 1056.8ZM847.3 1025.3L849.6 1041.1L847.3 1056.8ZM848.7 1025.3L851.9 1041.1L848.7 1056.8ZM851.4 1025.3L853.2 1041.1L851.4 1056.8ZM851.8 1025.3L855.2 1041.1L851.8 1056.8ZM855.6 1025.3L853.3 1041.1L855.6 1056.8ZM857.4 1025.3L855.4 1041.1L857.4 1056.8ZM858 1025.3L855.4 1041.1L858 1056.8ZM860.2 1025.3L857.9 1041.1L860.2 1056.8ZM862.7 1025.3L859.6 1041.1L862.7 1056.8ZM864.9 1025.3L861.8 1041.1L864.9 1056.8ZM864.5 1025.3L863.2 1041.1L864.5 1056.8ZM865.5 1025.3L862.8 1041.1L865.5 1056.8ZM866.4 1025.3L865.1 1041.1L866.4 1056.8ZM867.3 1025.3L865.5 1041.1L867.3 1056.8ZM869.1 1025.3L866.5 1041.1L869.1 1056.8ZM870.4 1025.3L868.2 1041.1L870.4 1056.8ZM871.7 1025.3L868.8 1041.1L871.7 1056.8ZM873.2 1025.3L871.1 1041.1L873.2 1056.8ZM873.1 1025.3L876 1041.1L873.1 1056.8ZM875.7 1025.3L878.9 1041.1L875.7 1056.8ZM879 1025.3L880.4 1041.1L879 1056.8ZM883.2 1025.3L880.2 1041.1L883.2 1056.8ZM884.4 1025.3L882.8 1041.1L884.4 1056.8ZM885.5 1025.3L884.2 1041.1L885.5 1056.8ZM887.6 1025.3L885 1041.1L887.6 1056.8ZM886.3 1025.3L889.8 1041.1L886.3 1056.8ZM889.4 1025.3L891 1041.1L889.4 1056.8ZM891 1025.3L889.3 1041.1L891 1056.8ZM902 1025.3L896 1041.1L902 1056.8ZM907.4 1025.3L901.4 1041.1L907.4 1056.8ZM910.9 1025.3L906.9 1041.1L910.9 1056.8ZM918 1025.3L909.9 1041.1L918 1056.8ZM918 1025.3L916.9 1041.1L918 1056.8ZM918.2 1025.3H919.2L932.4 1041.1L919.2 1056.8H918.2ZM932.4 1025.3L944 1041.1L932.4 1056.8ZM947.9 1025.3L945 1041.1L947.9 1056.8ZM946.7 1025.3L952.7 1041.1L946.7 1056.8ZM960.4 1025.3L956.7 1041.1L960.4 1056.8ZM964.2 1025.3L960.3 1041.1L964.2 1056.8ZM964.2 1025.3L967 1041.1L964.2 1056.8ZM966.9 1025.3L969.6 1041.1L966.9 1056.8ZM968.5 1025.3L973.3 1041.1L968.5 1056.8ZM983.1 1025.3L973.5 1041.1L983.1 1056.8ZM984.3 1025.3L981.4 1041.1L984.3 1056.8ZM988.3 1025.3L983.5 1041.1L988.3 1056.8ZM991.7 1025.3L988 1041.1L991.7 1056.8ZM997.6 1025.3L991.6 1041.1L997.6 1056.8ZM999.9 1025.3L997.2 1041.1L999.9 1056.8ZM1001.6 1025.3L998.6 1041.1L1001.6 1056.8ZM1007 1025.3L1000.6 1041.1L1007 1056.8ZM1006.3 1025.3L1012.9 1041.1L1006.3 1056.8ZM1011.2 1025.3L1014 1041.1L1011.2 1056.8ZM1016.5 1025.3L1013.7 1041.1L1016.5 1056.8ZM1019.7 1025.3L1015.7 1041.1L1019.7 1056.8ZM1025.4 1025.3L1018.8 1041.1L1025.4 1056.8ZM1026.4 1025.3L1023.8 1041.1L1026.4 1056.8ZM1031.1 1025.3L1028.3 1041.1L1031.1 1056.8ZM1034.7 1025.3L1029.9 1041.1L1034.7 1056.8ZM1033.6 1025.3L1038.6 1041.1L1033.6 1056.8ZM1037.8 1025.3L1042.8 1041.1L1037.8 1056.8ZM1041.9 1025.3L1044.4 1041.1L1041.9 1056.8ZM1044.6 1025.3L1047 1041.1L1044.6 1056.8ZM1045.3 1025.3L1047 1041.1L1045.3 1056.8ZM1045.1 1025.3L1047 1041.1L1045.1 1056.8ZM1047 1025.3L1045.4 1041.1L1047 1056.8ZM1070.9 1025.3L1065 1041.1L1070.9 1056.8ZM1077 1025.3L1070.2 1041.1L1077 1056.8ZM1079.3 1025.3L1076.2 1041.1L1079.3 1056.8ZM1080.5 1025.3L1077.8 1041.1L1080.5 1056.8ZM1081.9 1025.3L1078.9 1041.1L1081.9 1056.8ZM1080 1025.3L1083.4 1041.1L1080 1056.8ZM1083.6 1025.3L1087.4 1041.1L1083.6 1056.8ZM1087.6 1025.3L1091.8 1041.1L1087.6 1056.8ZM1090.5 1025.3L1093.8 1041.1L1090.5 1056.8ZM1092.4 1025.3L1099.1 1041.1L1092.4 1056.8ZM1097.8 1025.3L1107 1041.1L1097.8 1056.8ZM1116.2 1025.3L1106.7 1041.1L1116.2 1056.8ZM1126.9 1025.3L1122.9 1041.1L1126.9 1056.8ZM1128 1025.3L1125.5 1041.1L1128 1056.8ZM1134.7 1025.3L1127.7 1041.1L1134.7 1056.8ZM1141.1 1025.3L1134.2 1041.1L1141.1 1056.8ZM1143.5 1025.3L1139.5 1041.1L1143.5 1056.8ZM1146.3 1025.3L1142.2 1041.1L1146.3 1056.8ZM1150.3 1025.3L1145.1 1041.1L1150.3 1056.8ZM1155.7 1025.3L1149.8 1041.1L1155.7 1056.8ZM1157.5 1025.3L1154.2 1041.1L1157.5 1056.8ZM1162.5 1025.3L1157.5 1041.1L1162.5 1056.8ZM1167.1 1025.3L1161.5 1041.1L1167.1 1056.8ZM1165.1 1025.3L1171.4 1041.1L1165.1 1056.8ZM1181.4 1025.3L1171.1 1041.1L1181.4 1056.8ZM1187.4 1025.3L1181.3 1041.1L1187.4 1056.8ZM1189.8 1025.3L1186.4 1041.1L1189.8 1056.8ZM1194.6 1025.3L1190.1 1041.1L1194.6 1056.8ZM1193.5 1025.3L1198.2 1041.1L1193.5 1056.8ZM1197.2 1025.3L1200.9 1041.1L1197.2 1056.8ZM1201.1 1025.3L1210.1 1041.1L1201.1 1056.8ZM1208.5 1025.3L1215.2 1041.1L1208.5 1056.8ZM1214.6 1025.3L1218.1 1041.1L1214.6 1056.8ZM1216.7 1025.3L1220.4 1041.1L1216.7 1056.8ZM1224.4 1025.3L1228.8 1041.1L1224.4 1056.8ZM1229 1025.3L1231.8 1041.1L1229 1056.8ZM1231.5 1025.3L1237.4 1041.1L1231.5 1056.8ZM1239 1025.3L1236.5 1041.1L1239 1056.8ZM1242.7 1025.3L1238.4 1041.1L1242.7 1056.8ZM1248.1 1025.3L1241.4 1041.1L1248.1 1056.8ZM1253.5 1025.3L1246.6 1041.1L1253.5 1056.8ZM1258.5 1025.3L1252.1 1041.1L1258.5 1056.8ZM1263.8 1025.3L1258 1041.1L1263.8 1056.8ZM1262.6 1025.3L1266.1 1041.1L1262.6 1056.8ZM1265 1025.3L1268.8 1041.1L1265 1056.8ZM1268.7 1025.3L1274.7 1041.1L1268.7 1056.8ZM1280.9 1025.3L1274.1 1041.1L1280.9 1056.8ZM1279.9 1025.3L1285.9 1041.1L1279.9 1056.8ZM1287.1 1025.3L1284.4 1041.1L1287.1 1056.8ZM1293.2 1025.3L1286.9 1041.1L1293.2 1056.8ZM1296.9 1025.3L1292.1 1041.1L1296.9 1056.8ZM1301.1 1025.3L1296.7 1041.1L1301.1 1056.8ZM1299.3 1025.3L1305.2 1041.1L1299.3 1056.8ZM1309.4 1025.3L1304.9 1041.1L1309.4 1056.8ZM1313.8 1025.3L1319.8 1041.1L1313.8 1056.8ZM1318.5 1025.3L1324.3 1041.1L1318.5 1056.8ZM1324.1 1025.3L1328.2 1041.1L1324.1 1056.8ZM1326.2 1025.3L1331.8 1041.1L1326.2 1056.8ZM1338.2 1025.3L1330.6 1041.1L1338.2 1056.8ZM1349.3 1025.3L1337.5 1041.1L1349.3 1056.8ZM1357.7 1025.3L1362 1041.1L1357.7 1056.8ZM1367.2 1025.3L1361.1 1041.1L1367.2 1056.8ZM1373.8 1025.3L1367.1 1041.1L1373.8 1056.8ZM1378.8 1025.3L1372.7 1041.1L1378.8 1056.8ZM1393.2 1025.3H1391.8L1378.6 1041.1L1391.8 1056.8H1393.2ZM1397.2 1025.3L1392.5 1041.1L1397.2 1056.8ZM1395.4 1025.3L1403.3 1041.1L1395.4 1056.8ZM1403.5 1025.3L1409.7 1041.1L1403.5 1056.8ZM1407.7 1025.3L1413.1 1041.1L1407.7 1056.8ZM1412 1025.3L1418.6 1041.1L1412 1056.8ZM1418.2 1025.3L1424.2 1041.1L1418.2 1056.8ZM1423.6 1025.3L1428.7 1041.1L1423.6 1056.8ZM1428.2 1025.3L1435.1 1041.1L1428.2 1056.8ZM1434.7 1025.3L1437.7 1041.1L1434.7 1056.8ZM1441.1 1025.3L1437.7 1041.1L1441.1 1056.8ZM1443.9 1025.3L1439.3 1041.1L1443.9 1056.8ZM1443.1 1025.3L1449.7 1041.1L1443.1 1056.8ZM1448.7 1025.3L1452.7 1041.1L1448.7 1056.8ZM1450.7 1025.3L1455.6 1041.1L1450.7 1056.8ZM1453.9 1025.3L1464.2 1041.1L1453.9 1056.8ZM1462.3 1025.3L1466.5 1041.1L1462.3 1056.8ZM1468.8 1025.3L1464.8 1041.1L1468.8 1056.8ZM1474.1 1025.3L1468.3 1041.1L1474.1 1056.8ZM1479.9 1025.3L1473.9 1041.1L1479.9 1056.8ZM1483.3 1025.3L1478.8 1041.1L1483.3 1056.8ZM1487.7 1025.3L1483.4 1041.1L1487.7 1056.8ZM1490.2 1025.3L1487.6 1041.1L1490.2 1056.8ZM1488.9 1025.3L1492.3 1041.1L1488.9 1056.8ZM1492.5 1025.3L1498.6 1041.1L1492.5 1056.8ZM1496.9 1025.3L1508.8 1041.1L1496.9 1056.8ZM1512 1025.3L1507.5 1041.1L1512 1056.8ZM1520.9 1025.3L1510.2 1041.1L1520.9 1056.8ZM1526.1 1025.3L1521 1041.1L1526.1 1056.8ZM1533.9 1025.3L1524.6 1041.1L1533.9 1056.8ZM1544.6 1025.3L1534 1041.1L1544.6 1056.8ZM1549.8 1025.3L1543.8 1041.1L1549.8 1056.8ZM1549.2 1025.3L1555 1041.1L1549.2 1056.8ZM1554.7 1025.3L1560.6 1041.1L1554.7 1056.8ZM1560.9 1025.3L1565.4 1041.1L1560.9 1056.8ZM1564.4 1025.3L1571 1041.1L1564.4 1056.8ZM1573.1 1025.3L1569.6 1041.1L1573.1 1056.8ZM1579.4 1025.3L1572.8 1041.1L1579.4 1056.8ZM1589.3 1025.3L1578.3 1041.1L1589.3 1056.8ZM1589.3 1025.3L1592.1 1041.1L1589.3 1056.8ZM1591.7 1025.3L1596.8 1041.1L1591.7 1056.8ZM1596.4 1025.3L1599.9 1041.1L1596.4 1056.8ZM1599.4 1025.3L1603.9 1041.1L1599.4 1056.8ZM1603.4 1025.3L1607.5 1041.1L1603.4 1056.8ZM1606.7 1025.3L1610 1041.1L1606.7 1056.8ZM1608.7 1025.3L1610 1041.1L1608.7 1056.8ZM1623 1025.3L1611 1041.1L1623 1056.8ZM1626.9 1025.3L1623 1041.1L1626.9 1056.8ZM1632.4 1025.3L1626.8 1041.1L1632.4 1056.8ZM1634 1025.3L1632.4 1041.1L1634 1056.8ZM1634 1025.3L1632.4 1041.1L1634 1056.8ZM1649 1025.3H1647.2L1634 1041.1L1647.2 1056.8H1649ZM1664 1025.3H1663.2L1650 1041.1L1663.2 1056.8H1664ZM1668.4 1025.3L1664 1041.1L1668.4 1056.8ZM1676.3 1025.3L1669.4 1041.1L1676.3 1056.8ZM1679.7 1025.3L1675.3 1041.1L1679.7 1056.8ZM1686.5 1025.3L1679.8 1041.1L1686.5 1056.8ZM1698.1 1025.3L1685.4 1041.1L1698.1 1056.8ZM1702.5 1025.3L1696.4 1041.1L1702.5 1056.8ZM1706.7 1025.3L1701.1 1041.1L1706.7 1056.8ZM1705.7 1025.3L1712.6 1041.1L1705.7 1056.8ZM1712.1 1025.3L1716.6 1041.1L1712.1 1056.8ZM1718.9 1025.3L1714.7 1041.1L1718.9 1056.8ZM1722 1025.3L1718.1 1041.1L1722 1056.8ZM1728.2 1025.3L1721.4 1041.1L1728.2 1056.8ZM1726.8 1025.3L1732.4 1041.1L1726.8 1056.8ZM1730.6 1025.3L1735 1041.1L1730.6 1056.8ZM1734.9 1025.3L1739.3 1041.1L1734.9 1056.8ZM1744.3 1025.3L1738.5 1041.1L1744.3 1056.8ZM1744.2 1025.3L1747.1 1041.1L1744.2 1056.8ZM1747.3 1025.3L1752.9 1041.1L1747.3 1056.8ZM1752.2 1025.3L1763.3 1041.1L1752.2 1056.8ZM1761.9 1025.3L1765.8 1041.1L1761.9 1056.8ZM1763.9 1025.3L1769.2 1041.1L1763.9 1056.8ZM1773.3 1025.3L1769.2 1041.1L1773.3 1056.8ZM1777.5 1025.3L1772.5 1041.1L1777.5 1056.8ZM1782.9 1025.3L1776.3 1041.1L1782.9 1056.8ZM1785.4 1025.3L1782.4 1041.1L1785.4 1056.8ZM1787.8 1025.3L1783.7 1041.1L1787.8 1056.8ZM1799.2 1025.3L1787.5 1041.1L1799.2 1056.8ZM1802.3 1025.3L1798.8 1041.1L1802.3 1056.8ZM1800.3 1025.3L1806.7 1041.1L1800.3 1056.8ZM1805.1 1025.3L1814.8 1041.1L1805.1 1056.8ZM1814.2 1025.3L1820 1041.1L1814.2 1056.8ZM1820 1025.3L1818.3 1041.1L1820 1056.8ZM1820 1025.3L1818.8 1041.1L1820 1056.8ZM1838 1025.3H1834.2L1821 1041.1L1834.2 1056.8H1838ZM1844.9 1025.3L1838 1041.1L1844.9 1056.8ZM1847 1025.3L1843.6 1041.1L1847 1056.8ZM1846.6 1025.3L1852.3 1041.1L1846.6 1056.8ZM1850.7 1025.3L1861 1041.1L1850.7 1056.8ZM1862.9 1025.3L1859 1041.1L1862.9 1056.8ZM1869.5 1025.3L1863 1041.1L1869.5 1056.8ZM1873.6 1025.3L1868.2 1041.1L1873.6 1056.8ZM1875.2 1025.3L1871.6 1041.1L1875.2 1056.8ZM1877.2 1025.3L1874.1 1041.1L1877.2 1056.8ZM1879.3 1025.3L1876.7 1041.1L1879.3 1056.8ZM1879.3 1025.3L1885.7 1041.1L1879.3 1056.8ZM1888.9 1025.3L1885.3 1041.1L1888.9 1056.8ZM1891.9 1025.3L1887 1041.1L1891.9 1056.8ZM1893.7 1025.3L1891 1041.1L1893.7 1056.8ZM1893.2 1025.3L1896.5 1041.1L1893.2 1056.8ZM1895.1 1025.3L1907.3 1041.1L1895.1 1056.8ZM1906.2 1025.3L1909.7 1041.1L1906.2 1056.8ZM1909.2 1025.3L1920.2 1041.1L1909.2 1056.8ZM1928 1025.3L1920.1 1041.1L1928 1056.8ZM1928 1025.3L1926.4 1041.1L1928 1056.8ZM1928 1025.3L1926.7 1041.1L1928 1056.8ZM1928 1025.3L1926.2 1041.1L1928 1056.8ZM1941 1025.3L1946.1 1041.1L1941 1056.8ZM1944.7 1025.3L1947.7 1041.1L1944.7 1056.8ZM1946.4 1025.3L1952.8 1041.1L1946.4 1056.8ZM1951.3 1025.3L1957 1041.1L1951.3 1056.8Z" fill="#0b56a3"/>
<path d="M195.3 1078.7L201 1094.4L195.3 1110.2ZM274.2 1078.7L263.4 1094.4L274.2 1110.2ZM303.3 1078.7L308 1094.4L303.3 1110.2ZM315.9 1078.7L307.2 1094.4L315.9 1110.2ZM317.3 1078.7L325.6 1094.4L317.3 1110.2ZM328.4 1078.7L331 1094.4L328.4 1110.2ZM329.1 1078.7L331 1094.4L329.1 1110.2ZM331 1078.7L333.6 1094.4L331 1110.2ZM332.5 1078.7L344.9 1094.4L332.5 1110.2ZM344.9 1078.7L351.7 1094.4L344.9 1110.2ZM351.8 1078.7L355.2 1094.4L351.8 1110.2ZM353.3 1078.7L357.4 1094.4L353.3 1110.2ZM356.8 1078.7L359.7 1094.4L356.8 1110.2ZM357.7 1078.7L363.2 1094.4L357.7 1110.2ZM361.2 1078.7L366.8 1094.4L361.2 1110.2ZM365.8 1078.7L368 1094.4L365.8 1110.2ZM368 1078.7L370.7 1094.4L368 1110.2ZM368.9 1078.7L371.5 1094.4L368.9 1110.2ZM369.6 1078.7L372.9 1094.4L369.6 1110.2ZM372.9 1078.7L375.3 1094.4L372.9 1110.2ZM376.7 1078.7L374.6 1094.4L376.7 1110.2ZM379 1078.7L376 1094.4L379 1110.2ZM381.7 1078.7L378.3 1094.4L381.7 1110.2ZM384.2 1078.7L380.8 1094.4L384.2 1110.2ZM388.6 1078.7L385.6 1094.4L388.6 1110.2ZM390 1078.7L388.3 1094.4L390 1110.2ZM389.5 1078.7L391.2 1094.4L389.5 1110.2ZM390.2 1078.7L393 1094.4L390.2 1110.2ZM391.4 1078.7L393 1094.4L391.4 1110.2ZM392.1 1078.7L394.7 1094.4L392.1 1110.2ZM393 1078.7L395.4 1094.4L393 1110.2ZM394 1078.7L396.8 1094.4L394 1110.2ZM395.5 1078.7L398.5 1094.4L395.5 1110.2ZM397.9 1078.7L400.7 1094.4L397.9 1110.2ZM399.5 1078.7L402.9 1094.4L399.5 1110.2ZM402.2 1078.7L403.9 1094.4L402.2 1110.2ZM402.9 1078.7L405 1094.4L402.9 1110.2ZM404.4 1078.7L406 1094.4L404.4 1110.2ZM405.7 1078.7L408.8 1094.4L405.7 1110.2ZM408.3 1078.7L409.6 1094.4L408.3 1110.2ZM412.1 1078.7L408.7 1094.4L412.1 1110.2ZM414.3 1078.7L411.2 1094.4L414.3 1110.2ZM413.5 1078.7L415.3 1094.4L413.5 1110.2ZM415.4 1078.7L416.7 1094.4L415.4 1110.2ZM419 1078.7L415.9 1094.4L419 1110.2ZM418.5 1078.7L420.1 1094.4L418.5 1110.2ZM420.1 1078.7L423.2 1094.4L420.1 1110.2ZM425 1078.7L422.7 1094.4L425 1110.2ZM426.3 1078.7L423.7 1094.4L426.3 1110.2ZM425.3 1078.7L428 1094.4L425.3 1110.2ZM426.3 1078.7L428 1094.4L426.3 1110.2ZM428 1078.7L426.1 1094.4L428 1110.2ZM426.4 1078.7L428 1094.4L426.4 1110.2ZM428 1078.7L426.8 1094.4L428 1110.2ZM428 1078.7L426.9 1094.4L428 1110.2ZM428 1078.7L433.4 1094.4L428 1110.2ZM436.3 1078.7L439.6 1094.4L436.3 1110.2ZM447.5 1078.7L443.9 1094.4L447.5 1110.2ZM450.8 1078.7L457.7 1094.4L450.8 1110.2ZM456.6 1078.7L460 1094.4L456.6 1110.2ZM462.8 1078.7L460 1094.4L462.8 1110.2ZM463.9 1078.7L461.7 1094.4L463.9 1110.2ZM465.6 1078.7L463.4 1094.4L465.6 1110.2ZM467.8 1078.7L465.8 1094.4L467.8 1110.2ZM469.6 1078.7L468 1094.4L469.6 1110.2ZM470.8 1078.7L469.6 1094.4L470.8 1110.2ZM470.5 1078.7L473 1094.4L470.5 1110.2ZM471.5 1078.7L474.7 1094.4L471.5 1110.2ZM473.5 1078.7L476 1094.4L473.5 1110.2ZM474.2 1078.7L476.1 1094.4L474.2 1110.2ZM475.8 1078.7L478 1094.4L475.8 1110.2ZM480 1078.7L477.1 1094.4L480 1110.2ZM482.7 1078.7L479.5 1094.4L482.7 1110.2ZM484.9 1078.7L481.6 1094.4L484.9 1110.2ZM486.1 1078.7L482.9 1094.4L486.1 1110.2ZM487.8 1078.7L485.5 1094.4L487.8 1110.2ZM494.5 1078.7L491.1 1094.4L494.5 1110.2ZM496.7 1078.7L493.9 1094.4L496.7 1110.2ZM498.6 1078.7L495.2 1094.4L498.6 1110.2ZM501 1078.7L498.9 1094.4L501 1110.2ZM500.8 1078.7L504.2 1094.4L500.8 1110.2ZM504.2 1078.7L505.9 1094.4L504.2 1110.2ZM505.4 1078.7L508.4 1094.4L505.4 1110.2ZM507.7 1078.7L509.5 1094.4L507.7 1110.2ZM509.6 1078.7L512.5 1094.4L509.6 1110.2ZM511.4 1078.7L512.8 1094.4L511.4 1110.2ZM515.3 1078.7L512 1094.4L515.3 1110.2ZM516.1 1078.7L514.5 1094.4L516.1 1110.2ZM517.2 1078.7L514.2 1094.4L517.2 1110.2ZM518.7 1078.7L517 1094.4L518.7 1110.2ZM519.9 1078.7L522.5 1094.4L519.9 1110.2ZM524.1 1078.7L527.3 1094.4L524.1 1110.2ZM530.4 1078.7L527.4 1094.4L530.4 1110.2ZM531.8 1078.7L528.7 1094.4L531.8 1110.2ZM531.7 1078.7L530.4 1094.4L531.7 1110.2ZM534.9 1078.7L531.9 1094.4L534.9 1110.2ZM533.4 1078.7L535.8 1094.4L533.4 1110.2ZM534.7 1078.7L536 1094.4L534.7 1110.2ZM535.7 1078.7L538.3 1094.4L535.7 1110.2ZM536.4 1078.7L539.2 1094.4L536.4 1110.2ZM541.2 1078.7L539.4 1094.4L541.2 1110.2ZM542.4 1078.7L540.1 1094.4L542.4 1110.2ZM542.4 1078.7L541 1094.4L542.4 1110.2ZM545.5 1078.7L542.3 1094.4L545.5 1110.2ZM547 1078.7L545.5 1094.4L547 1110.2ZM545.4 1078.7L547.4 1094.4L545.4 1110.2ZM546.1 1078.7L547.7 1094.4L546.1 1110.2ZM549.6 1078.7L546.3 1094.4L549.6 1110.2ZM551.5 1078.7L548.1 1094.4L551.5 1110.2ZM549.6 1078.7L551.1 1094.4L549.6 1110.2ZM552.1 1078.7L550.4 1094.4L552.1 1110.2ZM555.2 1078.7L552.3 1094.4L555.2 1110.2ZM556.2 1078.7L553.3 1094.4L556.2 1110.2ZM557.1 1078.7L555.6 1094.4L557.1 1110.2ZM555.9 1078.7L559.3 1094.4L555.9 1110.2ZM559.5 1078.7L561.2 1094.4L559.5 1110.2ZM560.6 1078.7L562.6 1094.4L560.6 1110.2ZM564.2 1078.7L562.7 1094.4L564.2 1110.2ZM563.1 1078.7L566 1094.4L563.1 1110.2ZM565 1078.7L568.5 1094.4L565 1110.2ZM570.7 1078.7L568.1 1094.4L570.7 1110.2ZM571.1 1078.7L569.7 1094.4L571.1 1110.2ZM573.7 1078.7L570.7 1094.4L573.7 1110.2ZM573.9 1078.7L572.7 1094.4L573.9 1110.2ZM576.1 1078.7L574 1094.4L576.1 1110.2ZM577.7 1078.7L576.2 1094.4L577.7 1110.2ZM578.9 1078.7L577.3 1094.4L578.9 1110.2ZM587.3 1078.7L586 1094.4L587.3 1110.2ZM589.5 1078.7L587.1 1094.4L589.5 1110.2ZM591.8 1078.7L589.8 1094.4L591.8 1110.2ZM609.4 1078.7L606 1094.4L609.4 1110.2ZM713.9 1078.7L711 1094.4L713.9 1110.2ZM714.1 1078.7L712.3 1094.4L714.1 1110.2ZM717.4 1078.7L714.3 1094.4L717.4 1110.2ZM720.7 1078.7L717.3 1094.4L720.7 1110.2ZM721.9 1078.7L725.4 1094.4L721.9 1110.2ZM726 1078.7L723.8 1094.4L726 1110.2ZM728.1 1078.7L724.7 1094.4L728.1 1110.2ZM730.5 1078.7L727.7 1094.4L730.5 1110.2ZM732.5 1078.7L730.3 1094.4L732.5 1110.2ZM730.9 1078.7L732.6 1094.4L730.9 1110.2ZM731.5 1078.7L734.7 1094.4L731.5 1110.2ZM736.2 1078.7L733 1094.4L736.2 1110.2ZM737.3 1078.7L734.9 1094.4L737.3 1110.2ZM738 1078.7L736.7 1094.4L738 1110.2ZM739.1 1078.7L736.7 1094.4L739.1 1110.2ZM741.3 1078.7L738.2 1094.4L741.3 1110.2ZM740.8 1078.7L739.4 1094.4L740.8 1110.2ZM741 1078.7L739.7 1094.4L741 1110.2ZM742.6 1078.7L739.6 1094.4L742.6 1110.2ZM746.6 1078.7L745 1094.4L746.6 1110.2ZM746.3 1078.7L749.4 1094.4L746.3 1110.2ZM748.5 1078.7L750.4 1094.4L748.5 1110.2ZM749.9 1078.7L753.2 1094.4L749.9 1110.2ZM751.9 1078.7L753.5 1094.4L751.9 1110.2ZM753.8 1078.7L755.2 1094.4L753.8 1110.2ZM756.6 1078.7L753.4 1094.4L756.6 1110.2ZM756.5 1078.7L755.2 1094.4L756.5 1110.2ZM760 1078.7L756.7 1094.4L760 1110.2ZM762.5 1078.7L759.7 1094.4L762.5 1110.2ZM761.9 1078.7L764.6 1094.4L761.9 1110.2ZM763.2 1078.7L766.1 1094.4L763.2 1110.2ZM765 1078.7L768 1094.4L765 1110.2ZM767.9 1078.7L770.3 1094.4L767.9 1110.2ZM769.6 1078.7L771.1 1094.4L769.6 1110.2ZM769.1 1078.7L770.9 1094.4L769.1 1110.2ZM771.5 1078.7L769.1 1094.4L771.5 1110.2ZM771.6 1078.7L773.5 1094.4L771.6 1110.2ZM771.6 1078.7L773.9 1094.4L771.6 1110.2ZM772.9 1078.7L774.3 1094.4L772.9 1110.2ZM773.3 1078.7L776.4 1094.4L773.3 1110.2ZM776.2 1078.7L777.9 1094.4L776.2 1110.2ZM775.9 1078.7L777.9 1094.4L775.9 1110.2ZM777.2 1078.7L779.2 1094.4L777.2 1110.2ZM778.2 1078.7L780.6 1094.4L778.2 1110.2ZM779.9 1078.7L783.3 1094.4L779.9 1110.2ZM782.6 1078.7L784.1 1094.4L782.6 1110.2ZM784.2 1078.7L782.2 1094.4L784.2 1110.2ZM786.9 1078.7L783.6 1094.4L786.9 1110.2ZM789.8 1078.7L786.6 1094.4L789.8 1110.2ZM791.4 1078.7L788.5 1094.4L791.4 1110.2ZM793.6 1078.7L790.6 1094.4L793.6 1110.2ZM793.6 1078.7L795.8 1094.4L793.6 1110.2ZM796.3 1078.7L798 1094.4L796.3 1110.2ZM796.5 1078.7L797.9 1094.4L796.5 1110.2ZM797.4 1078.7L799.1 1094.4L797.4 1110.2ZM797.4 1078.7L798.8 1094.4L797.4 1110.2ZM797.7 1078.7L800 1094.4L797.7 1110.2ZM800.2 1078.7L798.6 1094.4L800.2 1110.2ZM799.5 1078.7L798.2 1094.4L799.5 1110.2ZM801.6 1078.7L798.7 1094.4L801.6 1110.2ZM800.3 1078.7L801.9 1094.4L800.3 1110.2ZM804.2 1078.7L801.8 1094.4L804.2 1110.2ZM804.9 1078.7L802.8 1094.4L804.9 1110.2ZM804.2 1078.7L807.3 1094.4L804.2 1110.2ZM808.2 1078.7L811 1094.4L808.2 1110.2ZM811.5 1078.7L809.8 1094.4L811.5 1110.2ZM810.2 1078.7L812 1094.4L810.2 1110.2ZM811.6 1078.7L814.9 1094.4L811.6 1110.2ZM813.5 1078.7L816.4 1094.4L813.5 1110.2ZM814.6 1078.7L817.8 1094.4L814.6 1110.2ZM817.7 1078.7L816.4 1094.4L817.7 1110.2ZM819.7 1078.7L816.3 1094.4L819.7 1110.2ZM821.8 1078.7L819.4 1094.4L821.8 1110.2ZM822.6 1078.7L820.8 1094.4L822.6 1110.2ZM823.3 1078.7L821.2 1094.4L823.3 1110.2ZM824 1078.7L822.1 1094.4L824 1110.2ZM822.5 1078.7L824.3 1094.4L822.5 1110.2ZM824.5 1078.7L826 1094.4L824.5 1110.2ZM825.8 1078.7L828.3 1094.4L825.8 1110.2ZM827.5 1078.7L828.7 1094.4L827.5 1110.2ZM828.7 1078.7L831.2 1094.4L828.7 1110.2ZM831.1 1078.7L834.2 1094.4L831.1 1110.2ZM833.2 1078.7L834.8 1094.4L833.2 1110.2ZM833.6 1078.7L835.6 1094.4L833.6 1110.2ZM839 1078.7L835.8 1094.4L839 1110.2ZM842 1078.7L839.3 1094.4L842 1110.2ZM842.6 1078.7L840.7 1094.4L842.6 1110.2ZM845.1 1078.7L842.4 1094.4L845.1 1110.2ZM847.2 1078.7L845 1094.4L847.2 1110.2ZM849.4 1078.7L847.2 1094.4L849.4 1110.2ZM850.3 1078.7L848.9 1094.4L850.3 1110.2ZM851.9 1078.7L850 1094.4L851.9 1110.2ZM850.3 1078.7L851.5 1094.4L850.3 1110.2ZM850.3 1078.7L852.7 1094.4L850.3 1110.2ZM852.4 1078.7L855.3 1094.4L852.4 1110.2ZM855.3 1078.7L857.6 1094.4L855.3 1110.2ZM855.6 1078.7L858.2 1094.4L855.6 1110.2ZM858.1 1078.7L860.1 1094.4L858.1 1110.2ZM858.4 1078.7L861.1 1094.4L858.4 1110.2ZM861.1 1078.7L863.9 1094.4L861.1 1110.2ZM865.5 1078.7L864 1094.4L865.5 1110.2ZM867.7 1078.7L864.2 1094.4L867.7 1110.2ZM870.5 1078.7L867.1 1094.4L870.5 1110.2ZM871.3 1078.7L869.2 1094.4L871.3 1110.2ZM873.1 1078.7L869.7 1094.4L873.1 1110.2ZM874.7 1078.7L871.4 1094.4L874.7 1110.2ZM879.7 1078.7L877.5 1094.4L879.7 1110.2ZM881.6 1078.7L878.2 1094.4L881.6 1110.2ZM882 1078.7L880.2 1094.4L882 1110.2ZM883.9 1078.7L881.4 1094.4L883.9 1110.2ZM885.3 1078.7L883.2 1094.4L885.3 1110.2ZM885.2 1078.7L883.5 1094.4L885.2 1110.2ZM885.8 1078.7L888.5 1094.4L885.8 1110.2ZM887.5 1078.7L889.8 1094.4L887.5 1110.2ZM892.4 1078.7L894.7 1094.4L892.4 1110.2ZM896 1078.7L893.8 1094.4L896 1110.2ZM898.4 1078.7L895.3 1094.4L898.4 1110.2ZM901.3 1078.7L898.3 1094.4L901.3 1110.2ZM903.9 1078.7L901.2 1094.4L903.9 1110.2ZM904.6 1078.7L903.2 1094.4L904.6 1110.2ZM906.6 1078.7L904.6 1094.4L906.6 1110.2ZM907.7 1078.7L906 1094.4L907.7 1110.2ZM907.4 1078.7L909.6 1094.4L907.4 1110.2ZM909.3 1078.7L911.2 1094.4L909.3 1110.2ZM911.1 1078.7L913 1094.4L911.1 1110.2ZM911.4 1078.7L914.5 1094.4L911.4 1110.2ZM916.4 1078.7L913 1094.4L916.4 1110.2ZM915.5 1078.7L917.5 1094.4L915.5 1110.2ZM916.1 1078.7L917.8 1094.4L916.1 1110.2ZM916 1078.7L919.5 1094.4L916 1110.2ZM918.1 1078.7L919.9 1094.4L918.1 1110.2ZM919.8 1078.7L922.9 1094.4L919.8 1110.2ZM922.6 1078.7L926 1094.4L922.6 1110.2ZM927.1 1078.7L929.2 1094.4L927.1 1110.2ZM929.1 1078.7L931.3 1094.4L929.1 1110.2ZM933.1 1078.7L931.3 1094.4L933.1 1110.2ZM933 1078.7L936.2 1094.4L933 1110.2ZM937.2 1078.7L935.6 1094.4L937.2 1110.2ZM939.7 1078.7L936.4 1094.4L939.7 1110.2ZM942.3 1078.7L938.9 1094.4L942.3 1110.2ZM943.3 1078.7L941.1 1094.4L943.3 1110.2ZM944.5 1078.7L941.4 1094.4L944.5 1110.2ZM944.8 1078.7L943.6 1094.4L944.8 1110.2ZM944.3 1078.7L945.5 1094.4L944.3 1110.2ZM946.4 1078.7L943.7 1094.4L946.4 1110.2ZM948.8 1078.7L946.5 1094.4L948.8 1110.2ZM954 1078.7L950.5 1094.4L954 1110.2ZM954.7 1078.7L952.5 1094.4L954.7 1110.2ZM956.1 1078.7L953.3 1094.4L956.1 1110.2ZM959.1 1078.7L956.3 1094.4L959.1 1110.2ZM960.6 1078.7L957.5 1094.4L960.6 1110.2ZM962.8 1078.7L964.1 1094.4L962.8 1110.2ZM963.8 1078.7L966.3 1094.4L963.8 1110.2ZM967.7 1078.7L965.4 1094.4L967.7 1110.2ZM970 1078.7L967.2 1094.4L970 1110.2ZM971.7 1078.7L969.4 1094.4L971.7 1110.2ZM973.7 1078.7L971.6 1094.4L973.7 1110.2ZM975.5 1078.7L972 1094.4L975.5 1110.2ZM975.7 1078.7L973.7 1094.4L975.7 1110.2ZM976.2 1078.7L974.5 1094.4L976.2 1110.2ZM977.9 1078.7L975.7 1094.4L977.9 1110.2ZM981 1078.7L977.9 1094.4L981 1110.2ZM981.9 1078.7L979.9 1094.4L981.9 1110.2ZM981.5 1078.7L983 1094.4L981.5 1110.2ZM981.1 1078.7L983.8 1094.4L981.1 1110.2ZM985.7 1078.7L982.5 1094.4L985.7 1110.2ZM987.6 1078.7L984.6 1094.4L987.6 1110.2ZM990.7 1078.7L987.5 1094.4L990.7 1110.2ZM994 1078.7L990.7 1094.4L994 1110.2ZM995.8 1078.7L993.3 1094.4L995.8 1110.2ZM995.4 1078.7L997.3 1094.4L995.4 1110.2ZM997.4 1078.7L999.8 1094.4L997.4 1110.2ZM998.4 1078.7L1000.5 1094.4L998.4 1110.2ZM1000.1 1078.7L1002.6 1094.4L1000.1 1110.2ZM1002.6 1078.7L1004.1 1094.4L1002.6 1110.2ZM1004.4 1078.7L1007.3 1094.4L1004.4 1110.2ZM1006.6 1078.7L1008.5 1094.4L1006.6 1110.2ZM1007.3 1078.7L1008.6 1094.4L1007.3 1110.2ZM1008.6 1078.7L1009.8 1094.4L1008.6 1110.2ZM1007.8 1078.7L1011.1 1094.4L1007.8 1110.2ZM1009.6 1078.7L1013 1094.4L1009.6 1110.2ZM1012.9 1078.7L1015.2 1094.4L1012.9 1110.2ZM1016.4 1078.7L1013.8 1094.4L1016.4 1110.2ZM1018.4 1078.7L1015 1094.4L1018.4 1110.2ZM1019.3 1078.7L1017.5 1094.4L1019.3 1110.2ZM1023 1078.7L1019.6 1094.4L1023 1110.2ZM1024.1 1078.7L1022.2 1094.4L1024.1 1110.2ZM1027 1078.7L1023.8 1094.4L1027 1110.2ZM1026.4 1078.7L1028.8 1094.4L1026.4 1110.2ZM1028.6 1078.7L1031.4 1094.4L1028.6 1110.2ZM1031 1078.7L1034.5 1094.4L1031 1110.2ZM1033.8 1078.7L1035.1 1094.4L1033.8 1110.2ZM1037.3 1078.7L1034.8 1094.4L1037.3 1110.2ZM1038.5 1078.7L1035.9 1094.4L1038.5 1110.2ZM1039.6 1078.7L1037.2 1094.4L1039.6 1110.2ZM1042.1 1078.7L1039.6 1094.4L1042.1 1110.2ZM1042.7 1078.7L1040.3 1094.4L1042.7 1110.2ZM1044.4 1078.7L1043 1094.4L1044.4 1110.2ZM1045.3 1078.7L1042.5 1094.4L1045.3 1110.2ZM1049.5 1078.7L1046.4 1094.4L1049.5 1110.2ZM1049.7 1078.7L1048 1094.4L1049.7 1110.2ZM1049.6 1078.7L1047.9 1094.4L1049.6 1110.2ZM1050.4 1078.7L1047.8 1094.4L1050.4 1110.2ZM1052.9 1078.7L1050.5 1094.4L1052.9 1110.2ZM1054.7 1078.7L1052.1 1094.4L1054.7 1110.2ZM1057.3 1078.7L1054.5 1094.4L1057.3 1110.2ZM1059.4 1078.7L1056.1 1094.4L1059.4 1110.2ZM1059.9 1078.7L1057.9 1094.4L1059.9 1110.2ZM1058.1 1078.7L1061.3 1094.4L1058.1 1110.2ZM1059.5 1078.7L1061.8 1094.4L1059.5 1110.2ZM1060.3 1078.7L1062.6 1094.4L1060.3 1110.2ZM1061.2 1078.7L1062.7 1094.4L1061.2 1110.2ZM1062.6 1078.7L1064.8 1094.4L1062.6 1110.2ZM1064.6 1078.7L1066.8 1094.4L1064.6 1110.2ZM1066.4 1078.7L1068 1094.4L1066.4 1110.2ZM1067.4 1078.7L1069.7 1094.4L1067.4 1110.2ZM1068.8 1078.7L1071.8 1094.4L1068.8 1110.2ZM1072.1 1078.7L1070.5 1094.4L1072.1 1110.2ZM1071.7 1078.7L1073.4 1094.4L1071.7 1110.2ZM1077.5 1078.7L1074.5 1094.4L1077.5 1110.2ZM1081 1078.7L1077.6 1094.4L1081 1110.2ZM1081.7 1078.7L1080.1 1094.4L1081.7 1110.2ZM1083.7 1078.7L1080.7 1094.4L1083.7 1110.2ZM1085 1078.7L1083.2 1094.4L1085 1110.2ZM1087.6 1078.7L1085.2 1094.4L1087.6 1110.2ZM1145.4 1078.7L1151.8 1094.4L1145.4 1110.2ZM1151.5 1078.7L1157.7 1094.4L1151.5 1110.2ZM1175.8 1078.7L1182.1 1094.4L1175.8 1110.2ZM1204 1078.7L1200.3 1094.4L1204 1110.2ZM1214.3 1078.7L1206.9 1094.4L1214.3 1110.2ZM1219.7 1078.7L1213.8 1094.4L1219.7 1110.2ZM1219.7 1078.7L1226.5 1094.4L1219.7 1110.2ZM1225.9 1078.7L1229.1 1094.4L1225.9 1110.2ZM1228.2 1078.7L1234.7 1094.4L1228.2 1110.2ZM1242.7 1078.7L1245.5 1094.4L1242.7 1110.2ZM1248.4 1078.7L1252.7 1094.4L1248.4 1110.2ZM1255.1 1078.7L1251.7 1094.4L1255.1 1110.2ZM1258.8 1078.7L1253.2 1094.4L1258.8 1110.2ZM1263 1078.7L1257.4 1094.4L1263 1110.2ZM1270.5 1078.7L1265 1094.4L1270.5 1110.2ZM1277.1 1078.7L1280.3 1094.4L1277.1 1110.2ZM1279.4 1078.7L1291 1094.4L1279.4 1110.2ZM1290.4 1078.7L1296 1094.4L1290.4 1110.2ZM1300.4 1078.7L1296.2 1094.4L1300.4 1110.2ZM1305.5 1078.7L1299.7 1094.4L1305.5 1110.2ZM1319.6 1078.7L1313.8 1094.4L1319.6 1110.2ZM1321.6 1078.7L1318 1094.4L1321.6 1110.2ZM1330.8 1078.7L1323.8 1094.4L1330.8 1110.2ZM1333.4 1078.7L1328.9 1094.4L1333.4 1110.2ZM1339 1078.7L1332.3 1094.4L1339 1110.2ZM1343.2 1078.7L1337.4 1094.4L1343.2 1110.2ZM1349.2 1078.7L1342.5 1094.4L1349.2 1110.2ZM1354.9 1078.7L1348.4 1094.4L1354.9 1110.2ZM1368.2 1078.7L1360.1 1094.4L1368.2 1110.2ZM1370.4 1078.7L1366.3 1094.4L1370.4 1110.2ZM1381.7 1078.7L1388.1 1094.4L1381.7 1110.2ZM1401 1078.7L1395.4 1094.4L1401 1110.2ZM1413.8 1078.7L1410.6 1094.4L1413.8 1110.2ZM1419.7 1078.7L1416.8 1094.4L1419.7 1110.2ZM1425.3 1078.7L1429.3 1094.4L1425.3 1110.2ZM1443.7 1078.7L1439.2 1094.4L1443.7 1110.2ZM1447.1 1078.7L1442.6 1094.4L1447.1 1110.2ZM1451.8 1078.7L1445.6 1094.4L1451.8 1110.2ZM1456.5 1078.7L1450.1 1094.4L1456.5 1110.2ZM1460.4 1078.7L1456 1094.4L1460.4 1110.2ZM1460.7 1078.7L1464.4 1094.4L1460.7 1110.2ZM1474.8 1078.7L1467.5 1094.4L1474.8 1110.2ZM1490 1078.7L1483.8 1094.4L1490 1110.2ZM1496.1 1078.7L1489.6 1094.4L1496.1 1110.2ZM1498.9 1078.7L1494.4 1094.4L1498.9 1110.2ZM1501.6 1078.7L1498.4 1094.4L1501.6 1110.2ZM1511 1078.7L1504.6 1094.4L1511 1110.2ZM1514.3 1078.7L1509.4 1094.4L1514.3 1110.2ZM1519.5 1078.7L1513.3 1094.4L1519.5 1110.2ZM1522.8 1078.7L1518.3 1094.4L1522.8 1110.2ZM1534.3 1078.7L1522.8 1094.4L1534.3 1110.2ZM1538.5 1078.7L1533.8 1094.4L1538.5 1110.2ZM1540.1 1078.7L1544.7 1094.4L1540.1 1110.2ZM1548.8 1078.7L1543.2 1094.4L1548.8 1110.2ZM1551.4 1078.7L1548.3 1094.4L1551.4 1110.2ZM1555.4 1078.7L1550.8 1094.4L1555.4 1110.2ZM1571.7 1078.7L1565.8 1094.4L1571.7 1110.2ZM1571.4 1078.7L1575.1 1094.4L1571.4 1110.2ZM1576.7 1078.7L1583.1 1094.4L1576.7 1110.2ZM1583.2 1078.7L1588.4 1094.4L1583.2 1110.2ZM1587.7 1078.7L1593.6 1094.4L1587.7 1110.2ZM1593.6 1078.7L1596.7 1094.4L1593.6 1110.2ZM1596.6 1078.7L1608.3 1094.4L1596.6 1110.2ZM1607.4 1078.7L1618.1 1094.4L1607.4 1110.2ZM1621.4 1078.7L1626.5 1094.4L1621.4 1110.2ZM1633.4 1078.7L1629.9 1094.4L1633.4 1110.2ZM1634.8 1078.7L1632.2 1094.4L1634.8 1110.2ZM1637.6 1078.7L1635 1094.4L1637.6 1110.2ZM1636.2 1078.7L1640.3 1094.4L1636.2 1110.2ZM1640.5 1078.7L1646.6 1094.4L1640.5 1110.2ZM1650.1 1078.7L1645.8 1094.4L1650.1 1110.2ZM1655.9 1078.7L1652.5 1094.4L1655.9 1110.2ZM1655.3 1078.7L1658.1 1094.4L1655.3 1110.2ZM1657.3 1078.7L1661.2 1094.4L1657.3 1110.2ZM1659.5 1078.7L1662.6 1094.4L1659.5 1110.2ZM1662.6 1078.7L1668.1 1094.4L1662.6 1110.2ZM1671.1 1078.7L1668.3 1094.4L1671.1 1110.2ZM1675 1078.7L1669.3 1094.4L1675 1110.2ZM1698 1078.7L1700 1094.4L1698 1110.2ZM1700 1078.7L1698.7 1094.4L1700 1110.2ZM1702.2 1078.7L1700 1094.4L1702.2 1110.2ZM1705.9 1078.7L1704.5 1094.4L1705.9 1110.2ZM1705.2 1078.7L1707.5 1094.4L1705.2 1110.2ZM1706.6 1078.7L1710 1094.4L1706.6 1110.2ZM1714 1078.7L1711.3 1094.4L1714 1110.2ZM1714.1 1078.7L1712.1 1094.4L1714.1 1110.2ZM1726.5 1078.7L1724.4 1094.4L1726.5 1110.2ZM1728.2 1078.7L1725.9 1094.4L1728.2 1110.2ZM1728.6 1078.7L1726.9 1094.4L1728.6 1110.2ZM1733.1 1078.7L1730.2 1094.4L1733.1 1110.2ZM1733.5 1078.7L1731.7 1094.4L1733.5 1110.2ZM1753.2 1078.7L1756 1094.4L1753.2 1110.2ZM1762.3 1078.7L1760.9 1094.4L1762.3 1110.2ZM1765.2 1078.7L1762.4 1094.4L1765.2 1110.2ZM1765.9 1078.7L1764.3 1094.4L1765.9 1110.2ZM1767.6 1078.7L1766 1094.4L1767.6 1110.2ZM1769.9 1078.7L1772.7 1094.4L1769.9 1110.2ZM1772.5 1078.7L1773.9 1094.4L1772.5 1110.2ZM1772.8 1078.7L1774.9 1094.4L1772.8 1110.2ZM1774.7 1078.7L1777.2 1094.4L1774.7 1110.2ZM1781.4 1078.7L1778.6 1094.4L1781.4 1110.2ZM1780.7 1078.7L1783.3 1094.4L1780.7 1110.2ZM1783.5 1078.7L1784.8 1094.4L1783.5 1110.2ZM1786.5 1078.7L1783.5 1094.4L1786.5 1110.2ZM1787.9 1078.7L1790.2 1094.4L1787.9 1110.2ZM1792.6 1078.7L1789.8 1094.4L1792.6 1110.2ZM1807.1 1078.7L1805.8 1094.4L1807.1 1110.2ZM1808.4 1078.7L1806.1 1094.4L1808.4 1110.2ZM1808.1 1078.7L1810.7 1094.4L1808.1 1110.2ZM1811.6 1078.7L1814.6 1094.4L1811.6 1110.2ZM1816.2 1078.7L1819 1094.4L1816.2 1110.2ZM1819.3 1078.7L1820.5 1094.4L1819.3 1110.2ZM1822.6 1078.7L1826 1094.4L1822.6 1110.2ZM1824.4 1078.7L1825.8 1094.4L1824.4 1110.2ZM1832.3 1078.7L1835.2 1094.4L1832.3 1110.2ZM1839.8 1078.7L1841.1 1094.4L1839.8 1110.2ZM1843.8 1078.7L1846.8 1094.4L1843.8 1110.2ZM1849.8 1078.7L1848.2 1094.4L1849.8 1110.2ZM1849.5 1078.7L1848.2 1094.4L1849.5 1110.2ZM1853 1078.7L1849.7 1094.4L1853 1110.2ZM1855.3 1078.7L1853.9 1094.4L1855.3 1110.2ZM1863.2 1078.7L1859.8 1094.4L1863.2 1110.2ZM1861.9 1078.7L1863.9 1094.4L1861.9 1110.2ZM1869.9 1078.7L1867.3 1094.4L1869.9 1110.2ZM1870.5 1078.7L1868.7 1094.4L1870.5 1110.2ZM1880.6 1078.7L1878.8 1094.4L1880.6 1110.2ZM1884.9 1078.7L1883.4 1094.4L1884.9 1110.2ZM1893.6 1078.7L1895.1 1094.4L1893.6 1110.2ZM1894.8 1078.7L1896.5 1094.4L1894.8 1110.2ZM1895.2 1078.7L1898.3 1094.4L1895.2 1110.2ZM1899.3 1078.7L1900.8 1094.4L1899.3 1110.2ZM1899.4 1078.7L1902.8 1094.4L1899.4 1110.2ZM1901.2 1078.7L1903.2 1094.4L1901.2 1110.2ZM1903.3 1078.7L1904.5 1094.4L1903.3 1110.2ZM1903.6 1078.7L1905 1094.4L1903.6 1110.2ZM1903.9 1078.7L1905.8 1094.4L1903.9 1110.2ZM1915.2 1078.7L1913.1 1094.4L1915.2 1110.2ZM1918.7 1078.7L1915.6 1094.4L1918.7 1110.2ZM1918 1078.7L1920.3 1094.4L1918 1110.2ZM1919.6 1078.7L1921.4 1094.4L1919.6 1110.2ZM1924.7 1078.7L1921.7 1094.4L1924.7 1110.2ZM1926.2 1078.7L1922.8 1094.4L1926.2 1110.2ZM1926.6 1078.7L1928.4 1094.4L1926.6 1110.2ZM1927.4 1078.7L1929.9 1094.4L1927.4 1110.2ZM1929.3 1078.7L1932.7 1094.4L1929.3 1110.2ZM1935.2 1078.7L1932.9 1094.4L1935.2 1110.2ZM1941.2 1078.7L1942.4 1094.4L1941.2 1110.2ZM1941.7 1078.7L1943.6 1094.4L1941.7 1110.2ZM1943.4 1078.7L1942.2 1094.4L1943.4 1110.2ZM1943.8 1078.7L1945.7 1094.4L1943.8 1110.2ZM1950.9 1078.7L1947.9 1094.4L1950.9 1110.2ZM1952.1 1078.7L1950.7 1094.4L1952.1 1110.2ZM1952 1078.7L1953.7 1094.4L1952 1110.2ZM1951.4 1078.7L1953.1 1094.4L1951.4 1110.2ZM1957 1078.7L1955.1 1094.4L1957 1110.2Z" fill="#d3d4d6"/>
<path d="M158.5 1078.7L170.7 1094.4L158.5 1110.2ZM170.7 1078.7L183.6 1094.4L170.7 1110.2ZM183.6 1078.7L195.3 1094.4L183.6 1110.2ZM201 1078.7H213.9L227.1 1094.4L213.9 1110.2H201ZM227.1 1078.7H250.2L263.4 1094.4L250.2 1110.2H227.1ZM279 1078.7L274.2 1094.4L279 1110.2ZM289.7 1078.7L278.5 1094.4L289.7 1110.2ZM290 1078.7L295.4 1094.4L290 1110.2ZM295 1078.7L304.1 1094.4L295 1110.2ZM318.2 1078.7L315.5 1094.4L318.2 1110.2ZM325.6 1078.7L328.3 1094.4L325.6 1110.2ZM329.5 1078.7L331 1094.4L329.5 1110.2ZM329.7 1078.7L331 1094.4L329.7 1110.2ZM329.8 1078.7L331 1094.4L329.8 1110.2ZM386.3 1078.7L384.1 1094.4L386.3 1110.2ZM391 1078.7L394 1094.4L391 1110.2ZM425.6 1078.7L423.9 1094.4L425.6 1110.2ZM433.6 1078.7L437.2 1094.4L433.6 1110.2ZM439 1078.7L444.2 1094.4L439 1110.2ZM452.2 1078.7L447.1 1094.4L452.2 1110.2ZM490.9 1078.7L488 1094.4L490.9 1110.2ZM517.9 1078.7L520.4 1094.4L517.9 1110.2ZM522.1 1078.7L524.3 1094.4L522.1 1110.2ZM556.8 1078.7L554.4 1094.4L556.8 1110.2ZM562.1 1078.7L564 1094.4L562.1 1110.2ZM574.1 1078.7L572.8 1094.4L574.1 1110.2ZM716.2 1078.7L713.7 1094.4L716.2 1110.2ZM719.6 1078.7L723 1094.4L719.6 1110.2ZM743.8 1078.7L742.4 1094.4L743.8 1110.2ZM745.8 1078.7L743.2 1094.4L745.8 1110.2ZM761.6 1078.7L758.6 1094.4L761.6 1110.2ZM794.3 1078.7L796.3 1094.4L794.3 1110.2ZM807.6 1078.7L809.1 1094.4L807.6 1110.2ZM856.7 1078.7L853.8 1094.4L856.7 1110.2ZM867.6 1078.7L866 1094.4L867.6 1110.2ZM877.7 1078.7L874.3 1094.4L877.7 1110.2ZM887.3 1078.7L883.9 1094.4L887.3 1110.2ZM889.4 1078.7L892.2 1094.4L889.4 1110.2ZM924.5 1078.7L927.1 1094.4L924.5 1110.2ZM950.9 1078.7L948.1 1094.4L950.9 1110.2ZM960.8 1078.7L962.6 1094.4L960.8 1110.2ZM976.5 1078.7L974.6 1094.4L976.5 1110.2ZM979.4 1078.7L977.7 1094.4L979.4 1110.2ZM1004.3 1078.7L1006.3 1094.4L1004.3 1110.2ZM1046.8 1078.7L1044.5 1094.4L1046.8 1110.2ZM1074.4 1078.7L1071.4 1094.4L1074.4 1110.2ZM1088.5 1078.7L1087.3 1094.4L1088.5 1110.2ZM1089 1078.7L1099 1094.4L1089 1110.2ZM1099 1078.7L1108 1094.4L1099 1110.2ZM1113 1078.7L1108 1094.4L1113 1110.2ZM1113 1078.7L1121.4 1094.4L1113 1110.2ZM1132.1 1078.7L1122 1094.4L1132.1 1110.2ZM1140.9 1078.7L1132.2 1094.4L1140.9 1110.2ZM1145.5 1078.7L1140.4 1094.4L1145.5 1110.2ZM1156.9 1078.7L1165.4 1094.4L1156.9 1110.2ZM1163.5 1078.7L1175 1094.4L1163.5 1110.2ZM1173.3 1078.7L1176.8 1094.4L1173.3 1110.2ZM1188.8 1078.7L1182.4 1094.4L1188.8 1110.2ZM1192.1 1078.7L1188.6 1094.4L1192.1 1110.2ZM1197.4 1078.7L1190.6 1094.4L1197.4 1110.2ZM1201.2 1078.7L1197.2 1094.4L1201.2 1110.2ZM1207.5 1078.7L1203.9 1094.4L1207.5 1110.2ZM1234.8 1078.7L1243.9 1094.4L1234.8 1110.2ZM1244 1078.7L1248.3 1094.4L1244 1110.2ZM1266 1078.7L1261.5 1094.4L1266 1110.2ZM1275.2 1078.7L1269.6 1094.4L1275.2 1110.2ZM1277.3 1078.7L1274.8 1094.4L1277.3 1110.2ZM1289.4 1078.7L1292.2 1094.4L1289.4 1110.2ZM1308.6 1078.7L1304.8 1094.4L1308.6 1110.2ZM1313.9 1078.7L1307.8 1094.4L1313.9 1110.2ZM1324.6 1078.7L1319.8 1094.4L1324.6 1110.2ZM1358.9 1078.7L1352.9 1094.4L1358.9 1110.2ZM1361.2 1078.7L1358.6 1094.4L1361.2 1110.2ZM1369.4 1078.7L1374.5 1094.4L1369.4 1110.2ZM1372.9 1078.7L1378 1094.4L1372.9 1110.2ZM1377.6 1078.7L1382.8 1094.4L1377.6 1110.2ZM1388.4 1078.7L1394.3 1094.4L1388.4 1110.2ZM1392.4 1078.7L1396.9 1094.4L1392.4 1110.2ZM1404.8 1078.7L1401 1094.4L1404.8 1110.2ZM1410.7 1078.7L1403.7 1094.4L1410.7 1110.2ZM1417.2 1078.7L1412.7 1094.4L1417.2 1110.2ZM1425.2 1078.7L1418.9 1094.4L1425.2 1110.2ZM1428.9 1078.7L1433.8 1094.4L1428.9 1110.2ZM1433.8 1078.7L1440.4 1094.4L1433.8 1110.2ZM1463.5 1078.7L1466.6 1094.4L1463.5 1110.2ZM1466.2 1078.7L1468.9 1094.4L1466.2 1110.2ZM1478.9 1078.7L1474.6 1094.4L1478.9 1110.2ZM1485 1078.7L1479.2 1094.4L1485 1110.2ZM1491.5 1078.7L1488.6 1094.4L1491.5 1110.2ZM1506.1 1078.7L1500.7 1094.4L1506.1 1110.2ZM1515.2 1078.7L1512.6 1094.4L1515.2 1110.2ZM1537.6 1078.7L1540.5 1094.4L1537.6 1110.2ZM1554.1 1078.7L1560 1094.4L1554.1 1110.2ZM1558.4 1078.7L1560 1094.4L1558.4 1110.2ZM1566.1 1078.7L1560 1094.4L1566.1 1110.2ZM1573.3 1078.7L1577.3 1094.4L1573.3 1110.2ZM1618.4 1078.7L1622.2 1094.4L1618.4 1110.2ZM1624.6 1078.7L1629.7 1094.4L1624.6 1110.2ZM1648.5 1078.7L1652.9 1094.4L1648.5 1110.2ZM1679.4 1078.7L1674.7 1094.4L1679.4 1110.2ZM1677.9 1078.7L1684.6 1094.4L1677.9 1110.2ZM1684.9 1078.7H1686.3L1699.6 1094.4L1686.3 1110.2H1684.9ZM1704.8 1078.7L1701.6 1094.4L1704.8 1110.2ZM1705.8 1078.7L1703 1094.4L1705.8 1110.2ZM1711.2 1078.7L1709.2 1094.4L1711.2 1110.2ZM1716.9 1078.7L1713.8 1094.4L1716.9 1110.2ZM1717.4 1078.7L1715.5 1094.4L1717.4 1110.2ZM1719.2 1078.7L1717.3 1094.4L1719.2 1110.2ZM1720.1 1078.7L1717.3 1094.4L1720.1 1110.2ZM1719.6 1078.7L1722.4 1094.4L1719.6 1110.2ZM1721.7 1078.7L1723.2 1094.4L1721.7 1110.2ZM1724.4 1078.7L1722.7 1094.4L1724.4 1110.2ZM1728.6 1078.7L1731.7 1094.4L1728.6 1110.2ZM1731.9 1078.7L1729.7 1094.4L1731.9 1110.2ZM1735.7 1078.7L1733.5 1094.4L1735.7 1110.2ZM1735.7 1078.7L1737.6 1094.4L1735.7 1110.2ZM1736.3 1078.7L1737.6 1094.4L1736.3 1110.2ZM1739 1078.7L1735.7 1094.4L1739 1110.2ZM1741 1078.7L1737.7 1094.4L1741 1110.2ZM1740.9 1078.7L1743.4 1094.4L1740.9 1110.2ZM1743.3 1078.7L1746.1 1094.4L1743.3 1110.2ZM1745.7 1078.7L1748.6 1094.4L1745.7 1110.2ZM1748.6 1078.7L1749.9 1094.4L1748.6 1110.2ZM1750.1 1078.7L1753.2 1094.4L1750.1 1110.2ZM1755.5 1078.7L1757.5 1094.4L1755.5 1110.2ZM1755.6 1078.7L1758.8 1094.4L1755.6 1110.2ZM1757.6 1078.7L1759.9 1094.4L1757.6 1110.2ZM1760.1 1078.7L1761.4 1094.4L1760.1 1110.2ZM1767.8 1078.7L1770.5 1094.4L1767.8 1110.2ZM1780.2 1078.7L1777.5 1094.4L1780.2 1110.2ZM1781 1078.7L1782.6 1094.4L1781 1110.2ZM1786.2 1078.7L1788.8 1094.4L1786.2 1110.2ZM1792.4 1078.7L1795.5 1094.4L1792.4 1110.2ZM1794.6 1078.7L1796 1094.4L1794.6 1110.2ZM1799.3 1078.7L1796.2 1094.4L1799.3 1110.2ZM1799.4 1078.7L1797.7 1094.4L1799.4 1110.2ZM1801.9 1078.7L1798.8 1094.4L1801.9 1110.2ZM1801.8 1078.7L1800.6 1094.4L1801.8 1110.2ZM1804.4 1078.7L1801 1094.4L1804.4 1110.2ZM1806.9 1078.7L1804.3 1094.4L1806.9 1110.2ZM1808.4 1078.7L1806.5 1094.4L1808.4 1110.2ZM1809.7 1078.7L1811.3 1094.4L1809.7 1110.2ZM1809.7 1078.7L1811.3 1094.4L1809.7 1110.2ZM1813.4 1078.7L1814.6 1094.4L1813.4 1110.2ZM1814.8 1078.7L1816.8 1094.4L1814.8 1110.2ZM1819.3 1078.7L1822.5 1094.4L1819.3 1110.2ZM1824.8 1078.7L1827.9 1094.4L1824.8 1110.2ZM1826.5 1078.7L1828.1 1094.4L1826.5 1110.2ZM1828.1 1078.7L1831.1 1094.4L1828.1 1110.2ZM1831 1078.7L1832.8 1094.4L1831 1110.2ZM1835.3 1078.7L1837.9 1094.4L1835.3 1110.2ZM1836 1078.7L1839.5 1094.4L1836 1110.2ZM1840.5 1078.7L1843 1094.4L1840.5 1110.2ZM1841.8 1078.7L1845 1094.4L1841.8 1110.2ZM1847 1078.7L1848.6 1094.4L1847 1110.2ZM1850.1 1078.7L1847.8 1094.4L1850.1 1110.2ZM1853.9 1078.7L1851.4 1094.4L1853.9 1110.2ZM1858.1 1078.7L1854.7 1094.4L1858.1 1110.2ZM1859.8 1078.7L1857 1094.4L1859.8 1110.2ZM1863.4 1078.7L1861.4 1094.4L1863.4 1110.2ZM1865.7 1078.7L1863.2 1094.4L1865.7 1110.2ZM1868.9 1078.7L1865.7 1094.4L1868.9 1110.2ZM1870.6 1078.7L1872.2 1094.4L1870.6 1110.2ZM1871.4 1078.7L1874 1094.4L1871.4 1110.2ZM1873.3 1078.7L1876.6 1094.4L1873.3 1110.2ZM1875.7 1078.7L1878.4 1094.4L1875.7 1110.2ZM1877.4 1078.7L1880 1094.4L1877.4 1110.2ZM1882.7 1078.7L1880 1094.4L1882.7 1110.2ZM1885.1 1078.7L1882.3 1094.4L1885.1 1110.2ZM1883 1078.7L1884.5 1094.4L1883 1110.2ZM1884.7 1078.7L1887.8 1094.4L1884.7 1110.2ZM1887.8 1078.7L1889.7 1094.4L1887.8 1110.2ZM1888.9 1078.7L1890.4 1094.4L1888.9 1110.2ZM1890.1 1078.7L1892.5 1094.4L1890.1 1110.2ZM1894 1078.7L1892 1094.4L1894 1110.2ZM1895.3 1078.7L1896.7 1094.4L1895.3 1110.2ZM1897.9 1078.7L1901 1094.4L1897.9 1110.2ZM1902.6 1078.7L1904.7 1094.4L1902.6 1110.2ZM1903.1 1078.7L1904.6 1094.4L1903.1 1110.2ZM1905.6 1078.7L1908.3 1094.4L1905.6 1110.2ZM1909.1 1078.7L1906.9 1094.4L1909.1 1110.2ZM1908.6 1078.7L1907.2 1094.4L1908.6 1110.2ZM1909 1078.7L1907.2 1094.4L1909 1110.2ZM1910.2 1078.7L1908.8 1094.4L1910.2 1110.2ZM1910.2 1078.7L1908.7 1094.4L1910.2 1110.2ZM1912 1078.7L1908.6 1094.4L1912 1110.2ZM1913.5 1078.7L1911.1 1094.4L1913.5 1110.2ZM1916.2 1078.7L1914.9 1094.4L1916.2 1110.2ZM1918.7 1078.7L1921.3 1094.4L1918.7 1110.2ZM1926.5 1078.7L1924.8 1094.4L1926.5 1110.2ZM1934.8 1078.7L1936.9 1094.4L1934.8 1110.2ZM1935.8 1078.7L1938.6 1094.4L1935.8 1110.2ZM1937 1078.7L1939.9 1094.4L1937 1110.2ZM1938.2 1078.7L1939.8 1094.4L1938.2 1110.2ZM1941.2 1078.7L1939 1094.4L1941.2 1110.2ZM1942.3 1078.7L1940.4 1094.4L1942.3 1110.2ZM1942.1 1078.7L1943.9 1094.4L1942.1 1110.2ZM1944.7 1078.7L1942.3 1094.4L1944.7 1110.2ZM1948.9 1078.7L1945.4 1094.4L1948.9 1110.2ZM1952.5 1078.7L1950.4 1094.4L1952.5 1110.2ZM1950.6 1078.7L1952.5 1094.4L1950.6 1110.2ZM1952.3 1078.7L1953.6 1094.4L1952.3 1110.2ZM1951.9 1078.7L1953.2 1094.4L1951.9 1110.2ZM1954.1 1078.7L1951.7 1094.4L1954.1 1110.2ZM1956.5 1078.7L1953.6 1094.4L1956.5 1110.2Z" fill="#0b56a3"/>
<path d="M204 1152.8L210 1168.6L204 1184.3ZM262.9 1152.8L259.2 1168.6L262.9 1184.3ZM290 1152.8L295.7 1168.6L290 1184.3ZM308.8 1152.8L300.1 1168.6L308.8 1184.3ZM312 1152.8L308 1168.6L312 1184.3ZM318.1 1152.8L321.1 1168.6L318.1 1184.3ZM365 1152.8L354.8 1168.6L365 1184.3ZM379.9 1152.8L383.8 1168.6L379.9 1184.3ZM434.4 1152.8L427.8 1168.6L434.4 1184.3ZM537.2 1152.8L530.8 1168.6L537.2 1184.3ZM544.3 1152.8L539.2 1168.6L544.3 1184.3ZM545.8 1152.8L542.5 1168.6L545.8 1184.3ZM550.9 1152.8L546 1168.6L550.9 1184.3ZM555.2 1152.8L550.3 1168.6L555.2 1184.3ZM567.1 1152.8L563.4 1168.6L567.1 1184.3ZM569.9 1152.8L566 1168.6L569.9 1184.3ZM598.2 1152.8L604.4 1168.6L598.2 1184.3ZM616 1152.8L620.1 1168.6L616 1184.3ZM665.2 1152.8L659.9 1168.6L665.2 1184.3ZM668.1 1152.8L672.2 1168.6L668.1 1184.3ZM679.3 1152.8L686.2 1168.6L679.3 1184.3ZM689.2 1152.8L694 1168.6L689.2 1184.3ZM714.1 1152.8H716.8L730 1168.6L716.8 1184.3H714.1ZM756.8 1152.8L760.8 1168.6L756.8 1184.3ZM794.6 1152.8L799.4 1168.6L794.6 1184.3ZM819 1152.8L823.5 1168.6L819 1184.3ZM858.6 1152.8L854.9 1168.6L858.6 1184.3ZM869.9 1152.8H870.3L883.6 1168.6L870.3 1184.3H869.9ZM889 1152.8L882.9 1168.6L889 1184.3ZM944.2 1152.8L949.7 1168.6L944.2 1184.3ZM979.8 1152.8L968.6 1168.6L979.8 1184.3ZM981.5 1152.8L978.8 1168.6L981.5 1184.3ZM985.5 1152.8L979.7 1168.6L985.5 1184.3ZM992 1152.8L985.3 1168.6L992 1184.3ZM1019.1 1152.8L1029.5 1168.6L1019.1 1184.3ZM1061.9 1152.8L1057 1168.6L1061.9 1184.3ZM1104.2 1152.8L1100.9 1168.6L1104.2 1184.3ZM1121.3 1152.8L1118.6 1168.6L1121.3 1184.3ZM1139.4 1152.8L1133 1168.6L1139.4 1184.3ZM1156 1152.8L1150.7 1168.6L1156 1184.3ZM1204.1 1152.8L1201 1168.6L1204.1 1184.3ZM1209.7 1152.8L1204 1168.6L1209.7 1184.3ZM1213.5 1152.8L1209.6 1168.6L1213.5 1184.3ZM1221.4 1152.8L1217.8 1168.6L1221.4 1184.3ZM1220.3 1152.8L1224.8 1168.6L1220.3 1184.3ZM1235.6 1152.8L1242.1 1168.6L1235.6 1184.3ZM1243.8 1152.8L1248.8 1168.6L1243.8 1184.3ZM1251 1152.8L1254.1 1168.6L1251 1184.3ZM1253.4 1152.8L1258 1168.6L1253.4 1184.3ZM1271.7 1152.8L1267.5 1168.6L1271.7 1184.3ZM1280.6 1152.8L1271.8 1168.6L1280.6 1184.3ZM1292.4 1152.8L1299.1 1168.6L1292.4 1184.3ZM1325.6 1152.8L1331.8 1168.6L1325.6 1184.3ZM1352.8 1152.8L1356.5 1168.6L1352.8 1184.3ZM1383.4 1152.8L1388.9 1168.6L1383.4 1184.3ZM1412.3 1152.8L1417.1 1168.6L1412.3 1184.3ZM1420.3 1152.8L1425.2 1168.6L1420.3 1184.3ZM1438.6 1152.8L1434.8 1168.6L1438.6 1184.3ZM1449 1152.8L1450 1168.6L1449 1184.3ZM1564.9 1152.8L1559.2 1168.6L1564.9 1184.3ZM1579.3 1152.8H1577.1L1563.8 1168.6L1577.1 1184.3H1579.3ZM1610.2 1152.8L1608 1168.6L1610.2 1184.3ZM1611.8 1152.8L1614.6 1168.6L1611.8 1184.3ZM1628.6 1152.8L1630.4 1168.6L1628.6 1184.3ZM1673 1152.8L1679.5 1168.6L1673 1184.3ZM1679 1152.8L1684.3 1168.6L1679 1184.3ZM1683.4 1152.8L1686.2 1168.6L1683.4 1184.3ZM1691 1152.8L1686.8 1168.6L1691 1184.3ZM1741.3 1152.8L1748.3 1168.6L1741.3 1184.3ZM1747.2 1152.8L1752.3 1168.6L1747.2 1184.3ZM1761.8 1152.8L1766.4 1168.6L1761.8 1184.3ZM1791.6 1152.8L1796.9 1168.6L1791.6 1184.3ZM1799.2 1152.8L1795.6 1168.6L1799.2 1184.3ZM1806.3 1152.8L1800 1168.6L1806.3 1184.3ZM1810.3 1152.8L1804.6 1168.6L1810.3 1184.3ZM1811.6 1152.8L1808.4 1168.6L1811.6 1184.3ZM1813.8 1152.8L1810.5 1168.6L1813.8 1184.3ZM1817.3 1152.8L1812.8 1168.6L1817.3 1184.3ZM1821.4 1152.8L1817 1168.6L1821.4 1184.3ZM1820.8 1152.8L1827 1168.6L1820.8 1184.3ZM1825.2 1152.8L1830 1168.6L1825.2 1184.3ZM1828.3 1152.8L1830 1168.6L1828.3 1184.3ZM1850.7 1152.8L1857 1168.6L1850.7 1184.3ZM1870.6 1152.8L1876.7 1168.6L1870.6 1184.3ZM1897.8 1152.8L1891.3 1168.6L1897.8 1184.3ZM1927.7 1152.8L1936.4 1168.6L1927.7 1184.3ZM1938.9 1152.8L1935.2 1168.6L1938.9 1184.3Z" fill="#d3d4d6"/>
<path d="M165.4 1152.8L158.5 1168.6L165.4 1184.3ZM170.4 1152.8L165.5 1168.6L170.4 1184.3ZM173.8 1152.8L170.2 1168.6L173.8 1184.3ZM177.5 1152.8L173.2 1168.6L177.5 1184.3ZM181.1 1152.8L177.3 1168.6L181.1 1184.3ZM185 1152.8L179.9 1168.6L185 1184.3ZM190.4 1152.8L184.9 1168.6L190.4 1184.3ZM197.6 1152.8L190.7 1168.6L197.6 1184.3ZM197.4 1152.8L203 1168.6L197.4 1184.3ZM201.8 1152.8L204 1168.6L201.8 1184.3ZM210 1152.8L221.2 1168.6L210 1184.3ZM221.1 1152.8L224.4 1168.6L221.1 1184.3ZM228.1 1152.8L224.6 1168.6L228.1 1184.3ZM226.3 1152.8L229.3 1168.6L226.3 1184.3ZM228.8 1152.8L235.1 1168.6L228.8 1184.3ZM234.8 1152.8L238.4 1168.6L234.8 1184.3ZM244.8 1152.8L237.9 1168.6L244.8 1184.3ZM248.4 1152.8L244.1 1168.6L248.4 1184.3ZM251.3 1152.8L247.2 1168.6L251.3 1184.3ZM254.1 1152.8L250.2 1168.6L254.1 1184.3ZM256.3 1152.8L253.1 1168.6L256.3 1184.3ZM259.1 1152.8L255.5 1168.6L259.1 1184.3ZM274.5 1152.8L262.5 1168.6L274.5 1184.3ZM276.2 1152.8L272.6 1168.6L276.2 1184.3ZM279.4 1152.8L275.4 1168.6L279.4 1184.3ZM277.4 1152.8L282.8 1168.6L277.4 1184.3ZM281.4 1152.8L285.7 1168.6L281.4 1184.3ZM283.8 1152.8L290 1168.6L283.8 1184.3ZM288.7 1152.8L290 1168.6L288.7 1184.3ZM301.6 1152.8L295 1168.6L301.6 1184.3ZM312 1152.8L310.3 1168.6L312 1184.3ZM317.9 1152.8L312 1168.6L317.9 1184.3ZM324.5 1152.8L320.1 1168.6L324.5 1184.3ZM327.5 1152.8L323.1 1168.6L327.5 1184.3ZM329.2 1152.8L325.5 1168.6L329.2 1184.3ZM330.1 1152.8L327.3 1168.6L330.1 1184.3ZM333.9 1152.8L328.4 1168.6L333.9 1184.3ZM340.5 1152.8L332.2 1168.6L340.5 1184.3ZM340.8 1152.8L346.9 1168.6L340.8 1184.3ZM351.4 1152.8L346 1168.6L351.4 1184.3ZM354.8 1152.8L350.8 1168.6L354.8 1184.3ZM367.6 1152.8L365 1168.6L367.6 1184.3ZM370.1 1152.8L367 1168.6L370.1 1184.3ZM369.2 1152.8L380.3 1168.6L369.2 1184.3ZM383.5 1152.8L389 1168.6L383.5 1184.3ZM387.2 1152.8L393 1168.6L387.2 1184.3ZM393 1152.8L391.8 1168.6L393 1184.3ZM416.6 1152.8H406.5L393.3 1168.6L406.5 1184.3H416.6ZM422.8 1152.8L417 1168.6L422.8 1184.3ZM428.7 1152.8L421.4 1168.6L428.7 1184.3ZM440 1152.8L433.6 1168.6L440 1184.3ZM438.9 1152.8L441.5 1168.6L438.9 1184.3ZM445.2 1152.8L441.5 1168.6L445.2 1184.3ZM450.7 1152.8L444.1 1168.6L450.7 1184.3ZM453.7 1152.8L450.1 1168.6L453.7 1184.3ZM459.5 1152.8L453.1 1168.6L459.5 1184.3ZM465.4 1152.8L458.3 1168.6L465.4 1184.3ZM470.5 1152.8L463.7 1168.6L470.5 1184.3ZM471.6 1152.8L469.1 1168.6L471.6 1184.3ZM476.2 1152.8L471.2 1168.6L476.2 1184.3ZM478 1152.8L476.4 1168.6L478 1184.3ZM478 1152.8L482.7 1168.6L478 1184.3ZM481.9 1152.8L486 1168.6L481.9 1184.3ZM485.5 1152.8L489.3 1168.6L485.5 1184.3ZM488.2 1152.8L491.9 1168.6L488.2 1184.3ZM491.9 1152.8L497.2 1168.6L491.9 1184.3ZM497 1152.8L502.3 1168.6L497 1184.3ZM501.7 1152.8L508.3 1168.6L501.7 1184.3ZM508.4 1152.8L512.9 1168.6L508.4 1184.3ZM512.3 1152.8L520.9 1168.6L512.3 1184.3ZM520 1152.8L523.3 1168.6L520 1184.3ZM523.4 1152.8L527.8 1168.6L523.4 1184.3ZM526.5 1152.8L532.1 1168.6L526.5 1184.3ZM539.7 1152.8L536.8 1168.6L539.7 1184.3ZM559.2 1152.8L553.6 1168.6L559.2 1184.3ZM564.2 1152.8L559.5 1168.6L564.2 1184.3ZM568.4 1152.8L572 1168.6L568.4 1184.3ZM571.2 1152.8L576.4 1168.6L571.2 1184.3ZM574.7 1152.8L577.7 1168.6L574.7 1184.3ZM577.6 1152.8L583.7 1168.6L577.6 1184.3ZM583.9 1152.8L587.8 1168.6L583.9 1184.3ZM591.8 1152.8L586.8 1168.6L591.8 1184.3ZM592 1152.8L598.6 1168.6L592 1184.3ZM602.8 1152.8L607.5 1168.6L602.8 1184.3ZM605.9 1152.8L610 1168.6L605.9 1184.3ZM610 1152.8L615.9 1168.6L610 1184.3ZM619.2 1152.8L626.1 1168.6L619.2 1184.3ZM625.6 1152.8L631.2 1168.6L625.6 1184.3ZM630.2 1152.8L632.9 1168.6L630.2 1184.3ZM632.5 1152.8L636.1 1168.6L632.5 1184.3ZM636.3 1152.8L639.7 1168.6L636.3 1184.3ZM638 1152.8L642.4 1168.6L638 1184.3ZM640.9 1152.8L646.9 1168.6L640.9 1184.3ZM661 1152.8H658.4L645.2 1168.6L658.4 1184.3H661ZM669.8 1152.8L665.4 1168.6L669.8 1184.3ZM670.9 1152.8L674.2 1168.6L670.9 1184.3ZM673.4 1152.8L676.5 1168.6L673.4 1184.3ZM674.7 1152.8L680.3 1168.6L674.7 1184.3ZM686.2 1152.8L690.6 1168.6L686.2 1184.3ZM693.5 1152.8L699.9 1168.6L693.5 1184.3ZM699.2 1152.8L709.3 1168.6L699.2 1184.3ZM715 1152.8L709.1 1168.6L715 1184.3ZM728.5 1152.8L731.7 1168.6L728.5 1184.3ZM731.9 1152.8L736.3 1168.6L731.9 1184.3ZM742.1 1152.8L736.5 1168.6L742.1 1184.3ZM744.9 1152.8L741.2 1168.6L744.9 1184.3ZM748.4 1152.8L744.8 1168.6L748.4 1184.3ZM755.6 1152.8L748.7 1168.6L755.6 1184.3ZM758 1152.8L755.1 1168.6L758 1184.3ZM760 1152.8L764.5 1168.6L760 1184.3ZM773 1152.8L763.3 1168.6L773 1184.3ZM776 1152.8L772.8 1168.6L776 1184.3ZM775.9 1152.8L779.5 1168.6L775.9 1184.3ZM777.6 1152.8L783.4 1168.6L777.6 1184.3ZM781.7 1152.8L792.9 1168.6L781.7 1184.3ZM792.9 1152.8L796.2 1168.6L792.9 1184.3ZM814.4 1152.8H812.8L799.5 1168.6L812.8 1184.3H814.4ZM821 1152.8L814.5 1168.6L821 1184.3ZM823.4 1152.8L827.8 1168.6L823.4 1184.3ZM827 1152.8L833.1 1168.6L827 1184.3ZM833.1 1152.8L838 1168.6L833.1 1184.3ZM836.4 1152.8L844.8 1168.6L836.4 1184.3ZM843.6 1152.8L846.8 1168.6L843.6 1184.3ZM847.1 1152.8L849.7 1168.6L847.1 1184.3ZM848.2 1152.8L854.4 1168.6L848.2 1184.3ZM855.5 1152.8L852.5 1168.6L855.5 1184.3ZM860.4 1152.8L857.3 1168.6L860.4 1184.3ZM860.5 1152.8L869.9 1168.6L860.5 1184.3ZM888.7 1152.8L898.4 1168.6L888.7 1184.3ZM896.4 1152.8L901.8 1168.6L896.4 1184.3ZM901.9 1152.8L906.4 1168.6L901.9 1184.3ZM905 1152.8L910.2 1168.6L905 1184.3ZM909.2 1152.8L914.5 1168.6L909.2 1184.3ZM917.3 1152.8L913.7 1168.6L917.3 1184.3ZM927.3 1152.8L915.5 1168.6L927.3 1184.3ZM930.2 1152.8L926.3 1168.6L930.2 1184.3ZM929.8 1152.8L935.2 1168.6L929.8 1184.3ZM933.6 1152.8L938.5 1168.6L933.6 1184.3ZM936.6 1152.8L942.1 1168.6L936.6 1184.3ZM941.5 1152.8L945.4 1168.6L941.5 1184.3ZM949.3 1152.8L955.6 1168.6L949.3 1184.3ZM953.7 1152.8L964 1168.6L953.7 1184.3ZM963.1 1152.8L969.6 1168.6L963.1 1184.3ZM1041.9 1152.8L1030 1168.6L1041.9 1184.3ZM1048.2 1152.8L1041.9 1168.6L1048.2 1184.3ZM1053.3 1152.8L1048 1168.6L1053.3 1184.3ZM1056.9 1152.8L1052.1 1168.6L1056.9 1184.3ZM1067.6 1152.8L1062.1 1168.6L1067.6 1184.3ZM1066.4 1152.8H1069.1L1082.3 1168.6L1069.1 1184.3H1066.4ZM1081.6 1152.8L1084.4 1168.6L1081.6 1184.3ZM1088 1152.8L1084.3 1168.6L1088 1184.3ZM1093.1 1152.8L1087.6 1168.6L1093.1 1184.3ZM1101.7 1152.8L1091.4 1168.6L1101.7 1184.3ZM1109.7 1152.8L1103.3 1168.6L1109.7 1184.3ZM1113 1152.8L1107.8 1168.6L1113 1184.3ZM1112.1 1152.8L1115.3 1168.6L1112.1 1184.3ZM1118.7 1152.8L1113.3 1168.6L1118.7 1184.3ZM1125.9 1152.8L1119.9 1168.6L1125.9 1184.3ZM1131.4 1152.8L1125.4 1168.6L1131.4 1184.3ZM1134.1 1152.8L1130.2 1168.6L1134.1 1184.3ZM1137.5 1152.8L1142.4 1168.6L1137.5 1184.3ZM1148.2 1152.8L1141.6 1168.6L1148.2 1184.3ZM1148 1152.8L1152.5 1168.6L1148 1184.3ZM1155.6 1152.8L1161.7 1168.6L1155.6 1184.3ZM1159.7 1152.8L1163 1168.6L1159.7 1184.3ZM1162.2 1152.8L1165.2 1168.6L1162.2 1184.3ZM1164.2 1152.8L1170.1 1168.6L1164.2 1184.3ZM1170.2 1152.8L1175.4 1168.6L1170.2 1184.3ZM1173.9 1152.8L1178.5 1168.6L1173.9 1184.3ZM1177 1152.8L1182.7 1168.6L1177 1184.3ZM1180.9 1152.8L1187.4 1168.6L1180.9 1184.3ZM1196.9 1152.8L1185.5 1168.6L1196.9 1184.3ZM1200 1152.8L1195 1168.6L1200 1184.3ZM1202.6 1152.8L1200 1168.6L1202.6 1184.3ZM1218.4 1152.8L1212 1168.6L1218.4 1184.3ZM1219.6 1152.8L1216.8 1168.6L1219.6 1184.3ZM1223.1 1152.8L1227.5 1168.6L1223.1 1184.3ZM1225.7 1152.8L1231.6 1168.6L1225.7 1184.3ZM1231.2 1152.8L1236.4 1168.6L1231.2 1184.3ZM1242.1 1152.8L1245.6 1168.6L1242.1 1184.3ZM1247 1152.8L1252.8 1168.6L1247 1184.3ZM1256.5 1152.8L1259.1 1168.6L1256.5 1184.3ZM1257.1 1152.8L1260 1168.6L1257.1 1184.3ZM1260 1152.8L1258.7 1168.6L1260 1184.3ZM1266.5 1152.8L1260 1168.6L1266.5 1184.3ZM1268.4 1152.8L1264.8 1168.6L1268.4 1184.3ZM1285.5 1152.8L1280.7 1168.6L1285.5 1184.3ZM1286.8 1152.8L1284.2 1168.6L1286.8 1184.3ZM1288.9 1152.8L1286.1 1168.6L1288.9 1184.3ZM1289.1 1152.8L1292.7 1168.6L1289.1 1184.3ZM1299.2 1152.8L1301.7 1168.6L1299.2 1184.3ZM1303.8 1152.8L1300.5 1168.6L1303.8 1184.3ZM1308.6 1152.8L1303.1 1168.6L1308.6 1184.3ZM1307.9 1152.8L1312.7 1168.6L1307.9 1184.3ZM1311.2 1152.8H1313.9L1327.2 1168.6L1313.9 1184.3H1311.2ZM1330 1152.8L1335.2 1168.6L1330 1184.3ZM1341.5 1152.8L1334.5 1168.6L1341.5 1184.3ZM1340.7 1152.8L1346.5 1168.6L1340.7 1184.3ZM1345.7 1152.8L1350.3 1168.6L1345.7 1184.3ZM1348.9 1152.8L1353.5 1168.6L1348.9 1184.3ZM1356.2 1152.8L1363 1168.6L1356.2 1184.3ZM1362.9 1152.8L1375.8 1168.6L1362.9 1184.3ZM1375.9 1152.8L1382.5 1168.6L1375.9 1184.3ZM1381.2 1152.8L1385.1 1168.6L1381.2 1184.3ZM1387.7 1152.8L1390.3 1168.6L1387.7 1184.3ZM1389.5 1152.8L1400 1168.6L1389.5 1184.3ZM1400 1152.8L1407.7 1168.6L1400 1184.3ZM1407.4 1152.8L1413.5 1168.6L1407.4 1184.3ZM1417.1 1152.8L1421.3 1168.6L1417.1 1184.3ZM1430.5 1152.8L1424 1168.6L1430.5 1184.3ZM1433.5 1152.8L1429 1168.6L1433.5 1184.3ZM1435.6 1152.8L1431.5 1168.6L1435.6 1184.3ZM1436.9 1152.8L1446.7 1168.6L1436.9 1184.3ZM1446.7 1152.8L1450 1168.6L1446.7 1184.3ZM1453.9 1152.8L1450 1168.6L1453.9 1184.3ZM1455.9 1152.8L1452.2 1168.6L1455.9 1184.3ZM1460.2 1152.8L1455 1168.6L1460.2 1184.3ZM1464.5 1152.8L1460 1168.6L1464.5 1184.3ZM1464.5 1152.8L1470.6 1168.6L1464.5 1184.3ZM1469.5 1152.8L1475.8 1168.6L1469.5 1184.3ZM1475.2 1152.8L1481.3 1168.6L1475.2 1184.3ZM1480.4 1152.8L1486.2 1168.6L1480.4 1184.3ZM1485.5 1152.8L1492.5 1168.6L1485.5 1184.3ZM1492.5 1152.8L1496.8 1168.6L1492.5 1184.3ZM1499.6 1152.8L1494.9 1168.6L1499.6 1184.3ZM1503 1152.8L1498.8 1168.6L1503 1184.3ZM1507.6 1152.8L1503 1168.6L1507.6 1184.3ZM1510.8 1152.8L1506.5 1168.6L1510.8 1184.3ZM1516.6 1152.8L1510.9 1168.6L1516.6 1184.3ZM1516 1152.8L1519.1 1168.6L1516 1184.3ZM1518.3 1152.8L1522.4 1168.6L1518.3 1184.3ZM1522.6 1152.8L1526.5 1168.6L1522.6 1184.3ZM1525.5 1152.8L1531.1 1168.6L1525.5 1184.3ZM1535.1 1152.8L1530.8 1168.6L1535.1 1184.3ZM1537.8 1152.8L1535.1 1168.6L1537.8 1184.3ZM1544.4 1152.8L1537.4 1168.6L1544.4 1184.3ZM1554 1152.8L1542.7 1168.6L1554 1184.3ZM1557.2 1152.8L1553.8 1168.6L1557.2 1184.3ZM1556.7 1152.8L1560.8 1168.6L1556.7 1184.3ZM1580.5 1152.8L1577.7 1168.6L1580.5 1184.3ZM1587.3 1152.8L1579.5 1168.6L1587.3 1184.3ZM1589.5 1152.8L1587 1168.6L1589.5 1184.3ZM1592 1152.8L1588.7 1168.6L1592 1184.3ZM1601.6 1152.8L1591.7 1168.6L1601.6 1184.3ZM1603 1152.8L1601 1168.6L1603 1184.3ZM1603 1152.8L1601.7 1168.6L1603 1184.3ZM1603 1152.8L1601.3 1168.6L1603 1184.3ZM1603 1152.8L1602 1168.6L1603 1184.3ZM1601.9 1152.8L1603 1168.6L1601.9 1184.3ZM1609.2 1152.8L1611.3 1168.6L1609.2 1184.3ZM1610.2 1152.8L1612.1 1168.6L1610.2 1184.3ZM1610.3 1152.8L1612.2 1168.6L1610.3 1184.3ZM1612.9 1152.8L1614.4 1168.6L1612.9 1184.3ZM1616.2 1152.8L1614.2 1168.6L1616.2 1184.3ZM1617.2 1152.8L1615.7 1168.6L1617.2 1184.3ZM1617.8 1152.8L1615.7 1168.6L1617.8 1184.3ZM1619.4 1152.8L1616.1 1168.6L1619.4 1184.3ZM1622.2 1152.8L1619.3 1168.6L1622.2 1184.3ZM1622.1 1152.8L1620.3 1168.6L1622.1 1184.3ZM1622.7 1152.8L1621.2 1168.6L1622.7 1184.3ZM1620.9 1152.8L1623.1 1168.6L1620.9 1184.3ZM1622.2 1152.8L1625.7 1168.6L1622.2 1184.3ZM1624.3 1152.8L1626 1168.6L1624.3 1184.3ZM1624.7 1152.8L1628 1168.6L1624.7 1184.3ZM1627.6 1152.8L1629.1 1168.6L1627.6 1184.3ZM1632.4 1152.8L1629.4 1168.6L1632.4 1184.3ZM1634.4 1152.8L1632.6 1168.6L1634.4 1184.3ZM1634.2 1152.8L1636.5 1168.6L1634.2 1184.3ZM1635.5 1152.8L1637.6 1168.6L1635.5 1184.3ZM1636.1 1152.8L1638 1168.6L1636.1 1184.3ZM1655.5 1152.8H1659.3L1672.5 1168.6L1659.3 1184.3H1655.5ZM1684.8 1152.8L1688.5 1168.6L1684.8 1184.3ZM1694.5 1152.8L1689.1 1168.6L1694.5 1184.3ZM1693 1152.8L1695.9 1168.6L1693 1184.3ZM1695 1152.8L1698.3 1168.6L1695 1184.3ZM1696.8 1152.8L1702.1 1168.6L1696.8 1184.3ZM1702 1152.8L1705.8 1168.6L1702 1184.3ZM1711.7 1152.8L1704.9 1168.6L1711.7 1184.3ZM1714.1 1152.8L1711.2 1168.6L1714.1 1184.3ZM1715.9 1152.8L1712.8 1168.6L1715.9 1184.3ZM1718.4 1152.8L1714 1168.6L1718.4 1184.3ZM1723 1152.8L1717.2 1168.6L1723 1184.3ZM1726.1 1152.8L1721.2 1168.6L1726.1 1184.3ZM1725.9 1152.8L1728.7 1168.6L1725.9 1184.3ZM1728.6 1152.8L1732 1168.6L1728.6 1184.3ZM1731.2 1152.8L1736.7 1168.6L1731.2 1184.3ZM1735.8 1152.8L1741.4 1168.6L1735.8 1184.3ZM1751.4 1152.8L1754.3 1168.6L1751.4 1184.3ZM1753.1 1152.8L1756.3 1168.6L1753.1 1184.3ZM1756.6 1152.8L1762.5 1168.6L1756.6 1184.3ZM1773 1152.8L1766.6 1168.6L1773 1184.3ZM1775.2 1152.8L1771.5 1168.6L1775.2 1184.3ZM1783.7 1152.8L1773.9 1168.6L1783.7 1184.3ZM1782.1 1152.8L1788.4 1168.6L1782.1 1184.3ZM1787.6 1152.8L1791.7 1168.6L1787.6 1184.3ZM1797.8 1152.8L1800 1168.6L1797.8 1184.3ZM1800 1152.8L1798.5 1168.6L1800 1184.3ZM1830 1152.8L1834.2 1168.6L1830 1184.3ZM1832.9 1152.8L1838.2 1168.6L1832.9 1184.3ZM1837.8 1152.8L1842.3 1168.6L1837.8 1184.3ZM1842.2 1152.8L1847.4 1168.6L1842.2 1184.3ZM1846.9 1152.8L1851.6 1168.6L1846.9 1184.3ZM1855.8 1152.8L1866.6 1168.6L1855.8 1184.3ZM1865.7 1152.8L1870.3 1168.6L1865.7 1184.3ZM1869.5 1152.8L1872.1 1168.6L1869.5 1184.3ZM1881.6 1152.8L1875.1 1168.6L1881.6 1184.3ZM1881.5 1152.8L1888.3 1168.6L1881.5 1184.3ZM1887.8 1152.8L1891.5 1168.6L1887.8 1184.3ZM1897.5 1152.8L1902.1 1168.6L1897.5 1184.3ZM1900.4 1152.8L1903.6 1168.6L1900.4 1184.3ZM1901.6 1152.8L1907.1 1168.6L1901.6 1184.3ZM1905.1 1152.8L1911.2 1168.6L1905.1 1184.3ZM1909.7 1152.8L1918.8 1168.6L1909.7 1184.3ZM1918.5 1152.8L1922.8 1168.6L1918.5 1184.3ZM1928.6 1152.8L1922 1168.6L1928.6 1184.3ZM1938.4 1152.8L1942.9 1168.6L1938.4 1184.3ZM1944.5 1152.8L1941.7 1168.6L1944.5 1184.3ZM1947.6 1152.8L1944.7 1168.6L1947.6 1184.3ZM1950.5 1152.8L1947.8 1168.6L1950.5 1184.3ZM1949 1152.8L1955.2 1168.6L1949 1184.3ZM1954.4 1152.8L1957 1168.6L1954.4 1184.3Z" fill="#0b56a3"/>
<circle cx="161.5" cy="1188.8" r="2.3" fill="#111"/>
<circle cx="295" cy="1188.8" r="2.3" fill="#111"/>
<circle cx="478" cy="1188.8" r="2.3" fill="#111"/>
<circle cx="513.4" cy="1188.8" r="2.3" fill="#111"/>
<circle cx="611.7" cy="1188.8" r="2.3" fill="#111"/>
<circle cx="875.1" cy="1188.8" r="2.3" fill="#111"/>
<circle cx="901.2" cy="1188.8" r="2.3" fill="#111"/>
<circle cx="1211" cy="1188.8" r="2.3" fill="#111"/>
<circle cx="1293.3" cy="1188.8" r="2.3" fill="#111"/>
<circle cx="1371.5" cy="1188.8" r="2.3" fill="#111"/>
<circle cx="1582.8" cy="1188.8" r="2.3" fill="#111"/>
<circle cx="1623.9" cy="1188.8" r="2.3" fill="#111"/>
<circle cx="1805.5" cy="1188.8" r="2.3" fill="#111"/>
<circle cx="1922.6" cy="1188.8" r="2.3" fill="#111"/>
<path d="M161.5,1189 V1197 L194.5,1246" fill="none" stroke="#111" stroke-width="1.3"/>
<path d="M295,1189 V1203 L298.5,1209" fill="none" stroke="#111" stroke-width="1.3"/>
<path d="M478,1189 V1199 L510.5,1246" fill="none" stroke="#111" stroke-width="1.3"/>
<path d="M513.4,1189 V1202 L517,1209" fill="none" stroke="#111" stroke-width="1.3"/>
<path d="M611.7,1189 V1202 L615,1209" fill="none" stroke="#111" stroke-width="1.3"/>
<path d="M645.5,1246.5 L648.5,1250" fill="none" stroke="#111" stroke-width="1.3"/>
<path d="M875.1,1189 V1201 L878.5,1207" fill="none" stroke="#111" stroke-width="1.3"/>
<path d="M901.2,1189 V1201 L904.5,1207" fill="none" stroke="#111" stroke-width="1.3"/>
<path d="M920.4,1230.5 L937.5,1252" fill="none" stroke="#111" stroke-width="1.3"/>
<path d="M1211,1189 V1202 L1214.5,1209" fill="none" stroke="#111" stroke-width="1.3"/>
<path d="M1293.3,1189 V1200 L1341.4,1268.5" fill="none" stroke="#111" stroke-width="1.3"/>
<path d="M1371.5,1189 V1202 L1375,1209" fill="none" stroke="#111" stroke-width="1.3"/>
<path d="M1582.8,1189 V1200 L1618.3,1250.2" fill="none" stroke="#111" stroke-width="1.3"/>
<path d="M1623.9,1189 V1202 L1631.2,1211.7" fill="none" stroke="#111" stroke-width="1.3"/>
<path d="M1805.5,1189 V1200 L1825,1228.2" fill="none" stroke="#111" stroke-width="1.3"/>
<path d="M1838.5,1248.4 L1841.5,1252" fill="none" stroke="#111" stroke-width="1.3"/>
<path d="M1922.6,1189 V1200 L1925.5,1205.5" fill="none" stroke="#111" stroke-width="1.3"/>
<text x="179" y="1272">Beta sliding clamp</text>
<text x="284" y="1228.7">DNA ligase</text>
<text x="518.5" y="1228">Release factor glutamine</text>
<text x="518.5" y="1246.4">methyltransferase</text>
<text x="533" y="1268" text-anchor="end">tRNA(Ile)-</text>
<text x="533" y="1287.7" text-anchor="end">lysidine synthase</text>
<text x="632.2" y="1272">Non-specific</text>
<text x="632.2" y="1289.7">protein-tyrosine kinase</text>
<text x="865" y="1226.8">Unknown protein</text>
<text x="920.4" y="1272.1">Aminotransferase</text>
<text x="1199.4" y="1227.5">Protein</text>
<text x="1199.4" y="1246.7">RecA</text>
<text x="1347.6" y="1227.5">Ribosomal processing</text>
<text x="1347.6" y="1250.4">cysteine protease Prp</text>
<text x="1328.8" y="1291">Elongation factor P</text>
<text x="1632" y="1224.5">Aspartate</text>
<text x="1632" y="1246.6">carbamoyltransferase</text>
<text x="1591.6" y="1274">Large ribosomal</text>
<text x="1591.6" y="1295.4">subunit protein uL10</text>
<text x="1828.6" y="1274">UDP-glucuronate</text>
<text x="1828.6" y="1296.1">decarboxylase</text>
<text x="1887.3" y="1226.4">ssDNA</text>
<text x="1887.3" y="1249.1">binding protein</text>
<text x="5.6" y="1359" font-size="32" font-weight="bold" fill="#000">h</text>
<line x1="97.7" y1="1367.8" x2="97.7" y2="1610.3" stroke="#222" stroke-width="1.5"/>
<line x1="97.7" y1="1609.6" x2="275.8" y2="1609.6" stroke="#222" stroke-width="1.5"/>
<line x1="91.3" y1="1609.6" x2="97.7" y2="1609.6" stroke="#222" stroke-width="1.5"/>
<text x="85" y="1616.6" text-anchor="end">0</text>
<line x1="91.3" y1="1549.3" x2="97.7" y2="1549.3" stroke="#222" stroke-width="1.5"/>
<text x="85" y="1556.3" text-anchor="end">0.2</text>
<line x1="91.3" y1="1489" x2="97.7" y2="1489" stroke="#222" stroke-width="1.5"/>
<text x="85" y="1496" text-anchor="end">0.4</text>
<line x1="91.3" y1="1428.7" x2="97.7" y2="1428.7" stroke="#222" stroke-width="1.5"/>
<text x="85" y="1435.7" text-anchor="end">0.6</text>
<line x1="91.3" y1="1368.4" x2="97.7" y2="1368.4" stroke="#222" stroke-width="1.5"/>
<text x="85" y="1375.4" text-anchor="end">0.8</text>
<line x1="152.1" y1="1609.6" x2="152.1" y2="1614.6" stroke="#222" stroke-width="1.5"/>
<line x1="226.6" y1="1609.6" x2="226.6" y2="1614.6" stroke="#222" stroke-width="1.5"/>
<line x1="146.1" y1="1512" x2="146.1" y2="1590.2" stroke="#222" stroke-width="1.3"/>
<line x1="134.2" y1="1512" x2="158.4" y2="1512" stroke="#222" stroke-width="1.3"/>
<line x1="134.2" y1="1590.2" x2="158.4" y2="1590.2" stroke="#222" stroke-width="1.3"/>
<rect x="120" y="1541.8" width="52.2" height="23.1" fill="#a9aaad" stroke="#333" stroke-width="1.3"/>
<line x1="121" y1="1554.8" x2="171.2" y2="1554.8" stroke="#fff" stroke-width="1.6"/>
<line x1="221.4" y1="1399" x2="221.4" y2="1430.7" stroke="#222" stroke-width="1.3"/>
<line x1="208.7" y1="1399" x2="234.1" y2="1399" stroke="#222" stroke-width="1.3"/>
<line x1="208.7" y1="1430.7" x2="234.1" y2="1430.7" stroke="#222" stroke-width="1.3"/>
<rect x="195.7" y="1410.2" width="51.4" height="10.4" fill="#1f6fb8" stroke="#333" stroke-width="1.3"/>
<line x1="196.7" y1="1415.4" x2="246.1" y2="1415.4" stroke="#fff" stroke-width="1.6"/>
<text x="149.1" y="1638.7" text-anchor="middle">Evo 1</text>
<text x="152.1" y="1661" text-anchor="middle">7B-131K</text>
<text x="226.6" y="1638.7" text-anchor="middle">Evo 2</text>
<text x="226.6" y="1661" text-anchor="middle">40B</text>
<text x="22" y="1489.6" text-anchor="middle" transform="rotate(-90 22 1489.6)">Fraction of genes with</text>
<text x="42.5" y="1489.6" text-anchor="middle" transform="rotate(-90 42.5 1489.6)">Pfam hits</text>
<text x="294.4" y="1359" font-size="32" font-weight="bold" fill="#000">i</text>
<path d="M385 1481.4h6.07V1456.8h-6.07ZM391.1 1481.4h6.07V1464.7h-6.07ZM397.1 1481.4h6.07V1427h-6.07ZM403.2 1481.4h6.07V1418.7h-6.07ZM409.3 1481.4h6.07V1405.8h-6.07ZM415.4 1481.4h6.07V1372.1h-6.07ZM421.4 1481.4h6.07V1410.2h-6.07ZM427.5 1481.4h6.07V1427h-6.07ZM433.6 1481.4h6.07V1421.8h-6.07ZM439.6 1481.4h6.07V1385.2h-6.07ZM445.7 1481.4h6.07V1422.5h-6.07ZM451.8 1481.4h6.07V1418.7h-6.07ZM457.8 1481.4h6.07V1388.9h-6.07ZM463.9 1481.4h6.07V1370.2h-6.07ZM470 1481.4h6.07V1410.2h-6.07ZM476.1 1481.4h6.07V1401.9h-6.07ZM482.1 1481.4h6.07V1427h-6.07ZM488.2 1481.4h6.07V1422.5h-6.07ZM494.3 1481.4h6.07V1440h-6.07ZM500.3 1481.4h6.07V1427h-6.07ZM506.4 1481.4h6.07V1431h-6.07ZM512.5 1481.4h6.07V1431h-6.07ZM518.5 1481.4h6.07V1456.8h-6.07ZM524.6 1481.4h6.07V1431h-6.07ZM530.7 1481.4h6.07V1452.3h-6.07ZM536.8 1481.4h6.07V1431h-6.07ZM542.8 1481.4h6.07V1460.8h-6.07ZM548.9 1481.4h6.07V1460.8h-6.07ZM555 1481.4h6.07V1473.5h-6.07ZM561 1481.4h6.07V1444.1h-6.07ZM567.1 1481.4h6.07V1452.3h-6.07ZM573.2 1481.4h6.07V1469.1h-6.07ZM579.2 1481.4h6.07V1448.5h-6.07ZM585.3 1481.4h6.07V1464.7h-6.07ZM591.4 1481.4h6.07V1473.5h-6.07ZM597.5 1481.4h6.07V1452.3h-6.07ZM603.5 1481.4h6.07V1469.1h-6.07ZM609.6 1481.4h6.07V1473.5h-6.07ZM615.7 1481.4h6.07V1464.7h-6.07ZM621.7 1481.4h6.07V1464.7h-6.07ZM633.9 1481.4h6.07V1477.6h-6.07ZM639.9 1481.4h6.07V1477.6h-6.07ZM646 1481.4h6.07V1469.1h-6.07ZM652.1 1481.4h6.07V1472.7h-6.07ZM664.2 1481.4h6.07V1464.7h-6.07ZM676.4 1481.4h6.07V1473.5h-6.07Z" fill="#d9d9d9" stroke="#f2f2f2" stroke-width="0.8"/>
<line x1="378.3" y1="1366.6" x2="378.3" y2="1482.1" stroke="#222" stroke-width="1.5"/>
<line x1="378.3" y1="1481.4" x2="696.2" y2="1481.4" stroke="#222" stroke-width="1.5"/>
<line x1="372" y1="1481.4" x2="378.3" y2="1481.4" stroke="#222" stroke-width="1.5"/>
<text x="366.5" y="1488.4" text-anchor="end">0</text>
<line x1="372" y1="1385.2" x2="378.3" y2="1385.2" stroke="#222" stroke-width="1.5"/>
<text x="366.5" y="1392.2" text-anchor="end">5</text>
<path d="M385 1604.4h6.07V1562.3h-6.07ZM391.1 1604.4h6.07V1539.1h-6.07ZM397.1 1604.4h6.07V1537h-6.07ZM403.2 1604.4h6.07V1536.2h-6.07ZM409.3 1604.4h6.07V1533.3h-6.07ZM415.4 1604.4h6.07V1523.2h-6.07ZM421.4 1604.4h6.07V1522h-6.07ZM427.5 1604.4h6.07V1534.2h-6.07ZM433.6 1604.4h6.07V1537h-6.07ZM439.6 1604.4h6.07V1531.3h-6.07ZM445.7 1604.4h6.07V1527.7h-6.07ZM451.8 1604.4h6.07V1528.8h-6.07ZM457.8 1604.4h6.07V1521.3h-6.07ZM463.9 1604.4h6.07V1537.3h-6.07ZM470 1604.4h6.07V1537.3h-6.07ZM476.1 1604.4h6.07V1541.8h-6.07ZM482.1 1604.4h6.07V1549.9h-6.07ZM488.2 1604.4h6.07V1549.9h-6.07ZM494.3 1604.4h6.07V1551.1h-6.07ZM500.3 1604.4h6.07V1549.2h-6.07ZM506.4 1604.4h6.07V1564.9h-6.07ZM512.5 1604.4h6.07V1562.3h-6.07ZM518.5 1604.4h6.07V1564.9h-6.07ZM524.6 1604.4h6.07V1570.5h-6.07ZM530.7 1604.4h6.07V1570.5h-6.07ZM536.8 1604.4h6.07V1573.4h-6.07ZM542.8 1604.4h6.07V1577.3h-6.07ZM548.9 1604.4h6.07V1577.8h-6.07ZM555 1604.4h6.07V1584.6h-6.07ZM561 1604.4h6.07V1584.6h-6.07ZM567.1 1604.4h6.07V1579.8h-6.07ZM573.2 1604.4h6.07V1582.1h-6.07ZM579.2 1604.4h6.07V1585.4h-6.07ZM585.3 1604.4h6.07V1583.5h-6.07ZM591.4 1604.4h6.07V1588.3h-6.07ZM597.5 1604.4h6.07V1584.6h-6.07ZM603.5 1604.4h6.07V1592.8h-6.07ZM609.6 1604.4h6.07V1592.8h-6.07ZM615.7 1604.4h6.07V1588.3h-6.07ZM621.7 1604.4h6.07V1593.9h-6.07ZM627.8 1604.4h6.07V1596.6h-6.07ZM633.9 1604.4h6.07V1595.1h-6.07ZM639.9 1604.4h6.07V1596.6h-6.07ZM646 1604.4h6.07V1595.9h-6.07ZM652.1 1604.4h6.07V1594.7h-6.07ZM658.2 1604.4h6.07V1595.9h-6.07ZM664.2 1604.4h6.07V1596.6h-6.07ZM670.3 1604.4h6.07V1597.6h-6.07ZM676.4 1604.4h6.07V1598.8h-6.07Z" fill="#5a8bcb" stroke="#b9cde9" stroke-width="0.8"/>
<line x1="378.3" y1="1489.6" x2="378.3" y2="1605.1" stroke="#222" stroke-width="1.5"/>
<line x1="378.3" y1="1604.4" x2="696.2" y2="1604.4" stroke="#222" stroke-width="1.5"/>
<line x1="372" y1="1604.4" x2="378.3" y2="1604.4" stroke="#222" stroke-width="1.5"/>
<text x="366.5" y="1611.4" text-anchor="end">0</text>
<line x1="372" y1="1507.5" x2="378.3" y2="1507.5" stroke="#222" stroke-width="1.5"/>
<text x="366.5" y="1514.5" text-anchor="end">5</text>
<line x1="408.1" y1="1604.4" x2="408.1" y2="1610.7" stroke="#222" stroke-width="1.5"/>
<text x="408.1" y="1636" text-anchor="middle">100</text>
<line x1="477.8" y1="1604.4" x2="477.8" y2="1610.7" stroke="#222" stroke-width="1.5"/>
<text x="477.8" y="1636" text-anchor="middle">300</text>
<line x1="547.9" y1="1604.4" x2="547.9" y2="1610.7" stroke="#222" stroke-width="1.5"/>
<text x="547.9" y="1636" text-anchor="middle">500</text>
<line x1="618" y1="1604.4" x2="618" y2="1610.7" stroke="#222" stroke-width="1.5"/>
<text x="618" y="1636" text-anchor="middle">700</text>
<text x="536.7" y="1662.9" text-anchor="middle">Protein length (amino acids)</text>
<text x="338" y="1484" text-anchor="middle" transform="rotate(-90 338 1484)">Per cent of total proteins</text>
<text x="695.1" y="1396.4" text-anchor="end" font-style="italic">M. genitalium</text>
<text x="695.1" y="1519.4" text-anchor="end">Evo 2 40B generated</text>
<text x="734" y="1357" font-size="32" font-weight="bold" fill="#000">j</text>
<line x1="796.9" y1="1387" x2="796.9" y2="1602.3" stroke="#222" stroke-width="1.5"/>
<line x1="796.9" y1="1602.3" x2="1244.9" y2="1602.3" stroke="#222" stroke-width="1.5"/>
<line x1="791.3" y1="1586.1" x2="796.9" y2="1586.1" stroke="#222" stroke-width="1.5"/>
<text x="784.3" y="1593.1" text-anchor="end">0</text>
<line x1="791.3" y1="1548.8" x2="796.9" y2="1548.8" stroke="#222" stroke-width="1.5"/>
<text x="784.3" y="1555.8" text-anchor="end">20</text>
<line x1="791.3" y1="1511.5" x2="796.9" y2="1511.5" stroke="#222" stroke-width="1.5"/>
<text x="784.3" y="1518.5" text-anchor="end">40</text>
<line x1="791.3" y1="1474.3" x2="796.9" y2="1474.3" stroke="#222" stroke-width="1.5"/>
<text x="784.3" y="1481.3" text-anchor="end">60</text>
<line x1="791.3" y1="1437" x2="796.9" y2="1437" stroke="#222" stroke-width="1.5"/>
<text x="784.3" y="1444" text-anchor="end">80</text>
<line x1="791.3" y1="1399.7" x2="796.9" y2="1399.7" stroke="#222" stroke-width="1.5"/>
<text x="784.3" y="1406.7" text-anchor="end">100</text>
<line x1="831.8" y1="1602.3" x2="831.8" y2="1607.9" stroke="#222" stroke-width="1.5"/>
<path d="M815.3,1589.8 L824.1,1588.1 L827.2,1586.4 L829.2,1584.7 L830.6,1582.9 L831.5,1581.2 L832,1579.5 L832.3,1577.8 L832.4,1576 L832.1,1574.3 L831.6,1572.6 L831,1570.9 L830.2,1569.1 L829.2,1567.4 L828.3,1565.7 L827.2,1564 L826.2,1562.2 L825.1,1560.5 L824.1,1558.8 L823.1,1557.1 L822.2,1555.3 L821.3,1553.6 L820.5,1551.9 L819.8,1550.2 L819.1,1548.4 L818.5,1546.7 L818,1545 L817.6,1543.3 L817.2,1541.6 L816.9,1539.8 L816.6,1538.1 L816.4,1536.4 L816.2,1534.7 L816,1532.9 L815.9,1531.2 L815.8,1529.5 L815.7,1527.8 L815.7,1526 L815.6,1524.3 L815.6,1522.6 L815.5,1520.9 L815.1,1520.9 L815,1522.6 L815,1524.3 L814.9,1526 L814.9,1527.8 L814.8,1529.5 L814.7,1531.2 L814.6,1532.9 L814.4,1534.7 L814.2,1536.4 L814,1538.1 L813.7,1539.8 L813.4,1541.6 L813,1543.3 L812.6,1545 L812.1,1546.7 L811.5,1548.4 L810.8,1550.2 L810.1,1551.9 L809.3,1553.6 L808.4,1555.3 L807.5,1557.1 L806.5,1558.8 L805.5,1560.5 L804.4,1562.2 L803.4,1564 L802.3,1565.7 L801.4,1567.4 L800.4,1569.1 L799.6,1570.9 L799,1572.6 L798.5,1574.3 L798.2,1576 L798.3,1577.8 L798.6,1579.5 L799.1,1581.2 L800,1582.9 L801.4,1584.7 L803.4,1586.4 L806.5,1588.1 L815.3,1589.8Z" fill="#1f6db5" stroke="#1a1a1a" stroke-width="1.1"/>
<line x1="815.3" y1="1589.8" x2="815.3" y2="1520.9" stroke="#1a1a1a" stroke-width="1"/>
<line x1="815.3" y1="1563.7" x2="815.3" y2="1576.8" stroke="#333" stroke-width="3.2"/>
<line x1="814.1" y1="1571.2" x2="816.5" y2="1571.2" stroke="#fff" stroke-width="1.2"/>
<path d="M850.8,1591.7 L860.5,1589.8 L863.5,1588 L865.2,1586.1 L866.1,1584.2 L866.3,1582.4 L866.1,1580.5 L865.2,1578.6 L864,1576.8 L862.5,1574.9 L860.9,1573.1 L859.4,1571.2 L857.9,1569.3 L856.5,1567.5 L855.3,1565.6 L854.3,1563.7 L853.5,1561.9 L852.8,1560 L852.3,1558.1 L851.9,1556.3 L851.6,1554.4 L851.4,1552.5 L851.2,1550.7 L851.1,1548.8 L851.1,1547 L851,1545.1 L851,1543.2 L851,1541.4 L851,1539.5 L851,1537.6 L851,1535.8 L851,1533.9 L851,1532 L851,1530.2 L851,1528.3 L851,1526.5 L851,1524.6 L851,1522.7 L851,1520.9 L851,1519 L851,1517.1 L850.6,1517.1 L850.6,1519 L850.6,1520.9 L850.6,1522.7 L850.6,1524.6 L850.6,1526.5 L850.6,1528.3 L850.6,1530.2 L850.6,1532 L850.6,1533.9 L850.6,1535.8 L850.6,1537.6 L850.6,1539.5 L850.6,1541.4 L850.6,1543.2 L850.6,1545.1 L850.5,1547 L850.5,1548.8 L850.4,1550.7 L850.2,1552.5 L850,1554.4 L849.7,1556.3 L849.3,1558.1 L848.8,1560 L848.1,1561.9 L847.3,1563.7 L846.3,1565.6 L845.1,1567.5 L843.7,1569.3 L842.2,1571.2 L840.7,1573.1 L839.1,1574.9 L837.6,1576.8 L836.4,1578.6 L835.5,1580.5 L835.3,1582.4 L835.5,1584.2 L836.4,1586.1 L838.1,1588 L841.1,1589.8 L850.8,1591.7Z" fill="#d4d4d6" stroke="#1a1a1a" stroke-width="1.1"/>
<line x1="850.8" y1="1591.7" x2="850.8" y2="1517.1" stroke="#1a1a1a" stroke-width="1"/>
<line x1="850.8" y1="1574.9" x2="850.8" y2="1582.4" stroke="#333" stroke-width="3.2"/>
<line x1="849.6" y1="1579.6" x2="852" y2="1579.6" stroke="#fff" stroke-width="1.2"/>
<text x="831.8" y="1632.5" text-anchor="middle">Alpha</text>
<text x="831.8" y="1653.4" text-anchor="middle">helix</text>
<line x1="907" y1="1602.3" x2="907" y2="1607.9" stroke="#222" stroke-width="1.5"/>
<path d="M890.5,1587.6 L903.1,1586.9 L905.4,1586.3 L905.1,1585.7 L903.2,1585 L900.5,1584.4 L897.8,1583.7 L895.4,1583.1 L893.6,1582.4 L892.4,1581.8 L891.6,1581.2 L891.1,1580.5 L890.9,1579.9 L890.7,1579.2 L890.7,1578.6 L890.7,1577.9 L890.7,1577.3 L890.7,1576.7 L890.7,1576 L890.7,1575.4 L890.7,1574.7 L890.7,1574.1 L890.7,1573.4 L890.7,1572.8 L890.7,1572.2 L890.7,1571.5 L890.7,1570.9 L890.7,1570.2 L890.7,1569.6 L890.7,1568.9 L890.7,1568.3 L890.7,1567.7 L890.7,1567 L890.7,1566.4 L890.6,1565.7 L890.6,1565.1 L890.6,1564.4 L890.6,1563.8 L890.6,1563.2 L890.6,1562.5 L890.6,1561.9 L890.4,1561.9 L890.4,1562.5 L890.4,1563.2 L890.4,1563.8 L890.4,1564.4 L890.4,1565.1 L890.4,1565.7 L890.3,1566.4 L890.3,1567 L890.3,1567.7 L890.3,1568.3 L890.3,1568.9 L890.3,1569.6 L890.3,1570.2 L890.3,1570.9 L890.3,1571.5 L890.3,1572.2 L890.3,1572.8 L890.3,1573.4 L890.3,1574.1 L890.3,1574.7 L890.3,1575.4 L890.3,1576 L890.3,1576.7 L890.3,1577.3 L890.3,1577.9 L890.3,1578.6 L890.3,1579.2 L890.1,1579.9 L889.9,1580.5 L889.4,1581.2 L888.6,1581.8 L887.4,1582.4 L885.6,1583.1 L883.2,1583.7 L880.5,1584.4 L877.8,1585 L875.9,1585.7 L875.6,1586.3 L877.9,1586.9 L890.5,1587.6Z" fill="#1f6db5" stroke="#1a1a1a" stroke-width="1.1"/>
<line x1="890.5" y1="1587.6" x2="890.5" y2="1561.9" stroke="#1a1a1a" stroke-width="1"/>
<line x1="890.5" y1="1584.2" x2="890.5" y2="1586.1" stroke="#333" stroke-width="3.2"/>
<line x1="889.3" y1="1585.2" x2="891.7" y2="1585.2" stroke="#fff" stroke-width="1.2"/>
<path d="M926,1587 L941.3,1586.3 L940.7,1585.5 L937.9,1584.7 L934.5,1584 L931.4,1583.2 L929.2,1582.4 L927.7,1581.6 L926.9,1580.9 L926.5,1580.1 L926.3,1579.3 L926.2,1578.6 L926.2,1577.8 L926.2,1577 L926.2,1576.3 L926.2,1575.5 L926.2,1574.7 L926.2,1574 L926.2,1573.2 L926.2,1572.4 L926.2,1571.7 L926.2,1570.9 L926.2,1570.1 L926.2,1569.3 L926.2,1568.6 L926.2,1567.8 L926.2,1567 L926.1,1566.3 L926.1,1565.5 L926.1,1564.7 L926.1,1564 L926.1,1563.2 L926.1,1562.4 L926.1,1561.7 L926.1,1560.9 L926.1,1560.1 L926.1,1559.4 L926.1,1558.6 L926.1,1557.8 L926.1,1557 L926.1,1556.3 L925.9,1556.3 L925.9,1557 L925.9,1557.8 L925.9,1558.6 L925.9,1559.4 L925.9,1560.1 L925.9,1560.9 L925.9,1561.7 L925.9,1562.4 L925.9,1563.2 L925.9,1564 L925.9,1564.7 L925.9,1565.5 L925.9,1566.3 L925.8,1567 L925.8,1567.8 L925.8,1568.6 L925.8,1569.3 L925.8,1570.1 L925.8,1570.9 L925.8,1571.7 L925.8,1572.4 L925.8,1573.2 L925.8,1574 L925.8,1574.7 L925.8,1575.5 L925.8,1576.3 L925.8,1577 L925.8,1577.8 L925.8,1578.6 L925.7,1579.3 L925.5,1580.1 L925.1,1580.9 L924.3,1581.6 L922.8,1582.4 L920.6,1583.2 L917.5,1584 L914.1,1584.7 L911.3,1585.5 L910.7,1586.3 L926,1587Z" fill="#d4d4d6" stroke="#1a1a1a" stroke-width="1.1"/>
<line x1="926" y1="1587" x2="926" y2="1556.3" stroke="#1a1a1a" stroke-width="1"/>
<line x1="926" y1="1583.3" x2="926" y2="1586.1" stroke="#333" stroke-width="3.2"/>
<line x1="924.8" y1="1585.2" x2="927.2" y2="1585.2" stroke="#fff" stroke-width="1.2"/>
<text x="907" y="1632.5" text-anchor="middle">Beta</text>
<text x="907" y="1653.4" text-anchor="middle">bridge</text>
<line x1="982.2" y1="1602.3" x2="982.2" y2="1607.9" stroke="#222" stroke-width="1.5"/>
<path d="M965.7,1588.3 L981.9,1586 L983.3,1583.6 L982.4,1581.2 L980.7,1578.8 L978.6,1576.4 L976.4,1574 L974.2,1571.6 L972.2,1569.2 L970.5,1566.9 L969.2,1564.5 L968.1,1562.1 L967.4,1559.7 L966.8,1557.3 L966.4,1554.9 L966.2,1552.5 L966.1,1550.2 L966,1547.8 L965.9,1545.4 L965.9,1543 L965.9,1540.6 L965.9,1538.2 L965.9,1535.8 L965.9,1533.5 L965.9,1531.1 L965.9,1528.7 L965.9,1526.3 L965.9,1523.9 L965.9,1521.5 L965.9,1519.1 L965.9,1516.8 L965.9,1514.4 L965.9,1512 L965.9,1509.6 L965.9,1507.2 L965.9,1504.8 L965.9,1502.4 L965.9,1500.1 L965.9,1497.7 L965.9,1495.3 L965.9,1492.9 L965.5,1492.9 L965.5,1495.3 L965.5,1497.7 L965.5,1500.1 L965.5,1502.4 L965.5,1504.8 L965.5,1507.2 L965.5,1509.6 L965.5,1512 L965.5,1514.4 L965.5,1516.8 L965.5,1519.1 L965.5,1521.5 L965.5,1523.9 L965.5,1526.3 L965.5,1528.7 L965.5,1531.1 L965.5,1533.5 L965.5,1535.8 L965.5,1538.2 L965.5,1540.6 L965.5,1543 L965.5,1545.4 L965.4,1547.8 L965.3,1550.2 L965.2,1552.5 L965,1554.9 L964.6,1557.3 L964,1559.7 L963.3,1562.1 L962.2,1564.5 L960.9,1566.9 L959.2,1569.2 L957.2,1571.6 L955,1574 L952.8,1576.4 L950.7,1578.8 L949,1581.2 L948.1,1583.6 L949.5,1586 L965.7,1588.3Z" fill="#1f6db5" stroke="#1a1a1a" stroke-width="1.1"/>
<line x1="965.7" y1="1588.3" x2="965.7" y2="1492.9" stroke="#1a1a1a" stroke-width="1"/>
<line x1="965.7" y1="1574.9" x2="965.7" y2="1584.2" stroke="#333" stroke-width="3.2"/>
<line x1="964.5" y1="1579.6" x2="966.9" y2="1579.6" stroke="#fff" stroke-width="1.2"/>
<path d="M1001.2,1591.7 L1012.3,1589.5 L1015,1587.4 L1015.7,1585.3 L1015.6,1583.1 L1014.9,1581 L1013.9,1578.8 L1012.7,1576.7 L1011.4,1574.5 L1010.1,1572.4 L1008.8,1570.3 L1007.5,1568.1 L1006.4,1566 L1005.4,1563.8 L1004.5,1561.7 L1003.8,1559.5 L1003.2,1557.4 L1002.7,1555.3 L1002.4,1553.1 L1002.1,1551 L1001.9,1548.8 L1001.7,1546.7 L1001.6,1544.5 L1001.5,1542.4 L1001.5,1540.2 L1001.4,1538.1 L1001.4,1536 L1001.4,1533.8 L1001.4,1531.7 L1001.4,1529.5 L1001.4,1527.4 L1001.4,1525.2 L1001.4,1523.1 L1001.4,1521 L1001.4,1518.8 L1001.4,1516.7 L1001.4,1514.5 L1001.4,1512.4 L1001.4,1510.2 L1001.4,1508.1 L1001.4,1505.9 L1001,1505.9 L1001,1508.1 L1001,1510.2 L1001,1512.4 L1001,1514.5 L1001,1516.7 L1001,1518.8 L1001,1521 L1001,1523.1 L1001,1525.2 L1001,1527.4 L1001,1529.5 L1001,1531.7 L1001,1533.8 L1001,1536 L1001,1538.1 L1000.9,1540.2 L1000.9,1542.4 L1000.8,1544.5 L1000.7,1546.7 L1000.5,1548.8 L1000.3,1551 L1000,1553.1 L999.7,1555.3 L999.2,1557.4 L998.6,1559.5 L997.9,1561.7 L997,1563.8 L996,1566 L994.9,1568.1 L993.6,1570.3 L992.3,1572.4 L991,1574.5 L989.7,1576.7 L988.5,1578.8 L987.5,1581 L986.8,1583.1 L986.7,1585.3 L987.4,1587.4 L990.1,1589.5 L1001.2,1591.7Z" fill="#d4d4d6" stroke="#1a1a1a" stroke-width="1.1"/>
<line x1="1001.2" y1="1591.7" x2="1001.2" y2="1505.9" stroke="#1a1a1a" stroke-width="1"/>
<line x1="1001.2" y1="1578.6" x2="1001.2" y2="1586.1" stroke="#333" stroke-width="3.2"/>
<line x1="1000" y1="1583.3" x2="1002.4" y2="1583.3" stroke="#fff" stroke-width="1.2"/>
<text x="982.2" y="1632.5" text-anchor="middle">Extended</text>
<text x="982.2" y="1653.4" text-anchor="middle">strand</text>
<line x1="1057.4" y1="1602.3" x2="1057.4" y2="1607.9" stroke="#222" stroke-width="1.5"/>
<path d="M1040.9,1591.7 L1051.6,1588.6 L1055,1585.5 L1056.8,1582.5 L1057.7,1579.4 L1058,1576.3 L1057.8,1573.2 L1057.3,1570.2 L1056.6,1567.1 L1055.8,1564 L1054.8,1560.9 L1053.7,1557.9 L1052.6,1554.8 L1051.5,1551.7 L1050.4,1548.6 L1049.3,1545.6 L1048.2,1542.5 L1047.3,1539.4 L1046.4,1536.3 L1045.6,1533.3 L1044.9,1530.2 L1044.2,1527.1 L1043.7,1524 L1043.2,1521 L1042.8,1517.9 L1042.5,1514.8 L1042.2,1511.7 L1041.9,1508.7 L1041.7,1505.6 L1041.6,1502.5 L1041.5,1499.4 L1041.4,1496.3 L1041.3,1493.3 L1041.2,1490.2 L1041.2,1487.1 L1041.1,1484 L1041.1,1481 L1041.1,1477.9 L1041.1,1474.8 L1041.1,1471.7 L1041.1,1468.7 L1040.7,1468.7 L1040.7,1471.7 L1040.7,1474.8 L1040.7,1477.9 L1040.7,1481 L1040.7,1484 L1040.6,1487.1 L1040.6,1490.2 L1040.5,1493.3 L1040.4,1496.3 L1040.3,1499.4 L1040.2,1502.5 L1040.1,1505.6 L1039.9,1508.7 L1039.6,1511.7 L1039.3,1514.8 L1039,1517.9 L1038.6,1521 L1038.1,1524 L1037.6,1527.1 L1036.9,1530.2 L1036.2,1533.3 L1035.4,1536.3 L1034.5,1539.4 L1033.6,1542.5 L1032.5,1545.6 L1031.4,1548.6 L1030.3,1551.7 L1029.2,1554.8 L1028.1,1557.9 L1027,1560.9 L1026,1564 L1025.2,1567.1 L1024.5,1570.2 L1024,1573.2 L1023.8,1576.3 L1024.1,1579.4 L1025,1582.5 L1026.8,1585.5 L1030.2,1588.6 L1040.9,1591.7Z" fill="#1f6db5" stroke="#1a1a1a" stroke-width="1.1"/>
<line x1="1040.9" y1="1591.7" x2="1040.9" y2="1468.7" stroke="#1a1a1a" stroke-width="1"/>
<line x1="1040.9" y1="1560" x2="1040.9" y2="1576.8" stroke="#333" stroke-width="3.2"/>
<line x1="1039.7" y1="1569.3" x2="1042.1" y2="1569.3" stroke="#fff" stroke-width="1.2"/>
<path d="M1076.4,1591.7 L1087.4,1588.7 L1090.4,1585.6 L1091.7,1582.6 L1092,1579.6 L1091.6,1576.5 L1091,1573.5 L1090,1570.5 L1088.9,1567.5 L1087.7,1564.4 L1086.4,1561.4 L1085.2,1558.4 L1084,1555.3 L1082.8,1552.3 L1081.8,1549.3 L1080.8,1546.3 L1080,1543.2 L1079.3,1540.2 L1078.7,1537.2 L1078.2,1534.1 L1077.8,1531.1 L1077.5,1528.1 L1077.3,1525.1 L1077.1,1522 L1076.9,1519 L1076.8,1516 L1076.7,1512.9 L1076.7,1509.9 L1076.6,1506.9 L1076.6,1503.9 L1076.6,1500.8 L1076.6,1497.8 L1076.6,1494.8 L1076.6,1491.7 L1076.6,1488.7 L1076.6,1485.7 L1076.6,1482.6 L1076.6,1479.6 L1076.6,1476.6 L1076.6,1473.6 L1076.6,1470.5 L1076.2,1470.5 L1076.2,1473.6 L1076.2,1476.6 L1076.2,1479.6 L1076.2,1482.6 L1076.2,1485.7 L1076.2,1488.7 L1076.2,1491.7 L1076.2,1494.8 L1076.2,1497.8 L1076.2,1500.8 L1076.2,1503.9 L1076.2,1506.9 L1076.1,1509.9 L1076.1,1512.9 L1076,1516 L1075.9,1519 L1075.7,1522 L1075.5,1525.1 L1075.3,1528.1 L1075,1531.1 L1074.6,1534.1 L1074.1,1537.2 L1073.5,1540.2 L1072.8,1543.2 L1072,1546.3 L1071,1549.3 L1070,1552.3 L1068.8,1555.3 L1067.6,1558.4 L1066.4,1561.4 L1065.1,1564.4 L1063.9,1567.5 L1062.8,1570.5 L1061.8,1573.5 L1061.2,1576.5 L1060.8,1579.6 L1061.1,1582.6 L1062.4,1585.6 L1065.4,1588.7 L1076.4,1591.7Z" fill="#d4d4d6" stroke="#1a1a1a" stroke-width="1.1"/>
<line x1="1076.4" y1="1591.7" x2="1076.4" y2="1470.5" stroke="#1a1a1a" stroke-width="1"/>
<line x1="1076.4" y1="1571.2" x2="1076.4" y2="1582.4" stroke="#333" stroke-width="3.2"/>
<line x1="1075.2" y1="1577.7" x2="1077.6" y2="1577.7" stroke="#fff" stroke-width="1.2"/>
<text x="1057.4" y="1632.5" text-anchor="middle">Turn</text>
<line x1="1132.6" y1="1602.3" x2="1132.6" y2="1607.9" stroke="#222" stroke-width="1.5"/>
<path d="M1116.1,1591.7 L1127.4,1588.2 L1130.8,1584.7 L1132.5,1581.2 L1133.1,1577.7 L1133.1,1574.2 L1132.4,1570.7 L1131.4,1567.2 L1130.1,1563.7 L1128.7,1560.2 L1127.2,1556.7 L1125.7,1553.2 L1124.3,1549.8 L1122.9,1546.3 L1121.7,1542.8 L1120.6,1539.3 L1119.7,1535.8 L1118.9,1532.3 L1118.3,1528.8 L1117.8,1525.3 L1117.4,1521.8 L1117.1,1518.3 L1116.8,1514.8 L1116.7,1511.3 L1116.5,1507.8 L1116.5,1504.3 L1116.4,1500.8 L1116.3,1497.3 L1116.3,1493.8 L1116.3,1490.3 L1116.3,1486.8 L1116.3,1483.3 L1116.3,1479.9 L1116.3,1476.4 L1116.3,1472.9 L1116.3,1469.4 L1116.3,1465.9 L1116.3,1462.4 L1116.3,1458.9 L1116.3,1455.4 L1116.3,1451.9 L1115.9,1451.9 L1115.9,1455.4 L1115.9,1458.9 L1115.9,1462.4 L1115.9,1465.9 L1115.9,1469.4 L1115.9,1472.9 L1115.9,1476.4 L1115.9,1479.9 L1115.9,1483.3 L1115.9,1486.8 L1115.9,1490.3 L1115.9,1493.8 L1115.9,1497.3 L1115.8,1500.8 L1115.7,1504.3 L1115.7,1507.8 L1115.5,1511.3 L1115.4,1514.8 L1115.1,1518.3 L1114.8,1521.8 L1114.4,1525.3 L1113.9,1528.8 L1113.3,1532.3 L1112.5,1535.8 L1111.6,1539.3 L1110.5,1542.8 L1109.3,1546.3 L1107.9,1549.8 L1106.5,1553.2 L1105,1556.7 L1103.5,1560.2 L1102.1,1563.7 L1100.8,1567.2 L1099.8,1570.7 L1099.1,1574.2 L1099.1,1577.7 L1099.7,1581.2 L1101.4,1584.7 L1104.8,1588.2 L1116.1,1591.7Z" fill="#1f6db5" stroke="#1a1a1a" stroke-width="1.1"/>
<line x1="1116.1" y1="1591.7" x2="1116.1" y2="1451.9" stroke="#1a1a1a" stroke-width="1"/>
<line x1="1116.1" y1="1560" x2="1116.1" y2="1578.6" stroke="#333" stroke-width="3.2"/>
<line x1="1114.9" y1="1571.2" x2="1117.3" y2="1571.2" stroke="#fff" stroke-width="1.2"/>
<path d="M1151.6,1592.6 L1161.1,1590.1 L1164,1587.6 L1165.4,1585.1 L1166,1582.7 L1166.2,1580.2 L1165.9,1577.7 L1165.3,1575.2 L1164.6,1572.7 L1163.7,1570.2 L1162.7,1567.7 L1161.7,1565.2 L1160.7,1562.7 L1159.6,1560.2 L1158.6,1557.7 L1157.7,1555.2 L1156.8,1552.7 L1156,1550.2 L1155.3,1547.7 L1154.7,1545.3 L1154.2,1542.8 L1153.7,1540.3 L1153.3,1537.8 L1153,1535.3 L1152.7,1532.8 L1152.5,1530.3 L1152.3,1527.8 L1152.2,1525.3 L1152.1,1522.8 L1152,1520.3 L1151.9,1517.8 L1151.9,1515.3 L1151.8,1512.8 L1151.8,1510.4 L1151.8,1507.9 L1151.8,1505.4 L1151.8,1502.9 L1151.8,1500.4 L1151.8,1497.9 L1151.8,1495.4 L1151.8,1492.9 L1151.4,1492.9 L1151.4,1495.4 L1151.4,1497.9 L1151.4,1500.4 L1151.4,1502.9 L1151.4,1505.4 L1151.4,1507.9 L1151.4,1510.4 L1151.4,1512.8 L1151.3,1515.3 L1151.3,1517.8 L1151.2,1520.3 L1151.1,1522.8 L1151,1525.3 L1150.9,1527.8 L1150.7,1530.3 L1150.5,1532.8 L1150.2,1535.3 L1149.9,1537.8 L1149.5,1540.3 L1149,1542.8 L1148.5,1545.3 L1147.9,1547.7 L1147.2,1550.2 L1146.4,1552.7 L1145.5,1555.2 L1144.6,1557.7 L1143.6,1560.2 L1142.5,1562.7 L1141.5,1565.2 L1140.5,1567.7 L1139.5,1570.2 L1138.6,1572.7 L1137.9,1575.2 L1137.3,1577.7 L1137,1580.2 L1137.2,1582.7 L1137.8,1585.1 L1139.2,1587.6 L1142.1,1590.1 L1151.6,1592.6Z" fill="#d4d4d6" stroke="#1a1a1a" stroke-width="1.1"/>
<line x1="1151.6" y1="1592.6" x2="1151.6" y2="1492.9" stroke="#1a1a1a" stroke-width="1"/>
<line x1="1151.6" y1="1573.1" x2="1151.6" y2="1582.4" stroke="#333" stroke-width="3.2"/>
<line x1="1150.4" y1="1579.6" x2="1152.8" y2="1579.6" stroke="#fff" stroke-width="1.2"/>
<text x="1132.6" y="1632.5" text-anchor="middle">Bend</text>
<line x1="1207.8" y1="1602.3" x2="1207.8" y2="1607.9" stroke="#222" stroke-width="1.5"/>
<path d="M1191.3,1591.7 L1203.3,1586.6 L1206.8,1581.4 L1208.4,1576.3 L1208.8,1571.2 L1208.7,1566.1 L1208.2,1560.9 L1207.5,1555.8 L1206.6,1550.7 L1205.5,1545.6 L1204.4,1540.4 L1203.2,1535.3 L1202,1530.2 L1200.8,1525.1 L1199.6,1519.9 L1198.5,1514.8 L1197.5,1509.7 L1196.6,1504.5 L1195.8,1499.4 L1195.1,1494.3 L1194.4,1489.2 L1193.9,1484 L1193.4,1478.9 L1193,1473.8 L1192.7,1468.7 L1192.4,1463.5 L1192.2,1458.4 L1192,1453.3 L1191.9,1448.2 L1191.8,1443 L1191.7,1437.9 L1191.6,1432.8 L1191.6,1427.7 L1191.5,1422.5 L1191.5,1417.4 L1191.5,1412.3 L1191.5,1407.2 L1191.5,1402 L1191.5,1396.9 L1191.5,1391.8 L1191.5,1386.7 L1191.1,1386.7 L1191.1,1391.8 L1191.1,1396.9 L1191.1,1402 L1191.1,1407.2 L1191.1,1412.3 L1191.1,1417.4 L1191.1,1422.5 L1191,1427.7 L1191,1432.8 L1190.9,1437.9 L1190.8,1443 L1190.7,1448.2 L1190.6,1453.3 L1190.4,1458.4 L1190.2,1463.5 L1189.9,1468.7 L1189.6,1473.8 L1189.2,1478.9 L1188.7,1484 L1188.2,1489.2 L1187.5,1494.3 L1186.8,1499.4 L1186,1504.5 L1185.1,1509.7 L1184.1,1514.8 L1183,1519.9 L1181.8,1525.1 L1180.6,1530.2 L1179.4,1535.3 L1178.2,1540.4 L1177.1,1545.6 L1176,1550.7 L1175.1,1555.8 L1174.4,1560.9 L1173.9,1566.1 L1173.8,1571.2 L1174.2,1576.3 L1175.8,1581.4 L1179.3,1586.6 L1191.3,1591.7Z" fill="#1f6db5" stroke="#1a1a1a" stroke-width="1.1"/>
<line x1="1191.3" y1="1591.7" x2="1191.3" y2="1386.7" stroke="#1a1a1a" stroke-width="1"/>
<line x1="1191.3" y1="1535.8" x2="1191.3" y2="1567.5" stroke="#333" stroke-width="3.2"/>
<line x1="1190.1" y1="1556.3" x2="1192.5" y2="1556.3" stroke="#fff" stroke-width="1.2"/>
<path d="M1226.8,1593.6 L1237.6,1588.8 L1240.5,1584.1 L1241.7,1579.4 L1241.9,1574.7 L1241.6,1570 L1240.9,1565.3 L1240.1,1560.6 L1239.2,1555.9 L1238.1,1551.2 L1237,1546.5 L1235.9,1541.8 L1234.8,1537.1 L1233.7,1532.4 L1232.7,1527.7 L1231.8,1523 L1231,1518.3 L1230.3,1513.5 L1229.6,1508.8 L1229.1,1504.1 L1228.7,1499.4 L1228.3,1494.7 L1228,1490 L1227.7,1485.3 L1227.6,1480.6 L1227.4,1475.9 L1227.3,1471.2 L1227.2,1466.5 L1227.1,1461.8 L1227.1,1457.1 L1227,1452.4 L1227,1447.7 L1227,1442.9 L1227,1438.2 L1227,1433.5 L1227,1428.8 L1227,1424.1 L1227,1419.4 L1227,1414.7 L1227,1410 L1227,1405.3 L1226.6,1405.3 L1226.6,1410 L1226.6,1414.7 L1226.6,1419.4 L1226.6,1424.1 L1226.6,1428.8 L1226.6,1433.5 L1226.6,1438.2 L1226.6,1442.9 L1226.6,1447.7 L1226.6,1452.4 L1226.5,1457.1 L1226.5,1461.8 L1226.4,1466.5 L1226.3,1471.2 L1226.2,1475.9 L1226,1480.6 L1225.9,1485.3 L1225.6,1490 L1225.3,1494.7 L1224.9,1499.4 L1224.5,1504.1 L1224,1508.8 L1223.3,1513.5 L1222.6,1518.3 L1221.8,1523 L1220.9,1527.7 L1219.9,1532.4 L1218.8,1537.1 L1217.7,1541.8 L1216.6,1546.5 L1215.5,1551.2 L1214.4,1555.9 L1213.5,1560.6 L1212.7,1565.3 L1212,1570 L1211.7,1574.7 L1211.9,1579.4 L1213.1,1584.1 L1216,1588.8 L1226.8,1593.6Z" fill="#d4d4d6" stroke="#1a1a1a" stroke-width="1.1"/>
<line x1="1226.8" y1="1593.6" x2="1226.8" y2="1405.3" stroke="#1a1a1a" stroke-width="1"/>
<line x1="1226.8" y1="1556.3" x2="1226.8" y2="1576.8" stroke="#333" stroke-width="3.2"/>
<line x1="1225.6" y1="1569.3" x2="1228" y2="1569.3" stroke="#fff" stroke-width="1.2"/>
<text x="1207.8" y="1632.5" text-anchor="middle">Other/</text>
<text x="1207.8" y="1653.4" text-anchor="middle">loop</text>
<rect x="810" y="1398.3" width="10" height="10.6" fill="#1f6db5" stroke="#222" stroke-width="1"/>
<text x="831.2" y="1408.9"><tspan font-style="italic">M. genitalium</tspan> Evo 2</text>
<rect x="810" y="1428.4" width="10" height="10.6" fill="#d4d4d6" stroke="#444" stroke-width="1"/>
<text x="831.2" y="1439.6"><tspan font-style="italic">M. genitalium</tspan> WT</text>
<text x="734.5" y="1493.3" text-anchor="middle" transform="rotate(-90 734.5 1493.3)">Segments/protein</text>
<text x="1248" y="1360.5" font-size="32" font-weight="bold" fill="#000">k</text>
<text x="1370.5" y="1391" text-anchor="middle">2-dehydro-3-</text>
<text x="1370.5" y="1412.2" text-anchor="middle">deoxyphosphooctonate</text>
<text x="1370.5" y="1432.5" text-anchor="middle">aldolase</text>
<text x="1370.5" y="1457.2" text-anchor="middle">Sequence ID: 54.7%</text>
<text x="1370.5" y="1481" text-anchor="middle">TM score: 0.94</text>
<text x="1577.4" y="1558.4" text-anchor="middle">Elongation factor TU</text>
<text x="1577.4" y="1583.2" text-anchor="middle">Sequence ID: 72.1%</text>
<text x="1577.4" y="1607" text-anchor="middle">TM score: 0.97</text>
<text x="1775.3" y="1389.7" text-anchor="middle">Arginine-tRNA ligase</text>
<text x="1775.3" y="1414.5" text-anchor="middle">Sequence ID: 52.6%</text>
<text x="1775.3" y="1438.3" text-anchor="middle">TM score: 0.90</text>
<text x="1986.7" y="1567.4" text-anchor="middle">Rod shape</text>
<text x="1986.7" y="1591.3" text-anchor="middle">determining protein</text>
<text x="1986.7" y="1614.6" text-anchor="middle">Sequence ID: 50.1%</text>
<text x="1986.7" y="1638.5" text-anchor="middle">TM score: 0.94</text>
<clipPath id="kc1"><path d="M1297,1518 C1302.3,1511.8 1312.5,1518.3 1321,1516 C1329.5,1513.7 1339.3,1505.5 1348,1504 C1356.7,1502.5 1365,1504 1373,1507 C1381,1510 1391.2,1520.7 1396,1522 C1400.8,1523.3 1400.7,1508.7 1402,1515 C1403.3,1521.3 1401.8,1545 1404,1560 C1406.2,1575 1416.3,1595.2 1415,1605 C1413.7,1614.8 1402.7,1613.8 1396,1619 C1389.3,1624.2 1384,1633.8 1375,1636 C1366,1638.2 1352,1634.8 1342,1632 C1332,1629.2 1319.8,1623.5 1315,1619 C1310.2,1614.5 1317.2,1611.8 1313,1605 C1308.8,1598.2 1294,1586.7 1290,1578 C1286,1569.3 1287.8,1563 1289,1553 C1290.2,1543 1291.7,1524.2 1297,1518Z"/></clipPath>
<g fill="none" stroke-linecap="round" stroke-linejoin="round" clip-path="url(#kc1)">
<defs><path id="rb2" d="M1386.5 1607.4l-1.1 15.2M1315.2 1551.3l6.3 25.3M1289 1540.6l19.5 9.4M1313 1574.3l-12.5 25.1M1318.7 1596.4l-6.2 12.9"/></defs>
<use href="#rb2" stroke="#2f3d58" stroke-width="6.1"/>
<use href="#rb2" stroke="#3d7cc9" stroke-width="4.6"/>
<defs><path id="rb3" d="M1355.2 1516.5l-16.7 8.5M1398.9 1571l-9.1 28.4M1374.2 1566.8l-10 10.5"/></defs>
<use href="#rb3" stroke="#2f3d58" stroke-width="6.1"/>
<use href="#rb3" stroke="#eef0f3" stroke-width="4.6"/>
<defs><path id="rb4" d="M1323.4 1581.1 1321.6 1589.4 1329.1 1585.4 1327.3 1593.8 1334.9 1589.7 1333.1 1598.1M1418.7 1582.3 1409 1578.8 1414 1587.7 1404.4 1584.3 1409.3 1593.2M1408.8 1523.6 1404.7 1515.1 1401.6 1524 1397.5 1515.5 1394.4 1524.4 1390.4 1515.9"/></defs>
<use href="#rb4" stroke="#2f3d58" stroke-width="5.1"/>
<use href="#rb4" stroke="#eef0f3" stroke-width="3.6"/>
<defs><path id="rb5" d="M1338.9 1604.1 1330 1607.3 1338.5 1611.3 1329.6 1614.5 1338.1 1618.5 1329.2 1621.6"/></defs>
<use href="#rb5" stroke="#2f3d58" stroke-width="5.1"/>
<use href="#rb5" stroke="#3d7cc9" stroke-width="3.6"/>
<defs><path id="rb6" d="M1402,1604 C1403.2,1605.7 1409.3,1611.3 1409,1614 C1408.7,1616.7 1401.7,1616.8 1400,1620 C1398.3,1623.2 1399.2,1630.8 1399,1633M1352,1603 C1349.8,1602.5 1341.5,1599 1339,1600 C1336.5,1601 1337.3,1606 1337,1609 C1336.7,1612 1337,1616.5 1337,1618M1336,1564 C1337.5,1565.3 1341.8,1569.2 1345,1572 C1348.2,1574.8 1352.5,1578 1355,1581 C1357.5,1584 1359.2,1588.5 1360,1590M1372,1587 C1373.5,1587.8 1377.5,1591.2 1381,1592 C1384.5,1592.8 1389.8,1592.5 1393,1592 C1396.2,1591.5 1398.8,1589.5 1400,1589"/></defs>
<use href="#rb6" stroke="#2f3d58" stroke-width="3"/>
<use href="#rb6" stroke="#eef0f3" stroke-width="1.5"/>
<defs><path id="rb7" d="M1366,1614 C1364.8,1611.8 1361,1604.8 1359,1601 C1357,1597.2 1353.7,1594.5 1354,1591 C1354.3,1587.5 1359.8,1581.8 1361,1580M1312,1534 C1312.8,1532.2 1314.7,1525.7 1317,1523 C1319.3,1520.3 1323.7,1519.8 1326,1518 C1328.3,1516.2 1330.2,1513 1331,1512M1395,1550 C1397.2,1549.5 1404.5,1549.5 1408,1547 C1411.5,1544.5 1415.5,1538.3 1416,1535 C1416.5,1531.7 1411.8,1528.3 1411,1527"/></defs>
<use href="#rb7" stroke="#2f3d58" stroke-width="3"/>
<use href="#rb7" stroke="#3d7cc9" stroke-width="1.5"/>
<defs><path id="rb8" d="M1391.6 1587.5l-17.7 19.9M1346.8 1611.1l14.2 7"/></defs>
<use href="#rb8" stroke="#2f3d58" stroke-width="6.1"/>
<use href="#rb8" stroke="#eef0f3" stroke-width="4.6"/>
<defs><path id="rb9" d="M1336 1529.8l21.4 7.1"/></defs>
<use href="#rb9" stroke="#2f3d58" stroke-width="6.1"/>
<use href="#rb9" stroke="#3d7cc9" stroke-width="4.6"/>
<defs><path id="rb10" d="M1300.7 1557.9 1302.4 1567.5 1307.8 1559.4 1309.4 1569 1314.8 1560.9M1340.5 1522.7 1330.9 1520.4 1336.5 1528.6 1326.8 1526.4 1332.4 1534.6 1322.8 1532.3 1328.4 1540.5 1318.7 1538.3M1369.6 1537.8 1360.9 1539.5 1368 1544.8 1359.3 1546.6 1366.4 1551.9 1357.7 1553.6 1364.9 1558.9 1356.1 1560.6"/></defs>
<use href="#rb10" stroke="#2f3d58" stroke-width="5.1"/>
<use href="#rb10" stroke="#eef0f3" stroke-width="3.6"/>
<defs><path id="rb11" d="M1370.2 1588.8 1365.1 1580.3 1363.1 1590 1358 1581.5 1356 1591.2 1350.9 1582.7 1348.9 1592.4M1376.5 1625 1368.4 1621.7 1371.4 1630 1363.2 1626.7 1366.2 1634.9 1358.1 1631.7 1361 1639.9M1394.8 1561.4 1394.2 1571.7 1401.4 1564.3 1400.8 1574.6 1408 1567.2 1407.3 1577.5 1414.6 1570.1 1413.9 1580.5"/></defs>
<use href="#rb11" stroke="#2f3d58" stroke-width="5.1"/>
<use href="#rb11" stroke="#3d7cc9" stroke-width="3.6"/>
<defs><path id="rb12" d="M1353,1623 C1353.8,1623.8 1355,1626.5 1358,1628 C1361,1629.5 1368,1632.8 1371,1632 C1374,1631.2 1375.2,1624.5 1376,1623M1396,1611 C1396.7,1612.2 1397.3,1616.8 1400,1618 C1402.7,1619.2 1407.5,1617.5 1412,1618 C1416.5,1618.5 1424.5,1620.5 1427,1621M1319,1574 C1320.5,1575.8 1326.5,1581.5 1328,1585 C1329.5,1588.5 1328.5,1591.2 1328,1595 C1327.5,1598.8 1325.5,1605.8 1325,1608"/></defs>
<use href="#rb12" stroke="#2f3d58" stroke-width="3"/>
<use href="#rb12" stroke="#3d7cc9" stroke-width="1.5"/>
<defs><path id="rb13" d="M1348,1549 C1350,1547.8 1355.8,1542.7 1360,1542 C1364.2,1541.3 1369,1543.3 1373,1545 C1377,1546.7 1382.2,1550.8 1384,1552M1337,1627 C1337.8,1625.3 1341,1620.5 1342,1617 C1343,1613.5 1341.2,1609.2 1343,1606 C1344.8,1602.8 1351.3,1599.3 1353,1598M1393,1537 C1393.2,1535.2 1392.8,1528.8 1394,1526 C1395.2,1523.2 1398,1521.8 1400,1520 C1402,1518.2 1405,1515.8 1406,1515M1385,1560 C1383.2,1561.2 1376.8,1568 1374,1567 C1371.2,1566 1368.7,1557.8 1368,1554 C1367.3,1550.2 1369.7,1545.7 1370,1544M1354,1575 C1353.8,1572.5 1352.7,1564.2 1353,1560 C1353.3,1555.8 1356.2,1553.3 1356,1550 C1355.8,1546.7 1352.7,1541.7 1352,1540M1314,1545 C1312.2,1543.3 1305.8,1537.5 1303,1535 C1300.2,1532.5 1299.7,1532.3 1297,1530 C1294.3,1527.7 1288.7,1522.5 1287,1521M1384,1522 C1384.8,1522.8 1387.3,1524.2 1389,1527 C1390.7,1529.8 1394.2,1535.5 1394,1539 C1393.8,1542.5 1389,1546.5 1388,1548"/></defs>
<use href="#rb13" stroke="#2f3d58" stroke-width="3"/>
<use href="#rb13" stroke="#eef0f3" stroke-width="1.5"/>
<defs><path id="rb14" d="M1291.5 1523.5l12.6 18.7M1334.3 1573.5l11.8 8.4M1340.6 1575.8l-3.1 16.4"/></defs>
<use href="#rb14" stroke="#2f3d58" stroke-width="6.1"/>
<use href="#rb14" stroke="#eef0f3" stroke-width="4.6"/>
<defs><path id="rb15" d="M1321.6 1515.6l17.6 3.9M1368.7 1553.8l-22.3 14.2M1330.2 1588.5l8.3 27.2"/></defs>
<use href="#rb15" stroke="#2f3d58" stroke-width="6.1"/>
<use href="#rb15" stroke="#3d7cc9" stroke-width="4.6"/>
<defs><path id="rb16" d="M1381.1 1538.8 1371.5 1542.6 1381.3 1546 1371.7 1549.8 1381.5 1553.2M1373.9 1549.8 1365.5 1554.5 1374.9 1556.9 1366.5 1561.6 1375.9 1564 1367.4 1568.8 1376.8 1571.2M1365 1510.3 1357.5 1514.5 1365.5 1517.5 1358 1521.7 1366.1 1524.7 1358.5 1528.8"/></defs>
<use href="#rb16" stroke="#2f3d58" stroke-width="5.1"/>
<use href="#rb16" stroke="#eef0f3" stroke-width="3.6"/>
<defs><path id="rb17" d="M1373.2 1616.3 1373.7 1626.6 1380 1618.5 1380.6 1628.8 1386.9 1620.7 1387.4 1630.9 1393.8 1622.8 1394.3 1633.1M1317.8 1567.3 1309.7 1561.7 1311.9 1571.3 1303.7 1565.7 1305.9 1575.4 1297.8 1569.8 1299.9 1579.4 1291.8 1573.8M1317.2 1606.2 1309.9 1613.6 1320.3 1612.7 1313 1620.1 1323.4 1619.2 1316.1 1626.7M1393.1 1567.4 1383.8 1564.1 1388.4 1572.9 1379.1 1569.6 1383.7 1578.3M1380.2 1525.9 1372.4 1530.3 1380.9 1533.1 1373.1 1537.4 1381.6 1540.2 1373.8 1544.6 1382.3 1547.4"/></defs>
<use href="#rb17" stroke="#2f3d58" stroke-width="5.1"/>
<use href="#rb17" stroke="#3d7cc9" stroke-width="3.6"/>
<defs><path id="rb18" d="M1313,1519 C1313.7,1520.3 1315.5,1524.7 1317,1527 C1318.5,1529.3 1320.2,1530.3 1322,1533 C1323.8,1535.7 1327,1541.3 1328,1543M1368,1598 C1370.3,1597 1378.2,1591 1382,1592 C1385.8,1593 1388.5,1601.2 1391,1604 C1393.5,1606.8 1396,1608.2 1397,1609"/></defs>
<use href="#rb18" stroke="#2f3d58" stroke-width="3"/>
<use href="#rb18" stroke="#3d7cc9" stroke-width="1.5"/>
<defs><path id="rb19" d="M1364,1533 C1364.8,1535.2 1368.8,1542.3 1369,1546 C1369.2,1549.7 1366.8,1551.8 1365,1555 C1363.2,1558.2 1359.2,1563.3 1358,1565M1326,1546 C1324.2,1544.3 1317.8,1538.2 1315,1536 C1312.2,1533.8 1311.3,1534 1309,1533 C1306.7,1532 1302.3,1530.5 1301,1530"/></defs>
<use href="#rb19" stroke="#2f3d58" stroke-width="3"/>
<use href="#rb19" stroke="#eef0f3" stroke-width="1.5"/>
</g>
<g fill="none" stroke-linejoin="round">
<path d="M1408.5 1492 1419.5 1495.6 1408.5 1499.2 1419.5 1502.8 1408.5 1506.4 1419.5 1510 1408.5 1513.6 1419.5 1517.2 1408.5 1520.8 1419.5 1524.4 1408.5 1528 1419.5 1531.6 1408.5 1535.2 1419.5 1538.8 1408.5 1542.4 1419.5 1546 1408.5 1549.6 1419.5 1553.2 1408.5 1556.8 1419.5 1560.4 1408.5 1564 1419.5 1567.6 1408.5 1571.2 1419.5 1574.8 1408.5 1578.4 1419.5 1582 1408.5 1585.6 1419.5 1589.2 1408.5 1592.8 1419.5 1596.4 1408.5 1600" stroke="#2f3d58" stroke-width="5.8"/>
<path d="M1408.5 1492 1419.5 1495.6 1408.5 1499.2 1419.5 1502.8 1408.5 1506.4 1419.5 1510 1408.5 1513.6 1419.5 1517.2 1408.5 1520.8 1419.5 1524.4 1408.5 1528 1419.5 1531.6" stroke="#eef0f3" stroke-width="4.3"/>
<path d="M1419.5 1531.6 1408.5 1535.2 1419.5 1538.8 1408.5 1542.4 1419.5 1546 1408.5 1549.6 1419.5 1553.2 1408.5 1556.8 1419.5 1560.4 1408.5 1564 1419.5 1567.6 1408.5 1571.2 1419.5 1574.8 1408.5 1578.4 1419.5 1582 1408.5 1585.6 1419.5 1589.2 1408.5 1592.8 1419.5 1596.4 1408.5 1600" stroke="#3d7cc9" stroke-width="4.3"/>
</g>
<clipPath id="kc20"><path d="M1493,1418 C1493.8,1408 1497.5,1394.2 1502,1387 C1506.5,1379.8 1512.2,1374.3 1520,1375 C1527.8,1375.7 1540,1391.3 1549,1391 C1558,1390.7 1566,1376.3 1574,1373 C1582,1369.7 1587.3,1369.7 1597,1371 C1606.7,1372.3 1626.2,1375.5 1632,1381 C1637.8,1386.5 1627.5,1399.2 1632,1404 C1636.5,1408.8 1654.2,1405.2 1659,1410 C1663.8,1414.8 1664.8,1423.7 1661,1433 C1657.2,1442.3 1645,1457.8 1636,1466 C1627,1474.2 1614.5,1476.5 1607,1482 C1599.5,1487.5 1596.2,1493.3 1591,1499 C1585.8,1504.7 1580.8,1510.5 1576,1516 C1571.2,1521.5 1566.2,1528.7 1562,1532 C1557.8,1535.3 1554.5,1539.8 1551,1536 C1547.5,1532.2 1546.5,1515.2 1541,1509 C1535.5,1502.8 1522.8,1504.8 1518,1499 C1513.2,1493.2 1515.5,1482.7 1512,1474 C1508.5,1465.3 1500.2,1456.3 1497,1447 C1493.8,1437.7 1492.2,1428 1493,1418Z"/></clipPath>
<g fill="none" stroke-linecap="round" stroke-linejoin="round" clip-path="url(#kc20)">
<defs><path id="rb21" d="M1550.6 1415.1l7.4 18.9M1495.5 1436.2l26.8 9.6"/></defs>
<use href="#rb21" stroke="#2f3d58" stroke-width="6.1"/>
<use href="#rb21" stroke="#eef0f3" stroke-width="4.6"/>
<defs><path id="rb22" d="M1554.2 1375.9l6.2 20.9M1609.7 1416.6l23.1 1.6"/></defs>
<use href="#rb22" stroke="#2f3d58" stroke-width="6.1"/>
<use href="#rb22" stroke="#3d7cc9" stroke-width="4.6"/>
<defs><path id="rb23" d="M1661.9 1415.8 1654.2 1412.2 1656.4 1420.4 1648.7 1416.9 1650.9 1425.1M1630.1 1376.5 1622.4 1371.9 1624.3 1380.7 1616.5 1376.1 1618.4 1384.9M1551.6 1390.4 1543.6 1395.5 1552.9 1397.5 1544.9 1402.6 1554.2 1404.6 1546.2 1409.7 1555.5 1411.7M1575.9 1430 1571.2 1438.8 1580.6 1435.5 1575.9 1444.3 1585.3 1441M1587.2 1476.8 1579.3 1472.7 1581.6 1481.3 1573.7 1477.2 1575.9 1485.8 1568.1 1481.7M1631.8 1402.4 1625.1 1396.6 1625.3 1405.5 1618.6 1399.7 1618.8 1408.6 1612.1 1402.8 1612.3 1411.7 1605.6 1405.9M1569.1 1404.4 1563.8 1412.4 1573.2 1410.3 1567.9 1418.3 1577.3 1416.2 1572 1424.3 1581.4 1422.1M1594 1460 1589.8 1467.4 1598.2 1465.8 1594.1 1473.3 1602.4 1471.6M1626.9 1427.2 1617.3 1431 1627 1434.4 1617.4 1438.2 1627.1 1441.6 1617.5 1445.4M1502.1 1399.8 1497.5 1408.6 1506.9 1405.2 1502.3 1414 1511.6 1410.6 1507 1419.4 1516.4 1416"/></defs>
<use href="#rb23" stroke="#2f3d58" stroke-width="5.1"/>
<use href="#rb23" stroke="#3d7cc9" stroke-width="3.6"/>
<defs><path id="rb24" d="M1554.8 1460 1555.2 1469.3 1561.5 1462.5 1561.9 1471.8 1568.3 1464.9 1568.7 1474.3 1575.1 1467.4 1575.5 1476.8M1657.1 1421.1 1648.6 1419.2 1652.8 1426.9 1644.2 1425 1648.4 1432.6 1639.9 1430.7 1644.1 1438.4M1514.2 1403 1511 1411.5 1519.4 1408 1516.2 1416.5 1524.6 1413M1518.7 1458.9 1510.2 1457.4 1514.6 1464.8 1506.1 1463.3 1510.5 1470.8 1502 1469.3M1546.6 1492.9 1539.5 1499.2 1549 1499.7 1541.9 1506 1551.4 1506.4 1544.3 1512.8"/></defs>
<use href="#rb24" stroke="#2f3d58" stroke-width="5.1"/>
<use href="#rb24" stroke="#eef0f3" stroke-width="3.6"/>
<defs><path id="rb25" d="M1536,1412 C1533.7,1412.3 1524.3,1412.2 1522,1414 C1519.7,1415.8 1521.2,1420 1522,1423 C1522.8,1426 1526.2,1430.5 1527,1432M1560,1479 C1559.8,1480.2 1558.7,1482.5 1559,1486 C1559.3,1489.5 1561.3,1495.5 1562,1500 C1562.7,1504.5 1562.8,1510.8 1563,1513M1623,1454 C1623.3,1456.3 1623.3,1463.5 1625,1468 C1626.7,1472.5 1630.8,1478 1633,1481 C1635.2,1484 1637.2,1485.2 1638,1486M1592,1385 C1591,1386.8 1585.7,1392.7 1586,1396 C1586.3,1399.3 1590.3,1402.3 1594,1405 C1597.7,1407.7 1605.7,1410.8 1608,1412M1573,1457 C1572,1457.7 1569.3,1459.7 1567,1461 C1564.7,1462.3 1562.3,1463.7 1559,1465 C1555.7,1466.3 1549,1468.3 1547,1469M1598,1428 C1598.2,1426 1599.2,1419.2 1599,1416 C1598.8,1412.8 1596.2,1412 1597,1409 C1597.8,1406 1602.8,1399.8 1604,1398"/></defs>
<use href="#rb25" stroke="#2f3d58" stroke-width="3"/>
<use href="#rb25" stroke="#eef0f3" stroke-width="1.5"/>
<defs><path id="rb26" d="M1557,1412 C1557.2,1410 1556,1402.5 1558,1400 C1560,1397.5 1565.7,1395.5 1569,1397 C1572.3,1398.5 1576.5,1407 1578,1409M1526,1388 C1527.8,1386.7 1533.5,1380.7 1537,1380 C1540.5,1379.3 1545.8,1382 1547,1384 C1548.2,1386 1544.5,1390.7 1544,1392"/></defs>
<use href="#rb26" stroke="#2f3d58" stroke-width="3"/>
<use href="#rb26" stroke="#3d7cc9" stroke-width="1.5"/>
<defs><path id="rb27" d="M1539.4 1484l-20.7 13.5M1573.9 1495.8l-0.6 14.5M1552.8 1383.5l-26.2 6.4M1533.6 1462.9l16.8 6.3"/></defs>
<use href="#rb27" stroke="#2f3d58" stroke-width="6.1"/>
<use href="#rb27" stroke="#3d7cc9" stroke-width="4.6"/>
<defs><path id="rb28" d="M1570.5 1397.5l-11.1 12.9M1577.8 1360l5.7 27.1M1573 1421.5l-5.7 18.6M1536.6 1441.1l5.9 20.5M1628.7 1421.3l12.2 15.4M1585.3 1470.2l25.5 14.8M1579.5 1390l8.5 24.5"/></defs>
<use href="#rb28" stroke="#2f3d58" stroke-width="6.1"/>
<use href="#rb28" stroke="#eef0f3" stroke-width="4.6"/>
<defs><path id="rb29" d="M1618.2 1388 1614.1 1380.3 1611 1388.5 1606.9 1380.8 1603.9 1389 1599.7 1381.3 1596.7 1389.5 1592.5 1381.8M1528.9 1427.2 1524.4 1419.3 1521.8 1428 1517.3 1420.1 1514.6 1428.8 1510.1 1421 1507.5 1429.6M1615.7 1375 1608.3 1368.1 1609.2 1378.2 1601.8 1371.2 1602.8 1381.3 1595.4 1374.4M1628.2 1432.4 1628.6 1442.8 1635 1434.6 1635.4 1445 1641.9 1436.9 1642.2 1447.3 1648.7 1439.2"/></defs>
<use href="#rb29" stroke="#2f3d58" stroke-width="5.1"/>
<use href="#rb29" stroke="#eef0f3" stroke-width="3.6"/>
<defs><path id="rb30" d="M1566.8 1502 1558.3 1496.3 1561 1506.2 1552.5 1500.6 1555.1 1510.4 1546.6 1504.8 1549.3 1514.6M1635.1 1443.4 1632.8 1451.9 1640.7 1447.9 1638.4 1456.5 1646.3 1452.5 1644 1461M1637.6 1465.7 1628.7 1462.1 1632.5 1470.9 1623.6 1467.2 1627.5 1476M1627.9 1382.1 1619 1383.9 1626.4 1389.1 1617.5 1390.9 1624.9 1396.2"/></defs>
<use href="#rb30" stroke="#2f3d58" stroke-width="5.1"/>
<use href="#rb30" stroke="#3d7cc9" stroke-width="3.6"/>
<defs><path id="rb31" d="M1594,1493 C1594.7,1491.5 1596.7,1486.7 1598,1484 C1599.3,1481.3 1600,1477.8 1602,1477 C1604,1476.2 1608.7,1478.7 1610,1479M1620,1427 C1619,1425.7 1615.2,1422.5 1614,1419 C1612.8,1415.5 1612.3,1409.2 1613,1406 C1613.7,1402.8 1617.2,1401 1618,1400M1511,1458 C1511.8,1456.8 1516,1453.5 1516,1451 C1516,1448.5 1512.7,1446.2 1511,1443 C1509.3,1439.8 1506.8,1433.8 1506,1432M1540,1441 C1541.2,1440.3 1544.7,1437.8 1547,1437 C1549.3,1436.2 1551.3,1435 1554,1436 C1556.7,1437 1561.5,1441.8 1563,1443"/></defs>
<use href="#rb31" stroke="#2f3d58" stroke-width="3"/>
<use href="#rb31" stroke="#3d7cc9" stroke-width="1.5"/>
<defs><path id="rb32" d="M1537,1430 C1539.3,1430.3 1547.7,1430.8 1551,1432 C1554.3,1433.2 1555,1435 1557,1437 C1559,1439 1562,1442.8 1563,1444M1604,1444 C1606,1443.5 1611.7,1441.2 1616,1441 C1620.3,1440.8 1628.8,1442.3 1630,1443 C1631.2,1443.7 1624.2,1444.7 1623,1445M1560,1441 C1557.8,1441 1550.8,1441.5 1547,1441 C1543.2,1440.5 1538.2,1440.8 1537,1438 C1535.8,1435.2 1539.5,1426.3 1540,1424"/></defs>
<use href="#rb32" stroke="#2f3d58" stroke-width="3"/>
<use href="#rb32" stroke="#eef0f3" stroke-width="1.5"/>
<defs><path id="rb33" d="M1526.3 1457.9l8.3 11.5M1549.8 1493.4l-13.3 5.3M1566.1 1493.1l18.8 5.8M1612.1 1457.6l-0.6 17.1M1590.2 1433.7l6.8 17.4M1551.3 1520l22.3 4.5"/></defs>
<use href="#rb33" stroke="#2f3d58" stroke-width="6.1"/>
<use href="#rb33" stroke="#eef0f3" stroke-width="4.6"/>
<defs><path id="rb34" d="M1523.8 1386.3l10.7 24.8M1615.4 1450.7l-22 5.4"/></defs>
<use href="#rb34" stroke="#2f3d58" stroke-width="6.1"/>
<use href="#rb34" stroke="#3d7cc9" stroke-width="4.6"/>
<defs><path id="rb35" d="M1516.4 1445.2 1519.2 1455 1523.6 1445.9 1526.4 1455.6 1530.7 1446.5 1533.5 1456.2 1537.9 1447.1 1540.7 1456.8M1644.3 1422.2 1640.6 1414 1637.1 1422.2 1633.4 1414 1629.9 1422.3M1600.3 1397.8 1595.5 1406.1 1604.7 1403.5 1599.9 1411.8 1609.1 1409.1 1604.4 1417.4 1613.6 1414.8"/></defs>
<use href="#rb35" stroke="#2f3d58" stroke-width="5.1"/>
<use href="#rb35" stroke="#3d7cc9" stroke-width="3.6"/>
<defs><path id="rb36" d="M1570.2 1444.4 1561.4 1442.9 1566.3 1450.4 1557.5 1449 1562.4 1456.4 1553.6 1455M1517.2 1391.1 1510.4 1397.5 1519.8 1397.8 1513 1404.2 1522.3 1404.6 1515.5 1410.9M1498.5 1383 1498.3 1392.4 1505.1 1385.9 1504.9 1395.3 1511.7 1388.8M1593.7 1399.8 1584 1400 1591.2 1406.5 1581.5 1406.7 1588.7 1413.3 1579 1413.5 1586.2 1420 1576.5 1420.2M1531.3 1433.9 1521.4 1433.6 1528.4 1440.5 1518.6 1440.2 1525.6 1447.1 1515.7 1446.8 1522.8 1453.7M1595.8 1449.8 1585.7 1451.1 1594.2 1456.8 1584 1458.1 1592.5 1463.8"/></defs>
<use href="#rb36" stroke="#2f3d58" stroke-width="5.1"/>
<use href="#rb36" stroke="#eef0f3" stroke-width="3.6"/>
<defs><path id="rb37" d="M1547,1478 C1545.2,1477.5 1539.7,1475 1536,1475 C1532.3,1475 1528.8,1476.8 1525,1478 C1521.2,1479.2 1515,1481.3 1513,1482M1504,1428 C1504.5,1426 1504.7,1417.3 1507,1416 C1509.3,1414.7 1514.7,1419 1518,1420 C1521.3,1421 1525.5,1421.7 1527,1422M1500,1400 C1499.7,1401.2 1497,1404 1498,1407 C1499,1410 1502.7,1415.8 1506,1418 C1509.3,1420.2 1516,1419.7 1518,1420"/></defs>
<use href="#rb37" stroke="#2f3d58" stroke-width="3"/>
<use href="#rb37" stroke="#3d7cc9" stroke-width="1.5"/>
<defs><path id="rb38" d="M1600,1403 C1598.2,1402.5 1592.2,1401.7 1589,1400 C1585.8,1398.3 1584.7,1393.8 1581,1393 C1577.3,1392.2 1569.3,1394.7 1567,1395M1583,1425 C1585,1424.7 1592.8,1424.7 1595,1423 C1597.2,1421.3 1594.8,1414.5 1596,1415 C1597.2,1415.5 1601,1424.2 1602,1426M1530,1479 C1528.8,1478 1526,1473.5 1523,1473 C1520,1472.5 1515.8,1474.2 1512,1476 C1508.2,1477.8 1502,1482.7 1500,1484M1575,1385 C1573.7,1383.7 1568.5,1379.7 1567,1377 C1565.5,1374.3 1565.8,1371.5 1566,1369 C1566.2,1366.5 1567.7,1363.2 1568,1362M1580,1469 C1578.3,1467.3 1573.3,1458.8 1570,1459 C1566.7,1459.2 1560.8,1467.3 1560,1470 C1559.2,1472.7 1564.2,1474.2 1565,1475M1559,1494 C1560,1493.2 1562.3,1491.2 1565,1489 C1567.7,1486.8 1573.5,1483.8 1575,1481 C1576.5,1478.2 1574.2,1473.5 1574,1472"/></defs>
<use href="#rb38" stroke="#2f3d58" stroke-width="3"/>
<use href="#rb38" stroke="#eef0f3" stroke-width="1.5"/>
</g>
<path d="M1528,1360 q-2,10 3,18 q6,8 0,14" fill="none" stroke="#3b6fb5" stroke-width="1.6"/>
<clipPath id="kc39"><path d="M1717,1488 C1720,1480 1728.8,1462.2 1737,1457 C1745.2,1451.8 1760.5,1453.8 1766,1457 C1771.5,1460.2 1766.2,1473.3 1770,1476 C1773.8,1478.7 1782.7,1472.7 1789,1473 C1795.3,1473.3 1800.3,1475.8 1808,1478 C1815.7,1480.2 1831,1478.7 1835,1486 C1839,1493.3 1835.8,1513.3 1832,1522 C1828.2,1530.7 1819.5,1533 1812,1538 C1804.5,1543 1793.7,1548.5 1787,1552 C1780.3,1555.5 1776.2,1560 1772,1559 C1767.8,1558 1768.5,1548.8 1762,1546 C1755.5,1543.2 1738.5,1545.3 1733,1542 C1727.5,1538.7 1731.3,1532.2 1729,1526 C1726.7,1519.8 1721,1511.3 1719,1505 C1717,1498.7 1714,1496 1717,1488Z"/></clipPath>
<g fill="none" stroke-linecap="round" stroke-linejoin="round" clip-path="url(#kc39)">
<defs><path id="rb40" d="M1750.9 1471.6l-18.5 2.8"/></defs>
<use href="#rb40" stroke="#2f3d58" stroke-width="6.1"/>
<use href="#rb40" stroke="#3d7cc9" stroke-width="4.6"/>
<defs><path id="rb41" d="M1747.7 1500.2 1745.2 1509.8 1753.5 1504.4 1751 1514 1759.4 1508.7 1756.8 1518.2 1765.2 1512.9M1830.9 1518.1 1827 1509.3 1823.7 1518.4 1819.8 1509.5 1816.6 1518.6 1812.6 1509.8 1809.4 1518.9M1737.8 1478.1 1728.8 1475.7 1733.4 1483.8 1724.4 1481.5 1729.1 1489.5 1720.1 1487.2 1724.7 1495.2M1833.1 1478.1 1823.2 1480.7 1832.3 1485.3 1822.4 1487.8 1831.5 1492.4 1821.6 1495 1830.8 1499.6 1820.9 1502.1M1734.3 1525.9 1729.6 1534.6 1738.9 1531.4 1734.3 1540.1 1743.6 1536.9 1738.9 1545.5 1748.2 1542.4"/></defs>
<use href="#rb41" stroke="#2f3d58" stroke-width="5.1"/>
<use href="#rb41" stroke="#3d7cc9" stroke-width="3.6"/>
<defs><path id="rb42" d="M1773.3 1465.2 1763.3 1462.1 1768.9 1470.9 1758.9 1467.8 1764.6 1476.6 1754.5 1473.5 1760.2 1482.4M1786 1552.5 1778.5 1547.3 1779.9 1556.3 1772.4 1551.1 1773.8 1560.1 1766.3 1554.9 1767.6 1563.9 1760.2 1558.7M1761.4 1521.9 1752.5 1519 1756.6 1527.3 1747.8 1524.4 1751.9 1532.8 1743 1529.8"/></defs>
<use href="#rb42" stroke="#2f3d58" stroke-width="5.1"/>
<use href="#rb42" stroke="#eef0f3" stroke-width="3.6"/>
<defs><path id="rb43" d="M1767,1501 C1765,1501 1756.8,1502.5 1755,1501 C1753.2,1499.5 1755.2,1494.7 1756,1492 C1756.8,1489.3 1759.3,1486.2 1760,1485M1789,1518 C1789.2,1516.8 1789.7,1514.3 1790,1511 C1790.3,1507.7 1788.5,1500.2 1791,1498 C1793.5,1495.8 1802.7,1498 1805,1498M1818,1528 C1816.2,1527 1810.2,1522.8 1807,1522 C1803.8,1521.2 1802.7,1522.3 1799,1523 C1795.3,1523.7 1787.3,1525.5 1785,1526"/></defs>
<use href="#rb43" stroke="#2f3d58" stroke-width="3"/>
<use href="#rb43" stroke="#eef0f3" stroke-width="1.5"/>
<defs><path id="rb44" d="M1772,1511 C1772,1509.5 1773.7,1503.5 1772,1502 C1770.3,1500.5 1766,1501.5 1762,1502 C1758,1502.5 1750.3,1504.5 1748,1505"/></defs>
<use href="#rb44" stroke="#2f3d58" stroke-width="3"/>
<use href="#rb44" stroke="#3d7cc9" stroke-width="1.5"/>
<defs><path id="rb45" d="M1815.7 1529.8l-26.8 2.3"/></defs>
<use href="#rb45" stroke="#2f3d58" stroke-width="6.1"/>
<use href="#rb45" stroke="#3d7cc9" stroke-width="4.6"/>
<defs><path id="rb46" d="M1734.5 1496.3l-9 17.3"/></defs>
<use href="#rb46" stroke="#2f3d58" stroke-width="6.1"/>
<use href="#rb46" stroke="#eef0f3" stroke-width="4.6"/>
<defs><path id="rb47" d="M1728.2 1518.7 1727.3 1527.1 1734.4 1522.5 1733.4 1530.9 1740.5 1526.3M1726.9 1466.6 1720.6 1474.7 1730.7 1472.7 1724.4 1480.8 1734.4 1478.9M1740.4 1508 1731.6 1503.7 1735.1 1512.8 1726.3 1508.5 1729.7 1517.7 1720.9 1513.4 1724.4 1522.5 1715.6 1518.2"/></defs>
<use href="#rb47" stroke="#2f3d58" stroke-width="5.1"/>
<use href="#rb47" stroke="#3d7cc9" stroke-width="3.6"/>
<defs><path id="rb48" d="M1759.9 1455.5 1754.9 1464.8 1764.7 1460.9 1759.7 1470.2"/></defs>
<use href="#rb48" stroke="#2f3d58" stroke-width="5.1"/>
<use href="#rb48" stroke="#eef0f3" stroke-width="3.6"/>
<defs><path id="rb49" d="M1747,1463 C1748,1461.7 1753,1458.5 1753,1455 C1753,1451.5 1748.7,1445.5 1747,1442 C1745.3,1438.5 1743.7,1435.3 1743,1434M1830,1499 C1830.3,1497 1830.3,1491 1832,1487 C1833.7,1483 1837.7,1478 1840,1475 C1842.3,1472 1845,1470 1846,1469M1748,1541 C1749.2,1540.8 1753.7,1541.5 1755,1540 C1756.3,1538.5 1754.7,1533.8 1756,1532 C1757.3,1530.2 1761.8,1529.5 1763,1529M1802,1499 C1804.2,1499 1811.8,1500.2 1815,1499 C1818.2,1497.8 1818.8,1493 1821,1492 C1823.2,1491 1826.8,1492.8 1828,1493"/></defs>
<use href="#rb49" stroke="#2f3d58" stroke-width="3"/>
<use href="#rb49" stroke="#3d7cc9" stroke-width="1.5"/>
<defs><path id="rb50" d="M1771,1488 C1769.5,1488 1762,1489.3 1762,1488 C1762,1486.7 1768,1482.2 1771,1480 C1774,1477.8 1778.5,1475.8 1780,1475M1782,1527 C1781.7,1524.8 1780.5,1517.7 1780,1514 C1779.5,1510.3 1778,1507.3 1779,1505 C1780,1502.7 1784.8,1500.8 1786,1500M1803,1517 C1804.5,1517.7 1808.7,1519.8 1812,1521 C1815.3,1522.2 1823.2,1523 1823,1524 C1822.8,1525 1813,1526.5 1811,1527"/></defs>
<use href="#rb50" stroke="#2f3d58" stroke-width="3"/>
<use href="#rb50" stroke="#eef0f3" stroke-width="1.5"/>
<defs><path id="rb51" d="M1730.9 1484.8l19.2 6.1"/></defs>
<use href="#rb51" stroke="#2f3d58" stroke-width="6.1"/>
<use href="#rb51" stroke="#eef0f3" stroke-width="4.6"/>
<defs><path id="rb52" d="M1798.2 1478.3 1797.6 1487.5 1804.6 1481.5 1804 1490.7 1811 1484.8 1810.5 1493.9 1817.5 1488M1796.4 1528.5 1791.8 1536.8 1800.9 1534.1 1796.3 1542.4 1805.4 1539.7 1800.8 1548 1810 1545.3 1805.3 1553.6"/></defs>
<use href="#rb52" stroke="#2f3d58" stroke-width="5.1"/>
<use href="#rb52" stroke="#eef0f3" stroke-width="3.6"/>
<defs><path id="rb53" d="M1773.4 1531.8 1764.4 1536.7 1774.4 1539 1765.4 1543.8M1783.9 1493.9 1774.3 1496.7 1783.3 1501.1 1773.7 1503.9 1782.7 1508.2 1773.1 1511M1759.9 1516.8 1760.2 1525.3 1766.5 1519.7 1766.8 1528.1 1773.1 1522.6 1773.4 1531 1779.8 1525.4"/></defs>
<use href="#rb53" stroke="#2f3d58" stroke-width="5.1"/>
<use href="#rb53" stroke="#3d7cc9" stroke-width="3.6"/>
<defs><path id="rb54" d="M1788,1537 C1787.8,1534.5 1787.3,1526.5 1787,1522 C1786.7,1517.5 1786,1513.8 1786,1510 C1786,1506.2 1786.8,1500.8 1787,1499M1816,1502 C1816.7,1503.7 1818.3,1509.3 1820,1512 C1821.7,1514.7 1824.7,1515.8 1826,1518 C1827.3,1520.2 1827.7,1523.8 1828,1525M1750,1502 C1748.3,1503.5 1743.8,1509.8 1740,1511 C1736.2,1512.2 1730.2,1510.2 1727,1509 C1723.8,1507.8 1722,1504.8 1721,1504"/></defs>
<use href="#rb54" stroke="#2f3d58" stroke-width="3"/>
<use href="#rb54" stroke="#3d7cc9" stroke-width="1.5"/>
<defs><path id="rb55" d="M1793,1489 C1794.7,1488.8 1800,1488 1803,1488 C1806,1488 1808.7,1490 1811,1489 C1813.3,1488 1816,1483.2 1817,1482M1757,1488 C1756.2,1486.5 1754.7,1479.8 1752,1479 C1749.3,1478.2 1743,1480 1741,1483 C1739,1486 1740.2,1494.7 1740,1497M1744,1513 C1744,1511 1744.3,1504.3 1744,1501 C1743.7,1497.7 1743.2,1496.2 1742,1493 C1740.8,1489.8 1737.8,1483.8 1737,1482"/></defs>
<use href="#rb55" stroke="#2f3d58" stroke-width="3"/>
<use href="#rb55" stroke="#eef0f3" stroke-width="1.5"/>
</g>
<clipPath id="kc56"><path d="M1727,1577 C1734.5,1574.7 1756.3,1581 1768,1580 C1779.7,1579 1787.7,1571.8 1797,1571 C1806.3,1570.2 1819.2,1569.8 1824,1575 C1828.8,1580.2 1827.3,1594.7 1826,1602 C1824.7,1609.3 1823.2,1613.8 1816,1619 C1808.8,1624.2 1793.7,1631.3 1783,1633 C1772.3,1634.7 1761.3,1632.8 1752,1629 C1742.7,1625.2 1731.8,1615.8 1727,1610 C1722.2,1604.2 1723,1599.5 1723,1594 C1723,1588.5 1719.5,1579.3 1727,1577Z"/></clipPath>
<g fill="none" stroke-linecap="round" stroke-linejoin="round" clip-path="url(#kc56)">
<defs><path id="rb57" d="M1780.9 1599l6.9 23.6"/></defs>
<use href="#rb57" stroke="#2f3d58" stroke-width="6.1"/>
<use href="#rb57" stroke="#3d7cc9" stroke-width="4.6"/>
<defs><path id="rb58" d="M1811.6 1587.9l15.3 23.6"/></defs>
<use href="#rb58" stroke="#2f3d58" stroke-width="6.1"/>
<use href="#rb58" stroke="#eef0f3" stroke-width="4.6"/>
<defs><path id="rb59" d="M1747.4 1606.2 1743 1598 1740.2 1607 1735.8 1598.7 1733.1 1607.7 1728.6 1599.4"/></defs>
<use href="#rb59" stroke="#2f3d58" stroke-width="5.1"/>
<use href="#rb59" stroke="#3d7cc9" stroke-width="3.6"/>
<defs><path id="rb60" d="M1822,1587 C1820.8,1586.5 1814.7,1585.2 1815,1584 C1815.3,1582.8 1821.3,1580 1824,1580 C1826.7,1580 1829.8,1583.3 1831,1584M1783,1602 C1781.8,1603.3 1776.8,1607.5 1776,1610 C1775.2,1612.5 1778.5,1613.8 1778,1617 C1777.5,1620.2 1773.8,1627 1773,1629"/></defs>
<use href="#rb60" stroke="#2f3d58" stroke-width="3"/>
<use href="#rb60" stroke="#3d7cc9" stroke-width="1.5"/>
<defs><path id="rb61" d="M1763,1629 C1761.2,1629.8 1755.8,1632.5 1752,1634 C1748.2,1635.5 1743.7,1637.3 1740,1638 C1736.3,1638.7 1731.7,1638 1730,1638M1800,1576 C1799.3,1575 1796,1573 1796,1570 C1796,1567 1799.3,1562 1800,1558 C1800.7,1554 1800,1548 1800,1546"/></defs>
<use href="#rb61" stroke="#2f3d58" stroke-width="3"/>
<use href="#rb61" stroke="#eef0f3" stroke-width="1.5"/>
<defs><path id="rb62" d="M1760.4 1577.4l-4.7 21.1"/></defs>
<use href="#rb62" stroke="#2f3d58" stroke-width="6.1"/>
<use href="#rb62" stroke="#eef0f3" stroke-width="4.6"/>
<defs><path id="rb63" d="M1797.2 1575.8l-16.8 18.7"/></defs>
<use href="#rb63" stroke="#2f3d58" stroke-width="6.1"/>
<use href="#rb63" stroke="#3d7cc9" stroke-width="4.6"/>
<defs><path id="rb64" d="M1761.9 1613.4 1753.7 1609 1756.3 1617.9 1748.1 1613.6 1750.8 1622.5 1742.6 1618.1 1745.2 1627"/></defs>
<use href="#rb64" stroke="#2f3d58" stroke-width="5.1"/>
<use href="#rb64" stroke="#eef0f3" stroke-width="3.6"/>
<defs><path id="rb65" d="M1793.7 1576.8 1790.5 1586.4 1799.3 1581.4 1796 1591 1804.8 1585.9 1801.6 1595.6 1810.4 1590.5 1807.1 1600.1"/></defs>
<use href="#rb65" stroke="#2f3d58" stroke-width="5.1"/>
<use href="#rb65" stroke="#3d7cc9" stroke-width="3.6"/>
<defs><path id="rb66" d="M1775,1590 C1776.2,1588.5 1780.2,1584.2 1782,1581 C1783.8,1577.8 1783.8,1574.2 1786,1571 C1788.2,1567.8 1793.5,1563.5 1795,1562M1740,1585 C1742,1585.8 1749.3,1586.7 1752,1590 C1754.7,1593.3 1753.8,1601.3 1756,1605 C1758.2,1608.7 1763.5,1610.8 1765,1612"/></defs>
<use href="#rb66" stroke="#2f3d58" stroke-width="3"/>
<use href="#rb66" stroke="#3d7cc9" stroke-width="1.5"/>
<defs><path id="rb67" d="M1764,1602 C1763,1601.5 1760,1597.8 1758,1599 C1756,1600.2 1753.3,1605.2 1752,1609 C1750.7,1612.8 1750.3,1619.8 1750,1622"/></defs>
<use href="#rb67" stroke="#2f3d58" stroke-width="3"/>
<use href="#rb67" stroke="#eef0f3" stroke-width="1.5"/>
<defs><path id="rb68" d="M1808.8 1606.5l-6.9 14.5M1766.6 1609.4l13.9 6.4"/></defs>
<use href="#rb68" stroke="#2f3d58" stroke-width="6.1"/>
<use href="#rb68" stroke="#3d7cc9" stroke-width="4.6"/>
<defs><path id="rb69" d="M1772.7 1622.8l12 16.3"/></defs>
<use href="#rb69" stroke="#2f3d58" stroke-width="6.1"/>
<use href="#rb69" stroke="#eef0f3" stroke-width="4.6"/>
<defs><path id="rb70" d="M1778.2 1564 1775.9 1572.2 1783.7 1568.7 1781.3 1576.9 1789.1 1573.4 1786.7 1581.6 1794.5 1578.1"/></defs>
<use href="#rb70" stroke="#2f3d58" stroke-width="5.1"/>
<use href="#rb70" stroke="#eef0f3" stroke-width="3.6"/>
<defs><path id="rb71" d="M1800,1604 C1801.8,1602.5 1808.8,1597.8 1811,1595 C1813.2,1592.2 1813.7,1589.2 1813,1587 C1812.3,1584.8 1808,1582.8 1807,1582"/></defs>
<use href="#rb71" stroke="#2f3d58" stroke-width="3"/>
<use href="#rb71" stroke="#eef0f3" stroke-width="1.5"/>
<defs><path id="rb72" d="M1751,1605 C1749.7,1604.8 1745.7,1604 1743,1604 C1740.3,1604 1738.5,1605.5 1735,1605 C1731.5,1604.5 1724.2,1601.7 1722,1601"/></defs>
<use href="#rb72" stroke="#2f3d58" stroke-width="3"/>
<use href="#rb72" stroke="#3d7cc9" stroke-width="1.5"/>
</g>
<path d="M1772,1556 q-6,10 0,16 q5,6 -2,10" fill="none" stroke="#3b6fb5" stroke-width="1.8"/>
<clipPath id="kc73"><path d="M1926,1416 C1931.5,1410.5 1938.7,1418.8 1948,1414 C1957.3,1409.2 1973.7,1392.5 1982,1387 C1990.3,1381.5 1990.8,1380.3 1998,1381 C2005.2,1381.7 2020.2,1385.5 2025,1391 C2029.8,1396.5 2021.8,1409.5 2027,1414 C2032.2,1418.5 2047,1417.3 2056,1418 C2065,1418.7 2077.8,1413.2 2081,1418 C2084.2,1422.8 2079.2,1437.3 2075,1447 C2070.8,1456.7 2059.8,1468 2056,1476 C2052.2,1484 2054.3,1489.5 2052,1495 C2049.7,1500.5 2047.2,1506 2042,1509 C2036.8,1512 2026.2,1509.2 2021,1513 C2015.8,1516.8 2017.2,1527.8 2011,1532 C2004.8,1536.2 1991.7,1536.7 1984,1538 C1976.3,1539.3 1968.2,1541.3 1965,1540 C1961.8,1538.7 1968.5,1533 1965,1530 C1961.5,1527 1947.8,1526.8 1944,1522 C1940.2,1517.2 1945.3,1506.7 1942,1501 C1938.7,1495.3 1927.7,1493.5 1924,1488 C1920.3,1482.5 1921.5,1474.8 1920,1468 C1918.5,1461.2 1914,1455.7 1915,1447 C1916,1438.3 1920.5,1421.5 1926,1416Z"/></clipPath>
<g fill="none" stroke-linecap="round" stroke-linejoin="round" clip-path="url(#kc73)">
<defs><path id="rb74" d="M1950.7 1449.6l24.5 2.4M2037.2 1440.5l20.1 17.7M1924.4 1447.2l3.4 13.9M1957.1 1414.8l-4.9 24.8"/></defs>
<use href="#rb74" stroke="#2f3d58" stroke-width="6.1"/>
<use href="#rb74" stroke="#eef0f3" stroke-width="4.6"/>
<defs><path id="rb75" d="M2006 1489.9l-24.2 6.2M1992.6 1514.6l-2.2 24.7M2054.6 1472.3l-11 16.1M1963.8 1427.8l21.2 19.9M1977 1387.1l4.6 26"/></defs>
<use href="#rb75" stroke="#2f3d58" stroke-width="6.1"/>
<use href="#rb75" stroke="#3d7cc9" stroke-width="4.6"/>
<defs><path id="rb76" d="M1954.9 1476.6 1952.2 1485.2 1960.3 1481.3 1957.6 1489.9 1965.7 1486.1 1963 1494.7M2046.8 1424.6 2043.5 1432.7 2051.8 1429.7 2048.5 1437.9 2056.8 1434.9 2053.5 1443.1 2061.8 1440.1M1990.1 1451 1981.2 1445.3 1984.3 1455.3 1975.5 1449.6 1978.6 1459.7M2030.8 1467 2026.9 1474.9 2035.4 1472.5 2031.5 1480.5 2040 1478.1M1954.8 1496.8 1949.8 1488.4 1947.6 1498 1942.7 1489.5 1940.5 1499.1 1935.5 1490.7"/></defs>
<use href="#rb76" stroke="#2f3d58" stroke-width="5.1"/>
<use href="#rb76" stroke="#eef0f3" stroke-width="3.6"/>
<defs><path id="rb77" d="M2015 1455.5 2005.6 1454.5 2011.6 1461.9 2002.1 1460.9 2008.1 1468.2 1998.7 1467.2 2004.7 1474.5 1995.3 1473.5M2081.2 1430 2077.3 1420.8 2074 1430.2 2070.1 1421 2066.8 1430.4 2062.9 1421.2M1961.8 1514.8 1955.4 1508 1955 1517.3 1948.7 1510.5 1948.3 1519.9 1941.9 1513M2011.1 1416.9 2002.5 1417.2 2008.4 1423.5 1999.8 1423.9 2005.6 1430.2 1997 1430.6 2002.9 1436.9 1994.3 1437.2M1998.4 1492.9 1998.4 1503.4 2005.2 1495.4 2005.1 1505.9 2011.9 1498"/></defs>
<use href="#rb77" stroke="#2f3d58" stroke-width="5.1"/>
<use href="#rb77" stroke="#3d7cc9" stroke-width="3.6"/>
<defs><path id="rb78" d="M1944,1414 C1945.7,1414.7 1951.2,1416.7 1954,1418 C1956.8,1419.3 1959.5,1422.5 1961,1422 C1962.5,1421.5 1962.7,1416.2 1963,1415M1955,1461 C1956.7,1460.7 1961.7,1459.3 1965,1459 C1968.3,1458.7 1972.3,1459.7 1975,1459 C1977.7,1458.3 1980,1455.7 1981,1455M1958,1503 C1958.3,1501.3 1957.7,1494.2 1960,1493 C1962.3,1491.8 1970,1493.3 1972,1496 C1974,1498.7 1972,1506.8 1972,1509M1990,1513 C1990.7,1515.3 1994.5,1522.8 1994,1527 C1993.5,1531.2 1989.2,1535.5 1987,1538 C1984.8,1540.5 1982,1541.3 1981,1542M1971,1503 C1972.5,1502.5 1977.3,1501.2 1980,1500 C1982.7,1498.8 1984.2,1497.7 1987,1496 C1989.8,1494.3 1995.3,1491 1997,1490M1966,1474 C1964.8,1474.7 1962,1476.2 1959,1478 C1956,1479.8 1951.8,1482.8 1948,1485 C1944.2,1487.2 1938,1490 1936,1491"/></defs>
<use href="#rb78" stroke="#2f3d58" stroke-width="3"/>
<use href="#rb78" stroke="#3d7cc9" stroke-width="1.5"/>
<defs><path id="rb79" d="M1942,1427 C1943.5,1426 1947.8,1423.2 1951,1421 C1954.2,1418.8 1960.7,1416.5 1961,1414 C1961.3,1411.5 1954.3,1407.3 1953,1406"/></defs>
<use href="#rb79" stroke="#2f3d58" stroke-width="3"/>
<use href="#rb79" stroke="#eef0f3" stroke-width="1.5"/>
<defs><path id="rb80" d="M2039.5 1493.7l-11.6 18.9M1998.2 1408.1l16.2 1M1944.2 1438.6l-3.3 27.7"/></defs>
<use href="#rb80" stroke="#2f3d58" stroke-width="6.1"/>
<use href="#rb80" stroke="#3d7cc9" stroke-width="4.6"/>
<defs><path id="rb81" d="M2029.7 1417.6l-13.1 6.7M2026.3 1408.8l-12.8 10.6M1975 1474.7l-1.4 29.5M1992.5 1421.2l-15.6 9.7"/></defs>
<use href="#rb81" stroke="#2f3d58" stroke-width="6.1"/>
<use href="#rb81" stroke="#eef0f3" stroke-width="4.6"/>
<defs><path id="rb82" d="M2005 1483.8 2006.9 1493.7 2012.1 1485 2014 1495 2019.2 1486.3M1994.3 1507 1996.8 1515.4 2001.4 1508 2003.9 1516.4 2008.6 1508.9 2011.1 1517.3 2015.7 1509.9 2018.2 1518.3M1982.2 1513.7 1975.1 1508.4 1976 1517.3 1968.8 1512 1969.8 1520.9 1962.6 1515.6 1963.5 1524.5"/></defs>
<use href="#rb82" stroke="#2f3d58" stroke-width="5.1"/>
<use href="#rb82" stroke="#eef0f3" stroke-width="3.6"/>
<defs><path id="rb83" d="M2001.2 1442.1 1991.8 1441.7 1998.2 1448.6 1988.8 1448.2 1995.2 1455.1 1985.7 1454.7 1992.1 1461.7M1958.5 1408.1 1961.4 1416.5 1965.6 1408.7 1968.6 1417.1 1972.8 1409.3 1975.8 1417.7 1980 1409.8 1982.9 1418.2M1979.1 1434.4 1982.5 1443.1 1986.3 1434.6 1989.7 1443.3 1993.5 1434.8 1996.9 1443.5M1956.9 1401 1949.2 1405.2 1957.4 1408.2 1949.8 1412.4 1958 1415.4 1950.3 1419.6 1958.5 1422.6 1950.9 1426.8M1976.8 1500.6 1978 1508.9 1983.6 1502.7 1984.9 1511 1990.5 1504.8 1991.8 1513.1M2035.8 1486.4 2028.1 1482.4 2030.2 1490.8 2022.5 1486.8 2024.5 1495.2 2016.8 1491.2"/></defs>
<use href="#rb83" stroke="#2f3d58" stroke-width="5.1"/>
<use href="#rb83" stroke="#3d7cc9" stroke-width="3.6"/>
<defs><path id="rb84" d="M1931,1479 C1932.2,1477.7 1935.5,1473.5 1938,1471 C1940.5,1468.5 1945,1466.8 1946,1464 C1947,1461.2 1944.3,1455.7 1944,1454M1990,1410 C1987.8,1410.3 1980.5,1411.5 1977,1412 C1973.5,1412.5 1971.5,1411.8 1969,1413 C1966.5,1414.2 1963.2,1418 1962,1419M2005,1438 C2004.3,1436.3 2003.3,1428.8 2001,1428 C1998.7,1427.2 1993,1433.8 1991,1433 C1989,1432.2 1989.3,1424.7 1989,1423"/></defs>
<use href="#rb84" stroke="#2f3d58" stroke-width="3"/>
<use href="#rb84" stroke="#eef0f3" stroke-width="1.5"/>
<defs><path id="rb85" d="M1943,1475 C1940.7,1475 1933.3,1475.8 1929,1475 C1924.7,1474.2 1920,1469.2 1917,1470 C1914,1470.8 1912,1478.3 1911,1480M1970,1467 C1971.2,1465.8 1974,1462.7 1977,1460 C1980,1457.3 1983.7,1452.5 1988,1451 C1992.3,1449.5 2000.5,1451 2003,1451M2015,1400 C2015.8,1400.8 2018.3,1402.7 2020,1405 C2021.7,1407.3 2024.2,1410 2025,1414 C2025.8,1418 2025,1426.5 2025,1429M1970,1421 C1968.5,1422.7 1963.3,1427.5 1961,1431 C1958.7,1434.5 1955.8,1439.5 1956,1442 C1956.2,1444.5 1961,1445.3 1962,1446M2000,1385 C2001.5,1386 2008.8,1388.2 2009,1391 C2009.2,1393.8 2003.5,1399.5 2001,1402 C1998.5,1404.5 1995.2,1405.3 1994,1406M2000,1395 C2002.3,1394.5 2009.8,1392.8 2014,1392 C2018.2,1391.2 2024.3,1391 2025,1390 C2025.7,1389 2019.2,1386.7 2018,1386"/></defs>
<use href="#rb85" stroke="#2f3d58" stroke-width="3"/>
<use href="#rb85" stroke="#3d7cc9" stroke-width="1.5"/>
<defs><path id="rb86" d="M2046.8 1418l-13.6 6.9M2062.5 1441.3l-8.6 26.2"/></defs>
<use href="#rb86" stroke="#2f3d58" stroke-width="6.1"/>
<use href="#rb86" stroke="#eef0f3" stroke-width="4.6"/>
<defs><path id="rb87" d="M2007.3 1440.8l5.9 20.6M2068.3 1425.3l3.7 16.8M2039.4 1438.8l-23.3 17.7M1946.7 1429.3l21.7 11.8"/></defs>
<use href="#rb87" stroke="#2f3d58" stroke-width="6.1"/>
<use href="#rb87" stroke="#3d7cc9" stroke-width="4.6"/>
<defs><path id="rb88" d="M2014.5 1469.3 2005.8 1464 2008.8 1473.7 2000.1 1468.3 2003.1 1478.1 1994.4 1472.7 1997.4 1482.5 1988.7 1477.1M2042.8 1460.5 2045.7 1468.7 2049.9 1461.2 2052.8 1469.3 2057.1 1461.8 2060 1469.9M2003.8 1473.3 2005.3 1482.6 2010.8 1475 2012.3 1484.2M1934.3 1465.1 1926.3 1461.1 1928.8 1469.7 1920.8 1465.7 1923.2 1474.3 1915.2 1470.3"/></defs>
<use href="#rb88" stroke="#2f3d58" stroke-width="5.1"/>
<use href="#rb88" stroke="#3d7cc9" stroke-width="3.6"/>
<defs><path id="rb89" d="M2052.6 1468.5 2046.4 1460.7 2045.7 1470.6 2039.5 1462.8 2038.8 1472.7 2032.6 1465 2031.9 1474.9M1966.9 1518.6 1965.6 1527.7 1973 1522.3 1971.7 1531.4 1979.2 1526.1 1977.9 1535.1M1936.7 1485.7 1928.1 1487.8 1935.5 1492.8 1926.9 1494.9 1934.2 1499.9M1938.7 1422.5 1932.1 1416.2 1932.1 1425.3 1925.5 1419 1925.5 1428.1 1918.9 1421.8 1918.9 1430.9 1912.3 1424.6M1945.6 1447.1 1936.8 1450.8 1945.6 1454.3 1936.9 1458 1945.7 1461.5 1937 1465.2 1945.8 1468.7 1937 1472.4"/></defs>
<use href="#rb89" stroke="#2f3d58" stroke-width="5.1"/>
<use href="#rb89" stroke="#eef0f3" stroke-width="3.6"/>
<defs><path id="rb90" d="M2024,1437 C2021.8,1438.2 2011.7,1441.5 2011,1444 C2010.3,1446.5 2018.5,1449.3 2020,1452 C2021.5,1454.7 2020,1458.7 2020,1460M1978,1475 C1979.8,1474.8 1986.5,1475.7 1989,1474 C1991.5,1472.3 1993.3,1468.3 1993,1465 C1992.7,1461.7 1988,1455.8 1987,1454M1922,1438 C1919.7,1437.3 1910.3,1436.3 1908,1434 C1905.7,1431.7 1909,1426.8 1908,1424 C1907,1421.2 1903,1418.2 1902,1417M2045,1489 C2043.7,1488 2039.7,1485.8 2037,1483 C2034.3,1480.2 2032.2,1474.5 2029,1472 C2025.8,1469.5 2019.8,1468.7 2018,1468M2051,1421 C2050.2,1418.8 2045.7,1411.8 2046,1408 C2046.3,1404.2 2054.2,1399.8 2053,1398 C2051.8,1396.2 2041.3,1397.2 2039,1397M1992,1466 C1994.3,1465.2 2002.3,1462.7 2006,1461 C2009.7,1459.3 2011.2,1457.8 2014,1456 C2016.8,1454.2 2021.5,1451 2023,1450"/></defs>
<use href="#rb90" stroke="#2f3d58" stroke-width="3"/>
<use href="#rb90" stroke="#3d7cc9" stroke-width="1.5"/>
<defs><path id="rb91" d="M2034,1436 C2033.5,1434.8 2033,1431 2031,1429 C2029,1427 2024.5,1426.5 2022,1424 C2019.5,1421.5 2017,1415.7 2016,1414M1940,1435 C1941.3,1436.5 1945.2,1442.3 1948,1444 C1950.8,1445.7 1955,1443 1957,1445 C1959,1447 1959.5,1454.2 1960,1456M2023,1466 C2024.7,1465.7 2030.3,1466.3 2033,1464 C2035.7,1461.7 2036,1453.2 2039,1452 C2042,1450.8 2049,1456.2 2051,1457M2019,1505 C2019.2,1506.3 2020.5,1510.5 2020,1513 C2019.5,1515.5 2017.7,1517.5 2016,1520 C2014.3,1522.5 2011,1526.7 2010,1528"/></defs>
<use href="#rb91" stroke="#2f3d58" stroke-width="3"/>
<use href="#rb91" stroke="#eef0f3" stroke-width="1.5"/>
</g>
<path d="M1886.3,1459.4 l8,-1 l4,-6 l6,2 l6,-6 l5,-1" fill="none" stroke="#777" stroke-width="1.3"/>
<text x="6" y="1706.7" font-size="32" font-weight="bold" fill="#000">l</text>
<text x="50.4" y="1709.5"><tspan font-style="italic">S. cerevisiae</tspan> chromosome III</text>
<rect x="389" y="1698" width="12.4" height="12.4" fill="#dcdddf" stroke="#999" stroke-width="1"/>
<text x="411.1" y="1709.5">Gene called by GeneMark</text>
<rect x="695.5" y="1698" width="12.4" height="12.4" fill="#0d4f97" stroke="#333" stroke-width="1"/>
<text x="716.8" y="1709.5">Gene called by GeneMark with Pfam hit</text>
<text x="141.6" y="1746.9" text-anchor="end">Gene</text>
<text x="141.6" y="1782.3" text-anchor="end">Intron</text>
<text x="141.6" y="1813.8" text-anchor="end">Promoter</text>
<text x="141.6" y="1847.2" text-anchor="end">tRNA</text>
<line x1="153" y1="1741.2" x2="2023" y2="1741.2" stroke="#333" stroke-width="1.3"/>
<line x1="153" y1="1775.4" x2="2023" y2="1775.4" stroke="#333" stroke-width="1.3"/>
<line x1="153" y1="1808.2" x2="2023" y2="1808.2" stroke="#333" stroke-width="1.3"/>
<line x1="153" y1="1841" x2="2023" y2="1841" stroke="#333" stroke-width="1.3"/>
<path d="M226.5 1729.2L220 1741.2L226.5 1753.2ZM395.9 1729.2L387.7 1741.2L395.9 1753.2ZM399.5 1729.2L396.5 1741.2L399.5 1753.2Z" fill="#dcdddf" stroke="#a8aaad" stroke-width="1.1" stroke-linejoin="miter"/>
<path d="M160.4 1729.2H166.5L176 1741.2L166.5 1753.2H160.4ZM202.6 1729.2H200.5L191 1741.2L200.5 1753.2H202.6ZM209.6 1729.2H210L219.5 1741.2L210 1753.2H209.6ZM230.7 1729.2L225.7 1741.2L230.7 1753.2ZM253.8 1729.2L246.3 1741.2L253.8 1753.2ZM253.8 1729.2L262.5 1741.2L253.8 1753.2ZM284.1 1729.2H273L263.5 1741.2L273 1753.2H284.1ZM291.5 1729.2L284.8 1741.2L291.5 1753.2ZM297 1729.2L293.5 1741.2L297 1753.2ZM299 1729.2H302.5L312 1741.2L302.5 1753.2H299ZM317.1 1729.2L325.1 1741.2L317.1 1753.2ZM338 1729.2H344.7L354.2 1741.2L344.7 1753.2H338ZM362.9 1729.2L354.2 1741.2L362.9 1753.2ZM363.6 1729.2H365.3L374.8 1741.2L365.3 1753.2H363.6ZM383 1729.2L374.8 1741.2L383 1753.2ZM400.9 1729.2L410.3 1741.2L400.9 1753.2ZM416.3 1729.2L410.3 1741.2L416.3 1753.2ZM430.7 1729.2H425.8L416.3 1741.2L425.8 1753.2H430.7ZM439.4 1729.2L430.7 1741.2L439.4 1753.2ZM450.6 1729.2H448.9L439.4 1741.2L448.9 1753.2H450.6ZM451.8 1729.2H453L462.5 1741.2L453 1753.2H451.8ZM462.5 1729.2H468.4L477.9 1741.2L468.4 1753.2H462.5ZM487.8 1729.2H487.4L477.9 1741.2L487.4 1753.2H487.8ZM501.5 1729.2L492.8 1741.2L501.5 1753.2ZM501.5 1729.2H503.2L512.7 1741.2L503.2 1753.2H501.5ZM512.7 1729.2H514.4L523.9 1741.2L514.4 1753.2H512.7ZM526.3 1729.2L533.8 1741.2L526.3 1753.2ZM540.5 1729.2L533.8 1741.2L540.5 1753.2ZM557.4 1729.2H552L542.5 1741.2L552 1753.2H557.4ZM566.8 1729.2L558.6 1741.2L566.8 1753.2ZM566.8 1729.2L575.3 1741.2L566.8 1753.2ZM578.5 1729.2L587.2 1741.2L578.5 1753.2ZM591 1729.2L587.2 1741.2L591 1753.2ZM599.1 1729.2L594.7 1741.2L599.1 1753.2ZM614.5 1729.2H611.1L601.6 1741.2L611.1 1753.2H614.5ZM613.7 1729.2H611.5L602 1741.2L611.5 1753.2H613.7ZM620.4 1729.2H630.3L639.8 1741.2L630.3 1753.2H620.4ZM655.2 1729.2H678.7L688.2 1741.2L678.7 1753.2H655.2ZM692.4 1729.2L699.9 1741.2L692.4 1753.2ZM719.3 1729.2H709.4L699.9 1741.2L709.4 1753.2H719.3ZM721 1729.2H741.5L751 1741.2L741.5 1753.2H721ZM764.5 1729.2H760.5L751 1741.2L760.5 1753.2H764.5ZM770.2 1729.2L765.2 1741.2L770.2 1753.2ZM776.9 1729.2L771.4 1741.2L776.9 1753.2ZM785.1 1729.2L776.9 1741.2L785.1 1753.2ZM790.8 1729.2L796.3 1741.2L790.8 1753.2ZM797.5 1729.2L806.7 1741.2L797.5 1753.2ZM813.2 1729.2L818.1 1741.2L813.2 1753.2ZM824.3 1729.2L827.3 1741.2L824.3 1753.2ZM852.2 1729.2H849.7L840.2 1741.2L849.7 1753.2H852.2ZM852.2 1729.2L858.4 1741.2L852.2 1753.2ZM864.6 1729.2L858.4 1741.2L864.6 1753.2ZM876.3 1729.2H875.3L865.8 1741.2L875.3 1753.2H876.3ZM902.6 1729.2L896.9 1741.2L902.6 1753.2ZM911.8 1729.2H913.5L923 1741.2L913.5 1753.2H911.8ZM930.4 1729.2L923 1741.2L930.4 1753.2ZM939.9 1729.2L932.9 1741.2L939.9 1753.2ZM961.5 1729.2H952.4L942.9 1741.2L952.4 1753.2H961.5ZM966.5 1729.2L975.2 1741.2L966.5 1753.2ZM986.3 1729.2H984.7L975.2 1741.2L984.7 1753.2H986.3ZM993.8 1729.2L987.1 1741.2L993.8 1753.2ZM1001.2 1729.2L1007.5 1741.2L1001.2 1753.2ZM1025.6 1729.2H1017L1007.5 1741.2L1017 1753.2H1025.6ZM1055.9 1729.2L1063.4 1741.2L1055.9 1753.2ZM1068.3 1729.2L1063.4 1741.2L1068.3 1753.2ZM1080 1729.2L1073.3 1741.2L1080 1753.2ZM1060 1729.2L1065 1741.2L1060 1753.2ZM1070 1729.2L1065 1741.2L1070 1753.2ZM1081.9 1729.2L1074.9 1741.2L1081.9 1753.2ZM1101 1729.2H1098.8L1089.3 1741.2L1098.8 1753.2H1101ZM1112.2 1729.2H1111.7L1102.2 1741.2L1111.7 1753.2H1112.2ZM1136.5 1729.2H1131.6L1122.1 1741.2L1131.6 1753.2H1136.5ZM1146.5 1729.2L1141.5 1741.2L1146.5 1753.2ZM1173 1729.2H1171.9L1162.4 1741.2L1171.9 1753.2H1173ZM1196.1 1729.2H1184.3L1174.8 1741.2L1184.3 1753.2H1196.1ZM1201.1 1729.2L1203.6 1741.2L1201.1 1753.2ZM1213.3 1729.2H1267.9L1277.4 1741.2L1267.9 1753.2H1213.3ZM1293.5 1729.2L1286.1 1741.2L1293.5 1753.2ZM1293.5 1729.2L1301 1741.2L1293.5 1753.2ZM1318.4 1729.2H1310.5L1301 1741.2L1310.5 1753.2H1318.4ZM1332 1729.2H1329.1L1319.6 1741.2L1329.1 1753.2H1332ZM1336.2 1729.2L1332 1741.2L1336.2 1753.2ZM1381.7 1729.2H1350.2L1340.7 1741.2L1350.2 1753.2H1381.7ZM1404.1 1729.2H1392L1382.5 1741.2L1392 1753.2H1404.1ZM1404.1 1729.2H1407L1416.5 1741.2L1407 1753.2H1404.1ZM1417 1729.2L1422.7 1741.2L1417 1753.2ZM1422.7 1729.2H1423.2L1432.7 1741.2L1423.2 1753.2H1422.7ZM1432.7 1729.2H1434.4L1443.9 1741.2L1434.4 1753.2H1432.7ZM1453.8 1729.2H1453.4L1443.9 1741.2L1453.4 1753.2H1453.8ZM1479.9 1729.2H1463.3L1453.8 1741.2L1463.3 1753.2H1479.9ZM1480 1729.2L1483.5 1741.2L1480 1753.2ZM1485.4 1729.2H1519L1528.5 1741.2L1519 1753.2H1485.4ZM1549.4 1729.2H1539.5L1530 1741.2L1539.5 1753.2H1549.4ZM1555.4 1729.2H1561.9L1571.4 1741.2L1561.9 1753.2H1555.4ZM1585.1 1729.2L1576.1 1741.2L1585.1 1753.2ZM1611.5 1729.2H1595.9L1586.4 1741.2L1595.9 1753.2H1611.5ZM1611.5 1729.2L1619.3 1741.2L1611.5 1753.2ZM1625.8 1729.2L1619.3 1741.2L1625.8 1753.2ZM1632.2 1729.2L1625.8 1741.2L1632.2 1753.2ZM1646.5 1729.2H1641.7L1632.2 1741.2L1641.7 1753.2H1646.5ZM1646.5 1729.2L1654.7 1741.2L1646.5 1753.2ZM1655.5 1729.2H1671.9L1681.4 1741.2L1671.9 1753.2H1655.5ZM1682.2 1729.2L1685 1741.2L1682.2 1753.2ZM1688.4 1729.2L1685 1741.2L1688.4 1753.2ZM1704.2 1729.2H1700L1690.5 1741.2L1700 1753.2H1704.2ZM1708.6 1729.2L1712 1741.2L1708.6 1753.2ZM1716.3 1729.2L1712 1741.2L1716.3 1753.2ZM1718.9 1729.2H1734.8L1744.3 1741.2L1734.8 1753.2H1718.9ZM1765.5 1729.2H1759.5L1750 1741.2L1759.5 1753.2H1765.5ZM1775.3 1729.2H1778L1787.5 1741.2L1778 1753.2H1775.3ZM1808.2 1729.2H1797L1787.5 1741.2L1797 1753.2H1808.2ZM1808.2 1729.2H1845.3L1854.8 1741.2L1845.3 1753.2H1808.2ZM1862.6 1729.2L1854.8 1741.2L1862.6 1753.2ZM1900.6 1729.2H1894.6L1885.1 1741.2L1894.6 1753.2H1900.6ZM1917.7 1729.2L1908.4 1741.2L1917.7 1753.2ZM1944.1 1729.2H1939.4L1929.9 1741.2L1939.4 1753.2H1944.1ZM1958.3 1729.2L1951.3 1741.2L1958.3 1753.2ZM1971.2 1729.2L1974.6 1741.2L1971.2 1753.2ZM1978.5 1729.2L1986 1741.2L1978.5 1753.2ZM1989.4 1729.2H1996.2L2005.7 1741.2L1996.2 1753.2H1989.4ZM2007 1729.2H2010.9L2020.4 1741.2L2010.9 1753.2H2007Z" fill="#0d4f97" stroke="#1d2633" stroke-width="1.1" stroke-linejoin="miter"/>
<path d="M163.6 1762.4L169.8 1775.4L163.6 1788.4ZM713 1762.4L709.3 1775.4L713 1788.4ZM756.5 1762.4L752.8 1775.4L756.5 1788.4ZM847.2 1762.4L841 1775.4L847.2 1788.4ZM1180.5 1762.4L1175.5 1775.4L1180.5 1788.4ZM1251.3 1762.4L1256.3 1775.4L1251.3 1788.4ZM1373 1762.4L1366.8 1775.4L1373 1788.4ZM1496.5 1762.4L1502.2 1775.4L1496.5 1788.4ZM1504.7 1762.4L1507.2 1775.4L1504.7 1788.4ZM1517.1 1762.4L1520.9 1775.4L1517.1 1788.4ZM1563.1 1762.4L1565.7 1775.4L1563.1 1788.4ZM1729.3 1762.4L1735 1775.4L1729.3 1788.4ZM1755.2 1762.4L1751.3 1775.4L1755.2 1788.4ZM1762.4 1762.4L1756.5 1775.4L1762.4 1788.4ZM1843.9 1762.4L1847.8 1775.4L1843.9 1788.4ZM1900.1 1762.4H1896.4L1888.4 1775.4L1896.4 1788.4H1900.1ZM2013.4 1762.4L2020.4 1775.4L2013.4 1788.4Z" fill="#4b93cc" stroke="#1d2633" stroke-width="1.1"/>
<path d="M662.1 1762.4V1788.4M1374.5 1762.4V1788.4M1392.6 1762.4V1788.4M1396.9 1762.4V1788.4M1472.9 1762.4V1788.4M1740.8 1762.4V1788.4M1742.9 1762.4V1788.4M1933.1 1762.4V1788.4M1940.5 1762.4V1788.4" stroke="#1d2633" stroke-width="1.6"/>
<path d="M208.3 1797.3h5.6v21.8h-5.6ZM248.8 1797.3h5.6v21.8h-5.6ZM264.7 1797.3h5.6v21.8h-5.6ZM282.9 1797.3h5.6v21.8h-5.6ZM292 1797.3h5.6v21.8h-5.6ZM301 1797.3h5.6v21.8h-5.6ZM316.9 1797.3h5.6v21.8h-5.6ZM323.9 1797.3h5.6v21.8h-5.6ZM333 1797.3h5.6v21.8h-5.6ZM371.6 1797.3h5.6v21.8h-5.6ZM382.7 1797.3h5.6v21.8h-5.6ZM393.9 1797.3h5.6v21.8h-5.6ZM407.6 1797.3h5.6v21.8h-5.6ZM428.2 1797.3h5.6v21.8h-5.6ZM448.6 1797.3h5.6v21.8h-5.6ZM460 1797.3h5.6v21.8h-5.6ZM489.8 1797.3h5.6v21.8h-5.6ZM496.5 1797.3h5.6v21.8h-5.6ZM514.4 1797.3h5.6v21.8h-5.6ZM535 1797.3h5.6v21.8h-5.6ZM546.7 1797.3h5.6v21.8h-5.6ZM582.7 1797.3h5.6v21.8h-5.6ZM611.9 1797.3h5.6v21.8h-5.6ZM639.3 1797.3h5.6v21.8h-5.6ZM652.7 1797.3h5.6v21.8h-5.6ZM680 1797.3h5.6v21.8h-5.6ZM684.5 1797.3h5.6v21.8h-5.6ZM707.3 1797.3h5.6v21.8h-5.6ZM727.5 1797.3h5.6v21.8h-5.6ZM775.2 1797.3h5.6v21.8h-5.6ZM841.5 1797.3h5.6v21.8h-5.6ZM848 1797.3h5.6v21.8h-5.6ZM913.5 1797.3h5.6v21.8h-5.6ZM936.2 1797.3h5.6v21.8h-5.6ZM968.2 1797.3h5.6v21.8h-5.6ZM995 1797.3h5.6v21.8h-5.6ZM1036.5 1797.3h5.6v21.8h-5.6ZM1047.2 1797.3h5.6v21.8h-5.6ZM1090.6 1797.3h5.6v21.8h-5.6ZM1127.1 1797.3h5.6v21.8h-5.6ZM1156.9 1797.3h5.6v21.8h-5.6ZM1161.9 1797.3h5.6v21.8h-5.6ZM1213.3 1797.3h5.6v21.8h-5.6ZM1267.5 1797.3h5.6v21.8h-5.6ZM1272.4 1797.3h5.6v21.8h-5.6ZM1290.6 1797.3h5.6v21.8h-5.6ZM1322.6 1797.3h5.6v21.8h-5.6ZM1340.2 1797.3h5.6v21.8h-5.6ZM1378.8 1797.3h5.6v21.8h-5.6ZM1440.1 1797.3h5.6v21.8h-5.6ZM1458.3 1797.3h5.6v21.8h-5.6ZM1465.5 1797.3h5.6v21.8h-5.6ZM1483.1 1797.3h5.6v21.8h-5.6ZM1510.4 1797.3h5.6v21.8h-5.6ZM1537.2 1797.3h5.6v21.8h-5.6ZM1555.9 1797.3h5.6v21.8h-5.6ZM1562.3 1797.3h5.6v21.8h-5.6ZM1592.1 1797.3h5.6v21.8h-5.6ZM1603.2 1797.3h5.6v21.8h-5.6ZM1612.3 1797.3h5.6v21.8h-5.6ZM1651.1 1797.3h5.6v21.8h-5.6ZM1673.6 1797.3h5.6v21.8h-5.6ZM1687.3 1797.3h5.6v21.8h-5.6ZM1694.3 1797.3h5.6v21.8h-5.6ZM1710.4 1797.3h5.6v21.8h-5.6ZM1725.9 1797.3h5.6v21.8h-5.6ZM1733.2 1797.3h5.6v21.8h-5.6ZM1775.3 1797.3h5.6v21.8h-5.6ZM1830.2 1797.3h5.6v21.8h-5.6ZM1839.2 1797.3h5.6v21.8h-5.6ZM1880.2 1797.3h5.6v21.8h-5.6ZM1900.6 1797.3h5.6v21.8h-5.6ZM1923.4 1797.3h5.6v21.8h-5.6ZM1941.6 1797.3h5.6v21.8h-5.6ZM1948.2 1797.3h5.6v21.8h-5.6ZM1953.3 1797.3h5.6v21.8h-5.6ZM1991.5 1797.3h5.6v21.8h-5.6Z" fill="#a5a6a9" stroke="#1f1f1f" stroke-width="1.1"/>
<path d="M640.5 1828.5V1853.5M689.9 1828.5V1853.5M883.2 1828.5V1853.5M907.6 1828.5V1853.5M996.3 1828.5V1853.5M1038.5 1828.5V1853.5M1046.7 1828.5V1853.5M1147.5 1828.5V1853.5M1499.7 1828.5V1853.5M1898.8 1828.5V1853.5" stroke="#1a1a1a" stroke-width="1.7"/>
<text x="50.4" y="1880.6">Evo 2-generated eukaryotic chromosome (<tspan font-style="italic">S. cerevisiae</tspan> chromosome III prompt, Evo 2 40B)</text>
<text x="141.6" y="1922" text-anchor="end">Gene</text>
<text x="141.6" y="1953.4" text-anchor="end">Intron</text>
<text x="141.6" y="1984.5" text-anchor="end">Promoter</text>
<text x="141.6" y="2016.3" text-anchor="end">tRNA</text>
<line x1="153" y1="1916.9" x2="2023" y2="1916.9" stroke="#333" stroke-width="1.3"/>
<line x1="153" y1="1949.2" x2="2023" y2="1949.2" stroke="#333" stroke-width="1.3"/>
<line x1="153" y1="1979.2" x2="2023" y2="1979.2" stroke="#333" stroke-width="1.3"/>
<line x1="153" y1="2010.5" x2="2023" y2="2010.5" stroke="#333" stroke-width="1.3"/>
<path d="M1462.5 1904.9L1457.5 1916.9L1462.5 1928.9ZM1473.7 1904.9H1480.8L1490.3 1916.9L1480.8 1928.9H1473.7ZM1547.6 1904.9H1556.7L1566.2 1916.9L1556.7 1928.9H1547.6ZM1638.2 1904.9L1633.5 1916.9L1638.2 1928.9ZM1706 1904.9H1697.4L1687.9 1916.9L1697.4 1928.9H1706ZM1715.8 1904.9L1709.9 1916.9L1715.8 1928.9ZM1728.8 1904.9H1729.6L1739.1 1916.9L1729.6 1928.9H1728.8ZM1756.4 1904.9H1753L1743.5 1916.9L1753 1928.9H1756.4ZM1766 1904.9L1757.2 1916.9L1766 1928.9ZM1858.2 1904.9H1859.5L1869 1916.9L1859.5 1928.9H1858.2ZM1870.3 1904.9L1879.4 1916.9L1870.3 1928.9ZM1946.1 1904.9H1952.2L1961.7 1916.9L1952.2 1928.9H1946.1ZM1985.5 1904.9L1988.6 1916.9L1985.5 1928.9ZM1997.9 1904.9L1990.7 1916.9L1997.9 1928.9Z" fill="#dcdddf" stroke="#a8aaad" stroke-width="1.1" stroke-linejoin="miter"/>
<path d="M152.4 1904.9L156.1 1916.9L152.4 1928.9ZM164.8 1904.9H165.3L174.8 1916.9L165.3 1928.9H164.8ZM224 1904.9L231.4 1916.9L224 1928.9ZM232.4 1904.9L239.9 1916.9L232.4 1928.9ZM260.5 1904.9H258.3L248.8 1916.9L258.3 1928.9H260.5ZM294.5 1904.9H294.3L284.8 1916.9L294.3 1928.9H294.5ZM311.4 1904.9L317.6 1916.9L311.4 1928.9ZM325.1 1904.9L332.5 1916.9L325.1 1928.9ZM352.4 1904.9H344.5L335 1916.9L344.5 1928.9H352.4ZM374.8 1904.9H362.7L353.2 1916.9L362.7 1928.9H374.8ZM381.5 1904.9L375.5 1916.9L381.5 1928.9ZM387.2 1904.9L389.7 1916.9L387.2 1928.9ZM406.3 1904.9L413.3 1916.9L406.3 1928.9ZM417.8 1904.9H419.2L428.7 1916.9L419.2 1928.9H417.8ZM429.4 1904.9H441.5L451 1916.9L441.5 1928.9H429.4ZM467.5 1904.9L465.5 1916.9L467.5 1928.9ZM471.7 1904.9L479.1 1916.9L471.7 1928.9ZM513.9 1904.9L507.2 1916.9L513.9 1928.9ZM523.9 1904.9L533 1916.9L523.9 1928.9ZM536.3 1904.9L543.7 1916.9L536.3 1928.9ZM559.4 1904.9L561.1 1916.9L559.4 1928.9ZM586.7 1904.9H571.9L562.4 1916.9L571.9 1928.9H586.7ZM597.6 1904.9L590.2 1916.9L597.6 1928.9ZM610.4 1904.9L604.1 1916.9L610.4 1928.9ZM620.4 1904.9L624.8 1916.9L620.4 1928.9ZM629.8 1904.9L624.8 1916.9L629.8 1928.9ZM641 1904.9L648.4 1916.9L641 1928.9ZM660.1 1904.9H665.5L675 1916.9L665.5 1928.9H660.1ZM678.3 1904.9L687.5 1916.9L678.3 1928.9ZM694.4 1904.9L700.6 1916.9L694.4 1928.9ZM702.4 1904.9H705.3L714.8 1916.9L705.3 1928.9H702.4ZM733.4 1904.9H739.6L749.1 1916.9L739.6 1928.9H733.4ZM757.8 1904.9L749.1 1916.9L757.8 1928.9ZM770.9 1904.9L766 1916.9L770.9 1928.9ZM774.7 1904.9H887.9L897.4 1916.9L887.9 1928.9H774.7ZM905.6 1904.9L897.4 1916.9L905.6 1928.9ZM919.3 1904.9L926 1916.9L919.3 1928.9ZM926 1904.9L932.9 1916.9L926 1928.9ZM939.1 1904.9L946.6 1916.9L939.1 1928.9ZM946.6 1904.9L952.8 1916.9L946.6 1928.9ZM959 1904.9L964.7 1916.9L959 1928.9ZM969.7 1904.9H1001.2L1010.7 1916.9L1001.2 1928.9H969.7ZM1012.4 1904.9L1014.4 1916.9L1012.4 1928.9ZM1016.9 1904.9L1021.9 1916.9L1016.9 1928.9ZM1028.6 1904.9L1031.8 1916.9L1028.6 1928.9ZM1036 1904.9H1037.7L1047.2 1916.9L1037.7 1928.9H1036ZM1050.2 1904.9L1057.1 1916.9L1050.2 1928.9ZM1068.3 1904.9H1074.1L1083.6 1916.9L1074.1 1928.9H1068.3ZM1095.3 1904.9H1093.1L1083.6 1916.9L1093.1 1928.9H1095.3ZM1102.2 1904.9H1104.7L1114.2 1916.9L1104.7 1928.9H1102.2ZM1132 1904.9H1127.9L1118.4 1916.9L1127.9 1928.9H1132ZM1132 1904.9L1139 1916.9L1132 1928.9ZM1143.2 1904.9L1151.9 1916.9L1143.2 1928.9ZM1170.6 1904.9H1161.4L1151.9 1916.9L1161.4 1928.9H1170.6ZM1176.3 1904.9L1181.7 1916.9L1176.3 1928.9ZM1199.1 1904.9H1191.2L1181.7 1916.9L1191.2 1928.9H1199.1ZM1233.9 1904.9L1227.7 1916.9L1233.9 1928.9ZM1255 1904.9H1245.9L1236.4 1916.9L1245.9 1928.9H1255ZM1278.6 1904.9H1265.8L1256.3 1916.9L1265.8 1928.9H1278.6ZM1279.9 1904.9H1282.8L1292.3 1916.9L1282.8 1928.9H1279.9ZM1310.4 1904.9H1301.8L1292.3 1916.9L1301.8 1928.9H1310.4ZM1319.1 1904.9H1321.8L1331.3 1916.9L1321.8 1928.9H1319.1ZM1339.5 1904.9H1344.9L1354.4 1916.9L1344.9 1928.9H1339.5ZM1357.4 1904.9L1365.6 1916.9L1357.4 1928.9ZM1371.3 1904.9L1365.6 1916.9L1371.3 1928.9ZM1374.3 1904.9L1376 1916.9L1374.3 1928.9ZM1384.2 1904.9H1395.8L1405.3 1916.9L1395.8 1928.9H1384.2ZM1426.5 1904.9L1435.2 1916.9L1426.5 1928.9ZM1446.3 1904.9H1444.7L1435.2 1916.9L1444.7 1928.9H1446.3ZM1452.6 1904.9L1447.6 1916.9L1452.6 1928.9ZM1472.4 1904.9L1466.2 1916.9L1472.4 1928.9ZM1494.3 1904.9H1497.7L1507.2 1916.9L1497.7 1928.9H1494.3ZM1520.1 1904.9L1512.2 1916.9L1520.1 1928.9ZM1520.1 1904.9L1525.8 1916.9L1520.1 1928.9ZM1529.6 1904.9H1534.7L1544.2 1916.9L1534.7 1928.9H1529.6ZM1576.1 1904.9H1575.7L1566.2 1916.9L1575.7 1928.9H1576.1ZM1577.4 1904.9L1585.1 1916.9L1577.4 1928.9ZM1586.4 1904.9L1592.1 1916.9L1586.4 1928.9ZM1627 1904.9H1605.5L1596 1916.9L1605.5 1928.9H1627ZM1641.8 1904.9L1645 1916.9L1641.8 1928.9ZM1650.3 1904.9L1645.5 1916.9L1650.3 1928.9ZM1666.6 1904.9L1658.1 1916.9L1666.6 1928.9ZM1686.6 1904.9L1679.3 1916.9L1686.6 1928.9ZM1715.8 1904.9H1717.7L1727.2 1916.9L1717.7 1928.9H1715.8ZM1769.4 1904.9H1771.5L1781 1916.9L1771.5 1928.9H1769.4ZM1812.6 1904.9L1803.5 1916.9L1812.6 1928.9ZM1817.8 1904.9H1845.3L1854.8 1916.9L1845.3 1928.9H1817.8ZM1916.4 1904.9H1921.2L1930.7 1916.9L1921.2 1928.9H1916.4ZM1932.4 1904.9H1935.9L1945.4 1916.9L1935.9 1928.9H1932.4ZM1962.2 1904.9L1967.4 1916.9L1962.2 1928.9Z" fill="#0d4f97" stroke="#1d2633" stroke-width="1.1" stroke-linejoin="miter"/>
<path d="M437.6 1936.2L441.9 1949.2L437.6 1962.2ZM569.8 1936.2L566.1 1949.2L569.8 1962.2ZM737.9 1936.2L745.3 1949.2L737.9 1962.2ZM781.4 1936.2H790.8L798.8 1949.2L790.8 1962.2H781.4ZM825.6 1936.2L832.3 1949.2L825.6 1962.2ZM868.3 1936.2H870.8L878.8 1949.2L870.8 1962.2H868.3ZM890.2 1936.2L894.4 1949.2L890.2 1962.2ZM971.4 1936.2H976.6L984.6 1949.2L976.6 1962.2H971.4ZM1193.7 1936.2L1188 1949.2L1193.7 1962.2ZM1483.1 1936.2L1487.8 1949.2L1483.1 1962.2ZM1550.2 1936.2H1554.3L1562.3 1949.2L1554.3 1962.2H1550.2ZM1614.1 1936.2H1610L1602 1949.2L1610 1962.2H1614.1ZM1715.8 1936.2L1720.2 1949.2L1715.8 1962.2ZM1822.4 1936.2L1829.7 1949.2L1822.4 1962.2ZM1844.4 1936.2L1848.8 1949.2L1844.4 1962.2Z" fill="#4b93cc" stroke="#7d8791" stroke-width="1.1"/>
<path d="M1133 1936.2V1962.2M1304 1936.2V1962.2M1470.9 1936.2V1962.2M1696.1 1936.2V1962.2" stroke="#7d8791" stroke-width="1.6"/>
<path d="M188 1968.3h5.6v21.8h-5.6ZM212 1968.3h5.6v21.8h-5.6ZM217.5 1968.3h5.6v21.8h-5.6ZM243.6 1968.3h5.6v21.8h-5.6ZM264.2 1968.3h5.6v21.8h-5.6ZM270.4 1968.3h5.6v21.8h-5.6ZM299.5 1968.3h5.6v21.8h-5.6ZM306.5 1968.3h5.6v21.8h-5.6ZM316.4 1968.3h5.6v21.8h-5.6ZM333.8 1968.3h5.6v21.8h-5.6ZM351.9 1968.3h5.6v21.8h-5.6ZM358.1 1968.3h5.6v21.8h-5.6ZM366.8 1968.3h5.6v21.8h-5.6ZM381.7 1968.3h5.6v21.8h-5.6ZM387.2 1968.3h5.6v21.8h-5.6ZM417.8 1968.3h5.6v21.8h-5.6ZM427.8 1968.3h5.6v21.8h-5.6ZM439.4 1968.3h5.6v21.8h-5.6ZM467.5 1968.3h5.6v21.8h-5.6ZM485.8 1968.3h5.6v21.8h-5.6ZM497.8 1968.3h5.6v21.8h-5.6ZM517.1 1968.3h5.6v21.8h-5.6ZM522.6 1968.3h5.6v21.8h-5.6ZM527.6 1968.3h5.6v21.8h-5.6ZM551.2 1968.3h5.6v21.8h-5.6ZM556.7 1968.3h5.6v21.8h-5.6ZM599.6 1968.3h5.6v21.8h-5.6ZM605.8 1968.3h5.6v21.8h-5.6ZM618.3 1968.3h5.6v21.8h-5.6ZM619.4 1968.3h5.6v21.8h-5.6ZM624.8 1968.3h5.6v21.8h-5.6ZM657.9 1968.3h5.6v21.8h-5.6ZM665.8 1968.3h5.6v21.8h-5.6ZM670.8 1968.3h5.6v21.8h-5.6ZM689.4 1968.3h5.6v21.8h-5.6ZM728.7 1968.3h5.6v21.8h-5.6ZM736.1 1968.3h5.6v21.8h-5.6ZM741.1 1968.3h5.6v21.8h-5.6ZM766 1968.3h5.6v21.8h-5.6ZM771.4 1968.3h5.6v21.8h-5.6ZM800.7 1968.3h5.6v21.8h-5.6ZM814.9 1968.3h5.6v21.8h-5.6ZM829.8 1968.3h5.6v21.8h-5.6ZM844.2 1968.3h5.6v21.8h-5.6ZM868.3 1968.3h5.6v21.8h-5.6ZM915 1968.3h5.6v21.8h-5.6ZM920.5 1968.3h5.6v21.8h-5.6ZM938.4 1968.3h5.6v21.8h-5.6ZM957.8 1968.3h5.6v21.8h-5.6ZM969.7 1968.3h5.6v21.8h-5.6ZM986.3 1968.3h5.6v21.8h-5.6ZM991.8 1968.3h5.6v21.8h-5.6ZM1006.2 1968.3h5.6v21.8h-5.6ZM1052.2 1968.3h5.6v21.8h-5.6ZM1061.4 1968.3h5.6v21.8h-5.6ZM1076.5 1968.3h5.6v21.8h-5.6ZM1084.1 1968.3h5.6v21.8h-5.6ZM1120.9 1968.3h5.6v21.8h-5.6ZM1126.6 1968.3h5.6v21.8h-5.6ZM1156.9 1968.3h5.6v21.8h-5.6ZM1188 1968.3h5.6v21.8h-5.6ZM1193.7 1968.3h5.6v21.8h-5.6ZM1243.9 1968.3h5.6v21.8h-5.6ZM1255.8 1968.3h5.6v21.8h-5.6ZM1281.9 1968.3h5.6v21.8h-5.6ZM1292.3 1968.3h5.6v21.8h-5.6ZM1317.9 1968.3h5.6v21.8h-5.6ZM1323.3 1968.3h5.6v21.8h-5.6ZM1334.5 1968.3h5.6v21.8h-5.6ZM1372.6 1968.3h5.6v21.8h-5.6ZM1420.2 1968.3h5.6v21.8h-5.6ZM1445.1 1968.3h5.6v21.8h-5.6ZM1469.9 1968.3h5.6v21.8h-5.6ZM1495.3 1968.3h5.6v21.8h-5.6ZM1511.7 1968.3h5.6v21.8h-5.6ZM1521.6 1968.3h5.6v21.8h-5.6ZM1527.1 1968.3h5.6v21.8h-5.6ZM1532 1968.3h5.6v21.8h-5.6ZM1536.5 1968.3h5.6v21.8h-5.6ZM1545.5 1968.3h5.6v21.8h-5.6ZM1564.9 1968.3h5.6v21.8h-5.6ZM1576.1 1968.3h5.6v21.8h-5.6ZM1580.5 1968.3h5.6v21.8h-5.6ZM1589.5 1968.3h5.6v21.8h-5.6ZM1623.7 1968.3h5.6v21.8h-5.6ZM1647.8 1968.3h5.6v21.8h-5.6ZM1655.5 1968.3h5.6v21.8h-5.6ZM1662.5 1968.3h5.6v21.8h-5.6ZM1684.5 1968.3h5.6v21.8h-5.6ZM1713.7 1968.3h5.6v21.8h-5.6ZM1742.2 1968.3h5.6v21.8h-5.6ZM1765.5 1968.3h5.6v21.8h-5.6ZM1812.6 1968.3h5.6v21.8h-5.6ZM1819.8 1968.3h5.6v21.8h-5.6ZM1829.7 1968.3h5.6v21.8h-5.6ZM1854.3 1968.3h5.6v21.8h-5.6ZM1873.7 1968.3h5.6v21.8h-5.6ZM1885.9 1968.3h5.6v21.8h-5.6ZM1909.9 1968.3h5.6v21.8h-5.6ZM1922.1 1968.3h5.6v21.8h-5.6ZM1926.7 1968.3h5.6v21.8h-5.6ZM1943.2 1968.3h5.6v21.8h-5.6ZM1955.2 1968.3h5.6v21.8h-5.6ZM1985 1968.3h5.6v21.8h-5.6ZM1994 1968.3h5.6v21.8h-5.6Z" fill="#a5a6a9" stroke="#1f1f1f" stroke-width="1.1"/>
<path d="M398.9 1998V2023M1453 1998V2023M1592.6 1998V2023" stroke="#1a1a1a" stroke-width="1.7"/>
<line x1="153" y1="2034" x2="2026.4" y2="2034" stroke="#222" stroke-width="1.5"/>
<line x1="153" y1="2034" x2="153" y2="2042" stroke="#222" stroke-width="1.5"/>
<text x="153" y="2066.5" text-anchor="middle">1</text>
<line x1="301.6" y1="2034" x2="301.6" y2="2042" stroke="#222" stroke-width="1.5"/>
<text x="301.6" y="2066.5" text-anchor="middle">25</text>
<line x1="450.3" y1="2034" x2="450.3" y2="2042" stroke="#222" stroke-width="1.5"/>
<text x="450.3" y="2066.5" text-anchor="middle">50</text>
<line x1="599" y1="2034" x2="599" y2="2042" stroke="#222" stroke-width="1.5"/>
<text x="599" y="2066.5" text-anchor="middle">75</text>
<line x1="747.6" y1="2034" x2="747.6" y2="2042" stroke="#222" stroke-width="1.5"/>
<text x="747.6" y="2066.5" text-anchor="middle">100</text>
<line x1="896.2" y1="2034" x2="896.2" y2="2042" stroke="#222" stroke-width="1.5"/>
<text x="896.2" y="2066.5" text-anchor="middle">125</text>
<line x1="1044.9" y1="2034" x2="1044.9" y2="2042" stroke="#222" stroke-width="1.5"/>
<text x="1044.9" y="2066.5" text-anchor="middle">150</text>
<line x1="1193.5" y1="2034" x2="1193.5" y2="2042" stroke="#222" stroke-width="1.5"/>
<text x="1193.5" y="2066.5" text-anchor="middle">175</text>
<line x1="1342.2" y1="2034" x2="1342.2" y2="2042" stroke="#222" stroke-width="1.5"/>
<text x="1342.2" y="2066.5" text-anchor="middle">200</text>
<line x1="1490.8" y1="2034" x2="1490.8" y2="2042" stroke="#222" stroke-width="1.5"/>
<text x="1490.8" y="2066.5" text-anchor="middle">225</text>
<line x1="1639.5" y1="2034" x2="1639.5" y2="2042" stroke="#222" stroke-width="1.5"/>
<text x="1639.5" y="2066.5" text-anchor="middle">250</text>
<line x1="1788.1" y1="2034" x2="1788.1" y2="2042" stroke="#222" stroke-width="1.5"/>
<text x="1788.1" y="2066.5" text-anchor="middle">275</text>
<line x1="1936.8" y1="2034" x2="1936.8" y2="2042" stroke="#222" stroke-width="1.5"/>
<text x="1936.8" y="2066.5" text-anchor="middle">300</text>
<text x="1089.5" y="2095" text-anchor="middle">Genomic position (kb)</text>
</g>
</svg></body></html>
